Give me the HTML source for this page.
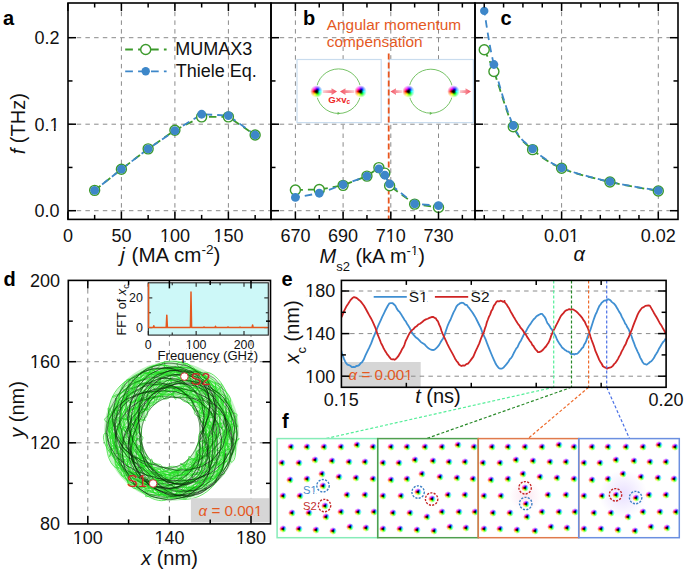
<!DOCTYPE html><html><head><meta charset="utf-8"><style>
html,body{margin:0;padding:0;background:#fff;}
#root{position:relative;width:685px;height:572px;overflow:hidden;background:#fff;font-family:"Liberation Sans", sans-serif;}
svg{position:absolute;left:0;top:0;}
svg text{font-family:"Liberation Sans", sans-serif;}
.sk{position:absolute;display:block;border-radius:50%;
background:radial-gradient(circle closest-side, #000 0%, rgba(0,0,0,0.88) 16%, rgba(0,0,0,0) 44%, rgba(255,255,255,0.2) 50%, rgba(255,255,255,1) 96%),
conic-gradient(#7a00ff 0deg, #0000ff 30deg, #00ffff 90deg, #00ff00 150deg, #ffff00 210deg, #ff0000 270deg, #ff00ff 330deg, #7a00ff 360deg);}
</style></head><body><div id="root"><svg width="685" height="572" viewBox="0 0 685 572"><line x1="68" y1="210.7" x2="271" y2="210.7" stroke="#8a8a8a" stroke-width="1" stroke-dasharray="4.5 4.2"/><line x1="68" y1="124.2" x2="271" y2="124.2" stroke="#8a8a8a" stroke-width="1" stroke-dasharray="4.5 4.2"/><line x1="68" y1="37.7" x2="271" y2="37.7" stroke="#8a8a8a" stroke-width="1" stroke-dasharray="4.5 4.2"/><line x1="121.4" y1="3" x2="121.4" y2="219.4" stroke="#8a8a8a" stroke-width="1" stroke-dasharray="4.5 4.2"/><line x1="174.9" y1="3" x2="174.9" y2="219.4" stroke="#8a8a8a" stroke-width="1" stroke-dasharray="4.5 4.2"/><line x1="228.4" y1="3" x2="228.4" y2="219.4" stroke="#8a8a8a" stroke-width="1" stroke-dasharray="4.5 4.2"/><polyline points="94.65,190.37 121.4,169.18 148.15,148.85 174.9,130.25 201.65,116.85 228.4,116.85 255.15,135.01" fill="none" stroke="#3c9a2c" stroke-width="1.8" stroke-dasharray="7.5 5" stroke-linejoin="round"/><polyline points="94.65,190.37 121.4,169.18 148.15,148.85 174.9,130.69 201.65,114.25 228.4,115.55 255.15,135.01" fill="none" stroke="#3d87c9" stroke-width="1.8" stroke-dasharray="7.5 5" stroke-linejoin="round" stroke-dashoffset="3"/><circle cx="94.65" cy="190.37" r="5" fill="#fff" stroke="#3c9a2c" stroke-width="1.4"/><circle cx="121.4" cy="169.18" r="5" fill="#fff" stroke="#3c9a2c" stroke-width="1.4"/><circle cx="148.15" cy="148.85" r="5" fill="#fff" stroke="#3c9a2c" stroke-width="1.4"/><circle cx="174.9" cy="130.25" r="5" fill="#fff" stroke="#3c9a2c" stroke-width="1.4"/><circle cx="201.65" cy="116.85" r="5" fill="#fff" stroke="#3c9a2c" stroke-width="1.4"/><circle cx="228.4" cy="116.85" r="5" fill="#fff" stroke="#3c9a2c" stroke-width="1.4"/><circle cx="255.15" cy="135.01" r="5" fill="#fff" stroke="#3c9a2c" stroke-width="1.4"/><circle cx="94.65" cy="190.37" r="4.4" fill="#3d87c9" stroke="none" stroke-width="1.3"/><circle cx="121.4" cy="169.18" r="4.4" fill="#3d87c9" stroke="none" stroke-width="1.3"/><circle cx="148.15" cy="148.85" r="4.4" fill="#3d87c9" stroke="none" stroke-width="1.3"/><circle cx="174.9" cy="130.69" r="4.4" fill="#3d87c9" stroke="none" stroke-width="1.3"/><circle cx="201.65" cy="114.25" r="4.4" fill="#3d87c9" stroke="none" stroke-width="1.3"/><circle cx="228.4" cy="115.55" r="4.4" fill="#3d87c9" stroke="none" stroke-width="1.3"/><circle cx="255.15" cy="135.01" r="4.4" fill="#3d87c9" stroke="none" stroke-width="1.3"/><line x1="125.2" y1="49.5" x2="166.6" y2="49.5" stroke="#3c9a2c" stroke-width="1.8" stroke-dasharray="7.7 5.2"/><circle cx="145.7" cy="49.5" r="5" fill="#fff" stroke="#3c9a2c" stroke-width="1.4"/><line x1="125.2" y1="71.3" x2="166.6" y2="71.3" stroke="#3d87c9" stroke-width="1.8" stroke-dasharray="7.7 5.2"/><circle cx="145.7" cy="71.3" r="4.2" fill="#3d87c9" stroke="none" stroke-width="1.3"/><text x="175.3" y="55.3" font-size="18" fill="#111">MUMAX3</text><text x="175.8" y="77.2" font-size="18" fill="#111">Thiele Eq.</text><line x1="67.9" y1="219.4" x2="67.9" y2="211.4" stroke="#000" stroke-width="1.5"/><line x1="67.9" y1="3" x2="67.9" y2="11" stroke="#000" stroke-width="1.5"/><line x1="121.4" y1="219.4" x2="121.4" y2="211.4" stroke="#000" stroke-width="1.5"/><line x1="121.4" y1="3" x2="121.4" y2="11" stroke="#000" stroke-width="1.5"/><line x1="174.9" y1="219.4" x2="174.9" y2="211.4" stroke="#000" stroke-width="1.5"/><line x1="174.9" y1="3" x2="174.9" y2="11" stroke="#000" stroke-width="1.5"/><line x1="228.4" y1="219.4" x2="228.4" y2="211.4" stroke="#000" stroke-width="1.5"/><line x1="228.4" y1="3" x2="228.4" y2="11" stroke="#000" stroke-width="1.5"/><line x1="94.65" y1="219.4" x2="94.65" y2="214.9" stroke="#000" stroke-width="1.5"/><line x1="94.65" y1="3" x2="94.65" y2="7.5" stroke="#000" stroke-width="1.5"/><line x1="148.15" y1="219.4" x2="148.15" y2="214.9" stroke="#000" stroke-width="1.5"/><line x1="148.15" y1="3" x2="148.15" y2="7.5" stroke="#000" stroke-width="1.5"/><line x1="201.65" y1="219.4" x2="201.65" y2="214.9" stroke="#000" stroke-width="1.5"/><line x1="201.65" y1="3" x2="201.65" y2="7.5" stroke="#000" stroke-width="1.5"/><line x1="255.15" y1="219.4" x2="255.15" y2="214.9" stroke="#000" stroke-width="1.5"/><line x1="255.15" y1="3" x2="255.15" y2="7.5" stroke="#000" stroke-width="1.5"/><line x1="68" y1="210.7" x2="76" y2="210.7" stroke="#000" stroke-width="1.5"/><line x1="68" y1="124.2" x2="76" y2="124.2" stroke="#000" stroke-width="1.5"/><line x1="68" y1="37.7" x2="76" y2="37.7" stroke="#000" stroke-width="1.5"/><line x1="68" y1="167.45" x2="72.5" y2="167.45" stroke="#000" stroke-width="1.5"/><line x1="68" y1="80.95" x2="72.5" y2="80.95" stroke="#000" stroke-width="1.5"/><text x="59.5" y="217.1" font-size="18" fill="#111" text-anchor="end">0.0</text><text x="59.5" y="130.6" font-size="18" fill="#111" text-anchor="end">0.1</text><text x="59.5" y="44.1" font-size="18" fill="#111" text-anchor="end">0.2</text><text x="67.9" y="241.8" font-size="18" fill="#111" text-anchor="middle">0</text><text x="121.4" y="241.8" font-size="18" fill="#111" text-anchor="middle">50</text><text x="174.9" y="241.8" font-size="18" fill="#111" text-anchor="middle">100</text><text x="228.4" y="241.8" font-size="18" fill="#111" text-anchor="middle">150</text><text x="3" y="25" font-size="20" fill="#000" font-weight="bold">a</text><text x="0" y="0" font-size="20" fill="#111" text-anchor="middle" transform="translate(25.3 123.7) rotate(-90)"><tspan font-style="italic">f</tspan> (THz)</text><text x="120.3" y="262.2" font-size="20.6" fill="#111"><tspan font-style="italic">j</tspan><tspan dx="1"> (MA cm</tspan><tspan dy="-8.5" font-size="13.5">-2</tspan><tspan dy="8.5">)</tspan></text><line x1="271" y1="210.7" x2="475" y2="210.7" stroke="#8a8a8a" stroke-width="1" stroke-dasharray="4.5 4.2"/><line x1="271" y1="124.2" x2="475" y2="124.2" stroke="#8a8a8a" stroke-width="1" stroke-dasharray="4.5 4.2"/><line x1="271" y1="37.7" x2="475" y2="37.7" stroke="#8a8a8a" stroke-width="1" stroke-dasharray="4.5 4.2"/><line x1="295.4" y1="3" x2="295.4" y2="219.4" stroke="#8a8a8a" stroke-width="1" stroke-dasharray="4.5 4.2"/><line x1="343.1" y1="3" x2="343.1" y2="219.4" stroke="#8a8a8a" stroke-width="1" stroke-dasharray="4.5 4.2"/><line x1="390.8" y1="3" x2="390.8" y2="219.4" stroke="#8a8a8a" stroke-width="1" stroke-dasharray="4.5 4.2"/><line x1="438.5" y1="3" x2="438.5" y2="219.4" stroke="#8a8a8a" stroke-width="1" stroke-dasharray="4.5 4.2"/><rect x="297" y="59.5" width="84.2" height="63.1" fill="#fff" stroke="#c9dcee" stroke-width="1.2"/><rect x="389.1" y="59.5" width="84.3" height="63.1" fill="#fff" stroke="#c9dcee" stroke-width="1.2"/><circle cx="338.6" cy="91.2" r="22.3" fill="none" stroke="#66bb55" stroke-width="0.9"/><circle cx="430.8" cy="91.2" r="22" fill="none" stroke="#66bb55" stroke-width="0.9"/><path d="M340.1,113.3 l-2.5,-1.6 l0,3.2z" fill="#66bb55"/><path d="M432.3,113.3 l-2.5,-1.6 l0,3.2z" fill="#66bb55"/><defs><linearGradient id="gR" x1="0" x2="1" y1="0" y2="0"><stop offset="0" stop-color="#f24a5a" stop-opacity="0.15"/><stop offset="1" stop-color="#f24a5a" stop-opacity="1"/></linearGradient><linearGradient id="gL" x1="1" x2="0" y1="0" y2="0"><stop offset="0" stop-color="#f24a5a" stop-opacity="0.15"/><stop offset="1" stop-color="#f24a5a" stop-opacity="1"/></linearGradient></defs><path d="M321,90.3 L331.5,90.3 L331.5,88.2 L337,91.6 L331.5,95 L331.5,92.9 L321,92.9 Z" fill="url(#gR)"/><path d="M356,90.3 L345.5,90.3 L345.5,88.2 L340,91.6 L345.5,95 L345.5,92.9 L356,92.9 Z" fill="url(#gL)"/><path d="M403,90.3 L396,90.3 L396,88.2 L390.5,91.6 L396,95 L396,92.9 L403,92.9 Z" fill="url(#gL)"/><path d="M458,90.3 L465.5,90.3 L465.5,88.2 L471,91.6 L465.5,95 L465.5,92.9 L458,92.9 Z" fill="url(#gR)"/><text x="328.2" y="102.6" font-size="9.6" fill="#ee2626" font-weight="bold">G×v<tspan font-size="6.5" dy="1.6">c</tspan></text><line x1="388.7" y1="53.5" x2="388.7" y2="219.4" stroke="#e8561e" stroke-width="1.8" stroke-dasharray="6 3"/><polyline points="295.4,189.94 319.25,189.51 343.1,185.36 366.95,176.1 378.88,167.62 384.84,173.16 389.61,185.7 414.65,204.13 438.5,207.41" fill="none" stroke="#3c9a2c" stroke-width="1.8" stroke-dasharray="7.5 5" stroke-linejoin="round"/><polyline points="295.4,197.47 319.25,193.23 343.1,184.75 366.95,176.1 378.88,168.83 384.84,175.23 389.61,183.88 414.65,203.87 438.5,205.68" fill="none" stroke="#3d87c9" stroke-width="1.8" stroke-dasharray="7.5 5" stroke-linejoin="round" stroke-dashoffset="3"/><circle cx="295.4" cy="189.94" r="5" fill="#fff" stroke="#3c9a2c" stroke-width="1.4"/><circle cx="319.25" cy="189.51" r="5" fill="#fff" stroke="#3c9a2c" stroke-width="1.4"/><circle cx="343.1" cy="185.36" r="5" fill="#fff" stroke="#3c9a2c" stroke-width="1.4"/><circle cx="366.95" cy="176.1" r="5" fill="#fff" stroke="#3c9a2c" stroke-width="1.4"/><circle cx="378.88" cy="167.62" r="5" fill="#fff" stroke="#3c9a2c" stroke-width="1.4"/><circle cx="384.84" cy="173.16" r="5" fill="#fff" stroke="#3c9a2c" stroke-width="1.4"/><circle cx="389.61" cy="185.7" r="5" fill="#fff" stroke="#3c9a2c" stroke-width="1.4"/><circle cx="414.65" cy="204.13" r="5" fill="#fff" stroke="#3c9a2c" stroke-width="1.4"/><circle cx="438.5" cy="207.41" r="5" fill="#fff" stroke="#3c9a2c" stroke-width="1.4"/><circle cx="295.4" cy="197.47" r="4.4" fill="#3d87c9" stroke="none" stroke-width="1.3"/><circle cx="319.25" cy="193.23" r="4.4" fill="#3d87c9" stroke="none" stroke-width="1.3"/><circle cx="343.1" cy="184.75" r="4.4" fill="#3d87c9" stroke="none" stroke-width="1.3"/><circle cx="366.95" cy="176.1" r="4.4" fill="#3d87c9" stroke="none" stroke-width="1.3"/><circle cx="378.88" cy="168.83" r="4.4" fill="#3d87c9" stroke="none" stroke-width="1.3"/><circle cx="384.84" cy="175.23" r="4.4" fill="#3d87c9" stroke="none" stroke-width="1.3"/><circle cx="389.61" cy="183.88" r="4.4" fill="#3d87c9" stroke="none" stroke-width="1.3"/><circle cx="414.65" cy="203.87" r="4.4" fill="#3d87c9" stroke="none" stroke-width="1.3"/><circle cx="438.5" cy="205.68" r="4.4" fill="#3d87c9" stroke="none" stroke-width="1.3"/><line x1="295.4" y1="219.4" x2="295.4" y2="211.4" stroke="#000" stroke-width="1.5"/><line x1="295.4" y1="3" x2="295.4" y2="11" stroke="#000" stroke-width="1.5"/><line x1="343.1" y1="219.4" x2="343.1" y2="211.4" stroke="#000" stroke-width="1.5"/><line x1="343.1" y1="3" x2="343.1" y2="11" stroke="#000" stroke-width="1.5"/><line x1="390.8" y1="219.4" x2="390.8" y2="211.4" stroke="#000" stroke-width="1.5"/><line x1="390.8" y1="3" x2="390.8" y2="11" stroke="#000" stroke-width="1.5"/><line x1="438.5" y1="219.4" x2="438.5" y2="211.4" stroke="#000" stroke-width="1.5"/><line x1="438.5" y1="3" x2="438.5" y2="11" stroke="#000" stroke-width="1.5"/><line x1="319.25" y1="219.4" x2="319.25" y2="214.9" stroke="#000" stroke-width="1.5"/><line x1="319.25" y1="3" x2="319.25" y2="7.5" stroke="#000" stroke-width="1.5"/><line x1="366.95" y1="219.4" x2="366.95" y2="214.9" stroke="#000" stroke-width="1.5"/><line x1="366.95" y1="3" x2="366.95" y2="7.5" stroke="#000" stroke-width="1.5"/><line x1="414.65" y1="219.4" x2="414.65" y2="214.9" stroke="#000" stroke-width="1.5"/><line x1="414.65" y1="3" x2="414.65" y2="7.5" stroke="#000" stroke-width="1.5"/><line x1="462.35" y1="219.4" x2="462.35" y2="214.9" stroke="#000" stroke-width="1.5"/><line x1="462.35" y1="3" x2="462.35" y2="7.5" stroke="#000" stroke-width="1.5"/><line x1="271" y1="210.7" x2="279" y2="210.7" stroke="#000" stroke-width="1.5"/><line x1="271" y1="124.2" x2="279" y2="124.2" stroke="#000" stroke-width="1.5"/><line x1="271" y1="37.7" x2="279" y2="37.7" stroke="#000" stroke-width="1.5"/><line x1="271" y1="167.45" x2="275.5" y2="167.45" stroke="#000" stroke-width="1.5"/><line x1="271" y1="80.95" x2="275.5" y2="80.95" stroke="#000" stroke-width="1.5"/><text x="295.4" y="241.8" font-size="18" fill="#111" text-anchor="middle">670</text><text x="343.1" y="241.8" font-size="18" fill="#111" text-anchor="middle">690</text><text x="390.8" y="241.8" font-size="18" fill="#111" text-anchor="middle">710</text><text x="438.5" y="241.8" font-size="18" fill="#111" text-anchor="middle">730</text><text x="303" y="24.9" font-size="20" fill="#000" font-weight="bold">b</text><text x="326.8" y="29.8" font-size="15.4" fill="#e4591f">Angular momentum</text><text x="326.8" y="47.2" font-size="15.4" fill="#e4591f">compensation</text><text x="319.5" y="263.2" font-size="20" fill="#111"><tspan font-style="italic">M</tspan><tspan font-size="13" dy="7.7">s2</tspan><tspan dy="-7.7"> (kA m</tspan><tspan dy="-8" font-size="13">-1</tspan><tspan dy="8">)</tspan></text><line x1="475" y1="210.7" x2="678" y2="210.7" stroke="#8a8a8a" stroke-width="1" stroke-dasharray="4.5 4.2"/><line x1="475" y1="124.2" x2="678" y2="124.2" stroke="#8a8a8a" stroke-width="1" stroke-dasharray="4.5 4.2"/><line x1="475" y1="37.7" x2="678" y2="37.7" stroke="#8a8a8a" stroke-width="1" stroke-dasharray="4.5 4.2"/><line x1="561.6" y1="3" x2="561.6" y2="219.4" stroke="#8a8a8a" stroke-width="1" stroke-dasharray="4.5 4.2"/><line x1="658.3" y1="3" x2="658.3" y2="219.4" stroke="#8a8a8a" stroke-width="1" stroke-dasharray="4.5 4.2"/><polyline points="484.24,49.81 484.68,50.75 485.18,51.77 485.75,52.91 486.39,54.17 487.09,55.58 487.87,57.16 488.71,58.94 489.61,60.93 490.59,63.15 491.63,65.63 492.73,68.38 493.91,71.43 495.18,74.97 496.57,79.09 498.07,83.67 499.64,88.59 501.28,93.76 502.98,99.04 504.7,104.33 506.45,109.5 508.19,114.45 509.91,119.06 511.61,123.21 513.25,126.79 514.83,129.85 516.36,132.53 517.86,134.89 519.34,136.97 520.82,138.83 522.32,140.51 523.85,142.06 525.43,143.53 527.08,144.98 528.81,146.44 530.64,147.98 532.59,149.63 534.61,151.35 536.64,153.04 538.71,154.71 540.83,156.35 543.01,157.96 545.28,159.55 547.65,161.1 550.14,162.61 552.76,164.09 555.53,165.54 558.47,166.95 561.6,168.31 564.95,169.64 568.54,170.94 572.33,172.19 576.28,173.42 580.37,174.6 584.57,175.75 588.82,176.87 593.12,177.96 597.41,179.01 601.67,180.03 605.86,181.02 609.95,181.98 614.13,182.92 618.57,183.86 623.17,184.77 627.86,185.66 632.54,186.52 637.15,187.33 641.58,188.1 645.76,188.82 649.61,189.47 653.04,190.05 655.96,190.56 658.3,190.98" fill="none" stroke="#3c9a2c" stroke-width="1.8" stroke-dasharray="7.5 5" stroke-linejoin="round"/><polyline points="484.24,10.88 484.68,13.45 485.18,16.63 485.75,20.35 486.39,24.52 487.09,29.06 487.87,33.89 488.71,38.93 489.61,44.11 490.59,49.33 491.63,54.53 492.73,59.62 493.91,64.51 495.18,69.46 496.57,74.69 498.07,80.13 499.64,85.69 501.28,91.31 502.98,96.9 504.7,102.38 506.45,107.68 508.19,112.73 509.91,117.43 511.61,121.71 513.25,125.5 514.83,128.77 516.36,131.62 517.86,134.08 519.34,136.23 520.82,138.12 522.32,139.8 523.85,141.33 525.43,142.78 527.08,144.2 528.81,145.65 530.64,147.18 532.59,148.85 534.61,150.61 536.64,152.33 538.71,154.04 540.83,155.71 543.01,157.35 545.28,158.96 547.65,160.54 550.14,162.08 552.76,163.59 555.53,165.06 558.47,166.49 561.6,167.88 564.95,169.23 568.54,170.55 572.33,171.82 576.28,173.06 580.37,174.27 584.57,175.44 588.82,176.57 593.12,177.67 597.41,178.73 601.67,179.76 605.86,180.76 609.95,181.72 614.13,182.67 618.57,183.6 623.17,184.51 627.86,185.39 632.54,186.24 637.15,187.04 641.58,187.8 645.76,188.5 649.61,189.15 653.04,189.72 655.96,190.22 658.3,190.63" fill="none" stroke="#3d87c9" stroke-width="1.8" stroke-dasharray="7.5 5" stroke-linejoin="round" stroke-dashoffset="3"/><circle cx="484.24" cy="49.81" r="5" fill="#fff" stroke="#3c9a2c" stroke-width="1.4"/><circle cx="493.91" cy="71.43" r="5" fill="#fff" stroke="#3c9a2c" stroke-width="1.4"/><circle cx="513.25" cy="126.79" r="5" fill="#fff" stroke="#3c9a2c" stroke-width="1.4"/><circle cx="532.59" cy="149.63" r="5" fill="#fff" stroke="#3c9a2c" stroke-width="1.4"/><circle cx="561.6" cy="168.31" r="5" fill="#fff" stroke="#3c9a2c" stroke-width="1.4"/><circle cx="609.95" cy="181.98" r="5" fill="#fff" stroke="#3c9a2c" stroke-width="1.4"/><circle cx="658.3" cy="190.98" r="5" fill="#fff" stroke="#3c9a2c" stroke-width="1.4"/><circle cx="484.24" cy="10.88" r="4.2" fill="#3d87c9" stroke="none" stroke-width="1.3"/><circle cx="493.91" cy="64.51" r="4.4" fill="#3d87c9" stroke="none" stroke-width="1.3"/><circle cx="513.25" cy="125.5" r="4.4" fill="#3d87c9" stroke="none" stroke-width="1.3"/><circle cx="532.59" cy="148.85" r="4.4" fill="#3d87c9" stroke="none" stroke-width="1.3"/><circle cx="561.6" cy="167.88" r="4.4" fill="#3d87c9" stroke="none" stroke-width="1.3"/><circle cx="609.95" cy="181.72" r="4.4" fill="#3d87c9" stroke="none" stroke-width="1.3"/><circle cx="658.3" cy="190.63" r="4.4" fill="#3d87c9" stroke="none" stroke-width="1.3"/><line x1="561.6" y1="219.4" x2="561.6" y2="211.4" stroke="#000" stroke-width="1.5"/><line x1="561.6" y1="3" x2="561.6" y2="11" stroke="#000" stroke-width="1.5"/><line x1="658.3" y1="219.4" x2="658.3" y2="211.4" stroke="#000" stroke-width="1.5"/><line x1="658.3" y1="3" x2="658.3" y2="11" stroke="#000" stroke-width="1.5"/><line x1="484.24" y1="219.4" x2="484.24" y2="214.9" stroke="#000" stroke-width="1.5"/><line x1="484.24" y1="3" x2="484.24" y2="7.5" stroke="#000" stroke-width="1.5"/><line x1="503.58" y1="219.4" x2="503.58" y2="214.9" stroke="#000" stroke-width="1.5"/><line x1="503.58" y1="3" x2="503.58" y2="7.5" stroke="#000" stroke-width="1.5"/><line x1="522.92" y1="219.4" x2="522.92" y2="214.9" stroke="#000" stroke-width="1.5"/><line x1="522.92" y1="3" x2="522.92" y2="7.5" stroke="#000" stroke-width="1.5"/><line x1="542.26" y1="219.4" x2="542.26" y2="214.9" stroke="#000" stroke-width="1.5"/><line x1="542.26" y1="3" x2="542.26" y2="7.5" stroke="#000" stroke-width="1.5"/><line x1="580.94" y1="219.4" x2="580.94" y2="214.9" stroke="#000" stroke-width="1.5"/><line x1="580.94" y1="3" x2="580.94" y2="7.5" stroke="#000" stroke-width="1.5"/><line x1="600.28" y1="219.4" x2="600.28" y2="214.9" stroke="#000" stroke-width="1.5"/><line x1="600.28" y1="3" x2="600.28" y2="7.5" stroke="#000" stroke-width="1.5"/><line x1="619.62" y1="219.4" x2="619.62" y2="214.9" stroke="#000" stroke-width="1.5"/><line x1="619.62" y1="3" x2="619.62" y2="7.5" stroke="#000" stroke-width="1.5"/><line x1="638.96" y1="219.4" x2="638.96" y2="214.9" stroke="#000" stroke-width="1.5"/><line x1="638.96" y1="3" x2="638.96" y2="7.5" stroke="#000" stroke-width="1.5"/><line x1="475" y1="210.7" x2="483" y2="210.7" stroke="#000" stroke-width="1.5"/><line x1="678" y1="210.7" x2="670" y2="210.7" stroke="#000" stroke-width="1.5"/><line x1="475" y1="124.2" x2="483" y2="124.2" stroke="#000" stroke-width="1.5"/><line x1="678" y1="124.2" x2="670" y2="124.2" stroke="#000" stroke-width="1.5"/><line x1="475" y1="37.7" x2="483" y2="37.7" stroke="#000" stroke-width="1.5"/><line x1="678" y1="37.7" x2="670" y2="37.7" stroke="#000" stroke-width="1.5"/><line x1="475" y1="167.45" x2="479.5" y2="167.45" stroke="#000" stroke-width="1.5"/><line x1="678" y1="167.45" x2="673.5" y2="167.45" stroke="#000" stroke-width="1.5"/><line x1="475" y1="80.95" x2="479.5" y2="80.95" stroke="#000" stroke-width="1.5"/><line x1="678" y1="80.95" x2="673.5" y2="80.95" stroke="#000" stroke-width="1.5"/><text x="561.6" y="241.8" font-size="18" fill="#111" text-anchor="middle">0.01</text><text x="658.3" y="241.8" font-size="18" fill="#111" text-anchor="middle">0.02</text><text x="500.5" y="24.6" font-size="20" fill="#000" font-weight="bold">c</text><text x="579.2" y="260.5" font-size="20" fill="#111" text-anchor="middle" font-style="italic">α</text><rect x="68" y="3" width="203" height="216.4" fill="none" stroke="#000" stroke-width="1.6"/><rect x="271" y="3" width="204" height="216.4" fill="none" stroke="#000" stroke-width="1.6"/><rect x="475" y="3" width="203" height="216.4" fill="none" stroke="#000" stroke-width="1.6"/><line x1="87.8" y1="280.4" x2="87.8" y2="523.9" stroke="#8a8a8a" stroke-width="1" stroke-dasharray="4.5 4.2"/><line x1="169.4" y1="280.4" x2="169.4" y2="523.9" stroke="#8a8a8a" stroke-width="1" stroke-dasharray="4.5 4.2"/><line x1="251" y1="280.4" x2="251" y2="523.9" stroke="#8a8a8a" stroke-width="1" stroke-dasharray="4.5 4.2"/><line x1="68.3" y1="442.8" x2="270.5" y2="442.8" stroke="#8a8a8a" stroke-width="1" stroke-dasharray="4.5 4.2"/><line x1="68.3" y1="361.7" x2="270.5" y2="361.7" stroke="#8a8a8a" stroke-width="1" stroke-dasharray="4.5 4.2"/><path fill-rule="evenodd" fill="#c6f3c6" d="M239,432.6 L238.8,436.2 L238.5,439.7 L238,443.3 L237.3,446.8 L236.4,450.2 L235.4,453.7 L234.2,457 L232.8,460.3 L231.3,463.5 L229.6,466.6 L227.7,469.7 L225.7,472.6 L223.6,475.5 L221.3,478.2 L218.8,480.8 L216.2,483.3 L213.5,485.6 L210.7,487.8 L207.8,489.9 L204.8,491.8 L201.6,493.5 L198.4,495 L195.1,496.4 L191.7,497.6 L188.3,498.6 L184.8,499.4 L181.3,500.1 L177.7,500.5 L174.2,500.8 L170.6,500.8 L167,500.6 L163.5,500.3 L160,499.8 L156.5,499 L153,498.1 L149.7,497 L146.4,495.7 L143.1,494.3 L140,492.7 L136.9,490.9 L134,489 L131.2,486.9 L128.4,484.7 L125.8,482.3 L123.4,479.8 L121,477.2 L118.9,474.5 L116.8,471.7 L114.9,468.8 L113.1,465.8 L111.5,462.7 L110.1,459.6 L108.8,456.3 L107.6,453.1 L106.6,449.7 L105.8,446.4 L105.2,443 L104.7,439.5 L104.4,436.1 L104.2,432.6 L104.2,429.1 L104.4,425.6 L104.7,422.2 L105.3,418.7 L105.9,415.3 L106.8,411.9 L107.8,408.5 L109,405.2 L110.4,401.9 L111.9,398.7 L113.6,395.6 L115.5,392.5 L117.5,389.6 L119.7,386.7 L122,384 L124.5,381.4 L127.1,378.9 L129.8,376.5 L132.7,374.3 L135.7,372.2 L138.9,370.3 L142.1,368.6 L145.4,367 L148.8,365.6 L152.3,364.5 L155.9,363.5 L159.5,362.7 L163.2,362.1 L166.9,361.8 L170.6,361.6 L174.3,361.7 L178,361.9 L181.7,362.4 L185.4,363.1 L189,364 L192.5,365.1 L196,366.3 L199.4,367.8 L202.8,369.5 L206,371.3 L209.1,373.4 L212.1,375.5 L214.9,377.9 L217.6,380.4 L220.2,383 L222.6,385.7 L224.9,388.6 L227,391.6 L229,394.7 L230.8,397.9 L232.4,401.1 L233.8,404.4 L235.1,407.8 L236.2,411.3 L237.1,414.8 L237.9,418.3 L238.4,421.9 L238.8,425.4 L239,429 Z M199.4,432.6 L199.2,434.1 L199.1,435.6 L198.9,437.1 L198.6,438.5 L198.3,440 L197.9,441.5 L197.4,442.9 L197,444.3 L196.4,445.8 L195.8,447.2 L195.2,448.6 L194.5,449.9 L193.7,451.3 L192.9,452.7 L192,454 L191,455.3 L190,456.6 L188.9,457.8 L187.7,459 L186.5,460.1 L185.2,461.2 L183.8,462.3 L182.4,463.2 L180.8,464.1 L179.3,464.9 L177.6,465.6 L175.9,466.2 L174.2,466.7 L172.4,467.1 L170.6,467.3 L168.8,467.4 L166.9,467.4 L165.1,467.2 L163.3,466.8 L161.6,466.4 L159.8,465.8 L158.2,465 L156.6,464.2 L155,463.2 L153.6,462.1 L152.2,460.9 L150.9,459.7 L149.7,458.4 L148.6,457 L147.6,455.6 L146.7,454.1 L145.9,452.6 L145.1,451.1 L144.5,449.6 L143.9,448 L143.4,446.5 L142.9,444.9 L142.6,443.4 L142.3,441.8 L142.1,440.2 L141.9,438.7 L141.8,437.2 L141.8,435.6 L141.8,434.1 L141.8,432.6 L142,431.1 L142.1,429.6 L142.3,428.1 L142.6,426.7 L142.9,425.2 L143.3,423.7 L143.8,422.3 L144.2,420.9 L144.8,419.4 L145.4,418 L146,416.6 L146.7,415.3 L147.5,413.9 L148.3,412.5 L149.2,411.2 L150.2,409.9 L151.2,408.6 L152.3,407.4 L153.5,406.2 L154.7,405.1 L156,404 L157.4,402.9 L158.8,402 L160.4,401.1 L161.9,400.3 L163.6,399.6 L165.3,399 L167,398.5 L168.8,398.1 L170.6,397.9 L172.4,397.8 L174.3,397.8 L176.1,398 L177.9,398.4 L179.6,398.8 L181.4,399.4 L183,400.2 L184.6,401 L186.2,402 L187.6,403.1 L189,404.3 L190.3,405.5 L191.5,406.8 L192.6,408.2 L193.6,409.6 L194.5,411.1 L195.3,412.6 L196.1,414.1 L196.7,415.6 L197.3,417.2 L197.8,418.7 L198.3,420.3 L198.6,421.8 L198.9,423.4 L199.1,425 L199.3,426.5 L199.4,428 L199.4,429.6 L199.4,431.1 Z"/><polyline points="227.9,432.6 227.9,436.4 227.5,440 226.8,443.4 225.7,446.5 224.5,449.3 223.2,451.5 221.9,453.3 220.8,454.6 219.8,455.5 219.2,456 219,456.2 219.1,456.2 219.6,456 220.4,455.7 221.5,455.4 222.8,455.2 224.1,454.9 225.5,454.8 226.8,454.6 227.9,454.4 228.8,454.2 229.4,453.8 229.7,453.3 229.8,452.5 229.6,451.6 229.3,450.4 228.9,449 228.5,447.4 228.1,445.7 227.8,444 227.8,442.3 228,440.9 228.4,439.7 229,438.9 229.8,438.7 230.6,438.9 231.5,439.8 232.3,441.2 233,443.2 233.3,445.7 233.3,448.6 232.9,451.9 232,455.4 230.7,459 229,462.5 226.8,465.9 224.4,469 221.7,471.8 218.9,474.2 216.2,476.2 213.5,477.9 211.1,479.2 208.9,480.2 207.1,481 205.7,481.7 204.7,482.3 204,482.9 203.6,483.5 203.5,484.3 203.6,485.1 203.9,485.9 204.2,486.8 204.5,487.7 204.8,488.4 205,488.9 205.2,489.2 205.4,489.1 205.6,488.6 205.8,487.8 206.1,486.6 206.6,485.1 207.2,483.2 207.9,481.2 208.9,479.1 210.1,477.1 211.3,475.1 212.7,473.5 214.1,472.2 215.4,471.3 216.6,470.9 217.5,471 218.1,471.5 218.3,472.4 218,473.8 217.2,475.3 215.9,477.1 214.2,478.9 212,480.7 209.4,482.4 206.5,483.9 203.3,485.1 200.1,486.1 196.9,486.8 193.7,487.2 190.7,487.5 187.9,487.6 185.3,487.5 182.9,487.5 180.9,487.5 179,487.5 177.4,487.7 175.9,488 174.5,488.4 173.2,489 171.9,489.6 170.6,490.3 169.4,490.9 168.2,491.4 167.1,491.8 166.1,492 165.3,491.9 164.8,491.5 164.6,491 164.7,490.1 165.2,489.1 166.2,488 167.5,486.8 169.3,485.6 171.2,484.5 173.4,483.5 175.7,482.8 178,482.3 180.1,482 182,482 183.5,482.3 184.6,482.7 185.3,483.2 185.4,483.7 185,484.3 184.2,484.7 183,485 181.4,485.1 179.5,485 177.5,484.6 175.3,484 173.2,483.2 171.1,482.3 169.1,481.3 167.2,480.2 165.5,479.1 163.9,478.1 162.4,477.2 160.9,476.3 159.5,475.7 158.1,475.1 156.6,474.7 155,474.3 153.4,473.9 151.7,473.6 149.9,473.2 148.1,472.7 146.4,472.1 144.7,471.3 143.1,470.4 141.9,469.3 140.9,468.2 140.3,467 140,465.9 140.2,464.9 140.8,464 141.8,463.4 143.1,463.1 144.7,463.1 146.4,463.4 148.3,464.1 150,465 151.7,466.2 153.2,467.5 154.3,468.9 155.2,470.2 155.8,471.5 156,472.5 156,473.2 155.7,473.6 155.2,473.6 154.6,473.3 153.9,472.7 153.2,471.8 152.6,470.6 152.1,469.3 151.7,467.9 151.4,466.5 151.2,465.1 151,463.9 150.8,462.8 150.6,461.8 150.2,460.9 149.7,460.2 149,459.5 148.1,458.9 147,458.2 145.8,457.4 144.3,456.5 142.8,455.4 141.3,454.1 139.8,452.6 138.4,450.9 137.2,449.1 136.3,447.2 135.7,445.3 135.4,443.5 135.4,441.8 135.8,440.4 136.4,439.3 137.2,438.7 138.1,438.4 139,438.6 139.9,439.3 140.7,440.3 141.3,441.6 141.7,443.2 141.9,444.9 141.7,446.6 141.4,448.3 140.9,449.8 140.2,451.1 139.5,452.1 138.8,452.8 138.2,453.1 137.8,453.2 137.5,453 137.5,452.5 137.6,452 138,451.4 138.5,450.8 139.2,450.2 139.8,449.7 140.5,449.3 140.9,449.1 141.2,448.9 141.3,448.7 141,448.5 140.5,448.2 139.6,447.7 138.6,446.9 137.3,445.9 135.9,444.6 134.5,442.9 133.2,440.9 132,438.6 131.1,436 130.4,433.4 130.1,430.6 130.1,428 130.4,425.5 131,423.2 131.8,421.3 132.7,419.8 133.6,418.8 134.4,418.2 135.1,418.1 135.6,418.3 135.8,418.9 135.6,419.7 135.1,420.8 134.3,421.9 133.2,423 131.9,424 130.5,424.9 129,425.6 127.7,426.2 126.4,426.6 125.5,426.9 124.8,427.1 124.3,427.2 124.2,427.3 124.4,427.5 124.8,427.8 125.4,428.3 126,428.8 126.6,429.5 127.1,430.2 127.4,430.9 127.5,431.5 127.3,432 126.8,432.2 126.1,432 125.3,431.5 124.2,430.5 123.2,429.1 122.2,427.1 121.3,424.6 120.7,421.8 120.4,418.6 120.6,415.2 121.1,411.7 122.1,408.2 123.4,404.8 125.1,401.7 127,398.9 129.1,396.5 131.1,394.5 133.1,392.9 134.9,391.8 136.4,391 137.5,390.5 138.1,390.3 138.4,390.1 138.2,390 137.6,390 136.7,389.8 135.5,389.6 134.2,389.3 132.9,388.9 131.5,388.4 130.3,388 129.2,387.7 128.2,387.6 127.5,387.6 127,388 126.7,388.6 126.4,389.5 126.2,390.7 126,392.2 125.8,393.8 125.4,395.4 124.9,397 124.2,398.5 123.4,399.7 122.6,400.5 121.6,400.9 120.7,400.8 120,400.1 119.5,398.9 119.2,397.1 119.4,395 120.1,392.4 121.2,389.6 122.9,386.7 125.1,383.7 127.7,380.8 130.8,378.2 134.1,375.8 137.7,373.9 141.4,372.3 145,371.1 148.4,370.2 151.6,369.7 154.5,369.5 157,369.4 159.1,369.3 160.8,369.3 162.1,369.1 163.1,368.8 163.7,368.3 164.2,367.7 164.5,366.9 164.6,365.9 164.7,364.9 164.7,364 164.7,363.1 164.6,362.5 164.5,362.1 164.2,362 163.7,362.2 163,362.8 162.1,363.7 160.9,364.9 159.5,366.3 157.8,367.7 155.9,369.2 153.8,370.5 151.8,371.7 149.7,372.6 147.8,373.2 146.2,373.4 144.9,373.3 144.1,372.8 143.8,372 144,371 144.9,369.8 146.4,368.6 148.4,367.5 150.9,366.5 153.8,365.7 157.1,365.3 160.6,365.1 164.2,365.2 167.8,365.7 171.4,366.5 174.7,367.5 177.9,368.7 180.7,370 183.4,371.3 185.7,372.5 187.8,373.7 189.6,374.6 191.4,375.4 193,376 194.5,376.4 196,376.6 197.4,376.8 198.9,376.8 200.3,376.9 201.6,377 202.7,377.2 203.7,377.5 204.3,377.8 204.6,378.3 204.5,378.9 204,379.5 203,380.1 201.6,380.6 199.8,381 197.6,381.2 195.3,381.2 192.8,381 190.3,380.6 187.9,380 185.8,379.2 184,378.3 182.6,377.4 181.7,376.5 181.3,375.7 181.4,375.1 181.9,374.8 182.9,374.8 184.2,375.1 185.7,375.8 187.4,376.9 189.2,378.3 191,379.9 192.7,381.8 194.2,383.8 195.7,386 196.9,388.1 198.1,390.2 199.1,392.2 200,394.1 200.9,395.8 201.8,397.3 202.7,398.7 203.7,400 204.8,401.3 206,402.4 207.3,403.6 208.6,404.9 209.9,406.2 211.1,407.6 212.2,409.1 213.1,410.6 213.7,412.1 214.1,413.6 214.1,414.9 213.7,416.1 213,416.9 212,417.5 210.7,417.6 209.3,417.4 207.8,416.7 206.3,415.7 204.9,414.4 203.6,412.8 202.5,411.1 201.7,409.3 201.2,407.6 200.9,406 200.9,404.7 201.1,403.7 201.4,403.1 201.9,402.9 202.3,403.1 202.7,403.7 203,404.6 203.1,405.8 203.1,407.2 202.9,408.7 202.5,410.2 202,411.7 201.5,413.1 201,414.4 200.5,415.6 200.1,416.6 199.9,417.5 199.9,418.4 200.1,419.2 200.5,420.1 201.1,421.1 201.8,422.2 202.7,423.5 203.6,425 204.4,426.8 205.1,428.6 205.7,430.6 206,432.7 206,434.7 205.8,436.7 205.3,438.4 204.6,439.8 203.6,440.9 202.6,441.6 201.6,441.8 200.6,441.6 199.7,441 199,440.1 198.6,438.8 198.5,437.4 198.7,435.8 199.2,434.2 199.9,432.8 200.8,431.5 201.7,430.4 202.7,429.6 203.7,429.1 204.5,428.8 205.1,428.9 205.4,429.1 205.5,429.5 205.3,430 204.9,430.4 204.2,430.9 203.4,431.3 202.6,431.5 201.7,431.7 201,431.7 200.4,431.7 200.1,431.7 200,431.7 200.1,431.9 200.5,432.2 201.1,432.9 201.9,433.8 202.7,435.1 203.5,436.8 204.1,438.7 204.6,441 204.9,443.5 204.8,446.1 204.4,448.7 203.7,451.2 202.7,453.6 201.4,455.6 200.1,457.4 198.6,458.7 197.2,459.7 196,460.2 195,460.3 194.3,460.2 194,459.7 194.1,459.1 194.6,458.4 195.5,457.6 196.7,457 198.1,456.4 199.6,456 201.2,455.8 202.8,455.8 204.2,455.8 205.4,456 206.3,456.2 207,456.4 207.3,456.5 207.4,456.5 207.3,456.3 207,455.9 206.7,455.4 206.3,454.7 206,453.9 205.9,453.1 205.9,452.3 206.1,451.8 206.5,451.4 207,451.4 207.6,451.8 208.3,452.6 208.8,453.9 209.2,455.7 209.4,457.9 209.2,460.4 208.6,463.1 207.5,466.1 206.1,469 204.1,471.9 201.8,474.6 199.2,477 196.4,479 193.5,480.6 190.7,481.8 188,482.6 185.6,483.1 183.5,483.2 181.9,483.2 180.7,483.1 180,482.9 179.8,482.9 179.9,482.9 180.5,483.2 181.2,483.7 182.2,484.4 183.3,485.3 184.3,486.3 185.4,487.4 186.3,488.3 187.2,489.2 188,489.9 188.6,490.2 189.2,490.3 189.8,490 190.4,489.5 191.1,488.6 191.9,487.5 192.8,486.3 193.9,485.1 195,484 196.3,483 197.5,482.3 198.6,482 199.6,482.1 200.4,482.6 200.8,483.6 200.7,484.9 200.2,486.5 199.1,488.4 197.4,490.4 195.1,492.3 192.3,494.2 189,495.8 185.4,497 181.5,497.9 177.5,498.4 173.4,498.4 169.5,498.1 165.8,497.4 162.4,496.4 159.4,495.2 156.8,494 154.6,492.9 152.9,491.8 151.5,491 150.4,490.5 149.5,490.3 148.8,490.4 148.3,490.8 147.7,491.4 147.2,492.2 146.7,493.1 146.3,494 145.9,494.9 145.7,495.7 145.6,496.2 145.7,496.6 146.2,496.7 146.9,496.7 148,496.4 149.5,496.1 151.3,495.7 153.4,495.3 155.6,494.9 157.9,494.8 160.3,494.8 162.5,495 164.4,495.4 165.9,496.1 167,496.9 167.5,497.7 167.4,498.6 166.7,499.5 165.5,500.1 163.6,500.5 161.3,500.7 158.6,500.4 155.6,499.7 152.5,498.6 149.3,497.1 146.2,495.2 143.2,493.1 140.4,490.7 137.9,488.2 135.7,485.6 133.8,483.1 132.1,480.7 130.7,478.4 129.4,476.5 128.3,474.8 127.2,473.3 126.1,472.1 125,471.2 123.8,470.4 122.5,469.7 121.3,469.1 120.1,468.5 118.9,467.9 117.9,467.3 117.2,466.7 116.7,466.1 116.6,465.6 116.9,465.2 117.6,464.9 118.7,464.8 120.1,465 121.9,465.4 123.8,466.2 125.9,467.2 128,468.5 130,470 131.8,471.6 133.3,473.3 134.5,474.9 135.3,476.4 135.7,477.7 135.7,478.6 135.3,479.1 134.6,479.2 133.8,478.8 132.7,478 131.6,476.6 130.6,474.9 129.6,472.9 128.7,470.6 128.1,468.1 127.6,465.5 127.3,462.9 127.1,460.4 127,457.9 127,455.7 127,453.6 127,451.7 126.8,449.9 126.6,448.3 126.2,446.7 125.6,445.1 125,443.6 124.3,442 123.5,440.3 122.8,438.6 122.2,436.8 121.8,435 121.6,433.3 121.6,431.6 121.9,430.2 122.5,429 123.3,428.1 124.4,427.6 125.6,427.6 126.8,428 128.1,428.9 129.3,430.1 130.3,431.7 131.2,433.5 131.8,435.5 132.1,437.5 132.2,439.5 132,441.3 131.7,442.8 131.3,444 130.8,444.8 130.3,445.2 129.9,445.2 129.6,444.8 129.6,444.1 129.7,443.1 130.2,441.9 130.8,440.7 131.7,439.4 132.6,438.1 133.7,437 134.8,435.9 135.8,435 136.7,434.2 137.5,433.5 138,432.7 138.3,432 138.4,431.2 138.3,430.2 138.1,429 137.8,427.7 137.4,426.1 137.2,424.3 137.1,422.3 137.1,420.3 137.4,418.1 138,416.1 138.8,414.2 139.8,412.5 141,411.1 142.2,410.1 143.6,409.5 144.8,409.3 145.9,409.6 146.8,410.2 147.4,411.2 147.6,412.5 147.6,413.8 147.2,415.3 146.4,416.7 145.5,418.1 144.4,419.2 143.1,420.1 141.9,420.8 140.8,421.2 139.9,421.3 139.2,421.2 138.9,421 138.8,420.6 139,420.3 139.5,419.9 140.2,419.7 141.1,419.6 142.1,419.6 143,419.7 143.8,420 144.6,420.2 145.1,420.5 145.4,420.7 145.4,420.7 145.3,420.5 145,420.1 144.7,419.2 144.3,418.1 144,416.5 143.9,414.7 144.1,412.6 144.5,410.3 145.2,407.9 146.3,405.5 147.8,403.3 149.4,401.3 151.3,399.5 153.3,398.1 155.3,397.1 157.2,396.5 158.8,396.2 160.2,396.3 161.2,396.7 161.7,397.2 161.8,397.7 161.5,398.3 160.8,398.8 159.7,399.2 158.4,399.3 156.9,399.3 155.3,399.1 153.8,398.6 152.4,398.1 151.2,397.5 150.2,396.9 149.5,396.4 149.1,396 148.9,395.8 148.8,395.9 149,396.1 149.1,396.6 149.3,397.3 149.4,398.1 149.4,399 149.3,399.8 149,400.4 148.6,400.9 148.1,401 147.6,400.8 147.2,400.2 146.9,399.1 146.9,397.7 147.2,395.9 148,393.9 149.2,391.7 150.9,389.4 153,387.2 155.6,385.1 158.5,383.3 161.7,381.9 165.1,380.9 168.4,380.4 171.7,380.2 174.8,380.4 177.5,381 179.8,381.7 181.7,382.6 183.1,383.4 184.1,384.1 184.6,384.6 184.7,384.9 184.6,384.7 184.2,384.3 183.7,383.5 183.1,382.4 182.5,381.1 182,379.7 181.5,378.2 181.1,376.8 180.7,375.5 180.4,374.5 180,373.7 179.5,373.3 178.9,373.1 178.1,373.3 177.1,373.7 176,374.2 174.7,374.9 173.3,375.5 171.8,375.9 170.3,376.2 168.9,376.3 167.8,376 166.9,375.5 166.5,374.6 166.6,373.6 167.2,372.4 168.4,371.1 170.2,369.9 172.6,368.9 175.5,368.1 178.9,367.6 182.5,367.6 186.4,368.1 190.3,369 194.2,370.4 197.8,372.2 201.2,374.3 204.2,376.6 206.9,379 209.1,381.4 210.9,383.7 212.3,385.7 213.4,387.5 214.3,388.8 215.1,389.8 215.8,390.3 216.4,390.5 217.1,390.4 217.9,390 218.7,389.4 219.6,388.7 220.5,388 221.2,387.3 221.8,386.6 222.2,386 222.3,385.5 222.1,385.1 221.4,384.7 220.4,384.3 219,383.9 217.3,383.3 215.3,382.7 213.2,381.9 211,380.9 209,379.8 207.1,378.6 205.6,377.3 204.6,375.9 204,374.7 203.9,373.6 204.4,372.8 205.4,372.3 206.9,372.3 208.8,372.7 211.1,373.6 213.5,375.1 215.9,377 218.4,379.5 220.7,382.3 222.8,385.5 224.7,388.9 226.2,392.4 227.5,395.9 228.4,399.3 229.1,402.6 229.6,405.7 230,408.4 230.3,410.9 230.6,413.1 231,415 231.5,416.7 232.1,418.1 232.8,419.4 233.6,420.6 234.5,421.8 235.4,422.8 236.2,423.9 236.9,424.8 237.4,425.6 237.6,426.3 237.5,426.8 237.1,427 236.4,426.8 235.4,426.4 234.2,425.5 232.9,424.2 231.4,422.6 230,420.7 228.7,418.5 227.5,416.2 226.6,413.9 225.9,411.6 225.5,409.5 225.4,407.8 225.6,406.4 226,405.5 226.5,405.2 227.2,405.4 227.8,406.2 228.4,407.4 228.8,409.1 229,411.2 229.1,413.6 228.9,416.2 228.4,418.9 227.8,421.6 227,424.3 226,426.8 225.1,429.2 224.1,431.5 223.2,433.6 222.4,435.5 221.7,437.4 221.2,439.2 220.8,441 220.6,442.8 220.5,444.7 220.4,446.6 220.3,448.5 220.1,450.5 219.8,452.5 219.4,454.4 218.9,456.1 218.1,457.6 217.2,458.8 216.2,459.7 215,460.1 213.9,460 212.8,459.5 211.9,458.5 211.1,457.1 210.6,455.4 210.3,453.4 210.3,451.2 210.6,449 211.1,446.9 211.8,444.9 212.7,443.2 213.6,441.9 214.4,440.9 215.2,440.3 215.7,440 216,440.2 216,440.6 215.7,441.2 215.1,442 214.1,442.9 213,443.8 211.6,444.7 210.2,445.5 208.7,446.1 207.2,446.7 205.9,447.2 204.7,447.7 203.7,448.2 202.8,448.8 202.2,449.5 201.7,450.4 201.3,451.5 201,452.8 200.6,454.3 200.1,456.1 199.5,458 198.6,459.9 197.6,461.9 196.3,463.8 194.8,465.5 193.1,467 191.4,468.2 189.6,468.9 188,469.3 186.5,469.3 185.2,468.9 184.3,468.1 183.8,467.1 183.6,465.9 183.9,464.6 184.6,463.3 185.6,462 186.9,460.9 188.4,460 189.9,459.3 191.4,458.8 192.8,458.6 194,458.6 194.9,458.7 195.4,458.9 195.6,459.2 195.5,459.4 195.1,459.5 194.5,459.5 193.7,459.3 192.8,459 191.8,458.6 191,458 190.3,457.4 189.7,456.9 189.3,456.4 189,456.2 188.9,456.2 188.9,456.4 188.8,457.1 188.7,458 188.5,459.3 188,460.8 187.1,462.6 186,464.4 184.5,466.3 182.7,468 180.5,469.6 178.2,470.9 175.7,471.8 173.1,472.4 170.6,472.6 168.4,472.4 166.4,471.9 164.7,471.2 163.5,470.3 162.8,469.4 162.5,468.6 162.7,467.8 163.3,467.3 164.2,467.1 165.3,467.2 166.6,467.6 167.9,468.2 169.3,469.1 170.5,470.2 171.5,471.3 172.3,472.4 173,473.4 173.4,474.2 173.6,474.8 173.7,475 173.7,475 173.7,474.7 173.8,474.2 173.9,473.5 174.1,472.6 174.4,471.8 174.8,471.1 175.3,470.5 175.9,470.2 176.3,470.2 176.6,470.5 176.7,471.1 176.5,472 175.9,473.1 174.9,474.3 173.4,475.6 171.4,476.8 169,477.8 166.3,478.6 163.2,479 160.1,479 156.8,478.5 153.7,477.7 150.7,476.4 148,474.8 145.7,473.1 143.9,471.2 142.4,469.4 141.4,467.7 140.8,466.3 140.5,465.2 140.5,464.5 140.6,464.2 140.9,464.3 141.1,464.9 141.3,465.8 141.4,467 141.3,468.4 141.1,469.9 140.8,471.4 140.5,472.9 140.2,474.2 139.9,475.3 139.7,476.1 139.8,476.7 140,477.1 140.6,477.3 141.4,477.4 142.4,477.4 143.7,477.5 145.1,477.6 146.5,477.8 147.9,478.1 149.1,478.7 150,479.4 150.5,480.2 150.6,481.1 150.1,481.9 149.2,482.7 147.7,483.2 145.7,483.5 143.3,483.3 140.7,482.7 137.8,481.7 134.8,480.1 131.8,478.1 129,475.6 126.5,472.9 124.3,469.8 122.4,466.7 121,463.5 119.9,460.4 119.1,457.6 118.6,455.1 118.4,452.9 118.2,451.1 118,449.7 117.8,448.8 117.4,448.2 116.9,447.9 116.1,447.9 115.3,448 114.2,448.3 113.1,448.6 112,448.9 111,449.2 110.1,449.5 109.4,449.8 109,450.1 109,450.5 109.3,451 110,451.7 110.9,452.6 112.2,453.6 113.6,454.9 115,456.4 116.4,458.1 117.7,459.9 118.7,461.7 119.4,463.5 119.7,465.1 119.6,466.5 119.2,467.5 118.3,468 117.1,468.1 115.7,467.6 114.2,466.5 112.6,464.8 111,462.6 109.6,459.9 108.4,456.8 107.5,453.5 106.9,449.9 106.7,446.3 106.7,442.7 107,439.2 107.5,435.8 108.1,432.8 108.8,430 109.4,427.5 110,425.2 110.5,423.2 110.7,421.4 110.8,419.7 110.7,418.2 110.4,416.7 110,415.3 109.5,413.9 109,412.5 108.6,411.3 108.3,410.1 108.1,409.2 108.1,408.5 108.3,408.1 108.7,408.1 109.3,408.5 109.9,409.3 110.6,410.6 111.3,412.3 111.9,414.4 112.4,416.7 112.7,419.3 112.8,421.8 112.7,424.4 112.3,426.7 111.8,428.7 111.1,430.3 110.4,431.5 109.6,432.1 108.9,432.1 108.3,431.7 108,430.7 107.9,429.3 108.1,427.6 108.7,425.5 109.5,423.3 110.7,421 112,418.7 113.6,416.4 115.3,414.3 117.1,412.3 118.8,410.3 120.5,408.6 122,406.9 123.5,405.2 124.7,403.6 125.9,401.9 126.9,400.2 127.8,398.5 128.7,396.6 129.6,394.7 130.6,392.8 131.6,390.9 132.6,389.1 133.8,387.4 135.1,386 136.4,384.8 137.7,384 139,383.7 140.1,383.8 141.1,384.3 141.8,385.2 142.2,386.6 142.2,388.2 141.9,390.1 141.2,392.1 140.2,394.2 138.9,396.2 137.5,398 135.9,399.7 134.4,401 132.9,402 131.7,402.6 130.7,403 130.1,403 129.9,402.9 130,402.5 130.6,402.1 131.5,401.6 132.7,401.2 134.1,400.8 135.7,400.5 137.4,400.3 139,400.1 140.6,400 142.1,400 143.5,399.8 144.8,399.6 145.9,399.2 146.9,398.6 147.9,397.8 149,396.8 150.1,395.5 151.4,394.2 152.9,392.7 154.5,391.2 156.4,389.7 158.5,388.4 160.7,387.3 163,386.4 165.3,385.9 167.6,385.7 169.6,385.8 171.4,386.3 172.8,387.1 173.8,388 174.3,389.1 174.4,390.3 174,391.5 173.1,392.6 171.8,393.5 170.2,394.2 168.5,394.6 166.6,394.8 164.8,394.8 163.1,394.6 161.6,394.2 160.3,393.8 159.4,393.3 158.9,393 158.7,392.7 158.8,392.6 159.1,392.7 159.7,393.1 160.3,393.6 161,394.3 161.7,395.2 162.3,396.1 162.8,397 163.2,397.7 163.5,398.4 163.8,398.8 164,398.9 164.4,398.7 164.9,398.3 165.6,397.7 166.6,396.8 167.9,395.9 169.6,395 171.5,394.2 173.8,393.5 176.2,393.2 178.9,393.1 181.5,393.4 184.1,394 186.6,395 188.7,396.3 190.6,397.7 192,399.3 193,400.9 193.6,402.4 193.8,403.7 193.6,404.7 193,405.4 192.2,405.6 191.3,405.5 190.3,405 189.3,404.1 188.4,402.9 187.6,401.5 187,399.9 186.6,398.4 186.4,396.9 186.3,395.7 186.4,394.6 186.5,393.9 186.5,393.4 186.6,393.3 186.5,393.5 186.3,393.9 185.9,394.5 185.4,395.1 184.8,395.7 184.1,396.2 183.4,396.6 182.8,396.8 182.4,396.7 182.2,396.5 182.3,396.1 182.8,395.6 183.7,395.1 185,394.7 186.8,394.5 188.8,394.5 191.2,394.8 193.7,395.5 196.3,396.6 198.9,398.1 201.3,400 203.5,402.2 205.4,404.6 206.9,407.1 208,409.6 208.8,412 209.1,414.2 209.2,416.1 209,417.6 208.8,418.6 208.4,419.2 208.1,419.3 207.9,419 207.9,418.4 208.1,417.5 208.6,416.3 209.2,415.1 210.1,413.8 211,412.6 212,411.5 212.9,410.5 213.7,409.7 214.3,409.1 214.6,408.6 214.7,408.1 214.4,407.8 213.8,407.4 213,407 212,406.5 210.9,405.8 209.8,405 208.8,404.1 208,403.2 207.6,402.2 207.5,401.2 207.8,400.4 208.5,399.8 209.6,399.5 211.2,399.6 213,400.2 215,401.3 217.1,402.9 219.1,405 221.1,407.6 222.8,410.6 224.2,413.8 225.3,417.3 225.9,420.9 226.2,424.4 226.1,427.7 225.8,430.8 225.3,433.6 224.6,436 223.9,438 223.3,439.6 222.9,440.8 222.7,441.7 222.8,442.3 223.2,442.7 223.9,443 224.8,443.2 225.8,443.4 227,443.5 228.2,443.7 229.4,443.9 230.4,444 231.2,444.1 231.7,444 232,443.7 232,443.1 231.8,442.3 231.4,441.2 230.8,439.7 230.2,438 229.7,436.1 229.2,434.1 228.9,432 228.8,429.9 229,428 229.5,426.5 230.2,425.3 231.1,424.6 232.2,424.5 233.3,424.9 234.4,426 235.4,427.6 236.2,429.8 236.7,432.5 236.8,435.5 236.6,438.8 236,442.2 235,445.7 233.7,449.1 232.1,452.4 230.3,455.4 228.4,458.2 226.4,460.7 224.5,462.9 222.8,464.8 221.3,466.6 219.9,468.2 218.9,469.6 218.1,471.1 217.5,472.5 217.1,473.9 216.9,475.3 216.7,476.7 216.6,478.2 216.5,479.5 216.4,480.7 216.2,481.6 216,482.3 215.7,482.6 215.5,482.6 215.3,482 215.1,481.1 215.2,479.7 215.4,477.9 215.9,475.9 216.6,473.6 217.5,471.3 218.6,469 219.9,466.8 221.4,464.9 222.8,463.3 224.2,462.2 225.5,461.5 226.6,461.3 227.3,461.6 227.7,462.3 227.6,463.3 227.1,464.7 226.2,466.3 224.8,467.9 223.1,469.7 221.1,471.3 218.8,472.9 216.3,474.4 213.7,475.7 211.2,476.8 208.6,477.9 206.2,478.8 203.9,479.7 201.7,480.6 199.7,481.5 197.8,482.5 196,483.5 194.2,484.7 192.5,485.9 190.8,487.2 189,488.4 187.2,489.7 185.4,490.8 183.6,491.8 181.8,492.6 180.1,493 178.6,493.2 177.3,493.1 176.4,492.6 175.8,491.8 175.6,490.8 175.9,489.5 176.7,488.2 177.9,486.8 179.5,485.4 181.4,484.1 183.6,482.9 185.8,482 188.1,481.3 190.2,480.9 192.1,480.7 193.6,480.7 194.8,480.8 195.5,481.1 195.7,481.4 195.5,481.7 194.8,481.9 193.9,482 192.6,482 191.1,481.8 189.4,481.5 187.7,481 186,480.4 184.4,479.9 182.8,479.3 181.3,478.8 179.8,478.5 178.4,478.3 176.9,478.3 175.4,478.4 173.8,478.7 172,479.1 170.1,479.5 168,479.9 165.7,480.3 163.3,480.5 160.8,480.5 158.3,480.3 155.8,479.8 153.5,479 151.4,478.1 149.6,476.9 148.3,475.6 147.3,474.2 146.9,472.9 146.9,471.6 147.3,470.5 148.2,469.7 149.5,469.2 151,469 152.7,469.2 154.5,469.7 156.3,470.5 157.9,471.5 159.4,472.6 160.6,473.8 161.6,474.9 162.3,475.9 162.6,476.7 162.8,477.2 162.7,477.4 162.5,477.2 162.2,476.8 161.8,476 161.5,475.1 161.2,474 161,472.9 160.9,471.8 160.8,470.8 160.7,469.9 160.6,469.2 160.4,468.6 160,468.3 159.3,468.1 158.4,468 157.3,467.9 155.8,467.7 154.1,467.4 152.2,466.9 150.1,466.2 147.9,465.2 145.7,463.9 143.7,462.3 141.8,460.5 140.2,458.4 139,456.3 138.1,454.1 137.6,452.1 137.4,450.2 137.7,448.6 138.2,447.3 138.9,446.5 139.7,446.1 140.6,446.2 141.5,446.6 142.2,447.5 142.8,448.7 143.2,450.1 143.3,451.7 143.2,453.3 142.9,454.8 142.5,456.1 142,457.3 141.5,458.2 141,458.8 140.7,459.1 140.5,459.1 140.6,459 140.9,458.7 141.4,458.3 142.1,457.9 142.9,457.5 143.8,457.3 144.6,457.2 145.3,457.2 145.8,457.3 146.1,457.5 146,457.7 145.5,457.8 144.7,457.8 143.5,457.6 142.1,457.1 140.5,456.3 138.7,455 136.9,453.4 135.2,451.4 133.7,449.1 132.4,446.6 131.5,443.9 130.9,441.1 130.6,438.4 130.7,435.8 131,433.5 131.6,431.5 132.3,429.9 133.1,428.8 133.8,428.1 134.3,427.8 134.7,427.8 134.8,428.2 134.5,428.9 134,429.6 133.2,430.5 132.2,431.3 131,432.1 129.8,432.8 128.5,433.3 127.4,433.7 126.5,434 125.8,434.2 125.4,434.4 125.3,434.6 125.5,434.9 125.9,435.3 126.5,435.9 127.3,436.6 128.1,437.5 128.8,438.5 129.4,439.7 129.7,440.8 129.8,441.8 129.5,442.7 128.9,443.4 128,443.6 126.9,443.5 125.6,442.9 124.3,441.7 122.9,440.1 121.7,437.9 120.7,435.4 119.9,432.4 119.6,429.3 119.6,425.9 120,422.6 120.7,419.3 121.8,416.2 123.1,413.4 124.5,410.9 126,408.7 127.4,407 128.7,405.6 129.7,404.5 130.5,403.6 130.9,402.9 130.9,402.4 130.7,401.9 130.2,401.4 129.4,400.8 128.5,400.2 127.4,399.6 126.4,398.9 125.5,398.3 124.7,397.8 124,397.4 123.5,397.2 123.2,397.3 123.1,397.8 123.1,398.6 123.1,399.7 123.1,401.2 123,402.9 122.9,404.8 122.5,406.8 122,408.8 121.3,410.6 120.3,412.1 119.3,413.3 118.1,414 117,414.2 116,413.9 115.1,413 114.4,411.6 114.2,409.7 114.2,407.4 114.8,404.8 115.8,402 117.2,399.1 119,396.3 121.2,393.6 123.6,391 126.2,388.7 129,386.7 131.7,384.9 134.3,383.4 136.8,382.1 139.1,381 141.2,380 142.9,379 144.4,378.1 145.7,377.1 146.8,376 147.7,374.8 148.5,373.5 149.2,372.2 149.8,371 150.4,369.7 151,368.7 151.6,367.8 152,367.2 152.3,367 152.5,367.1 152.4,367.6 152.1,368.5 151.4,369.7 150.4,371.1 149.1,372.8 147.5,374.5 145.6,376.2 143.6,377.8 141.4,379.2 139.3,380.3 137.3,381.1 135.5,381.5 134,381.5 133,381.2 132.4,380.6 132.3,379.8 132.8,378.7 133.7,377.6 135.2,376.5 137.1,375.4 139.4,374.5 142,373.7 144.8,373.1 147.7,372.6 150.6,372.4 153.5,372.3 156.4,372.3 159.1,372.4 161.7,372.5 164.2,372.6 166.6,372.6 168.9,372.6 171.1,372.4 173.3,372.2 175.5,371.9 177.7,371.6 179.9,371.3 182.2,371 184.4,370.8 186.5,370.7 188.4,370.8 190.2,371.1 191.6,371.6 192.7,372.2 193.4,373 193.6,373.9 193.3,374.8 192.4,375.7 191.1,376.4 189.4,377.1 187.3,377.5 184.9,377.7 182.4,377.7 179.9,377.4 177.4,376.9 175.2,376.3 173.3,375.5 171.8,374.7 170.8,374 170.2,373.3 170,372.9 170.3,372.6 171,372.6 171.9,372.9 173.1,373.5 174.5,374.3 175.9,375.3 177.4,376.5 178.8,377.7 180.2,379.1 181.6,380.4 183,381.6 184.3,382.8 185.7,383.9 187.1,384.8 188.7,385.7 190.3,386.4 192.1,387.2 194.1,388 196.2,388.8 198.3,389.8 200.6,390.9 202.8,392.2 204.9,393.7 206.8,395.3 208.6,397.1 210,399 211,400.8 211.7,402.7 211.9,404.4 211.7,405.8 211.2,407 210.3,407.7 209.1,408.1 207.7,408 206.2,407.5 204.7,406.6 203.3,405.3 202,403.8 200.9,402.1 200,400.3 199.4,398.7 199,397.1 198.9,395.8 198.8,394.9 199,394.3 199.1,394 199.3,394.2 199.4,394.7 199.4,395.5 199.3,396.5 199.1,397.6 198.7,398.8 198.3,400 197.9,401.1 197.6,402.1 197.3,403 197.2,403.8 197.3,404.5 197.7,405.1 198.3,405.8 199.2,406.6 200.3,407.5 201.6,408.6 203.1,410 204.6,411.6 206.1,413.5 207.4,415.6 208.6,417.9 209.5,420.4 210.1,422.9 210.3,425.4 210.2,427.7 209.8,429.8 209.2,431.6 208.3,433 207.3,433.9 206.3,434.4 205.3,434.4 204.4,434 203.8,433.1 203.4,432 203.3,430.7 203.5,429.2 203.9,427.8 204.6,426.4 205.4,425.1 206.2,424.1 207.1,423.3 207.8,422.7 208.4,422.4 208.7,422.3 208.8,422.3 208.6,422.5 208.1,422.7 207.5,422.9 206.6,423 205.7,423 204.8,422.9 203.9,422.7 203.2,422.4 202.8,422.1 202.6,421.9 202.7,421.7 203.1,421.8 203.8,422.1 204.8,422.8 205.8,423.8 207,425.2 208,427 209,429.2 209.7,431.6 210.2,434.3 210.3,437.1 210.1,440 209.5,442.7 208.7,445.3 207.6,447.6 206.3,449.6 205,451.1 203.7,452.2 202.5,453 201.5,453.3 200.9,453.3 200.6,453.1 200.6,452.7 201,452.2 201.8,451.6 202.8,451.1 204,450.8 205.4,450.5 206.7,450.4 208,450.4 209.1,450.5 210,450.6 210.6,450.7 211,450.7 211.1,450.5 210.9,450.2 210.6,449.7 210.2,448.9 209.7,447.9 209.3,446.8 209.1,445.6 209,444.4 209.1,443.2 209.4,442.3 210,441.6 210.8,441.3 211.7,441.4 212.6,442 213.5,443 214.2,444.6 214.8,446.6 215,449 214.8,451.8 214.3,454.7 213.3,457.6 211.9,460.6 210.1,463.4 208.1,466 205.8,468.2 203.4,470.2 201.1,471.7 198.8,472.9 196.8,473.8 195,474.4 193.6,474.9 192.5,475.2 191.9,475.5 191.6,475.9 191.6,476.3 191.9,476.9 192.3,477.6 192.9,478.5 193.6,479.5 194.2,480.5 194.8,481.4 195.3,482.3 195.7,482.9 196.1,483.3 196.4,483.4 196.7,483.1 197,482.5 197.5,481.5 198,480.2 198.8,478.8 199.7,477.2 200.9,475.6 202.1,474.1 203.6,472.9 205,471.9 206.4,471.3 207.8,471.2 208.9,471.5 209.7,472.3 210.1,473.5 210,475 209.5,476.8 208.4,478.8 206.8,480.8 204.8,482.9 202.3,484.7 199.4,486.4 196.3,487.8 193,488.9 189.6,489.7 186.3,490.2 183.1,490.4 180.2,490.4 177.4,490.2 175,490 172.8,489.8 171,489.7 169.3,489.6 167.9,489.8 166.7,490.2 165.5,490.7 164.4,491.4 163.3,492.2 162.3,493 161.3,493.8 160.3,494.6 159.5,495.2 158.9,495.6 158.4,495.7 158.3,495.7 158.5,495.4 159.1,494.9 160.1,494.3 161.5,493.6 163.3,492.8 165.4,492.1 167.8,491.6 170.2,491.2 172.7,491 175,491.1 177.2,491.4 178.9,492 180.3,492.7 181.1,493.5 181.3,494.4 181,495.3 180.2,496.1 178.8,496.7 177,497.1 174.8,497.2 172.3,497 169.7,496.6 166.9,495.8 164.2,494.8 161.5,493.6 158.9,492.2 156.5,490.8 154.2,489.3 152,487.9 150,486.6 148.1,485.3 146.2,484.3 144.4,483.3 142.5,482.5 140.7,481.7 138.7,481.1 136.8,480.4 134.8,479.8 132.9,479.1 131.1,478.3 129.4,477.4 128,476.5 126.9,475.5 126.1,474.6 125.8,473.6 126,472.8 126.6,472.2 127.6,471.8 129,471.8 130.7,472 132.7,472.6 134.7,473.5 136.8,474.7 138.9,476.1 140.7,477.7 142.3,479.4 143.5,481 144.4,482.5 145,483.8 145.1,484.7 145,485.3 144.5,485.6 143.9,485.4 143.1,484.8 142.2,483.8 141.3,482.5 140.5,480.9 139.7,479.2 139,477.3 138.3,475.4 137.7,473.5 137.1,471.7 136.5,470 135.9,468.4 135.1,466.8 134.2,465.4 133.2,463.9 132,462.5 130.7,461 129.2,459.4 127.7,457.7 126.1,455.8 124.7,453.8 123.3,451.7 122.2,449.5 121.3,447.2 120.8,445 120.5,442.9 120.7,441 121.1,439.4 121.8,438.2 122.8,437.4 123.9,437.1 125.1,437.3 126.3,438 127.5,439.1 128.5,440.5 129.2,442.3 129.8,444.2 130.1,446.2 130.2,448.2 130.1,449.9 129.8,451.5 129.4,452.7 129,453.6 128.6,454.1 128.4,454.2 128.3,454 128.4,453.5 128.7,452.8 129.2,451.9 129.9,451 130.7,450 131.5,449.1 132.4,448.3 133.1,447.5 133.7,446.8 134.2,446.1 134.4,445.5 134.3,444.7 134,443.9 133.4,442.8 132.7,441.5 131.9,440 131.1,438.2 130.3,436.1 129.6,433.7 129.2,431.2 129,428.5 129.1,425.8 129.5,423.2 130.2,420.8 131.2,418.6 132.4,416.8 133.7,415.4 135,414.5 136.3,414 137.4,414 138.3,414.4 139,415.2 139.2,416.3 139.2,417.5 138.8,418.8 138.1,420.1 137.1,421.4 136.1,422.4 134.9,423.3 133.8,424 132.8,424.4 132.1,424.7 131.5,424.8 131.3,424.8 131.4,424.7 131.7,424.7 132.3,424.7 133.1,424.8 134.1,425.1 135,425.5 135.9,425.9 136.6,426.5 137.2,427 137.5,427.4 137.5,427.7 137.3,427.8 137,427.6 136.4,427 135.8,426 135.2,424.6 134.7,422.8 134.4,420.7 134.4,418.2 134.7,415.6 135.3,412.9 136.3,410.2 137.7,407.6 139.3,405.2 141.2,403.1 143.1,401.4 145.1,400.1 147,399.2 148.7,398.6 150.1,398.4 151.2,398.5 151.8,398.8 152.1,399.1 151.9,399.5 151.3,399.8 150.4,400.1 149.3,400.1 148.1,400 146.8,399.8 145.6,399.4 144.4,399 143.5,398.6 142.8,398.2 142.3,398 142,397.9 142,398.1 142,398.6 142.2,399.3 142.3,400.3 142.4,401.4 142.4,402.6 142.3,403.9 141.9,405.1 141.4,406.1 140.8,406.9 140,407.3 139.2,407.3 138.5,406.8 137.9,405.9 137.5,404.5 137.5,402.7 137.8,400.6 138.6,398.3 139.9,395.9 141.6,393.4 143.7,391.1 146.2,389 149,387.1 152,385.6 155,384.5 158,383.8 160.9,383.4 163.5,383.3 165.8,383.4 167.7,383.7 169.2,384 170.3,384.2 171,384.4 171.4,384.3 171.6,383.9 171.6,383.4 171.5,382.6 171.3,381.6 171.1,380.4 170.9,379.3 170.8,378.1 170.6,377.1 170.5,376.3 170.4,375.8 170.1,375.6 169.7,375.7 169.1,376 168.3,376.7 167.3,377.6 166,378.6 164.5,379.6 162.8,380.5 161,381.3 159.2,381.9 157.5,382.1 156,382.1 154.8,381.6 153.9,380.9 153.5,379.8 153.7,378.6 154.4,377.2 155.7,375.8 157.5,374.4 159.8,373.2 162.6,372.3 165.7,371.7 169,371.4 172.5,371.5 176,372 179.3,372.8 182.6,373.9 185.5,375.2 188.2,376.7 190.5,378.1 192.6,379.5 194.4,380.8 195.9,381.8 197.3,382.7 198.6,383.2 199.8,383.5 201,383.6 202.2,383.4 203.5,383.2 204.7,382.9 206,382.5 207.1,382.2 208.1,382 208.9,381.8 209.4,381.8 209.6,381.8 209.3,381.9 208.7,381.9 207.5,382 206,381.9 204.2,381.7 202,381.3 199.7,380.7 197.4,379.9 195.2,378.9 193.1,377.7 191.4,376.4 190,375.1 189.2,373.8 188.8,372.6 189,371.6 189.7,370.9 190.8,370.5 192.3,370.5 194.2,371 196.3,371.8 198.4,373.1 200.7,374.7 202.9,376.6 204.9,378.8 206.9,381.2 208.6,383.7 210.2,386.2 211.6,388.6 212.9,390.9 214.1,393.1 215.3,395.2 216.4,397 217.6,398.8 218.9,400.4 220.2,401.9 221.7,403.3 223.1,404.8 224.6,406.2 226.1,407.7 227.4,409.1 228.5,410.6 229.5,412 230.1,413.4 230.4,414.5 230.3,415.5 229.9,416.1 229.1,416.3 228.1,416.2 226.8,415.6 225.4,414.6 223.9,413.2 222.4,411.5 221.1,409.4 219.9,407.2 218.9,404.9 218.2,402.7 217.8,400.6 217.7,398.8 217.8,397.3 218.1,396.3 218.5,395.8 219,395.7 219.6,396.2 220,397.1 220.4,398.3 220.7,399.9 220.9,401.8 220.8,403.7 220.7,405.8 220.5,407.9 220.2,410 220,411.9 219.8,413.9 219.7,415.7 219.7,417.5 219.9,419.4 220.2,421.2 220.7,423.1 221.3,425.1 221.9,427.3 222.6,429.6 223.2,432 223.7,434.5 224,437.1 224.1,439.7 223.9,442.2 223.5,444.5 222.8,446.6 221.9,448.3 220.9,449.5 219.7,450.3 218.5,450.6 217.4,450.4 216.4,449.7 215.6,448.5 215,447 214.7,445.2 214.8,443.2 215.1,441.1 215.6,439.1 216.3,437.2 217.2,435.5 218.1,434.2 218.9,433.1 219.6,432.5 220.1,432.1 220.4,432 220.3,432.2 220,432.6 219.4,433.2 218.5,433.7 217.5,434.3 216.4,434.9 215.2,435.4 214.1,435.9 213,436.3 212.2,436.7 211.5,437.2 211,437.9 210.8,438.6 210.7,439.7 210.8,441 210.9,442.5 210.9,444.4 210.9,446.6 210.7,449 210.3,451.5 209.6,454.2 208.6,456.8 207.3,459.3 205.8,461.6 204,463.6 202.1,465.3 200.2,466.5 198.4,467.3 196.7,467.6 195.3,467.5 194.2,467 193.6,466.2 193.3,465.3 193.5,464.1 194.1,463 195,461.9 196.2,460.9 197.6,460.1 199.1,459.5 200.5,459 201.8,458.8 202.9,458.7 203.7,458.6 204.2,458.7 204.4,458.7 204.3,458.6 203.9,458.4 203.3,458 202.6,457.5 201.8,456.9 201.1,456.1 200.4,455.3 199.9,454.5 199.6,453.8 199.5,453.3 199.5,453 199.6,453 199.8,453.5 200,454.3 200.1,455.5 200,457.1 199.6,459 198.9,461.2 197.8,463.5 196.4,465.8 194.5,468 192.3,470.1 189.8,471.9 187.2,473.3 184.5,474.4 181.8,475.1 179.3,475.3 177.1,475.2 175.2,474.9 173.8,474.3 172.8,473.7 172.3,473 172.2,472.5 172.5,472.1 173.1,471.9 174,472 175.1,472.4 176.2,472.9 177.3,473.7 178.3,474.5 179.2,475.4 179.9,476.2 180.4,476.8 180.8,477.3 181,477.4 181.2,477.3 181.4,476.8 181.5,476.1 181.8,475.1 182.2,474 182.7,472.9 183.4,471.7 184.1,470.8 185,470 185.9,469.6 186.7,469.5 187.4,469.8 187.8,470.5 187.9,471.5 187.6,472.8 186.8,474.3 185.5,476 183.8,477.6 181.6,479.1 178.9,480.4 176,481.4 172.8,482 169.5,482.2 166.2,482 163,481.3 160.1,480.4 157.5,479.2 155.3,477.8 153.5,476.4 152.1,475 151.1,473.8 150.4,472.9 150,472.3 149.8,472 149.6,472.1 149.5,472.6 149.4,473.3 149.3,474.2 149,475.3 148.7,476.4 148.3,477.5 147.9,478.5 147.6,479.3 147.4,480 147.4,480.4 147.6,480.5 148.2,480.5 149,480.4 150.2,480.1 151.6,479.9 153.3,479.7 155.1,479.6 156.9,479.8 158.7,480.1 160.3,480.6 161.6,481.4 162.5,482.3 162.9,483.3 162.8,484.4 162.2,485.4 161,486.2 159.3,486.8 157.2,487.1 154.7,487.1 152,486.5 149.1,485.6 146.2,484.2 143.4,482.5 140.8,480.4 138.4,478.1 136.3,475.6 134.6,473.1 133.1,470.6 131.9,468.3 131,466.3 130.2,464.5 129.5,463 128.8,461.8 128.1,460.9 127.3,460.3 126.3,459.8 125.3,459.6 124.1,459.4 122.9,459.3 121.6,459.1 120.4,459 119.4,458.8 118.6,458.6 118,458.4 117.8,458.3 118,458.3 118.6,458.5 119.5,458.8 120.7,459.5 122.1,460.4 123.8,461.5 125.4,463 127,464.7 128.5,466.5 129.7,468.4 130.6,470.3 131.1,472 131.2,473.6 131,474.8 130.3,475.6 129.4,476 128.2,475.9 126.8,475.2 125.3,474.1 123.9,472.5 122.5,470.5 121.3,468.1 120.2,465.5 119.4,462.8 118.8,459.9 118.3,457.1 118,454.4 117.9,451.8 117.7,449.3 117.6,447 117.4,444.9 117.1,442.9 116.6,441 116,439.2 115.3,437.4 114.5,435.7 113.7,433.8 112.8,432 112,430.2 111.3,428.3 110.8,426.6 110.4,424.9 110.3,423.5 110.5,422.3 110.9,421.5 111.5,421.1 112.3,421.2 113.1,421.8 114.1,422.8 114.9,424.3 115.7,426.2 116.3,428.4 116.7,430.7 116.8,433.2 116.8,435.7 116.5,437.9 116,440 115.3,441.6 114.6,442.8 113.9,443.6 113.2,443.9 112.7,443.7 112.4,443 112.2,442 112.4,440.7 112.7,439.2 113.3,437.5 114.1,435.7 115,433.9 115.9,432.1 116.9,430.4 117.9,428.7 118.7,427.1 119.5,425.5 120,423.8 120.5,422 120.8,420.2 121,418.2 121.1,416 121.3,413.7 121.5,411.2 121.9,408.6 122.4,406 123.2,403.3 124.1,400.8 125.2,398.5 126.5,396.5 128,394.8 129.5,393.6 130.9,392.8 132.3,392.5 133.5,392.8 134.4,393.5 134.9,394.6 135.2,396 135,397.7 134.5,399.6 133.6,401.5 132.4,403.3 131.1,405 129.6,406.5 128.2,407.8 126.8,408.8 125.7,409.4 124.8,409.9 124.2,410 124,410 124.2,409.9 124.6,409.7 125.4,409.5 126.4,409.4 127.6,409.2 128.9,409.2 130.1,409.1 131.4,409.1 132.4,409.1 133.4,409 134.2,408.7 134.8,408.2 135.4,407.4 135.8,406.4 136.3,405 136.9,403.3 137.7,401.4 138.7,399.2 140,397 141.5,394.6 143.4,392.4 145.6,390.3 148,388.4 150.5,386.9 153.1,385.8 155.6,385 158,384.7 160.1,384.8 161.8,385.3 163.2,386 164,386.9 164.3,387.9 164.1,388.9 163.4,389.9 162.4,390.7 161,391.4 159.4,391.8 157.8,392 156.1,392.1 154.5,391.9 153.1,391.7 152,391.4 151.2,391.2 150.7,391 150.4,391.1 150.5,391.3 150.7,391.7 151.1,392.4 151.5,393.2 151.9,394.2 152.3,395.2 152.6,396.3 152.7,397.2 152.8,398 152.7,398.6 152.7,398.8 152.7,398.6 152.7,398.1 153,397.3 153.6,396.1 154.5,394.7 155.8,393.1 157.5,391.5 159.6,390 162.1,388.6 164.9,387.5 167.9,386.7 171.1,386.4 174.2,386.5 177.2,386.9 179.9,387.8 182.3,388.9 184.3,390.2 185.8,391.6 186.8,393 187.4,394.2 187.5,395.2 187.3,395.9 186.8,396.2 186.1,396.2 185.3,395.8 184.5,395 183.7,394 183,392.9 182.5,391.6 182.1,390.4 181.8,389.2 181.6,388.3 181.4,387.6 181.3,387.2 181.1,387.2 180.8,387.4 180.3,387.9 179.7,388.6 178.9,389.3 177.9,390.1 176.8,390.8 175.7,391.4 174.6,391.7 173.7,391.8 172.9,391.6 172.5,391.1 172.4,390.4 172.7,389.6 173.6,388.6 174.9,387.8 176.8,387 179,386.5 181.6,386.4 184.5,386.6 187.4,387.2 190.4,388.3 193.3,389.9 196,391.7 198.3,393.9 200.3,396.2 201.9,398.6 203.1,400.9 203.9,403 204.4,404.9 204.6,406.4 204.7,407.5 204.7,408.2 204.7,408.5 204.7,408.5 204.9,408.1 205.3,407.4 205.8,406.6 206.5,405.7 207.3,404.8 208.2,404 209,403.2 209.7,402.6 210.3,402.1 210.6,401.8 210.5,401.5 210.2,401.2 209.5,401 208.4,400.7 207.2,400.2 205.7,399.7 204.2,398.9 202.7,398 201.4,396.9 200.3,395.7 199.5,394.5 199.1,393.2 199.2,392.1 199.7,391.2 200.7,390.6 202.1,390.3 203.9,390.5 205.9,391.1 208,392.3 210.2,393.9 212.3,396 214.2,398.5 215.9,401.3 217.3,404.3 218.4,407.4 219.1,410.4 219.6,413.4 219.8,416.2 219.8,418.7 219.8,420.9 219.7,422.8 219.7,424.4 219.8,425.7 220.1,426.7 220.6,427.6 221.3,428.3 222.2,428.9 223.2,429.6 224.3,430.2 225.5,430.8 226.5,431.4 227.5,432 228.2,432.5 228.7,432.9 228.9,433.1 228.8,433 228.4,432.6 227.8,431.9 227.1,430.8 226.2,429.4 225.3,427.7 224.5,425.7 223.8,423.5 223.4,421.2 223.2,419 223.2,416.9 223.6,415 224.2,413.6 225,412.6 226,412.1 227.1,412.2 228.2,412.8 229.3,413.9 230.2,415.6 230.8,417.7 231.3,420.1 231.4,422.8 231.3,425.7 230.9,428.6 230.3,431.5 229.5,434.3 228.6,436.9 227.7,439.5 226.7,441.8 225.9,444 225.1,446.1 224.5,448.1 224.1,450.1 223.8,452 223.6,453.9 223.5,455.9 223.5,458 223.5,460 223.4,462.1 223.3,464.1 223,465.9 222.6,467.5 222.1,468.9 221.6,469.9 220.9,470.5 220.3,470.6 219.7,470.2 219.2,469.3 218.9,468 218.9,466.3 219.1,464.3 219.6,462 220.3,459.6 221.3,457.3 222.6,455.1 223.9,453.1 225.3,451.5 226.6,450.2 227.9,449.4 228.9,449 229.7,449 230.1,449.4 230.2,450.1 229.9,451.1 229.3,452.3 228.3,453.6 227,455 225.6,456.4 224,457.7 222.3,459 220.6,460.2 218.9,461.5 217.3,462.7 215.8,464 214.4,465.4 213.1,466.9 211.9,468.5 210.7,470.3 209.4,472.3 208.1,474.3 206.6,476.5 205.1,478.7 203.3,480.8 201.4,482.9 199.3,484.7 197.2,486.3 195.1,487.6 193,488.4 191.1,488.9 189.4,489 188.1,488.6 187.1,488 186.6,487 186.6,485.8 187.1,484.4 188.1,483 189.4,481.5 191.1,480.2 193.1,479.1 195.2,478.1 197.2,477.4 199.2,476.9 201,476.5 202.4,476.4 203.5,476.4 204.2,476.5 204.5,476.5 204.4,476.6 203.9,476.5 203.1,476.4 202.1,476.1 201,475.7 199.8,475.3 198.5,474.8 197.4,474.3 196.2,473.9 195.2,473.7 194.2,473.6 193.3,473.8 192.3,474.3 191.2,475 189.9,476 188.5,477.2 186.7,478.5 184.7,479.9 182.4,481.3 179.8,482.5 177,483.5 174,484.3 171,484.7 167.9,484.7 165,484.4 162.4,483.8 160.1,482.8 158.3,481.6 156.9,480.3 156,479 155.7,477.7 155.8,476.6 156.5,475.7 157.5,475.1 158.8,474.8 160.4,474.9 162,475.3 163.6,475.9 165.2,476.7 166.6,477.6 167.8,478.6 168.7,479.4 169.4,480.1 169.9,480.6 170.2,480.8 170.3,480.7 170.3,480.3 170.3,479.6 170.2,478.7 170.3,477.6 170.4,476.5 170.6,475.4 170.8,474.4 171,473.6 171.3,473.1 171.3,472.8 171.3,472.7 170.9,473 170.2,473.4 169.2,474 167.8,474.5 165.9,475.1 163.7,475.4 161.2,475.5 158.5,475.3 155.7,474.7 152.9,473.7 150.1,472.4 147.6,470.7 145.4,468.7 143.6,466.5 142.2,464.3 141.2,462.1 140.7,460.1 140.6,458.4 140.8,457 141.2,456 141.9,455.4 142.6,455.3 143.3,455.6 143.9,456.3 144.3,457.3 144.6,458.5 144.7,459.8 144.6,461.2 144.4,462.5 144.1,463.6 143.7,464.5 143.5,465.2 143.3,465.6 143.3,465.8 143.5,465.8 144,465.6 144.7,465.3 145.7,464.9 146.7,464.7 147.9,464.5 149.1,464.4 150.2,464.6 151.1,464.9 151.8,465.3 152,465.8 151.9,466.4 151.4,466.9 150.4,467.2 149,467.3 147.3,467.1 145.4,466.4 143.3,465.4 141.1,464 139.1,462.1 137.2,459.9 135.5,457.4 134.2,454.7 133.2,452 132.6,449.2 132.3,446.6 132.4,444.3 132.7,442.2 133.1,440.6 133.6,439.3 134,438.4 134.4,438 134.5,437.9 134.5,438 134.1,438.4 133.5,438.9 132.7,439.4 131.7,439.9 130.6,440.4 129.5,440.7 128.5,441 127.6,441.2 126.9,441.3 126.5,441.4 126.4,441.5 126.7,441.7 127.2,442.1 127.9,442.6 128.9,443.4 129.9,444.3 130.9,445.5 131.8,446.9 132.5,448.3 133,449.8 133.1,451.2 132.9,452.4 132.4,453.4 131.5,454 130.3,454.2 129,453.9 127.5,453.1 126,451.8 124.6,450 123.4,447.8 122.4,445.2 121.7,442.3 121.3,439.3 121.2,436.3 121.5,433.3 122,430.4 122.7,427.8 123.5,425.4 124.4,423.3 125.2,421.5 125.9,420 126.4,418.7 126.6,417.5 126.6,416.5 126.4,415.6 125.9,414.7 125.2,413.7 124.4,412.8 123.6,411.7 122.8,410.7 122,409.7 121.3,408.8 120.9,408 120.6,407.4 120.5,407.2 120.6,407.2 120.8,407.7 121,408.5 121.3,409.8 121.5,411.4 121.7,413.3 121.6,415.4 121.3,417.6 120.9,419.8 120.1,421.8 119.2,423.6 118.1,425.1 117,426.1 115.8,426.6 114.6,426.6 113.6,426 112.8,425 112.2,423.5 112,421.6 112.2,419.4 112.7,417 113.5,414.5 114.7,412 116.1,409.5 117.7,407.1 119.4,404.8 121.1,402.7 122.9,400.7 124.6,398.9 126.1,397.1 127.6,395.4 128.8,393.7 130,392 131,390.2 131.9,388.3 132.8,386.4 133.7,384.4 134.5,382.5 135.4,380.5 136.4,378.7 137.4,377.1 138.4,375.7 139.4,374.6 140.3,373.9 141.1,373.6 141.6,373.7 141.9,374.3 141.9,375.3 141.6,376.6 140.8,378.2 139.7,380 138.2,381.8 136.5,383.7 134.5,385.5 132.4,387 130.3,388.3 128.3,389.2 126.5,389.8 125,390.1 123.9,390.1 123.1,389.7 122.9,389.1 123.1,388.4 123.7,387.6 124.8,386.7 126.2,385.8 127.9,385 129.8,384.2 131.9,383.5 134,382.9 136.1,382.3 138.2,381.7 140.3,381.1 142.3,380.3 144.3,379.5 146.3,378.5 148.3,377.4 150.4,376.2 152.6,374.9 154.9,373.5 157.4,372.2 160,370.9 162.7,369.7 165.5,368.7 168.3,367.9 171.1,367.5 173.6,367.3 176,367.4 178,367.9 179.6,368.5 180.7,369.4 181.2,370.4 181.2,371.5 180.7,372.6 179.6,373.6 178,374.4 176.1,375 173.8,375.4 171.4,375.6 169,375.5 166.6,375.3 164.5,374.9 162.6,374.4 161.1,373.8 159.9,373.4 159.2,373 158.9,372.8 158.9,372.8 159.3,373 159.9,373.5 160.7,374.2 161.6,375 162.6,375.9 163.6,376.9 164.6,377.9 165.6,378.7 166.6,379.4 167.6,380 168.8,380.3 170.1,380.5 171.7,380.4 173.4,380.3 175.5,380.1 177.8,379.9 180.4,379.8 183.2,380 186.1,380.3 189.2,380.9 192.2,381.9 195.1,383.1 197.8,384.7 200.3,386.5 202.3,388.5 203.9,390.5 205,392.5 205.6,394.5 205.7,396.1 205.4,397.5 204.7,398.6 203.7,399.1 202.5,399.3 201.1,399 199.7,398.3 198.4,397.2 197.1,395.9 196,394.5 195.1,393 194.5,391.5 194,390.2 193.6,389.2 193.4,388.5 193.2,388.1 193.1,388 192.9,388.3 192.6,388.9 192.3,389.7 191.8,390.6 191.2,391.6 190.6,392.6 189.9,393.5 189.3,394.3 188.9,394.9 188.6,395.3 188.6,395.6 188.9,395.8 189.6,396 190.6,396.2 192,396.6 193.7,397.2 195.6,398 197.6,399.2 199.7,400.7 201.7,402.6 203.6,404.8 205.3,407.3 206.6,409.9 207.6,412.6 208.2,415.3 208.3,417.9 208.2,420.2 207.7,422.2 207,423.8 206.1,424.9 205.2,425.6 204.3,425.8 203.5,425.6 203,425 202.6,424.1 202.6,423 202.7,421.8 203.2,420.6 203.7,419.5 204.4,418.5 205.1,417.7 205.8,417.1 206.3,416.7 206.6,416.5 206.7,416.4 206.5,416.5 206,416.5 205.2,416.6 204.3,416.6 203.2,416.5 202.1,416.2 201,415.8 200,415.3 199.3,414.7 198.9,414 198.8,413.4 199,413 199.6,412.8 200.5,412.8 201.6,413.3 203,414.1 204.4,415.3 205.7,417 207,419.1 208,421.4 208.8,424.1 209.2,426.8 209.3,429.6 209,432.3 208.4,434.8 207.6,437.1 206.7,439.1 205.6,440.7 204.6,441.9 203.7,442.7 203,443.2 202.5,443.4 202.4,443.3 202.6,443.2 203.1,443 203.8,442.7 204.8,442.6 205.9,442.5 207.1,442.5 208.2,442.7 209.2,442.9 210.1,443.1 210.7,443.4 211,443.5 211.1,443.5 210.9,443.3 210.6,442.8 210.1,442.1 209.5,441.2 209,439.9 208.6,438.5 208.3,437 208.2,435.5 208.4,434 208.9,432.7 209.6,431.8 210.6,431.1 211.7,430.9 212.8,431.2 214,432 215,433.3 215.9,435.1 216.5,437.3 216.8,439.7 216.7,442.4 216.2,445.2 215.4,448 214.2,450.7 212.8,453.2 211.2,455.6 209.6,457.6 207.9,459.4 206.3,460.8 204.9,462.1 203.6,463.2 202.7,464.1 202,465 201.6,465.8 201.5,466.8 201.6,467.8 201.8,468.9 202.1,470.1 202.5,471.3 202.9,472.6 203.2,473.9 203.4,475 203.5,475.9 203.6,476.6 203.6,477 203.6,476.9 203.7,476.5 203.8,475.7 204.1,474.5 204.6,473.1 205.4,471.4 206.3,469.6 207.6,467.8 209,466.1 210.5,464.6 212.2,463.4 213.8,462.6 215.4,462.3 216.7,462.4 217.8,462.9 218.6,463.9 218.9,465.2 218.8,466.9 218.2,468.7 217.1,470.7 215.7,472.7 213.8,474.6 211.7,476.4 209.3,478.1 206.8,479.6 204.2,480.9 201.6,482.1 199,483 196.6,483.9 194.4,484.7 192.3,485.6 190.3,486.4 188.5,487.3 186.7,488.3 185.1,489.4 183.4,490.6 181.8,491.9 180.2,493.2 178.6,494.4 177,495.6 175.4,496.6 173.9,497.5 172.6,498 171.5,498.3 170.7,498.3 170.2,498.1 170.2,497.5 170.7,496.8 171.6,495.9 173,495 174.8,494 176.9,493.1 179.4,492.4 181.9,491.8 184.5,491.5 187,491.4 189.3,491.5 191.3,491.9 192.9,492.4 193.9,493.1 194.5,493.8 194.5,494.5 194,495.2 193.1,495.7 191.7,496.1 190,496.3 188.1,496.3 185.9,496.2 183.7,495.9 181.4,495.5 179.1,495 176.8,494.5 174.5,494 172.2,493.6 170,493.2 167.7,493 165.4,492.8 162.9,492.7 160.4,492.7 157.8,492.7 155,492.6 152.2,492.4 149.4,492.2 146.5,491.7 143.8,491.1 141.2,490.2 138.9,489.2 136.9,488.1 135.3,486.8 134.2,485.5 133.6,484.3 133.5,483.2 133.9,482.2 134.9,481.6 136.2,481.2 137.9,481.2 139.9,481.6 142.1,482.3 144.2,483.3 146.4,484.6 148.3,486 150.1,487.5 151.5,488.9 152.6,490.2 153.4,491.3 153.9,492.1 154.1,492.6 154,492.7 153.8,492.4 153.4,491.8 152.9,490.9 152.4,489.8 151.9,488.5 151.4,487.1 150.9,485.7 150.3,484.3 149.7,483.1 149,481.9 148.2,480.9 147.1,479.9 145.8,479.1 144.3,478.2 142.5,477.2 140.5,476.2 138.3,475 136,473.5 133.6,471.9 131.3,469.9 129.1,467.7 127.1,465.3 125.4,462.8 124,460.1 123.1,457.5 122.6,455 122.5,452.8 122.7,450.8 123.4,449.2 124.3,448.1 125.4,447.5 126.6,447.4 127.8,447.8 128.9,448.6 130,449.9 130.8,451.4 131.4,453 131.8,454.8 132,456.5 132,458.1 131.9,459.4 131.8,460.5 131.7,461.2 131.6,461.6 131.7,461.7 132,461.5 132.4,461.1 133.1,460.5 133.9,459.8 134.8,459.1 135.9,458.5 136.9,457.9 137.8,457.4 138.5,457 139.1,456.7 139.3,456.3 139.2,456 138.9,455.5 138.2,454.9 137.2,454 136.1,452.8 134.8,451.3 133.6,449.5 132.4,447.3 131.4,444.9 130.6,442.2 130.1,439.4 130,436.6 130.2,433.8 130.8,431.2 131.6,428.9 132.7,426.9 133.9,425.4 135.2,424.3 136.5,423.7 137.6,423.5 138.5,423.7 139.1,424.3 139.4,425.1 139.4,426 139.1,427.1 138.6,428.1 137.8,429 136.9,429.8 136,430.4 135.2,430.8 134.5,431.1 134,431.2 133.7,431.2 133.8,431.2 134.2,431.1 134.8,431.2 135.6,431.3 136.6,431.7 137.6,432.2 138.6,432.8 139.5,433.6 140.2,434.4 140.7,435.3 140.9,436 140.8,436.6 140.4,437 139.8,437 139,436.6 138.2,435.9 137.3,434.7 136.5,433.1 135.9,431.2 135.5,428.9 135.5,426.5 135.8,423.9 136.4,421.4 137.4,418.9 138.6,416.7 140,414.7 141.5,413 143.1,411.7 144.6,410.7 145.9,410.1 147,409.7 147.7,409.6 148.2,409.6 148.2,409.7 148,409.8 147.4,409.9 146.6,409.8 145.7,409.6 144.7,409.2 143.7,408.7 142.8,408.2 142,407.6 141.4,407 141,406.6 140.9,406.4 140.9,406.4 141.1,406.6 141.4,407.2 141.7,408.1 141.9,409.2 142,410.5 142,411.9 141.7,413.4 141.2,414.8 140.5,416 139.6,416.9 138.6,417.5 137.5,417.7 136.4,417.4 135.4,416.6 134.7,415.4 134.2,413.8 134.1,411.9 134.3,409.7 135,407.4 136,405 137.5,402.6 139.2,400.4 141.3,398.4 143.4,396.7 145.7,395.2 148,394 150.1,393 152.1,392.3 153.8,391.7 155.3,391.2 156.5,390.7 157.4,390.2 158.1,389.6 158.6,388.8 159,387.9 159.2,386.8 159.4,385.5 159.6,384.2 159.8,382.9 160,381.6 160.3,380.4 160.5,379.5 160.7,378.8 160.9,378.5 160.8,378.4 160.6,378.7 160.1,379.4 159.3,380.3 158.3,381.4 156.9,382.5 155.2,383.7 153.4,384.8 151.4,385.8 149.4,386.4 147.4,386.8 145.6,386.8 144.1,386.4 142.9,385.7 142.1,384.7 141.8,383.4 142.1,382 142.9,380.5 144.2,379 146,377.6 148.1,376.3 150.6,375.2 153.4,374.4 156.3,373.8 159.3,373.4 162.2,373.3 165.1,373.3 167.9,373.5 170.5,373.7 173,373.9 175.4,374.2 177.6,374.3 179.7,374.3 181.7,374.2 183.7,374 185.7,373.7 187.8,373.3 189.8,372.9 191.8,372.5 193.8,372.1 195.6,371.8 197.3,371.7 198.8,371.7 199.9,371.8 200.7,372 201,372.3 200.8,372.7 200.1,373 198.9,373.3 197.3,373.4 195.2,373.4 192.9,373.1 190.3,372.6 187.7,371.9 185.2,370.9 182.9,369.8 180.8,368.5 179.1,367.2 177.9,366 177.2,364.8 177,363.8 177.3,363.1 178,362.6 179.1,362.4 180.6,362.6 182.3,363.1 184.2,363.9 186.2,365 188.2,366.2 190.3,367.6 192.3,369.2 194.3,370.7 196.4,372.2 198.4,373.8 200.4,375.2 202.5,376.6 204.7,377.9 206.9,379.2 209.3,380.6 211.7,381.9 214.3,383.3 216.8,384.8 219.3,386.5 221.7,388.2 224,390.1 226,392 227.7,394 229.1,395.9 230,397.8 230.5,399.4 230.5,400.8 230.2,401.8 229.4,402.4 228.3,402.6 226.9,402.2 225.3,401.4 223.7,400.1 222,398.5 220.5,396.5 219,394.3 217.8,392.1 216.8,389.9 216.1,387.8 215.6,386 215.3,384.6 215.2,383.5 215.2,383 215.3,382.8 215.4,383.1 215.5,383.8 215.6,384.8 215.6,386.1 215.5,387.6 215.4,389.1 215.3,390.7 215.2,392.3 215.3,393.9 215.4,395.5 215.8,397 216.4,398.5 217.2,400.1 218.2,401.8 219.4,403.6 220.7,405.6 222.2,407.9 223.6,410.4 225.1,413.1 226.3,416 227.4,419.1 228.1,422.3 228.5,425.5 228.6,428.6 228.3,431.5 227.7,434.1 226.8,436.3 225.7,438 224.4,439.2 223.1,439.8 221.8,439.9 220.6,439.5 219.6,438.6 218.8,437.3 218.4,435.6 218.2,433.8 218.3,432 218.6,430.1 219,428.4 219.6,426.8 220.1,425.6 220.6,424.6 221,423.9 221.1,423.5 220.9,423.4 220.5,423.4 219.8,423.6 218.9,423.8 217.8,424.1 216.6,424.3 215.3,424.6 214,424.7 212.9,424.8 212,424.9 211.3,425 210.9,425.3 210.7,425.7 210.8,426.3 211.1,427.3 211.6,428.5 212.1,430.1 212.5,432.1 212.9,434.4 213.1,436.9 212.9,439.7 212.5,442.5 211.8,445.3 210.7,448 209.3,450.5 207.6,452.7 205.9,454.5 204,455.9 202.2,456.9 200.5,457.3 199.1,457.4 197.9,457.1 197.1,456.5 196.8,455.7 196.8,454.8 197.1,453.9 197.8,453 198.7,452.2 199.7,451.6 200.8,451.1 201.8,450.8 202.6,450.7 203.3,450.6 203.7,450.7 203.8,450.7 203.6,450.6 203.1,450.4 202.5,450 201.7,449.4 200.8,448.7 199.9,447.8 199.2,446.7 198.6,445.6 198.2,444.5 198,443.6 198.1,442.8 198.4,442.2 198.8,442.1 199.4,442.3 199.9,442.9 200.4,444 200.8,445.4 200.8,447.2 200.6,449.2 200,451.4 199.1,453.7 197.8,455.9 196.2,458 194.4,459.9 192.3,461.5 190.2,462.7 188.1,463.6 186.1,464.2 184.3,464.4 182.8,464.5 181.6,464.3 180.9,464 180.4,463.8 180.4,463.6 180.6,463.6 181.1,463.7 181.8,464 182.5,464.5 183.3,465.2 184,466 184.6,466.8 185,467.6 185.3,468.3 185.4,468.8 185.5,469 185.4,469 185.3,468.6 185.2,467.9 185.3,466.9 185.5,465.8 185.9,464.5 186.5,463.2 187.3,461.9 188.2,460.8 189.3,460 190.5,459.5 191.6,459.3 192.6,459.6 193.5,460.3 194,461.4 194.2,462.8 193.9,464.4 193.2,466.2 192.1,468 190.5,469.8 188.5,471.5 186.3,473 183.7,474.1 181.1,475 178.4,475.5 175.7,475.7 173.2,475.7 170.9,475.4 168.8,475 167.1,474.5 165.7,474 164.5,473.6 163.6,473.4 162.8,473.5 162.2,473.7 161.7,474.2 161.2,475 160.6,475.9 160,476.9 159.3,477.9 158.6,478.9 157.9,479.9 157.2,480.6 156.7,481.2 156.3,481.6 156.3,481.7 156.5,481.6 157.1,481.3 158,481 159.3,480.6 161,480.2 162.8,479.9 164.9,479.8 167,480 169,480.3 170.8,480.9 172.4,481.8 173.6,482.8 174.3,484 174.6,485.2 174.3,486.5 173.4,487.6 172.1,488.6 170.3,489.3 168.1,489.7 165.7,489.8 163,489.6 160.3,489 157.6,488.1 154.9,486.9 152.4,485.5 150.1,484 147.9,482.5 145.9,480.9 144.1,479.5 142.5,478.1 140.9,477 139.3,476 137.8,475.2 136.2,474.6 134.5,474.1 132.8,473.7 130.9,473.3 129.1,472.9 127.3,472.5 125.5,472.1 124,471.6 122.6,471.1 121.6,470.5 121,470 120.8,469.6 121,469.4 121.6,469.4 122.7,469.7 124.1,470.2 125.7,471.2 127.5,472.4 129.4,473.9 131.3,475.7 133,477.7 134.4,479.7 135.6,481.8 136.4,483.7 136.8,485.4 136.8,486.8 136.5,487.9 135.8,488.5 134.9,488.6 133.7,488.3 132.5,487.6 131.2,486.4 129.8,484.9 128.5,483.1 127.3,481.1 126.2,479 125.1,476.8 124.1,474.6 123.1,472.4 122,470.2 121,468.1 119.8,466.1 118.5,464.1 117.1,462.1 115.6,460.1 113.9,458.1 112.2,455.9 110.5,453.6 108.9,451.2 107.4,448.8 106,446.2 104.9,443.7 104.1,441.3 103.6,439.1 103.4,437.1 103.6,435.4 104,434.2 104.7,433.4 105.6,433.2 106.7,433.6 107.7,434.5 108.8,435.9 109.7,437.7 110.5,439.9 111,442.4 111.4,444.9 111.5,447.4 111.4,449.8 111.2,452 110.8,453.8 110.4,455.2 110,456.2 109.7,456.7 109.5,456.8 109.5,456.5 109.6,455.8 110,454.9 110.5,453.7 111.1,452.4 111.8,451.1 112.5,449.7 113.2,448.3 113.7,446.8 114.2,445.4 114.4,443.9 114.5,442.3 114.3,440.5 114,438.6 113.5,436.4 113,434 112.5,431.3 112,428.3 111.7,425.2 111.7,421.9 111.9,418.6 112.4,415.2 113.2,412 114.3,409.1 115.7,406.4 117.3,404.2 119,402.5 120.7,401.4 122.3,400.7 123.7,400.7 124.9,401.1 125.8,402 126.3,403.3 126.4,404.9 126.1,406.6 125.5,408.4 124.7,410.2 123.6,411.9 122.5,413.4 121.4,414.7 120.4,415.7 119.6,416.5 119.1,417.1 118.8,417.5 119,417.8 119.4,418 120.2,418.2 121.1,418.4 122.3,418.6 123.6,418.9 124.8,419.3 126,419.6 127.1,420 127.9,420.2 128.6,420.3 129,420.2 129.3,419.8 129.4,419.1 129.5,418 129.6,416.5 129.7,414.6 130.1,412.5 130.7,410 131.7,407.5 132.9,404.8 134.6,402.2 136.5,399.7 138.7,397.5 141.1,395.6 143.7,394.2 146.2,393.1 148.6,392.5 150.7,392.4 152.6,392.6 154,393.1 155,393.8 155.5,394.7 155.6,395.6 155.3,396.5 154.5,397.3 153.5,397.9 152.4,398.3 151.1,398.5 149.9,398.6 148.8,398.6 147.9,398.5 147.3,398.4 146.9,398.4 146.7,398.5 146.9,398.8 147.2,399.3 147.6,400.1 148.1,401.1 148.6,402.3 149.1,403.6 149.4,404.9 149.5,406.3 149.4,407.5 149.2,408.5 148.9,409.2 148.5,409.5 148,409.5 147.7,409.1 147.5,408.2 147.6,407 148,405.5 148.7,403.8 149.9,401.9 151.4,400.1 153.4,398.4 155.6,396.9 158.2,395.6 160.8,394.8 163.5,394.3 166.1,394.1 168.6,394.3 170.8,394.9 172.6,395.6 174.1,396.5 175.2,397.3 175.8,398.2 176.1,398.8 176.1,399.2 175.8,399.4 175.4,399.2 174.9,398.7 174.4,398 174,397.2 173.7,396.2 173.5,395.2 173.4,394.2 173.4,393.4 173.5,392.9 173.5,392.6 173.5,392.6 173.4,392.9 173.2,393.5 172.7,394.3 172,395.3 171.1,396.3 170,397.2 168.8,398.1 167.4,398.7 166.1,399 164.9,399 163.8,398.7 163,398.1 162.6,397.2 162.6,396.1 163.1,394.8 164,393.5 165.4,392.3 167.3,391.3 169.5,390.5 172,390 174.7,389.9 177.4,390.2 180.1,390.8 182.7,391.8 185.1,393.1 187.2,394.5 188.9,396.1 190.3,397.7 191.4,399.1 192.3,400.4 192.9,401.4 193.4,402.2 193.8,402.6 194.2,402.7 194.7,402.5 195.4,402.1 196.1,401.5 197,400.8 198.1,400.1 199.1,399.5 200.2,398.9 201.2,398.5 202,398.2 202.5,398 202.8,397.8 202.7,397.8 202.2,397.7 201.4,397.5 200.2,397.3 198.8,396.8 197.1,396.2 195.4,395.3 193.7,394.3 192.2,393 190.9,391.6 189.9,390.1 189.3,388.6 189.2,387.1 189.6,385.9 190.4,384.9 191.7,384.2 193.3,383.9 195.2,384 197.3,384.6 199.4,385.6 201.6,387.1 203.7,388.8 205.7,390.9 207.4,393.1 208.9,395.5 210.3,397.8 211.4,400.2 212.3,402.4 213.2,404.4 214,406.2 214.8,407.9 215.7,409.3 216.7,410.6 217.8,411.7 219.1,412.8 220.5,413.8 222,414.8 223.5,415.8 225,416.9 226.4,417.9 227.7,419 228.8,420 229.5,420.9 230,421.6 230.1,422 229.9,422.1 229.4,421.8 228.7,421.2 227.8,420 226.9,418.5 225.9,416.6 224.9,414.4 224.2,412 223.6,409.5 223.2,407 223.2,404.6 223.4,402.5 223.9,400.8 224.6,399.4 225.5,398.6 226.4,398.3 227.4,398.5 228.4,399.2 229.3,400.4 230.1,402 230.7,404 231.2,406.1 231.5,408.5 231.7,411 231.7,413.5 231.7,416 231.7,418.4 231.7,420.8 231.8,423.2 232,425.6 232.3,428 232.7,430.5 233.2,433 233.7,435.6 234.3,438.3 234.8,441.1 235.3,444 235.6,446.9 235.8,449.8 235.7,452.6 235.4,455.1 234.9,457.4 234.3,459.3 233.5,460.8 232.6,461.7 231.7,462.1 230.9,461.9 230.3,461.2 229.8,459.9 229.6,458.2 229.6,456.1 230,453.8 230.6,451.3 231.5,448.8 232.6,446.4 233.9,444.2 235.1,442.3 236.3,440.8 237.4,439.6 238.3,438.9 238.9,438.5 239.2,438.5 239.2,438.8 238.8,439.3 238.2,440.1 237.3,440.9 236.2,441.9 235,442.9 233.8,443.9 232.6,445.1 231.4,446.2 230.4,447.5 229.5,448.9 228.7,450.5 228,452.3 227.3,454.3 226.7,456.7 226,459.2 225.1,462 224.1,465 222.9,468 221.4,471.1 219.6,474.2 217.5,477 215.3,479.6 212.9,481.9 210.4,483.7 207.9,485.1 205.6,485.9 203.5,486.3 201.7,486.2 200.4,485.6 199.5,484.8 199.2,483.6 199.4,482.3 200,480.8 201.1,479.4 202.5,478 204.2,476.8 206,475.7 207.8,474.8 209.5,474.1 211,473.5 212.3,473.1 213.2,472.8 213.7,472.5 213.8,472.1 213.6,471.7 213.1,471.2 212.3,470.6 211.4,469.9 210.4,469.1 209.4,468.2 208.5,467.4 207.6,466.7 206.9,466.2 206.3,465.9 205.7,465.9 205.2,466.2 204.6,466.9 203.9,468 203,469.4 201.9,471.1 200.4,473 198.5,475.1 196.3,477.1 193.8,479 190.9,480.7 187.9,482 184.6,483 181.4,483.6 178.3,483.8 175.4,483.6 172.8,483 170.6,482.1 168.9,481 167.7,479.8 167,478.6 166.9,477.5 167.2,476.6 167.9,475.9 168.9,475.6 170.1,475.5 171.4,475.6 172.7,476 173.9,476.5 175,477.1 175.9,477.7 176.6,478.1 177.1,478.4 177.4,478.4 177.6,478.2 177.7,477.6 177.7,476.7 177.8,475.6 177.9,474.3 178.2,473 178.5,471.6 179,470.3 179.6,469.2 180.1,468.3 180.7,467.8 181.2,467.6 181.4,467.8 181.4,468.3 181.1,469.1 180.4,470.1 179.2,471.2 177.6,472.3 175.6,473.2 173.2,474 170.5,474.5 167.7,474.6 164.7,474.2 161.9,473.5 159.2,472.4 156.7,470.9 154.6,469.2 153,467.4 151.7,465.5 150.9,463.7 150.5,462.2 150.4,460.9 150.6,459.9 151,459.4 151.4,459.2 151.8,459.4 152.2,460 152.4,460.7 152.5,461.7 152.3,462.7 152.1,463.7 151.8,464.6 151.4,465.4 151,465.9 150.8,466.2 150.7,466.3 150.8,466.2 151.2,465.9 151.9,465.5 152.8,465 154,464.6 155.3,464.3 156.8,464.1 158.2,464.2 159.5,464.4 160.7,464.9 161.5,465.6 162,466.4 162,467.3 161.6,468.1 160.7,468.9 159.4,469.4 157.7,469.6 155.8,469.5 153.6,469 151.4,468 149.2,466.7 147.2,465 145.4,463 143.8,460.8 142.6,458.5 141.7,456.2 141.2,453.9 140.9,451.9 140.9,450.2 140.9,448.8 141.1,447.7 141.2,447 141.1,446.6 140.9,446.4 140.5,446.5 139.9,446.7 139,447 138,447.3 136.9,447.5 135.7,447.6 134.5,447.7 133.5,447.6 132.7,447.5 132.1,447.3 131.8,447.2 131.9,447.2 132.2,447.3 132.9,447.6 133.8,448.2 134.8,449 136,450.1 137.1,451.4 138.1,453 138.8,454.7 139.4,456.4 139.5,458.1 139.4,459.6 138.8,460.9 138,461.8 136.8,462.3 135.5,462.4 134,462 132.5,461.1 131,459.7 129.6,458 128.4,455.9 127.4,453.6 126.7,451.1 126.3,448.6 126,446.1 126,443.6 126,441.4 126.2,439.3 126.3,437.4 126.3,435.8 126.3,434.3 126,432.9 125.6,431.6 124.9,430.4 124.1,429.1 123.2,427.8 122.1,426.4 121.1,425 120.1,423.5 119.2,422 118.4,420.6 117.8,419.3 117.5,418.2 117.4,417.3 117.5,416.9 117.7,416.8 118.1,417.2 118.5,418 118.9,419.3 119.2,420.9 119.4,422.9 119.4,425.2 119.1,427.5 118.7,429.9 117.9,432.1 117,434.2 115.9,435.8 114.8,437.1 113.6,437.9 112.4,438.2 111.4,438.1 110.5,437.4 109.9,436.3 109.5,434.9 109.4,433.1 109.6,431.2 110,429.1 110.6,427 111.4,424.8 112.3,422.7 113.2,420.6 114,418.5 114.9,416.5 115.6,414.4 116.2,412.3 116.7,410.1 117.1,407.8 117.5,405.3 117.9,402.8 118.3,400 118.8,397.3 119.4,394.4 120.2,391.6 121.1,388.9 122.2,386.3 123.4,384.1 124.7,382.2 126,380.6 127.2,379.6 128.3,379.1 129.2,379.1 129.8,379.5 130.1,380.5 130,381.8 129.4,383.4 128.4,385.3 127.1,387.2 125.5,389.2 123.6,391.1 121.6,392.8 119.6,394.2 117.7,395.4 115.9,396.3 114.4,396.9 113.3,397.2 112.6,397.2 112.3,397 112.4,396.7 112.9,396.3 113.7,395.9 114.8,395.4 116.1,394.9 117.5,394.4 119,393.9 120.5,393.3 121.9,392.6 123.3,391.7 124.6,390.7 125.9,389.4 127.3,387.9 128.7,386.1 130.2,384.1 131.9,381.9 133.9,379.5 136.1,377.1 138.6,374.7 141.3,372.3 144.3,370.2 147.5,368.4 150.8,366.9 154,365.7 157.1,365.1 160,364.8 162.6,365 164.7,365.5 166.3,366.3 167.3,367.2 167.7,368.4 167.5,369.5 166.7,370.6 165.4,371.6 163.7,372.3 161.8,372.9 159.6,373.3 157.3,373.4 155.2,373.4 153.1,373.3 151.4,373.2 149.9,373 148.8,372.9 148.1,373 147.7,373.2 147.6,373.7 147.8,374.3 148.1,375.2 148.6,376.2 149.1,377.3 149.6,378.4 150.2,379.5 150.7,380.4 151.2,381.1 151.8,381.6 152.4,381.7 153.2,381.5 154.2,381.1 155.5,380.3 157.2,379.3 159.2,378.3 161.7,377.2 164.5,376.2 167.6,375.5 171,375 174.6,374.9 178.2,375.2 181.8,375.9 185.2,377 188.2,378.4 190.9,380.2 193.1,382.1 194.7,384.1 195.8,386 196.4,387.8 196.5,389.3 196.2,390.4 195.5,391.2 194.5,391.6 193.4,391.5 192.2,391.1 191.1,390.3 190,389.3 189.1,388.2 188.3,387.1 187.6,386 187.1,385.2 186.7,384.5 186.3,384.2 186,384.2 185.6,384.5 185.1,385.1 184.5,385.9 183.8,386.9 182.9,388 182,389 181,390 180,390.8 179.1,391.3 178.4,391.7 177.9,391.8 177.8,391.6 178.1,391.4 178.8,391.1 180,390.8 181.5,390.6 183.5,390.7 185.7,391.1 188.2,391.8 190.7,393 193.2,394.5 195.6,396.5 197.7,398.7 199.5,401.2 200.9,403.8 201.9,406.5 202.5,409.1 202.6,411.4 202.5,413.5 202,415.1 201.4,416.4 200.8,417.2 200.1,417.6 199.6,417.6 199.2,417.3 199,416.7 199.1,415.9 199.3,415 199.8,414.2 200.4,413.4 201,412.7 201.6,412.2 202.2,411.9 202.5,411.8 202.6,411.8 202.5,411.9 202,412 201.2,412.1 200.2,412.1 199,412 197.7,411.8 196.4,411.3 195.1,410.7 194,409.9 193.2,409 192.7,408.1 192.6,407.3 192.8,406.5 193.5,406 194.5,405.8 195.7,406 197.2,406.6 198.7,407.6 200.3,409 201.7,410.8 202.9,412.9 203.9,415.3 204.6,417.9 204.9,420.4 204.9,422.9 204.7,425.3 204.2,427.4 203.6,429.2 202.9,430.7 202.2,431.8 201.7,432.6 201.3,433.2 201.2,433.5 201.3,433.6 201.7,433.7 202.4,433.7 203.3,433.7 204.3,433.9 205.4,434.1 206.5,434.5 207.5,434.9 208.3,435.4 209,435.9 209.3,436.3 209.5,436.6 209.3,436.6 208.9,436.4 208.4,436 207.8,435.2 207.1,434 206.5,432.7 206,431.1 205.7,429.4 205.6,427.6 205.9,425.9 206.4,424.4 207.1,423.1 208.1,422.3 209.3,421.8 210.5,421.8 211.8,422.3 213,423.3 214,424.7 214.7,426.5 215.2,428.6 215.5,430.9 215.4,433.3 215,435.7 214.3,438.1 213.5,440.3 212.6,442.4 211.6,444.3 210.7,446 209.8,447.5 209.1,448.9 208.6,450.2 208.3,451.4 208.2,452.7 208.2,454 208.5,455.4 208.8,456.9 209.2,458.5 209.5,460.1 209.9,461.8 210.1,463.5 210.2,465.1 210.1,466.5 210,467.6 209.7,468.4 209.4,468.8 209.1,468.8 208.9,468.3 208.9,467.5 209,466.2 209.4,464.6 210.1,462.8 211,460.8 212.2,458.9 213.6,457 215.2,455.4 216.9,454 218.6,453 220.2,452.4 221.7,452.3 222.9,452.5 223.8,453.2 224.3,454.2 224.4,455.5 224.1,456.9 223.5,458.5 222.5,460.2 221.3,461.9 219.8,463.5 218.2,465.1 216.5,466.6 214.8,468 213.1,469.4 211.5,470.8 209.9,472.3 208.4,473.8 207,475.4 205.7,477.1 204.3,479 202.9,481 201.4,483.1 199.8,485.2 198,487.3 196.2,489.3 194.3,491.3 192.3,493 190.3,494.4 188.3,495.5 186.6,496.3 185,496.6 183.8,496.7 183,496.3 182.7,495.7 182.9,494.8 183.6,493.8 184.8,492.7 186.4,491.6 188.5,490.5 190.8,489.6 193.3,488.9 195.8,488.4 198.3,488.1 200.6,488 202.6,488.1 204.2,488.4 205.4,488.7 206.1,489.1 206.4,489.5 206.2,489.9 205.6,490.1 204.7,490.3 203.5,490.3 202.1,490.2 200.6,490.1 199,489.9 197.4,489.8 195.8,489.8 194.1,489.9 192.4,490.1 190.7,490.6 188.8,491.2 186.7,492 184.5,493 182,494.1 179.3,495.2 176.3,496.2 173.1,497.1 169.7,497.8 166.2,498.3 162.6,498.4 159.2,498.2 155.9,497.7 152.9,496.9 150.3,495.9 148.1,494.6 146.5,493.3 145.5,491.9 145,490.6 145.1,489.5 145.8,488.6 146.9,488.1 148.4,487.9 150.2,488 152.2,488.5 154.3,489.3 156.3,490.3 158.2,491.5 159.9,492.7 161.4,493.8 162.6,494.8 163.5,495.6 164.2,496.1 164.7,496.3 164.9,496.1 165,495.7 165.1,494.9 165.1,494 165,492.9 165,491.7 164.9,490.6 164.8,489.5 164.6,488.6 164.3,487.9 163.7,487.5 162.9,487.2 161.7,487 160.2,486.9 158.3,486.9 156,486.7 153.4,486.4 150.6,485.9 147.5,485 144.3,483.8 141.2,482.2 138.2,480.2 135.4,477.9 132.9,475.4 130.9,472.7 129.3,470 128.3,467.3 127.7,464.8 127.5,462.6 127.8,460.8 128.3,459.4 129.1,458.5 130.1,458.2 131.1,458.3 132,458.8 132.9,459.8 133.6,461 134.1,462.4 134.5,463.8 134.7,465.3 134.7,466.6 134.8,467.7 134.8,468.5 134.9,469.1 135.1,469.3 135.5,469.3 136.1,469.1 136.9,468.7 137.9,468.2 139.1,467.7 140.4,467.2 141.6,466.8 142.8,466.6 143.8,466.4 144.6,466.4 145.1,466.4 145.2,466.5 144.9,466.5 144.2,466.4 143.1,466 141.7,465.4 140.1,464.4 138.3,463 136.5,461.2 134.8,459 133.2,456.5 132,453.7 131,450.8 130.5,447.8 130.3,444.8 130.5,442 131,439.4 131.8,437.2 132.7,435.5 133.7,434.1 134.8,433.2 135.7,432.7 136.4,432.7 136.9,432.9 137.1,433.4 137,434 136.7,434.7 136.1,435.4 135.4,436 134.6,436.5 133.8,436.9 133.1,437.1 132.6,437.1 132.4,437.1 132.4,437.1 132.7,437.1 133.3,437.1 134.1,437.3 135.1,437.7 136.3,438.2 137.4,439 138.5,439.9 139.5,441 140.2,442.1 140.6,443.2 140.8,444.2 140.6,445 140.1,445.5 139.3,445.7 138.4,445.5 137.4,444.8 136.3,443.7 135.4,442.1 134.6,440.2 134,438 133.7,435.6 133.8,433.1 134.2,430.5 134.9,428.1 135.8,425.8 137,423.8 138.2,422.1 139.4,420.7 140.6,419.6 141.6,418.8 142.4,418.3 142.9,417.9 143.1,417.6 143.1,417.4 142.7,417.2 142.1,416.9 141.4,416.5 140.6,416 139.7,415.3 138.9,414.6 138.3,413.8 137.8,413.1 137.5,412.5 137.4,412 137.6,411.8 137.9,411.9 138.3,412.3 138.7,413 139.1,414 139.4,415.4 139.6,416.9 139.5,418.6 139.3,420.3 138.7,421.9 137.9,423.3 137,424.5 135.9,425.3 134.7,425.6 133.5,425.6 132.5,425.1 131.6,424.1 131,422.7 130.7,421.1 130.7,419.1 131.1,417.1 131.8,414.9 132.8,412.8 134.1,410.8 135.6,409 137.2,407.3 138.8,405.8 140.4,404.5 141.9,403.3 143.2,402.3 144.3,401.3 145.3,400.4 146,399.4 146.6,398.3 147.1,397 147.4,395.7 147.7,394.2 148,392.6 148.4,391 148.8,389.3 149.3,387.8 149.9,386.3 150.6,385.1 151.2,384.2 151.8,383.6 152.2,383.4 152.5,383.6 152.5,384.2 152.2,385 151.6,386.2 150.6,387.5 149.3,388.9 147.8,390.3 145.9,391.7 144,392.8 141.9,393.7 139.9,394.2 138,394.5 136.4,394.3 135.1,393.9 134.2,393.2 133.7,392.2 133.7,391.1 134.1,389.8 135,388.6 136.2,387.4 137.7,386.3 139.5,385.2 141.5,384.3 143.6,383.6 145.7,382.9 147.8,382.3 149.9,381.7 151.9,381.1 153.9,380.4 155.8,379.7 157.7,378.8 159.7,377.9 161.7,376.8 163.8,375.6 166,374.5 168.3,373.3 170.7,372.2 173.2,371.1 175.7,370.3 178.2,369.6 180.6,369.2 182.7,369 184.6,369.1 186.2,369.4 187.3,369.9 187.8,370.5 187.9,371.1 187.4,371.8 186.3,372.3 184.8,372.8 182.8,373 180.5,373 178.1,372.7 175.5,372.3 173,371.6 170.6,370.7 168.5,369.7 166.7,368.7 165.4,367.7 164.5,366.8 164,366.1 163.9,365.5 164.3,365.3 164.9,365.2 165.8,365.4 166.9,365.8 168.2,366.4 169.5,367.1 170.9,367.9 172.4,368.7 173.9,369.4 175.5,370 177.2,370.5 179,370.9 181.1,371.2 183.3,371.4 185.8,371.6 188.5,371.8 191.4,372.1 194.6,372.5 197.9,373.2 201.2,374.1 204.5,375.3 207.8,376.7 210.8,378.4 213.5,380.3 215.9,382.4 217.8,384.4 219.2,386.5 220.1,388.4 220.4,390.1 220.3,391.4 219.8,392.3 218.8,392.8 217.6,392.7 216.2,392.2 214.7,391.2 213.1,389.8 211.6,388.2 210.3,386.3 209.1,384.3 208,382.3 207.2,380.5 206.6,378.9 206.1,377.7 205.8,376.8 205.5,376.3 205.2,376.2 204.9,376.5 204.6,377.1 204.2,377.9 203.8,378.8 203.4,379.9 203,380.9 202.8,382 202.6,382.9 202.7,383.8 203,384.5 203.7,385.3 204.7,386.1 206,386.9 207.7,388 209.7,389.2 211.9,390.8 214.2,392.6 216.6,394.9 218.9,397.5 221.1,400.4 223,403.6 224.5,406.9 225.7,410.4 226.4,413.7 226.7,417 226.5,419.9 226,422.5 225.2,424.6 224.3,426.2 223.2,427.2 222.1,427.7 221.1,427.6 220.2,427.1 219.6,426.1 219.2,424.9 219.1,423.4 219.2,421.9 219.5,420.3 219.9,418.9 220.4,417.6 220.8,416.5 221.1,415.6 221.2,415 221.1,414.6 220.8,414.4 220.1,414.3 219.2,414.3 218,414.2 216.8,414.2 215.4,414.1 214.1,413.9 212.9,413.7 211.9,413.4 211.1,413.1 210.7,412.9 210.6,412.9 210.9,413.1 211.5,413.6 212.3,414.4 213.3,415.7 214.3,417.4 215.4,419.5 216.3,422 217,424.8 217.3,427.8 217.4,431 217,434.2 216.3,437.3 215.3,440.2 214,442.8 212.4,445.1 210.8,446.9 209.2,448.2 207.7,449.1 206.4,449.6 205.4,449.8 204.7,449.6 204.3,449.2 204.3,448.7 204.6,448.2 205.2,447.7 206,447.3 206.9,446.9 207.8,446.7 208.6,446.7 209.3,446.6 209.7,446.7 209.9,446.7 209.8,446.6 209.5,446.4 208.9,446 208.1,445.4 207.3,444.5 206.4,443.5 205.6,442.2 204.9,440.9 204.4,439.5 204.1,438.1 204.1,436.9 204.3,436 204.8,435.3 205.4,435.1 206.1,435.2 206.9,435.9 207.5,437 208,438.5 208.2,440.4 208.2,442.5 207.8,444.8 207,447.3 205.9,449.7 204.5,451.9 202.8,454 201,455.8 199.1,457.3 197.2,458.5 195.4,459.4 193.8,460 192.4,460.4 191.4,460.7 190.6,460.9 190.2,461.1 190.1,461.3 190.2,461.7 190.5,462.2 191,462.8 191.4,463.6 191.9,464.5 192.3,465.4 192.5,466.3 192.7,467.1 192.7,467.7 192.5,468 192.3,468.1 192.1,467.8 191.9,467.2 191.8,466.2 191.8,465 192.1,463.5 192.5,461.9 193.2,460.3 194.1,458.8 195.3,457.5 196.5,456.4 197.8,455.7 199.1,455.4 200.2,455.5 201.2,456 201.9,456.9 202.2,458.1 202.1,459.6 201.7,461.3 200.8,463 199.5,464.7 197.9,466.3 196,467.8 193.9,469.1 191.7,470.2 189.5,471 187.3,471.6 185.2,472 183.2,472.4 181.5,472.6 180,472.8 178.6,473.1 177.5,473.5 176.4,474 175.5,474.7 174.6,475.5 173.7,476.5 172.7,477.5 171.8,478.6 170.7,479.7 169.6,480.8 168.5,481.7 167.5,482.4 166.6,482.9 165.8,483.1 165.3,483.1 165.1,482.8 165.3,482.4 165.9,481.7 166.9,481 168.3,480.3 170,479.6 172,479 174.2,478.6 176.4,478.5 178.6,478.6 180.6,478.9 182.3,479.5 183.7,480.4 184.7,481.3 185.2,482.4 185.1,483.4 184.7,484.4 183.7,485.3 182.4,486 180.7,486.4 178.8,486.7 176.8,486.7 174.6,486.5 172.4,486.1 170.3,485.6 168.2,485 166.2,484.4 164.2,483.8 162.4,483.2 160.5,482.7 158.7,482.4 156.8,482.1 154.9,481.9 152.8,481.8 150.7,481.7 148.5,481.7 146.2,481.5 143.8,481.3 141.4,480.9 139.2,480.5 137.1,479.8 135.2,479.1 133.6,478.2 132.5,477.3 131.7,476.5 131.5,475.7 131.7,475.1 132.3,474.7 133.4,474.7 134.8,474.9 136.5,475.5 138.4,476.5 140.4,477.8 142.3,479.4 144.1,481.1 145.7,483 147,484.8 147.9,486.6 148.6,488.1 148.9,489.4 148.8,490.3 148.5,490.9 148,491.1 147.4,490.9 146.6,490.3 145.8,489.5 144.9,488.4 144.1,487.1 143.2,485.8 142.3,484.4 141.5,483 140.5,481.7 139.4,480.5 138.2,479.3 136.8,478.2 135.2,477 133.4,475.9 131.3,474.6 129.1,473.2 126.7,471.7 124.3,469.9 121.9,467.8 119.5,465.6 117.4,463.2 115.4,460.6 113.8,457.9 112.6,455.3 111.8,452.8 111.3,450.5 111.3,448.5 111.6,447 112.2,445.9 113.1,445.3 114.1,445.3 115.1,445.9 116.1,447 117,448.5 117.8,450.3 118.3,452.4 118.7,454.7 118.8,456.9 118.8,459 118.7,460.9 118.5,462.5 118.2,463.8 118.1,464.7 118,465.2 118.1,465.4 118.3,465.3 118.7,464.9 119.3,464.3 120,463.6 120.7,462.9 121.5,462.1 122.1,461.4 122.7,460.6 123,459.9 123,459.1 122.8,458.3 122.2,457.3 121.4,456 120.3,454.5 119,452.7 117.6,450.6 116.2,448 114.9,445.1 113.8,441.9 112.9,438.5 112.3,435 112.2,431.4 112.4,427.8 113,424.5 113.9,421.5 115.1,418.9 116.5,416.7 117.9,415.1 119.4,414.1 120.7,413.6 121.7,413.6 122.5,414.1 123,415 123.1,416.1 122.9,417.4 122.4,418.8 121.6,420.2 120.7,421.5 119.7,422.7 118.8,423.7 117.9,424.5 117.3,425.2 117,425.8 116.9,426.2 117.2,426.6 117.8,426.9 118.6,427.4 119.6,427.9 120.8,428.4 121.9,429.1 123.1,429.8 124,430.5 124.8,431.2 125.3,431.7 125.5,432.1 125.5,432.1 125.3,431.8 124.8,431.1 124.3,429.9 123.8,428.3 123.4,426.3 123.2,423.8 123.3,421.1 123.7,418.1 124.5,415 125.7,411.9 127.3,409 129.1,406.2 131.2,403.8 133.5,401.8 135.8,400.1 138,399 140.1,398.2 141.9,397.9 143.3,397.8 144.3,398 144.9,398.4 145.1,398.8 144.9,399.2 144.4,399.6 143.7,399.8 142.7,399.9 141.8,399.8 140.8,399.7 140,399.5 139.3,399.4 138.9,399.3 138.7,399.3 138.7,399.6 138.9,400.1 139.3,400.8 139.7,401.9 140.1,403.1 140.5,404.6 140.8,406.2 140.9,407.8 140.8,409.3 140.5,410.7 140,411.8 139.4,412.6 138.8,413 138.1,413 137.6,412.5 137.2,411.5 137.1,410.1 137.3,408.5 137.9,406.5 138.9,404.4 140.3,402.3 142.1,400.3 144.2,398.4 146.6,396.7 149.1,395.4 151.7,394.4 154.3,393.7 156.7,393.3 158.9,393.2 160.9,393.2 162.5,393.4 163.8,393.7 164.7,393.9 165.3,394 165.7,393.9 165.8,393.7 165.9,393.2 165.8,392.5 165.7,391.7 165.7,390.8 165.7,389.8 165.9,389 166,388.2 166.2,387.7 166.4,387.5 166.5,387.5 166.5,387.9 166.4,388.6 166,389.5 165.3,390.7 164.4,391.9 163.3,393.2 161.9,394.4 160.4,395.5 158.8,396.3 157.2,396.8 155.7,397 154.4,396.8 153.4,396.3 152.8,395.5 152.6,394.4 152.9,393.2 153.6,391.9 154.8,390.7 156.5,389.5 158.5,388.5 160.7,387.8 163.2,387.3 165.8,387.1 168.4,387.2 170.9,387.6 173.3,388.2 175.5,388.9 177.5,389.7 179.2,390.5 180.7,391.3 182,392 183.2,392.5 184.3,392.8 185.3,392.9 186.3,392.8 187.4,392.6 188.6,392.2 189.8,391.7 191.1,391.3 192.5,390.9 193.8,390.6 195,390.4 196,390.4 196.8,390.5 197.3,390.7 197.4,391 197,391.3 196.3,391.5 195.2,391.7 193.7,391.7 191.9,391.4 189.9,391 187.9,390.3 185.8,389.4 184,388.3 182.3,387 181.1,385.7 180.2,384.3 179.7,383 179.8,381.8 180.2,380.9 181.1,380.2 182.3,379.8 183.8,379.8 185.5,380.2 187.3,380.9 189.2,381.9 191,383.1 192.8,384.6 194.4,386.1 196,387.8 197.4,389.4 198.7,391 200,392.5 201.3,393.8 202.6,395.1 203.9,396.2 205.4,397.3 207,398.2 208.7,399.2 210.5,400.2 212.4,401.3 214.4,402.4 216.2,403.7 218,405 219.6,406.4 221,407.9 222,409.2 222.7,410.5 223,411.6 223,412.4 222.6,412.8 221.9,412.8 220.9,412.4 219.8,411.6 218.6,410.3 217.4,408.6 216.3,406.6 215.3,404.4 214.5,402 214,399.7 213.7,397.5 213.7,395.4 213.9,393.7 214.3,392.4 214.8,391.5 215.4,391.1 216,391.1 216.6,391.6 217.1,392.4 217.5,393.5 217.9,394.8 218.1,396.4 218.3,398 218.5,399.6 218.6,401.2 218.9,402.9 219.3,404.5 219.8,406 220.5,407.7 221.5,409.4 222.6,411.2 223.8,413.2 225.2,415.3 226.6,417.7 228,420.3 229.4,423.2 230.5,426.1 231.4,429.2 232.1,432.4 232.4,435.4 232.4,438.3 232.1,440.9 231.6,443.1 230.8,444.9 229.9,446.2 228.9,446.9 228,447 227.2,446.6 226.5,445.7 226.1,444.3 226,442.5 226.2,440.5 226.6,438.4 227.3,436.2 228.2,434.1 229.2,432.1 230.2,430.4 231.2,429 232,428 232.6,427.2 233,426.7 233.1,426.5 232.9,426.5 232.4,426.7 231.7,427 230.9,427.3 229.9,427.7 228.9,428.1 228,428.6 227.3,429 226.7,429.6 226.3,430.3 226.2,431.3 226.3,432.5 226.5,434 226.9,435.9 227.2,438.2 227.6,440.8 227.7,443.8 227.7,447 227.3,450.5 226.6,454 225.5,457.6 224.1,461 222.3,464.1 220.3,466.9 218.1,469.3 215.9,471.3 213.7,472.6 211.7,473.5 209.9,473.9 208.5,473.8 207.6,473.4 207.1,472.6 207,471.7 207.5,470.6 208.3,469.5 209.4,468.5 210.8,467.5 212.3,466.7 213.8,466 215.2,465.5 216.4,465 217.4,464.7 218,464.3 218.3,463.9 218.3,463.4 218.1,462.8 217.6,462 216.9,461.1 216.1,460.1 215.4,459 214.7,457.9 214.2,456.8 213.8,455.9 213.5,455.3 213.4,454.9 213.4,454.9 213.5,455.4 213.5,456.3 213.4,457.7 213.1,459.5 212.5,461.6 211.6,464 210.2,466.6 208.5,469.2 206.3,471.8 203.7,474.2 200.9,476.3 197.9,478.1 194.7,479.5 191.6,480.4 188.7,480.9 186,481 183.6,480.8 181.7,480.3 180.3,479.7 179.3,479 178.9,478.4 178.8,477.9 179.1,477.6 179.7,477.5 180.5,477.6 181.5,477.9 182.4,478.4 183.3,478.9 184,479.5 184.7,480 185.1,480.3 185.5,480.4 185.7,480.2 185.9,479.6 186,478.8 186.2,477.7 186.4,476.4 186.8,474.9 187.3,473.3 187.9,471.8 188.7,470.4 189.6,469.2 190.5,468.4 191.3,467.9 192.1,467.8 192.6,468.1 192.8,468.8 192.7,469.9 192.1,471.2 191,472.6 189.5,474.1 187.6,475.6 185.2,476.8 182.5,477.9 179.6,478.6 176.5,479 173.4,478.9 170.4,478.5 167.6,477.8 165.1,476.8 162.9,475.7 161.1,474.4 159.7,473.2 158.7,472.1 157.9,471.2 157.5,470.5 157.2,470.1 157,470.1 156.9,470.3 156.7,470.8 156.5,471.5 156.2,472.2 155.8,473 155.4,473.8 154.9,474.4 154.5,474.9 154.2,475.1 154.1,475.1 154.2,474.9 154.6,474.5 155.4,473.9 156.4,473.3 157.7,472.7 159.3,472.2 161.1,471.8 162.9,471.5 164.7,471.5 166.4,471.8 167.8,472.3 168.9,473 169.5,473.9 169.8,474.8 169.5,475.8 168.7,476.6 167.5,477.3 165.8,477.8 163.9,477.9 161.7,477.7 159.3,477.2 156.9,476.2 154.6,475 152.5,473.4 150.5,471.6 148.8,469.7 147.4,467.7 146.3,465.8 145.4,464.1 144.7,462.5 144.1,461.1 143.6,460.1 143.1,459.3 142.5,458.7 141.8,458.4 140.9,458.1 139.9,458 138.8,457.9 137.5,457.8 136.3,457.6 135,457.4 133.9,457 133,456.6 132.4,456.2 132,455.8 132,455.4 132.4,455.2 133.1,455.2 134.1,455.5 135.4,456 136.8,456.9 138.3,458 139.7,459.5 141,461.1 142.1,462.8 142.9,464.6 143.4,466.4 143.5,468 143.3,469.3 142.7,470.4 141.9,471 140.8,471.2 139.6,470.9 138.3,470.3 137,469.2 135.8,467.7 134.7,466 133.8,464.1 133.1,462 132.5,460 132,457.9 131.7,455.9 131.4,454.1 131.1,452.4 130.8,450.8 130.3,449.3 129.7,448 128.9,446.7 127.9,445.4 126.8,444.1 125.6,442.6 124.3,441.1 123,439.5 121.8,437.7 120.7,435.9 119.8,434.1 119.1,432.3 118.7,430.7 118.6,429.3 118.8,428.3 119.1,427.6 119.7,427.3 120.4,427.5 121.1,428.2 121.8,429.4 122.4,431 122.8,432.9 123,435 123,437.3 122.7,439.6 122.2,441.9 121.5,443.9 120.7,445.6 119.8,446.9 118.9,447.8 118,448.3 117.3,448.4 116.7,448 116.3,447.4 116.1,446.4 116.2,445.2 116.4,443.9 116.8,442.5 117.3,441 117.8,439.6 118.3,438.2 118.7,436.8 119,435.3 119.1,433.8 119,432.2 118.8,430.5 118.4,428.6 117.9,426.4 117.4,424 116.9,421.4 116.5,418.5 116.3,415.5 116.3,412.3 116.6,409.1 117.1,406.1 117.9,403.1 119,400.5 120.2,398.2 121.5,396.4 122.9,395.1 124.2,394.3 125.3,394 126.1,394.3 126.7,395 126.8,396.1 126.6,397.6 125.9,399.2 125,401 123.6,402.7 122.1,404.4 120.5,406 118.8,407.3 117.2,408.4 115.8,409.3 114.6,409.9 113.7,410.3 113.2,410.5 113.1,410.6 113.3,410.7 113.8,410.7 114.5,410.7 115.4,410.7 116.3,410.7 117.3,410.7 118.2,410.7 119.1,410.5 119.7,410.2 120.2,409.6 120.6,408.7 120.9,407.5 121.2,406 121.6,404 122.1,401.7 122.8,399 123.8,396.1 125.1,393 126.8,389.8 128.9,386.7 131.4,383.8 134.1,381.2 137.1,378.9 140.1,377 143.2,375.6 146.1,374.7 148.7,374.3 150.9,374.3 152.7,374.6 154,375.2 154.7,376 154.8,376.8 154.4,377.7 153.5,378.4 152.3,379 150.7,379.5 149,379.8 147.2,379.9 145.4,379.9 143.8,379.8 142.4,379.7 141.3,379.7 140.4,379.8 139.9,380.1 139.6,380.6 139.5,381.3 139.6,382.3 139.8,383.4 140,384.7 140.2,386 140.3,387.3 140.4,388.4 140.4,389.4 140.3,390 140.3,390.3 140.3,390.2 140.5,389.6 140.9,388.7 141.7,387.4 142.8,385.7 144.4,383.9 146.4,382 149,380.1 151.9,378.4 155.2,376.9 158.8,375.8 162.5,375.1 166.2,374.9 169.9,375.1 173.3,375.7 176.4,376.6 179.1,377.8 181.3,379.2 182.9,380.6 184,382 184.7,383.1 184.9,384.1 184.7,384.6 184.3,384.9 183.7,384.8 183,384.4 182.3,383.7 181.6,382.8 181,381.9 180.4,381 180,380.2 179.6,379.6 179.2,379.2 178.8,379.2 178.4,379.5 177.8,380 177.1,380.9 176.2,381.9 175.1,383 173.9,384.2 172.6,385.3 171.3,386.2 170,386.9 168.8,387.3 167.8,387.4 167.1,387.2 166.8,386.7 167,386.1 167.7,385.3 168.8,384.5 170.5,383.8 172.7,383.3 175.2,383 178,383.1 181,383.6 184,384.6 187,385.9 189.7,387.7 192.3,389.7 194.4,391.9 196.2,394.3 197.5,396.6 198.4,398.8 199,400.8 199.3,402.5 199.4,403.9 199.4,404.8 199.3,405.4 199.3,405.6 199.4,405.5 199.7,405.2 200,404.7 200.6,404.2 201.2,403.6 201.9,403.2 202.6,402.8 203.1,402.6 203.5,402.5 203.6,402.5 203.5,402.6 203,402.8 202.2,402.9 201,403 199.6,402.9 198,402.7 196.3,402.3 194.7,401.7 193.1,400.8 191.7,399.9 190.7,398.8 190,397.7 189.8,396.6 190,395.7 190.6,395.1 191.6,394.7 192.9,394.7 194.5,395.1 196.2,396 198,397.3 199.7,398.9 201.3,400.9 202.6,403.2 203.7,405.7 204.5,408.2 204.9,410.7 205.2,413 205.2,415.2 205.1,417.2 204.9,418.8 204.7,420.2 204.6,421.2 204.7,422.1 204.9,422.7 205.4,423.2 206,423.7 206.9,424.1 207.9,424.6 208.9,425.2 210,425.8 211,426.5 211.8,427.3 212.5,428 212.8,428.7 212.9,429.3 212.8,429.6 212.3,429.7 211.6,429.4 210.8,428.9 209.9,427.9 209,426.6 208.1,425 207.4,423.2 206.9,421.3 206.7,419.3 206.8,417.4 207.1,415.7 207.7,414.3 208.5,413.2 209.5,412.5 210.5,412.3 211.6,412.6 212.6,413.4 213.5,414.5 214.2,416 214.6,417.8 214.9,419.7 214.9,421.8 214.6,423.9 214.3,425.9 213.8,427.9 213.3,429.7 212.7,431.4 212.3,433 212,434.4 211.9,435.8 211.9,437.2 212.1,438.6 212.5,440.1 213,441.7 213.5,443.4 214.1,445.3 214.6,447.2 215,449.3 215.3,451.3 215.4,453.3 215.3,455.2 215,456.8 214.6,458.1 214,459 213.4,459.5 212.8,459.5 212.3,459 212,458.1 211.9,456.8 212,455.2 212.4,453.3 213.2,451.3 214.2,449.3 215.4,447.3 216.8,445.6 218.3,444.1 219.8,442.9 221.3,442.2 222.5,441.8 223.6,441.7 224.3,442 224.7,442.6 224.8,443.4 224.6,444.4 224.1,445.5 223.4,446.6 222.5,447.8 221.4,448.9 220.4,450 219.4,451.1 218.4,452.2 217.6,453.4 216.9,454.7 216.2,456.2 215.7,457.9 215.2,459.8 214.7,461.9 214.1,464.3 213.4,466.8 212.5,469.6 211.3,472.4 210,475.1 208.3,477.8 206.5,480.4 204.5,482.6 202.4,484.5 200.3,486 198.3,487 196.5,487.7 195.1,487.8 194,487.6 193.3,487 193.2,486.2 193.5,485.2 194.4,484 195.7,482.9 197.5,481.8 199.5,480.8 201.7,480 203.9,479.4 206.1,479 208.1,478.8 209.9,478.7 211.3,478.7 212.3,478.8 213,478.9 213.3,478.9 213.2,478.8 212.8,478.7 212.2,478.5 211.4,478.1 210.5,477.8 209.6,477.4 208.8,477.1 207.9,476.9 207.1,477 206.3,477.3 205.5,477.9 204.6,478.9 203.6,480.1 202.3,481.7 200.7,483.6 198.8,485.6 196.5,487.7 193.8,489.8 190.8,491.7 187.4,493.5 183.9,494.9 180.2,495.9 176.5,496.5 172.9,496.7 169.5,496.5 166.5,496 164,495.1 161.9,494 160.5,492.9 159.6,491.8 159.3,490.7 159.6,489.9 160.3,489.3 161.4,489.1 162.9,489.1 164.5,489.5 166.2,490.1 167.9,490.9 169.5,491.9 171,492.8 172.2,493.7 173.3,494.4 174.2,494.8 174.9,495 175.4,494.8 175.8,494.4 176.2,493.7 176.6,492.7 177,491.6 177.4,490.4 177.8,489.2 178.2,488.2 178.6,487.4 178.9,486.8 179,486.5 178.8,486.6 178.4,486.9 177.5,487.5 176.1,488.2 174.3,489 172,489.8 169.3,490.4 166.1,490.7 162.7,490.8 159.1,490.4 155.4,489.5 151.8,488.3 148.4,486.6 145.3,484.6 142.5,482.3 140.3,479.9 138.5,477.5 137.3,475.1 136.5,473 136.2,471.2 136.2,469.8 136.5,468.9 137,468.4 137.5,468.3 138.1,468.7 138.6,469.3 139,470.3 139.2,471.4 139.4,472.5 139.4,473.6 139.4,474.6 139.5,475.4 139.6,476 139.8,476.3 140.3,476.4 140.9,476.2 141.8,475.9 143,475.5 144.4,475 145.9,474.6 147.5,474.3 149,474.1 150.5,474 151.7,474.2 152.6,474.5 153.2,474.9 153.3,475.4 152.9,475.8 152,476 150.7,476.1 149,475.8 147,475.2 144.8,474.2 142.4,472.7 140.2,470.7 138.1,468.4 136.2,465.8 134.6,462.9 133.4,460 132.7,457 132.3,454.1 132.2,451.5 132.4,449.2 132.8,447.2 133.4,445.6 133.9,444.4 134.4,443.7 134.7,443.3 134.9,443.1 134.8,443.2 134.5,443.5 134,443.8 133.3,444.1 132.6,444.3 131.8,444.4 131.1,444.5 130.6,444.4 130.3,444.3 130.2,444.1 130.5,444 131,444 131.9,444.1 132.9,444.4 134.2,445 135.6,445.7 136.9,446.7 138.2,447.9 139.2,449.2 140.1,450.6 140.6,451.9 140.7,453.2 140.5,454.2 140,454.9 139.2,455.2 138.2,455.1 137.1,454.5 136,453.5 134.9,452.1 133.9,450.2 133.2,448.1 132.7,445.7 132.5,443.2 132.7,440.7 133.1,438.3 133.7,436 134.5,434 135.4,432.2 136.2,430.7 137,429.5 137.7,428.5 138.1,427.7 138.3,427 138.3,426.4 138,425.9 137.5,425.3 136.9,424.6 136.1,423.8 135.4,422.9 134.6,421.9 134.1,420.9 133.6,419.9 133.4,419 133.4,418.2 133.6,417.7 134,417.4 134.5,417.5 135.2,418 135.8,418.9 136.4,420.1 136.8,421.6 137.1,423.3 137.1,425.1 136.8,427 136.3,428.8 135.6,430.4 134.7,431.8 133.6,432.7 132.5,433.3 131.4,433.4 130.4,433.1 129.6,432.4 129,431.3 128.6,430 128.6,428.4 128.9,426.6 129.4,424.8 130.2,423.1 131.2,421.4 132.3,419.8 133.4,418.3 134.5,417 135.5,415.8 136.3,414.6 137,413.5 137.6,412.4 137.9,411.2 138.1,409.8 138.3,408.3 138.3,406.6 138.4,404.8 138.6,402.8 138.8,400.8 139.2,398.7 139.7,396.7 140.4,394.8 141.2,393.2 142.1,391.8 143.1,390.8 143.9,390.2 144.7,390 145.2,390.3 145.5,390.9 145.4,391.9 145,393.1 144.2,394.6 143.1,396.1 141.6,397.6 139.9,399.1 138.1,400.3 136.1,401.3 134.2,402 132.4,402.5 130.8,402.6 129.6,402.4 128.7,401.9 128.1,401.3 128,400.6 128.2,399.7 128.8,398.9 129.7,398.1 130.8,397.3 132,396.6 133.4,396 134.7,395.3 136,394.7 137.2,394 138.4,393.2 139.5,392.2 140.6,391 141.8,389.6 143,387.9 144.3,386.1 145.8,384.1 147.6,382 149.6,379.8 151.9,377.7 154.3,375.7 157,373.9 159.8,372.4 162.6,371.2 165.3,370.3 167.9,369.8 170.1,369.7 172,369.9 173.5,370.3 174.4,370.9 174.7,371.7 174.5,372.4 173.7,373.1 172.4,373.7 170.6,374.1 168.5,374.3 166.3,374.3 163.9,374 161.5,373.5 159.3,372.9 157.3,372.2 155.5,371.4 154.2,370.8 153.2,370.2 152.6,369.8 152.3,369.6 152.3,369.6 152.6,369.9 153,370.3 153.6,370.9 154.2,371.5 154.9,372.1 155.6,372.7 156.4,373.1 157.2,373.3 158.2,373.3 159.3,373 160.7,372.5 162.3,371.8 164.3,370.9 166.7,369.9 169.5,369 172.7,368.1 176.1,367.5 179.9,367.1 183.8,367.1 187.8,367.5 191.7,368.3 195.4,369.4 198.8,370.9 201.9,372.7 204.4,374.6 206.4,376.6 207.9,378.5 208.7,380.2 209.1,381.6 208.9,382.7 208.3,383.3 207.4,383.5 206.3,383.2 205,382.5 203.7,381.4 202.4,380 201.2,378.4 200.1,376.7 199.1,375.1 198.2,373.6 197.5,372.4 196.9,371.4 196.3,370.8 195.7,370.5 195,370.6 194.3,371 193.5,371.6 192.7,372.4 191.8,373.2 190.9,374.1 190.1,374.8 189.5,375.4 189,375.8 188.9,376.1 189.1,376.2 189.8,376.3 190.9,376.3 192.6,376.4 194.6,376.7 197.1,377.2 199.9,378.1 203,379.4 206.1,381.1 209.3,383.3 212.3,385.8 215,388.8 217.4,392 219.3,395.4 220.8,398.8 221.8,402.1 222.3,405.2 222.4,408 222.2,410.4 221.7,412.2 221,413.6 220.3,414.4 219.6,414.7 219.1,414.5 218.7,414 218.5,413.2 218.4,412.1 218.6,411 218.9,409.8 219.3,408.8 219.6,407.8 219.9,407 219.9,406.4 219.8,406 219.4,405.7 218.7,405.5 217.7,405.3 216.4,405.2 214.9,405 213.3,404.7 211.7,404.4 210.2,403.9 208.8,403.3 207.7,402.7 207,402.1 206.6,401.5 206.6,401.2 207.1,401.1 207.9,401.3 209,401.9 210.4,403 211.8,404.5 213.3,406.5 214.7,409 215.8,411.8 216.7,414.8 217.2,418.1 217.3,421.4 217.1,424.6 216.5,427.7 215.6,430.5 214.6,433 213.3,435 212.1,436.7 210.9,437.9 209.9,438.8 209.1,439.3 208.6,439.5 208.3,439.6 208.4,439.5 208.7,439.4 209.3,439.3 209.9,439.3 210.6,439.4 211.3,439.5 211.9,439.7 212.2,440 212.4,440.2 212.3,440.3 211.9,440.2 211.2,440 210.4,439.5 209.4,438.8 208.4,437.8 207.3,436.5 206.4,435.1 205.6,433.5 205.1,431.9 204.8,430.3 204.8,428.9 205.1,427.8 205.6,427 206.3,426.6 207.1,426.6 207.9,427.1 208.6,428.1 209.2,429.4 209.5,431.2 209.6,433.2 209.4,435.4 208.8,437.7 208,439.9 206.8,442.1 205.5,444.1 204,445.8 202.5,447.3 201,448.5 199.7,449.5 198.5,450.3 197.5,450.9 196.8,451.4 196.4,451.9 196.3,452.4 196.3,453.1 196.5,453.8 196.8,454.7 197.1,455.7 197.5,456.8 197.7,457.9 197.8,459.1 197.7,460.1 197.5,461 197.2,461.7 196.7,462 196.2,462 195.7,461.6 195.2,460.9 195,459.8 194.9,458.4 195,456.9 195.4,455.2 196,453.4 196.9,451.8 198.1,450.4 199.3,449.2 200.6,448.4 201.9,448 203.1,447.9 204.1,448.3 204.9,448.9 205.3,449.9 205.4,451.2 205.1,452.5 204.4,454 203.5,455.4 202.3,456.8 200.9,458.1 199.3,459.2 197.8,460.2 196.2,461 194.7,461.7 193.3,462.4 192.1,463 191.1,463.7 190.2,464.5 189.3,465.4 188.6,466.5 187.9,467.7 187.1,469.1 186.3,470.7 185.4,472.3 184.3,473.9 183.1,475.5 181.8,477 180.4,478.3 179,479.4 177.6,480.2 176.4,480.6 175.3,480.8 174.6,480.6 174.2,480.2 174.2,479.5 174.7,478.7 175.5,477.8 176.8,476.9 178.5,476 180.4,475.3 182.6,474.8 184.8,474.5 186.9,474.5 188.9,474.7 190.7,475.2 192.2,475.8 193.2,476.6 193.9,477.4 194.1,478.2 193.8,479 193.3,479.7 192.4,480.2 191.2,480.6 189.9,480.8 188.4,480.9 187,480.9 185.5,480.9 184,480.9 182.6,480.9 181.1,481 179.7,481.3 178.2,481.7 176.6,482.3 174.9,483 173,483.9 170.8,484.8 168.5,485.7 165.9,486.5 163.2,487.2 160.3,487.7 157.3,488 154.3,488 151.5,487.7 148.8,487.2 146.5,486.5 144.5,485.6 142.9,484.6 141.9,483.6 141.4,482.7 141.4,481.9 141.9,481.4 142.9,481.1 144.2,481.2 145.9,481.7 147.7,482.5 149.6,483.7 151.5,485.1 153.3,486.7 155,488.3 156.4,490 157.5,491.6 158.3,492.9 158.9,494 159.2,494.8 159.3,495.3 159.2,495.4 159,495.2 158.7,494.7 158.4,494 158.1,493.2 157.7,492.3 157.3,491.5 156.8,490.7 156.2,490 155.3,489.5 154.3,489.1 152.9,488.9 151.2,488.7 149.2,488.4 146.8,488.1 144.1,487.7 141.1,487 137.8,486 134.5,484.6 131.2,483 128,480.9 124.9,478.6 122.2,476 119.9,473.3 118,470.5 116.5,467.8 115.6,465.2 115.1,463 115.1,461.1 115.4,459.8 115.9,458.9 116.7,458.6 117.5,458.9 118.4,459.7 119.2,460.9 119.9,462.5 120.4,464.4 120.8,466.3 121,468.3 121.1,470.2 121.1,471.9 121.2,473.4 121.3,474.6 121.4,475.4 121.8,475.9 122.3,476.2 122.9,476.2 123.8,476 124.8,475.7 125.9,475.3 126.9,475 127.9,474.7 128.8,474.4 129.4,474.2 129.6,474 129.5,473.8 128.9,473.4 127.9,472.9 126.6,472.1 124.9,471 122.9,469.5 120.8,467.5 118.6,465.1 116.5,462.2 114.6,459 112.9,455.4 111.7,451.7 110.8,447.8 110.4,444 110.4,440.3 110.8,436.9 111.5,433.8 112.5,431.3 113.6,429.2 114.8,427.7 115.9,426.8 116.8,426.4 117.5,426.4 117.9,426.8 118,427.4 117.8,428.3 117.4,429.3 116.8,430.3 116.1,431.3 115.3,432.1 114.7,432.9 114.2,433.6 113.9,434.1 113.9,434.6 114.2,435.1 114.9,435.6 115.8,436.1 117,436.8 118.3,437.6 119.6,438.5 121,439.5 122.2,440.5 123.3,441.6 124,442.6 124.5,443.5 124.6,444.1 124.4,444.4 124,444.3 123.3,443.8 122.5,442.7 121.7,441.2 121,439.2 120.4,436.7 120.2,433.9 120.2,430.9 120.6,427.7 121.4,424.5 122.5,421.4 124,418.5 125.7,415.8 127.6,413.5 129.6,411.6 131.5,410.1 133.3,409.1 134.8,408.3 136.1,407.9 137,407.7 137.6,407.6 137.9,407.6 137.8,407.6 137.5,407.6 137,407.4 136.4,407.2 135.8,406.9 135.3,406.6 134.9,406.2 134.7,406 134.7,405.8 134.9,405.9 135.3,406.2 135.9,406.8 136.6,407.7 137.2,409 137.9,410.4 138.4,412.1 138.8,413.9 138.9,415.7 138.9,417.5 138.6,419 138.1,420.4 137.4,421.3 136.7,421.9 136,422 135.4,421.6 134.9,420.8 134.6,419.7 134.7,418.2 135.1,416.4 135.8,414.5 136.9,412.6 138.4,410.7 140.1,409 141.9,407.4 144,406.1 146,405 148,404.2 149.8,403.7 151.5,403.3 152.9,403 154.1,402.8 155,402.5 155.6,402.2 156.1,401.8 156.4,401.3 156.5,400.5 156.7,399.7 156.9,398.7 157.1,397.6 157.4,396.5 157.8,395.5 158.3,394.6 158.9,394 159.4,393.6 160,393.6 160.4,393.8 160.7,394.5 160.8,395.4 160.6,396.6 160.2,397.9 159.4,399.4 158.3,400.9 157.1,402.2 155.6,403.4 154.1,404.4 152.5,405 151,405.2 149.7,405.2 148.7,404.8 147.9,404.1 147.6,403.2 147.7,402.1 148.1,401 149,399.9 150.2,398.8 151.7,397.9 153.3,397.2 155.2,396.6 157,396.2 158.9,396 160.6,395.9 162.3,395.9 163.8,395.9 165.2,395.9 166.5,395.8 167.7,395.6 168.8,395.3 169.9,394.8 171.1,394.2 172.3,393.5 173.6,392.7 175,391.9 176.6,391.1 178.3,390.3 180,389.7 181.7,389.2 183.4,389 184.9,388.9 186.2,389 187.2,389.3 187.8,389.7 188,390.2 187.7,390.8 187,391.2 185.9,391.6 184.4,391.8 182.6,391.7 180.7,391.4 178.6,390.8 176.5,390 174.6,389 172.9,387.8 171.5,386.6 170.5,385.3 169.9,384.1 169.7,383 169.9,382.1 170.5,381.5 171.3,381.1 172.4,380.9 173.6,381.1 174.9,381.4 176.3,382 177.7,382.6 179,383.4 180.3,384.1 181.6,384.8 182.9,385.5 184.3,386 185.7,386.4 187.3,386.8 189.1,387 191,387.3 193.1,387.5 195.5,387.8 198,388.3 200.6,388.9 203.3,389.7 205.9,390.7 208.5,391.9 210.9,393.3 213,394.8 214.8,396.4 216.2,398 217.2,399.5 217.7,400.8 217.8,401.8 217.6,402.5 217,402.7 216.1,402.4 215,401.7 213.8,400.5 212.7,398.9 211.5,397 210.5,394.8 209.7,392.5 209,390.2 208.6,387.9 208.4,385.9 208.3,384.2 208.4,382.8 208.6,381.9 208.8,381.3 209,381.1 209.2,381.3 209.3,381.8 209.4,382.5 209.4,383.3 209.5,384.2 209.6,385.2 209.7,386.1 210.1,387 210.6,387.9 211.5,388.7 212.6,389.6 214.1,390.6 215.8,391.7 217.9,393.1 220.2,394.8 222.6,396.8 225.1,399.1 227.5,401.8 229.8,404.8 231.9,408.1 233.7,411.5 235.1,415.1 236.1,418.6 236.7,422 236.9,425.1 236.7,427.9 236.2,430.2 235.5,431.9 234.7,433 233.9,433.5 233.2,433.5 232.6,432.8 232.2,431.7 232.1,430.2 232.3,428.5 232.6,426.5 233.2,424.5 234,422.5 234.8,420.6 235.6,418.9 236.2,417.5 236.7,416.3 237,415.3 237,414.6 236.8,414.1 236.2,413.7 235.4,413.4 234.4,413.2 233.4,413.1 232.3,412.9 231.3,412.8 230.5,412.7 229.9,412.7 229.7,412.8 229.7,413.2 230.1,413.9 230.8,414.9 231.7,416.3 232.8,418.2 233.9,420.6 235,423.5 235.9,426.8 236.6,430.5 236.9,434.5 236.8,438.6 236.3,442.8 235.3,446.9 234,450.7 232.3,454.2 230.4,457.3 228.3,459.9 226.3,462 224.3,463.4 222.5,464.4 221.1,464.9 220,464.9 219.3,464.7 219.1,464.2 219.3,463.5 219.8,462.8 220.7,462 221.7,461.3 222.9,460.7 224,460.1 225,459.6 225.8,459.1 226.4,458.6 226.7,458.1 226.7,457.4 226.4,456.6 225.8,455.5 225.1,454.4 224.3,453 223.4,451.5 222.6,450 222,448.4 221.5,447 221.2,445.7 221.1,444.7 221.2,444.2 221.4,444 221.7,444.3 222,445.2 222.2,446.6 222.2,448.4 222,450.7 221.3,453.3 220.3,456.1 218.8,459 217,461.9 214.7,464.6 212.2,467.1 209.4,469.3 206.5,471.1 203.6,472.5 200.8,473.5 198.3,474.1 196,474.4 194.1,474.4 192.6,474.3 191.5,474.1 190.8,473.9 190.4,473.8 190.4,473.8 190.6,473.9 191,474.2 191.4,474.6 191.8,475.1 192.2,475.6 192.5,476 192.6,476.3 192.7,476.4 192.6,476.2 192.4,475.6 192.3,474.8 192.2,473.6 192.1,472.1 192.2,470.4 192.5,468.6 193,466.7 193.6,464.9 194.5,463.2 195.4,461.8 196.4,460.7 197.3,460.1 198.2,459.8 198.8,460 199.2,460.5 199.3,461.5 198.9,462.6 198.2,464 197,465.4 195.4,466.9 193.5,468.2 191.2,469.3 188.8,470.2 186.3,470.9 183.7,471.2 181.3,471.3 178.9,471.2 176.8,470.8 174.9,470.4 173.3,469.9 172,469.4 171,469 170.2,468.7 169.5,468.6 169,468.7 168.5,469.1 168,469.5 167.4,470.2 166.8,470.9 166.1,471.6 165.3,472.2 164.6,472.7 163.8,473 163.1,473.1 162.6,472.9 162.3,472.5 162.3,471.9 162.7,471.1 163.4,470.2 164.4,469.2 165.7,468.3 167.3,467.5 169.1,466.8 170.9,466.4 172.7,466.3 174.4,466.4 175.9,466.7 177.1,467.3 177.9,468.1 178.2,469 178.1,469.9 177.6,470.7 176.7,471.5 175.4,472.1 173.8,472.4 172.1,472.5 170.2,472.3 168.3,471.8 166.4,471.2 164.6,470.3 163,469.3 161.6,468.3 160.3,467.2 159.2,466.2 158.2,465.3 157.3,464.6 156.5,464 155.6,463.6 154.7,463.3 153.6,463.2 152.5,463.1 151.2,463.1 149.8,463.1 148.2,463 146.7,462.8 145.1,462.4 143.7,462 142.4,461.4 141.4,460.7 140.6,460 140.3,459.3 140.3,458.7 140.7,458.3 141.4,458.2 142.4,458.3 143.7,458.7 145.1,459.5 146.6,460.6 148.1,462 149.4,463.6 150.5,465.4 151.3,467.2 151.9,468.9 152.1,470.6 152,472 151.6,473 151,473.8 150.1,474.1 149.2,474.1 148.2,473.7 147.2,473 146.2,472.1 145.3,470.9 144.6,469.6 143.9,468.2 143.3,466.9 142.7,465.6 142.1,464.4 141.5,463.3 140.7,462.3 139.8,461.4 138.7,460.5 137.4,459.6 135.9,458.7 134.2,457.7 132.4,456.5 130.5,455.1 128.6,453.5 126.7,451.8 125,449.9 123.4,447.8 122.2,445.8 121.2,443.7 120.6,441.9 120.3,440.2 120.3,438.9 120.6,438 121.1,437.5 121.7,437.6 122.4,438.2 123,439.2 123.6,440.7 123.9,442.5 124.1,444.6 124,446.9 123.8,449.1 123.3,451.4 122.7,453.4 121.9,455.2 121.1,456.6 120.4,457.7 119.7,458.4 119.1,458.7 118.8,458.7 118.6,458.4 118.6,457.9 118.7,457.2 119,456.5 119.4,455.7 119.7,454.8 119.9,454 120,453.2 119.9,452.3 119.5,451.3 118.9,450.2 118,448.9 116.9,447.4 115.6,445.5 114.1,443.3 112.7,440.7 111.3,437.8 110,434.5 109,431 108.3,427.4 108,423.6 108,419.9 108.4,416.4 109.1,413.1 110,410.2 111.2,407.8 112.4,406 113.6,404.7 114.7,404 115.6,403.9 116.1,404.2 116.3,405 116.1,406.2 115.6,407.5 114.6,409.1 113.5,410.7 112.1,412.3 110.5,413.8 109,415.1 107.6,416.3 106.4,417.3 105.4,418.1 104.8,418.8 104.5,419.4 104.5,420 104.8,420.5 105.4,421 106.2,421.6 107,422.1 107.9,422.7 108.6,423.2 109.3,423.6 109.7,423.8 109.9,423.8 109.9,423.4 109.7,422.6 109.4,421.4 109,419.6 108.6,417.4 108.5,414.7 108.5,411.5 108.9,408 109.7,404.2 110.9,400.3 112.6,396.5 114.7,392.7 117.2,389.2 120,386 123,383.3 126,381.1 128.9,379.5 131.7,378.3 134.1,377.6 136.2,377.4 137.7,377.4 138.7,377.7 139.2,378.2 139.2,378.7 138.7,379.2 137.8,379.6 136.7,379.9 135.4,380.1 134,380.2 132.6,380.3 131.4,380.4 130.3,380.5 129.5,380.8 128.9,381.3 128.5,382 128.3,383 128.3,384.2 128.4,385.7 128.5,387.3 128.6,389.1 128.7,390.9 128.6,392.6 128.4,394.1 128.1,395.4 127.8,396.3 127.4,396.7 127.2,396.7 127,396.2 127.1,395.1 127.6,393.7 128.4,391.8 129.7,389.7 131.4,387.4 133.7,385.1 136.3,382.8 139.4,380.8 142.8,379.1 146.4,377.7 150.1,376.7 153.8,376.2 157.3,376.1 160.6,376.3 163.4,376.9 165.9,377.6 167.9,378.4 169.5,379.3 170.6,380 171.3,380.6 171.6,380.9 171.7,381 171.7,380.9 171.5,380.6 171.2,380 171,379.4 170.8,378.8 170.7,378.3 170.5,378 170.4,377.8 170.3,378 170,378.5 169.6,379.3 169.1,380.4 168.3,381.7 167.3,383.2 166.1,384.8 164.8,386.3 163.3,387.7 161.8,388.9 160.2,389.8 158.8,390.4 157.7,390.7 156.8,390.6 156.3,390.2 156.2,389.6 156.6,388.8 157.6,387.9 159,387 160.8,386.3 163,385.7 165.5,385.4 168.3,385.5 171.1,385.9 173.9,386.6 176.6,387.6 179,388.9 181.3,390.5 183.2,392.1 184.7,393.8 186,395.4 186.9,396.8 187.6,398.1 188.1,399.1 188.6,399.8 188.9,400.3 189.4,400.5 189.9,400.5 190.5,400.3 191.2,400.1 192,399.9 192.9,399.7 193.7,399.7 194.5,399.8 195.1,400 195.5,400.3 195.5,400.8 195.3,401.3 194.7,401.8 193.8,402.3 192.5,402.6 191,402.8 189.2,402.8 187.4,402.5 185.6,402 183.9,401.3 182.5,400.4 181.3,399.3 180.5,398.3 180.1,397.2 180.2,396.3 180.6,395.6 181.5,395.1 182.6,394.9 183.9,395.1 185.4,395.7 187,396.6 188.5,397.8 189.9,399.3 191.1,401 192.1,402.9 192.9,404.8 193.5,406.6 193.9,408.4 194.1,409.9 194.3,411.3 194.4,412.5 194.6,413.4 194.9,414.1 195.4,414.7 196,415.2 196.8,415.6 197.8,416 199,416.5 200.2,417.2 201.5,417.9 202.7,418.8 203.7,419.7 204.6,420.7 205.2,421.7 205.5,422.7 205.5,423.5 205.3,424 204.8,424.3 204,424.2 203.1,423.8 202.2,422.9 201.3,421.7 200.4,420.2 199.7,418.5 199.3,416.6 199.1,414.6 199.2,412.7 199.5,411 200.1,409.5 200.9,408.3 201.8,407.6 202.7,407.2 203.7,407.2 204.6,407.7 205.3,408.5 205.9,409.5 206.3,410.8 206.6,412.2 206.6,413.7 206.6,415.1 206.5,416.5 206.3,417.8 206.2,419 206.3,420.1 206.4,421.1 206.8,422.2 207.4,423.2 208.1,424.3 209.1,425.6 210.2,427 211.4,428.6 212.6,430.5 213.7,432.6 214.7,434.8 215.6,437.1 216.2,439.5 216.5,441.8 216.6,443.9 216.4,445.8 216,447.4 215.5,448.5 214.9,449.2 214.3,449.4 213.8,449.2 213.4,448.4 213.3,447.2 213.4,445.7 213.9,444 214.7,442.1 215.7,440.1 216.9,438.3 218.3,436.5 219.8,435.1 221.3,433.9 222.7,433 223.9,432.4 224.9,432.1 225.6,432.1 226,432.4 226.1,432.7 226,433.2 225.6,433.8 225.1,434.4 224.5,435 223.9,435.6 223.4,436.3 223,437 222.8,437.8 222.7,438.8 222.8,440 223.1,441.5 223.5,443.3 223.9,445.5 224.3,448 224.5,450.9 224.5,454.1 224.3,457.5 223.7,461 222.8,464.6 221.5,468 219.9,471.3 218.1,474.3 216,476.9 214,479 211.9,480.6 210,481.7 208.4,482.4 207.1,482.5 206.3,482.3 206,481.8 206.2,481 206.9,480.1 208.1,479.1 209.6,478.2 211.5,477.3 213.5,476.6 215.6,476 217.6,475.5 219.5,475.1 221.2,474.8 222.5,474.6 223.6,474.3 224.2,474 224.5,473.6 224.6,473.1 224.4,472.4 224,471.7 223.6,470.9 223.1,470.1 222.6,469.4 222.3,468.8 222,468.5 221.8,468.5 221.6,468.9 221.4,469.7 221.1,471 220.6,472.8 219.9,474.9 218.8,477.4 217.3,480.2 215.3,483.2 212.9,486.2 210,489.1 206.6,491.8 203,494.2 199.1,496.2 195.2,497.7 191.3,498.7 187.5,499.3 184.1,499.4 181,499.1 178.5,498.6 176.6,497.8 175.2,497.1 174.4,496.3 174.2,495.7 174.5,495.3 175.1,495.1 176.1,495.1 177.3,495.4 178.7,495.9 180,496.6 181.3,497.3 182.6,497.9 183.7,498.4 184.7,498.7 185.5,498.8 186.3,498.5 186.9,497.9 187.6,497 188.2,495.8 188.9,494.4 189.7,492.9 190.5,491.4 191.3,489.9 192.2,488.7 193,487.8 193.7,487.2 194.2,487 194.4,487.2 194.2,487.7 193.6,488.6 192.5,489.7 190.8,491 188.6,492.3 185.9,493.6 182.7,494.6 179.2,495.3 175.4,495.7 171.4,495.6 167.4,495 163.5,494.1 159.9,492.7 156.6,491.1 153.8,489.2 151.4,487.2 149.5,485.3 148,483.4 147,481.8 146.4,480.5 146.1,479.6 146,479 146,478.8 146,478.9 146.1,479.3 146.1,479.9 146,480.6 146,481.3 145.9,482 145.8,482.5 145.8,482.8 146,482.9 146.4,482.7 147.1,482.4 148,481.8 149.2,481.2 150.7,480.5 152.5,479.8 154.3,479.2 156.3,478.7 158.2,478.4 160,478.4 161.5,478.5 162.7,478.9 163.5,479.4 163.7,480 163.5,480.5 162.7,481 161.5,481.3 159.8,481.3 157.8,481 155.5,480.4 153.1,479.3 150.7,477.8 148.4,475.9 146.2,473.7 144.3,471.3 142.8,468.7 141.6,466.1 140.7,463.5 140.2,461.1 140,458.9 139.9,457.1 140,455.5 140,454.3 140.1,453.5 140,452.9 139.8,452.5 139.4,452.3 138.9,452.2 138.2,452.1 137.4,451.9 136.6,451.7 135.9,451.4 135.3,451 134.9,450.6 134.7,450.1 134.9,449.6 135.3,449.2 136.1,449 137.2,448.9 138.5,449.1 139.9,449.6 141.5,450.3 143,451.3 144.3,452.5 145.5,453.8 146.5,455.3 147,456.7 147.3,458 147.2,459 146.8,459.8 146.1,460.3 145.2,460.3 144.2,459.9 143.1,459.1 142.1,457.9 141.2,456.3 140.5,454.5 140.1,452.5 139.8,450.4 139.9,448.3 140.1,446.2 140.5,444.4 141.1,442.7 141.6,441.3 142.1,440.1 142.6,439.1 142.8,438.3 142.9,437.6 142.7,437 142.3,436.5 141.7,435.8 140.9,435.1 140.1,434.3 139.2,433.3 138.4,432.1 137.6,430.9 137.1,429.6 136.8,428.4 136.7,427.2 136.9,426.2 137.3,425.5 137.8,425.1 138.5,425.1 139.3,425.5 140.1,426.2 140.7,427.3 141.2,428.7 141.5,430.4 141.5,432.1 141.3,434 140.8,435.7 140,437.3 139.1,438.6 138.1,439.6 137,440.2 135.9,440.5 135,440.3 134.2,439.8 133.6,439 133.3,438 133.3,436.8 133.5,435.5 133.9,434.2 134.5,432.9 135.2,431.7 135.9,430.6 136.5,429.7 137.1,428.8 137.5,428 137.7,427.1 137.6,426.2 137.4,425.2 137.1,424.1 136.6,422.7 136,421 135.5,419.2 135,417.1 134.7,414.8 134.6,412.4 134.7,410 135,407.7 135.6,405.5 136.4,403.5 137.3,401.9 138.3,400.7 139.2,399.8 140.1,399.5 140.7,399.6 141.1,400.1 141.2,401 140.9,402.1 140.2,403.4 139.1,404.8 137.8,406.2 136.2,407.6 134.4,408.7 132.5,409.7 130.7,410.4 129,410.8 127.5,411 126.3,411 125.4,410.8 124.9,410.4 124.7,410 124.8,409.5 125.2,409.1 125.8,408.7 126.5,408.4 127.3,408.1 128,407.8 128.7,407.4 129.2,407 129.7,406.4 130,405.5 130.2,404.4 130.4,403 130.7,401.2 131.1,399 131.6,396.5 132.4,393.8 133.6,390.9 135.1,387.9 137,384.9 139.2,382 141.7,379.4 144.4,377 147.3,375.1 150.2,373.6 152.9,372.5 155.4,371.8 157.6,371.6 159.3,371.7 160.4,372 161.1,372.6 161.1,373.2 160.6,373.7 159.5,374.2 158.1,374.6 156.2,374.7 154.2,374.7 152,374.5 149.9,374.1 147.8,373.7 145.9,373.2 144.3,372.7 143,372.3 142,372.1 141.2,372.1 140.8,372.3 140.5,372.7 140.5,373.3 140.5,374.1 140.6,374.9 140.7,375.8 140.8,376.6 140.8,377.2 140.9,377.5 141.1,377.5 141.4,377.1 141.9,376.4 142.7,375.3 143.9,373.8 145.5,372 147.6,370.1 150.2,368.1 153.3,366.2 156.8,364.5 160.7,363 165,362 169.3,361.3 173.8,361.2 178.1,361.5 182.1,362.3 185.8,363.4 189.1,364.8 191.8,366.4 193.9,368 195.4,369.5 196.3,370.8 196.7,371.8 196.7,372.4 196.3,372.7 195.6,372.5 194.7,372 193.7,371.1 192.7,370 191.7,368.7 190.8,367.4 189.9,366.1 189.1,365.1 188.3,364.2 187.5,363.7 186.6,363.5 185.7,363.6 184.7,364 183.5,364.7 182.2,365.5 180.9,366.4 179.5,367.4 178.1,368.2 176.8,368.9 175.6,369.3 174.8,369.5 174.3,369.4 174.2,369.2 174.7,368.7 175.8,368.2 177.4,367.7 179.5,367.3 182.2,367.1 185.4,367.3 188.8,367.8 192.5,368.8 196.3,370.3 199.9,372.3 203.4,374.7 206.6,377.5 209.4,380.5 211.7,383.6 213.6,386.8 214.9,389.8 215.8,392.6 216.3,395 216.6,397 216.6,398.6 216.4,399.7 216.3,400.3 216.2,400.6 216.2,400.5 216.3,400.1 216.5,399.5 216.8,398.9 217.2,398.2 217.5,397.6 217.7,397.1 217.8,396.7 217.7,396.5 217.2,396.3 216.5,396.3 215.4,396.2 214,396.2 212.3,396.1 210.4,395.9 208.5,395.5 206.5,395 204.6,394.4 203,393.6 201.6,392.8 200.7,392 200.2,391.2 200.2,390.6 200.6,390.3 201.5,390.3 202.7,390.6 204.2,391.5 205.9,392.8 207.6,394.5 209.3,396.7 210.8,399.3 212.1,402.2 213,405.3 213.7,408.5 213.9,411.6 213.9,414.7 213.5,417.5 213,420 212.3,422.2 211.5,424 210.8,425.5 210.3,426.6 209.8,427.5 209.7,428.1 209.7,428.6 209.9,429 210.4,429.4 210.9,429.8 211.5,430.2 212.1,430.7 212.6,431.3 213,431.9 213.1,432.4 212.9,432.9 212.5,433.2 211.8,433.3 210.9,433.2 209.8,432.7 208.6,432 207.4,430.9 206.2,429.6 205.1,428.1 204.2,426.4 203.6,424.6 203.3,423 203.2,421.5 203.5,420.2 203.9,419.3 204.6,418.8 205.3,418.7 206.1,419 206.8,419.9 207.3,421.1 207.7,422.6 207.8,424.4 207.6,426.4 207.2,428.4 206.5,430.4 205.6,432.4 204.6,434.1 203.4,435.7 202.3,437 201.2,438.1 200.3,439 199.6,439.8 199.1,440.5 198.8,441.1 198.8,441.8 199,442.6 199.3,443.5 199.7,444.5 200.1,445.7 200.4,447 200.7,448.4 200.8,449.9 200.7,451.3 200.5,452.5 200,453.6 199.4,454.3 198.7,454.8 197.9,454.8 197.2,454.5 196.6,453.7 196.1,452.6 195.9,451.3 195.9,449.7 196.2,448 196.8,446.3 197.7,444.7 198.7,443.2 199.9,442.1 201.2,441.2 202.4,440.7 203.6,440.6 204.5,440.8 205.2,441.3 205.6,442.1 205.7,443.1 205.5,444.1 205,445.2 204.2,446.3 203.3,447.3 202.2,448.2 201.1,449 200.1,449.7 199.1,450.3 198.3,450.9 197.6,451.5 197.1,452.1 196.7,453 196.5,454 196.4,455.2 196.2,456.7 196,458.4 195.7,460.3 195.2,462.4 194.5,464.5 193.6,466.7 192.5,468.7 191.1,470.6 189.6,472.3 188.1,473.7 186.6,474.7 185.1,475.3 183.9,475.5 182.9,475.4 182.4,475 182.2,474.3 182.5,473.4 183.2,472.5 184.4,471.5 185.9,470.6 187.6,469.9 189.6,469.3 191.7,469 193.7,468.9 195.6,469 197.3,469.3 198.6,469.7 199.7,470.3 200.3,470.9 200.6,471.4 200.5,471.9 200.2,472.2 199.6,472.5 198.9,472.6 198,472.5 197.2,472.5 196.3,472.4 195.5,472.4 194.8,472.5 194.1,472.7 193.5,473.3 192.8,474 192,475.1 191,476.5 189.8,478.1 188.3,479.8 186.4,481.7 184.2,483.6 181.7,485.4 178.8,487.1 175.7,488.4 172.5,489.5 169.2,490.2 166,490.5 162.9,490.4 160.1,490 157.8,489.3 155.9,488.5 154.5,487.5 153.7,486.6 153.4,485.8 153.7,485.2 154.4,484.9 155.5,484.9 157,485.3 158.6,485.9 160.4,486.9 162.1,488.1 163.8,489.4 165.4,490.9 166.7,492.2 167.9,493.5 168.8,494.5 169.5,495.3 170,495.8 170.4,495.9 170.7,495.8 171,495.4 171.2,494.7 171.4,494 171.7,493.2 171.9,492.5 172,491.9 172.1,491.5 172,491.4 171.6,491.5 170.9,491.8 169.8,492.3 168.2,493 166.2,493.7 163.7,494.3 160.7,494.8 157.4,495.1 153.7,494.9 149.9,494.4 145.9,493.4 142.1,492 138.3,490.2 134.9,488.1 131.9,485.6 129.3,483.1 127.3,480.5 125.7,478 124.7,475.8 124.1,473.9 123.9,472.4 124.1,471.4 124.4,470.9 124.9,470.9 125.5,471.5 126,472.4 126.4,473.6 126.8,475.1 127,476.7 127.2,478.3 127.3,479.8 127.4,481.2 127.6,482.4 127.9,483.3 128.4,483.9 129.1,484.2 130,484.4 131.1,484.3 132.4,484.2 133.9,484 135.4,483.8 136.9,483.8 138.3,483.8 139.4,483.9 140.2,484.1 140.6,484.4 140.6,484.7 140,485 138.9,485 137.3,484.8 135.3,484.2 132.9,483.3 130.3,481.8 127.5,479.9 124.8,477.4 122.2,474.6 119.8,471.3 117.8,467.8 116.2,464.1 115,460.3 114.3,456.6 114,453.2 114,450 114.3,447.3 114.8,445 115.4,443.2 115.9,441.9 116.4,441 116.7,440.6 116.8,440.5 116.7,440.6 116.4,441 115.9,441.4 115.3,441.9 114.6,442.4 114,442.8 113.5,443.2 113.3,443.5 113.3,443.8 113.6,444.2 114.2,444.5 115.1,445 116.4,445.6 117.8,446.4 119.3,447.4 120.9,448.5 122.5,449.8 123.8,451.1 125,452.5 125.8,453.8 126.2,455 126.3,455.9 126.1,456.5 125.5,456.6 124.6,456.3 123.6,455.5 122.6,454.1 121.5,452.3 120.7,450 120,447.3 119.6,444.4 119.6,441.2 119.9,438 120.5,434.9 121.4,431.9 122.6,429.1 123.9,426.6 125.3,424.5 126.7,422.7 128,421.2 129.1,420.1 130,419.1 130.6,418.4 130.9,417.8 131,417.2 130.9,416.7 130.6,416.1 130.2,415.4 129.8,414.7 129.5,414 129.2,413.3 129.1,412.6 129.3,412.1 129.6,411.9 130.1,411.8 130.8,412.1 131.6,412.7 132.5,413.7 133.3,415 134,416.6 134.6,418.5 135,420.4 135.2,422.4 135.1,424.3 134.8,426 134.3,427.5 133.6,428.6 132.8,429.2 132.1,429.5 131.4,429.2 130.9,428.6 130.6,427.5 130.6,426.1 130.9,424.5 131.5,422.8 132.4,421 133.6,419.2 135,417.5 136.6,416 138.2,414.7 139.8,413.6 141.4,412.7 142.8,411.9 144,411.2 145,410.6 145.8,410 146.4,409.3 146.8,408.5 147.1,407.6 147.3,406.5 147.5,405.2 147.7,403.9 148,402.4 148.5,401 149.1,399.6 149.8,398.4 150.6,397.4 151.5,396.7 152.4,396.3 153.2,396.3 153.9,396.7 154.4,397.4 154.7,398.4 154.6,399.8 154.3,401.2 153.5,402.8 152.5,404.4 151.3,405.8 149.9,407.1 148.3,408.1 146.8,408.8 145.3,409.2 144,409.3 143,409.1 142.3,408.6 142,407.9 142,407.1 142.3,406.2 143.1,405.3 144,404.5 145.2,403.9 146.6,403.3 148,402.9 149.4,402.6 150.7,402.4 151.9,402.1 153,401.9 153.9,401.6 154.8,401.1 155.6,400.5 156.3,399.6 157.1,398.6 158,397.3 159.1,395.9 160.3,394.4 161.8,392.9 163.4,391.4 165.3,390 167.2,388.8 169.3,387.8 171.4,387.1 173.4,386.7 175.2,386.6 176.8,386.8 178,387.2 178.8,387.8 179.1,388.5 179,389.2 178.4,389.9 177.3,390.5 175.8,390.9 174.1,391 172.1,390.9 170.1,390.6 168,390 166.1,389.2 164.4,388.3 163,387.3 162,386.3 161.3,385.4 160.9,384.7 160.9,384.1 161.2,383.7 161.7,383.6 162.4,383.7 163.1,383.9 163.9,384.3 164.7,384.8 165.5,385.3 166.2,385.7 167,386 167.7,386.1 168.6,386.1 169.6,385.8 170.8,385.3 172.2,384.7 174,383.9 176.1,383.2 178.5,382.5 181.2,382 184.1,381.7 187.2,381.7 190.4,381.9 193.6,382.6 196.7,383.5 199.6,384.7 202.2,386.2 204.4,387.8 206.1,389.5 207.3,391.1 208.1,392.5 208.4,393.7 208.3,394.5 207.8,394.9 207,394.9 206,394.4 204.9,393.4 203.8,392.1 202.7,390.4 201.7,388.5 200.8,386.5 200.1,384.5 199.6,382.6 199.2,380.9 198.9,379.4 198.7,378.3 198.5,377.6 198.4,377.2 198.1,377.1 197.8,377.3 197.4,377.8 196.9,378.3 196.4,378.9 196,379.4 195.6,379.9 195.4,380.2 195.4,380.5 195.8,380.6 196.6,380.6 197.7,380.7 199.3,380.8 201.4,381.1 203.8,381.7 206.6,382.6 209.6,383.8 212.7,385.6 215.9,387.7 218.9,390.3 221.7,393.2 224.2,396.4 226.3,399.8 227.9,403.2 229.1,406.6 229.8,409.7 230.1,412.6 230.1,415 229.8,416.9 229.3,418.3 228.8,419.1 228.3,419.4 227.8,419.1 227.6,418.4 227.6,417.3 227.8,415.9 228.1,414.4 228.7,412.8 229.3,411.3 229.9,409.8 230.5,408.4 230.9,407.3 231.1,406.3 231.1,405.5 230.7,404.9 230.1,404.3 229.1,403.8 228,403.4 226.7,402.9 225.3,402.3 224,401.8 222.9,401.1 221.9,400.5 221.4,399.9 221.2,399.5 221.4,399.3 222,399.3 223,399.8 224.4,400.7 226,402.1 227.7,404 229.5,406.5 231.1,409.5 232.5,412.9 233.7,416.6 234.4,420.6 234.7,424.8 234.6,428.9 234.1,432.8 233.2,436.5 232,439.9 230.6,442.8 229.2,445.2 227.7,447.1 226.4,448.5 225.4,449.5 224.6,450.1 224.1,450.4 224,450.5 224.2,450.4 224.7,450.2 225.4,450 226.2,449.8 227.1,449.6 227.9,449.4 228.6,449.3 229.1,449 229.3,448.7 229.3,448.3 229,447.6 228.4,446.7 227.6,445.6 226.7,444.2 225.8,442.6 224.9,440.9 224.1,439 223.4,437.2 223,435.4 222.9,433.8 223,432.6 223.3,431.7 223.8,431.3 224.5,431.5 225.1,432.2 225.7,433.4 226.1,435.2 226.2,437.4 226.1,439.9 225.6,442.8 224.7,445.7 223.4,448.7 221.7,451.7 219.8,454.5 217.6,457 215.4,459.2 213,461 210.8,462.6 208.6,463.8 206.8,464.7 205.2,465.4 203.9,466 202.9,466.5 202.2,467 201.8,467.6 201.6,468.2 201.6,468.9 201.6,469.7 201.7,470.6 201.7,471.4 201.7,472.2 201.5,472.8 201.3,473.2 201,473.3 200.6,473.1 200.2,472.5 199.8,471.5 199.6,470.2 199.5,468.5 199.6,466.7 199.9,464.7 200.4,462.7 201.2,460.7 202.1,458.9 203.2,457.4 204.3,456.2 205.4,455.4 206.4,455.1 207.1,455.2 207.7,455.7 207.8,456.5 207.6,457.6 207,459 206,460.4 204.7,461.8 203,463.2 201.1,464.4 199,465.5 196.8,466.4 194.6,467 192.5,467.5 190.5,467.8 188.7,468.1 187,468.3 185.6,468.5 184.4,468.8 183.3,469.2 182.3,469.7 181.4,470.4 180.5,471.2 179.6,472.1 178.7,473.1 177.6,474.2 176.5,475.2 175.3,476.1 174.1,476.8 172.9,477.2 171.7,477.5 170.8,477.4 170,477.1 169.6,476.4 169.5,475.6 169.8,474.6 170.5,473.4 171.6,472.3 173,471.2 174.7,470.2 176.6,469.4 178.5,468.8 180.5,468.5 182.3,468.5 183.8,468.7 185.1,469.1 186,469.7 186.5,470.4 186.5,471.1 186.1,471.8 185.4,472.4 184.3,472.8 183,473.1 181.6,473.2 180,473 178.4,472.8 176.9,472.4 175.4,471.9 174.1,471.5 172.8,471 171.6,470.7 170.5,470.5 169.4,470.4 168.2,470.5 166.9,470.7 165.6,471 164.1,471.4 162.4,471.8 160.5,472.1 158.6,472.4 156.5,472.5 154.3,472.4 152.2,472.1 150.2,471.6 148.4,470.9 146.9,470.1 145.7,469.2 144.8,468.2 144.4,467.2 144.5,466.4 144.9,465.8 145.8,465.4 146.9,465.4 148.4,465.6 149.9,466.3 151.6,467.3 153.2,468.5 154.7,470 156,471.6 157.1,473.2 157.8,474.7 158.3,476.2 158.5,477.3 158.4,478.2 158.1,478.8 157.7,479 157.1,478.9 156.6,478.5 156,477.9 155.4,477.1 155,476.1 154.5,475.2 154.1,474.3 153.7,473.5 153.2,472.8 152.6,472.2 151.8,471.7 150.8,471.4 149.5,471.1 148,470.7 146.2,470.3 144.2,469.8 141.9,469 139.5,468 137.1,466.8 134.6,465.2 132.3,463.4 130.2,461.4 128.4,459.2 126.9,456.9 125.8,454.7 125,452.6 124.7,450.8 124.7,449.2 125,448.1 125.5,447.4 126.2,447.3 126.9,447.6 127.6,448.5 128.2,449.7 128.7,451.3 129,453.2 129,455.2 128.9,457.2 128.6,459.2 128.2,461 127.7,462.6 127.2,463.9 126.8,464.8 126.5,465.5 126.4,465.8 126.4,465.9 126.7,465.8 127.2,465.5 127.7,465.2 128.4,464.8 129,464.5 129.6,464.2 130,464 130.2,463.7 130,463.5 129.5,463.2 128.7,462.8 127.5,462.2 125.9,461.2 124.1,459.9 122.2,458.2 120.2,456 118.2,453.5 116.3,450.5 114.7,447.3 113.4,443.8 112.5,440.1 112,436.5 111.8,433 112.1,429.7 112.7,426.7 113.5,424.2 114.4,422.2 115.4,420.7 116.3,419.8 117,419.4 117.5,419.4 117.7,419.9 117.6,420.6 117.1,421.6 116.4,422.8 115.4,424 114.3,425.1 113.1,426.2 111.9,427.2 110.8,428.1 110,428.9 109.4,429.5 109.1,430.2 109.2,430.8 109.5,431.4 110.2,432.1 111,432.9 111.9,433.8 112.9,434.7 113.8,435.7 114.6,436.7 115.1,437.7 115.3,438.4 115.2,438.9 114.9,439.1 114.3,438.8 113.4,438.1 112.5,436.8 111.5,435 110.6,432.6 109.9,429.8 109.5,426.5 109.4,422.9 109.8,419.2 110.6,415.3 111.8,411.5 113.4,407.8 115.3,404.5 117.5,401.5 119.7,398.9 122,396.8 124.2,395.1 126.1,393.9 127.8,393.1 129.1,392.5 129.9,392.2 130.4,392.1 130.4,392 130.1,392 129.5,391.9 128.7,391.7 127.8,391.6 126.9,391.3 126,391.1 125.3,391 124.7,391 124.3,391.2 124.1,391.7 124.1,392.5 124.2,393.6 124.5,394.9 124.7,396.6 124.9,398.4 124.9,400.4 124.9,402.4 124.7,404.4 124.3,406.1 123.7,407.6 123.1,408.7 122.4,409.3 121.7,409.4 121.1,408.9 120.7,408 120.6,406.5 120.9,404.7 121.6,402.5 122.7,400.1 124.3,397.5 126.3,395 128.7,392.6 131.4,390.4 134.3,388.5 137.3,386.9 140.4,385.7 143.4,384.7 146.2,384.1 148.7,383.7 151,383.5 152.9,383.4 154.5,383.3 155.7,383.1 156.7,382.9 157.4,382.5 158,382 158.4,381.3 158.7,380.6 159.1,379.8 159.4,379 159.7,378.3 160,377.8 160.4,377.5 160.6,377.5 160.8,377.8 160.7,378.5 160.5,379.5 160,380.8 159.3,382.3 158.3,384 157,385.7 155.5,387.3 153.9,388.9 152.1,390.1 150.4,391.1 148.9,391.7 147.5,392 146.4,391.9 145.7,391.5 145.4,390.9 145.7,390 146.3,389 147.5,388 149.1,387.1 151,386.3 153.3,385.7 155.7,385.3 158.3,385.1 160.9,385.2 163.4,385.5 165.9,386 168.1,386.6 170.2,387.3 172,387.9 173.7,388.6 175.2,389.1 176.6,389.5 177.8,389.8 179,389.9 180.3,389.9 181.5,389.7 182.9,389.5 184.2,389.3 185.7,389.1 187.1,389 188.5,389 189.7,389.1 190.8,389.5 191.6,390 192.1,390.6 192.2,391.3 191.9,392 191.2,392.7 190,393.3 188.5,393.8 186.8,394 184.8,394.1 182.7,393.8 180.6,393.4 178.7,392.7 177,391.8 175.6,390.9 174.6,389.9 174,388.9 173.8,388 174,387.3 174.6,386.9 175.6,386.7 176.7,386.8 178,387.3 179.4,388 180.9,388.9 182.3,390 183.5,391.3 184.7,392.6 185.8,394 186.8,395.3 187.7,396.5 188.5,397.6 189.4,398.5 190.3,399.3 191.3,400 192.5,400.6 193.8,401.2 195.2,401.8 196.8,402.5 198.5,403.2 200.2,404.1 202,405.1 203.6,406.3 205.1,407.6 206.3,409 207.3,410.4 207.9,411.8 208.2,413 208.1,414.1 207.7,414.8 207,415.2 206.1,415.2 205,414.8 203.8,414 202.7,412.7 201.6,411.2 200.8,409.4 200.1,407.5 199.6,405.5 199.4,403.6 199.5,401.8 199.7,400.3 200.1,399.2 200.7,398.4 201.2,398 201.8,398 202.3,398.3 202.6,398.9 202.9,399.8 203,400.8 203,401.9 202.9,403 202.8,404.1 202.7,405.1 202.7,406 202.9,406.9 203.2,407.7 203.8,408.4 204.6,409.2 205.7,410.1 207,411.2 208.5,412.5 210.1,414 211.8,415.8 213.4,417.9 214.9,420.2 216.2,422.7 217.2,425.3 217.9,427.9 218.3,430.5 218.4,432.9 218.2,435.1 217.7,436.8 217.1,438.2 216.3,439 215.6,439.4 214.9,439.2 214.4,438.6 214.1,437.6 214,436.2 214.3,434.6 214.8,432.8 215.6,431 216.6,429.3 217.7,427.6 218.9,426.2 220,425.1 221,424.2 221.8,423.6 222.4,423.2 222.6,423 222.7,422.9 222.4,423 221.9,423.1 221.3,423.2 220.6,423.3 219.9,423.3 219.3,423.3 218.8,423.4 218.6,423.5 218.6,423.7 218.9,424.2 219.5,424.9 220.3,425.9 221.3,427.4 222.3,429.2 223.4,431.5 224.3,434.2 225,437.3 225.5,440.7 225.5,444.2 225.2,447.9 224.5,451.5 223.5,454.9 222.1,458.1 220.5,460.9 218.7,463.3 216.9,465.2 215.2,466.5 213.7,467.4 212.5,467.9 211.7,467.9 211.3,467.6 211.3,467.1 211.8,466.5 212.6,465.8 213.8,465.1 215.2,464.4 216.8,463.9 218.4,463.4 220,463.1 221.4,462.8 222.5,462.5 223.4,462.2 224,461.8 224.3,461.3 224.3,460.6 224.1,459.8 223.7,458.8 223.3,457.6 222.9,456.4 222.5,455.2 222.3,454 222.3,453 222.4,452.2 222.7,451.8 223.1,451.8 223.6,452.4 224,453.4 224.3,455 224.4,457 224.2,459.6 223.6,462.4 222.6,465.6 221,468.8 219.1,472.1 216.6,475.2 213.9,478.1 210.8,480.7 207.5,482.9 204.2,484.6 201,485.9 198,486.7 195.3,487.2 192.9,487.4 191,487.4 189.6,487.2 188.7,487 188.3,486.9 188.2,487 188.5,487.1 189,487.5 189.7,488 190.5,488.6 191.3,489.3 192.1,489.9 192.8,490.5 193.4,490.8 193.9,490.9 194.4,490.7 194.8,490.2 195.2,489.3 195.7,488.1 196.3,486.6 197,485 197.9,483.2 198.9,481.5 200,479.9 201.2,478.6 202.3,477.5 203.4,476.9 204.4,476.7 205,477 205.3,477.6 205.3,478.7 204.7,480.1 203.6,481.7 202,483.4 199.8,485.1 197.2,486.7 194.2,488.1 190.9,489.2 187.4,490 183.8,490.4 180.2,490.4 176.7,490.1 173.5,489.5 170.6,488.7 168,487.7 165.8,486.7 164,485.8 162.5,485 161.3,484.4 160.4,484 159.6,483.8 158.9,484 158.3,484.3 157.7,484.8 157.1,485.4 156.5,486 155.9,486.5 155.4,486.9 155,487.2 154.8,487.2 154.8,487 155.1,486.6 155.7,485.9 156.7,485.2 158,484.3 159.6,483.5 161.5,482.7 163.6,482 165.8,481.5 167.9,481.3 169.9,481.3 171.7,481.5 173.1,481.9 174,482.5 174.5,483.3 174.5,484 173.9,484.7 172.8,485.3 171.3,485.7 169.4,485.8 167.2,485.5 164.8,485 162.3,484.1 159.9,482.9 157.5,481.5 155.3,479.8 153.3,478 151.5,476.1 150,474.3 148.7,472.5 147.7,470.9 146.7,469.4 145.8,468.2 145,467.2 144.1,466.4 143.2,465.8 142.1,465.2 141,464.8 139.8,464.4 138.5,464 137.3,463.4 136.1,462.9 135.1,462.2 134.3,461.4 133.8,460.7 133.6,459.9 133.8,459.2 134.4,458.7 135.3,458.4 136.5,458.3 138,458.5 139.7,459.1 141.4,459.9 143.1,461.1 144.7,462.4 146.1,463.9 147.2,465.5 148,467 148.4,468.4 148.5,469.6 148.2,470.5 147.7,471.1 146.9,471.2 146,470.9 145.1,470.3 144.1,469.3 143.2,467.9 142.4,466.3 141.8,464.5 141.3,462.7 141,460.8 140.8,459 140.7,457.3 140.6,455.8 140.5,454.3 140.3,453.1 140,452 139.6,451 139,450 138.1,449 137.2,448 136.1,446.9 134.9,445.6 133.7,444.2 132.6,442.6 131.6,441 130.8,439.2 130.3,437.5 130,435.9 130,434.4 130.3,433.2 130.9,432.3 131.6,431.8 132.5,431.7 133.4,432.1 134.3,432.9 135.1,434.1 135.7,435.6 136.1,437.4 136.3,439.3 136.1,441.2 135.8,443.1 135.2,444.8 134.5,446.2 133.7,447.4 132.9,448.1 132.1,448.5 131.4,448.6 131,448.3 130.7,447.7 130.7,446.9 130.8,446 131.2,445 131.7,444 132.3,443.1 132.9,442.2 133.5,441.4 133.9,440.7 134.2,440 134.2,439.3 134.1,438.5 133.6,437.6 133,436.5 132.2,435.2 131.3,433.6 130.4,431.7 129.6,429.5 128.8,427.1 128.3,424.5 128.1,421.8 128.1,419.1 128.4,416.5 129,414 129.9,411.8 130.9,410 132,408.6 133.1,407.7 134.1,407.3 135,407.3 135.5,407.7 135.8,408.5 135.7,409.6 135.2,410.9 134.3,412.3 133.2,413.7 131.9,415 130.3,416.2 128.8,417.1 127.3,417.9 125.9,418.4 124.7,418.8 123.9,419 123.3,419 123,419 123.1,419 123.4,419 124,419 124.6,419.1 125.3,419.3 126,419.6 126.6,419.8 127,420 127.2,420 127.2,419.8 127,419.3 126.6,418.5 126.2,417.3 125.8,415.6 125.5,413.5 125.3,411 125.4,408.2 125.9,405.1 126.7,401.9 128,398.6 129.7,395.4 131.7,392.3 134,389.6 136.4,387.2 139,385.3 141.5,383.8 143.9,382.8 146,382.2 147.7,382 148.9,382.1 149.7,382.4 149.9,382.8 149.7,383.2 148.9,383.6 147.8,383.8 146.4,384 144.9,383.9 143.2,383.8 141.5,383.5 139.9,383.2 138.6,382.9 137.4,382.7 136.5,382.6 135.8,382.7 135.3,383.1 135.1,383.7 134.9,384.5 134.8,385.6 134.7,386.8 134.6,388.1 134.4,389.3 134.1,390.4 133.7,391.3 133.3,391.9 132.8,392.1 132.4,391.8 132.2,391.1 132.2,389.9 132.5,388.2 133.3,386.2 134.5,383.9 136.2,381.4 138.5,378.9 141.3,376.4 144.5,374.2 148,372.3 151.9,370.7 155.8,369.6 159.8,369 163.6,368.8 167.2,369 170.4,369.5 173.2,370.3 175.4,371.1 177.2,372 178.5,372.7 179.3,373.3 179.7,373.6 179.8,373.7 179.6,373.4 179.3,372.8 178.8,372 178.3,371.1 177.9,370 177.4,369 176.9,368.1 176.5,367.5 176,367 175.4,366.9 174.7,367.1 173.8,367.6 172.8,368.4 171.5,369.4 170.1,370.5 168.5,371.6 166.8,372.7 165.1,373.6 163.4,374.3 161.9,374.7 160.6,374.8 159.7,374.5 159.2,373.9 159.3,373.2 159.9,372.2 161.1,371.2 162.8,370.2 165.2,369.3 168,368.7 171.2,368.4 174.7,368.5 178.3,369 182,369.9 185.6,371.3 189,373 192.2,375 194.9,377.1 197.3,379.4 199.3,381.6 200.9,383.7 202.2,385.5 203.2,387.1 204,388.3 204.6,389.3 205.3,389.8 205.9,390.1 206.5,390.1 207.3,390 208,389.8 208.8,389.5 209.5,389.2 210.2,389 210.6,388.9 210.8,388.9 210.7,389 210.3,389.2 209.5,389.4 208.2,389.5 206.7,389.6 204.8,389.6 202.8,389.3 200.6,388.9 198.4,388.3 196.4,387.6 194.5,386.6 193,385.6 191.9,384.5 191.3,383.5 191.2,382.7 191.6,382 192.4,381.7 193.6,381.7 195.1,382.1 196.9,383 198.8,384.3 200.7,386 202.6,388.1 204.3,390.4 205.7,393 206.9,395.7 207.9,398.5 208.6,401.1 209.1,403.7 209.4,406 209.5,408.1 209.7,409.9 209.9,411.5 210.1,412.9 210.5,414 211,415.1 211.7,416 212.5,416.9 213.4,417.8 214.3,418.7 215.2,419.7 215.9,420.8 216.5,421.8 216.9,422.8 217,423.7 216.8,424.5 216.3,425 215.5,425.2 214.4,425.1 213.2,424.6 211.9,423.8 210.6,422.6 209.3,421.1 208.2,419.4 207.2,417.5 206.6,415.6 206.2,413.7 206.1,412 206.2,410.6 206.6,409.5 207.2,408.8 207.9,408.6 208.6,408.8 209.2,409.5 209.8,410.5 210.2,411.9 210.4,413.6 210.3,415.4 210.1,417.3 209.7,419.2 209.1,421 208.4,422.7 207.8,424.3 207.1,425.7 206.6,427 206.2,428.2 206,429.3 206,430.3 206.1,431.4 206.5,432.6 207,433.9 207.5,435.4 208.1,437 208.6,438.8 209,440.7 209.2,442.6 209.2,444.5 209,446.2 208.5,447.8 207.8,449.1 207,450.1 206.1,450.6 205.2,450.7 204.3,450.4 203.6,449.7 203,448.5 202.7,447.1 202.7,445.4 203,443.7 203.6,441.8 204.4,440.1 205.4,438.6 206.5,437.3 207.7,436.3 208.8,435.6 209.8,435.3 210.6,435.3 211.1,435.5 211.4,436 211.3,436.7 211,437.4 210.4,438.2 209.6,439 208.7,439.6 207.8,440.2 206.9,440.8 206,441.2 205.4,441.7 204.8,442.1 204.5,442.7 204.4,443.5 204.5,444.4 204.7,445.6 204.9,447.1 205.1,448.9 205.2,451 205.1,453.3 204.8,455.8 204.2,458.3 203.3,460.9 202.1,463.3 200.7,465.6 199.2,467.5 197.5,469.1 195.8,470.3 194.2,471 192.8,471.4 191.7,471.3 190.9,470.9 190.6,470.2 190.7,469.4 191.2,468.4 192.2,467.4 193.5,466.5 195.1,465.7 196.9,465.1 198.7,464.7 200.5,464.4 202.2,464.4 203.6,464.5 204.8,464.7 205.7,464.9 206.2,465.1 206.4,465.2 206.3,465.3 205.9,465.2 205.5,464.9 204.9,464.6 204.3,464.1 203.8,463.6 203.4,463.2 203.1,462.9 202.9,462.8 202.8,462.9 202.8,463.4 202.8,464.3 202.6,465.6 202.3,467.2 201.7,469.2 200.8,471.5 199.4,473.9 197.7,476.4 195.5,478.9 193,481.2 190.1,483.3 187,485 183.8,486.4 180.5,487.3 177.4,487.8 174.5,487.9 172,487.6 169.9,487.1 168.3,486.4 167.2,485.7 166.7,485 166.7,484.5 167.2,484.2 168,484.2 169.1,484.4 170.4,484.9 171.8,485.7 173.3,486.7 174.7,487.7 175.9,488.8 177,489.8 178,490.7 178.8,491.3 179.4,491.6 180,491.6 180.5,491.3 181,490.8 181.5,490 182.1,489 182.7,488 183.4,487.1 184.1,486.2 184.9,485.6 185.5,485.3 186,485.3 186.2,485.7 186,486.4 185.5,487.5 184.5,488.7 182.9,490.1 180.8,491.5 178.2,492.8 175.1,494 171.6,494.8 167.8,495.2 163.8,495.1 159.8,494.6 155.9,493.7 152.2,492.3 148.8,490.7 145.9,488.7 143.4,486.7 141.4,484.7 139.9,482.9 138.8,481.3 138.1,480 137.8,479.1 137.7,478.6 137.7,478.6 137.8,478.9 137.9,479.6 137.9,480.6 137.9,481.7 137.9,482.9 137.8,484.1 137.8,485.2 137.8,486.1 137.9,486.8 138.3,487.3 138.8,487.6 139.7,487.6 140.8,487.5 142.2,487.3 143.9,487.1 145.7,486.8 147.6,486.7 149.4,486.8 151.2,487 152.7,487.3 153.8,487.9 154.5,488.5 154.7,489.3 154.3,489.9 153.4,490.5 151.9,490.9 149.9,490.9 147.5,490.6 144.8,489.9 141.8,488.6 138.9,486.9 135.9,484.8 133.1,482.2 130.6,479.4 128.4,476.3 126.6,473.1 125.2,469.9 124.1,466.9 123.4,464.1 122.9,461.6 122.7,459.4 122.5,457.6 122.3,456.2 122.1,455.2 121.8,454.5 121.4,454.1 120.8,453.8 120.1,453.7 119.3,453.7 118.4,453.6 117.6,453.6 117,453.5 116.5,453.4 116.3,453.4 116.4,453.3 116.9,453.4 117.7,453.5 118.8,453.9 120.2,454.4 121.8,455.2 123.6,456.3 125.3,457.5 127,459 128.5,460.6 129.7,462.2 130.6,463.7 131.1,465.2 131.2,466.3 130.9,467.2 130.3,467.6 129.4,467.6 128.4,467 127.2,466 126,464.4 124.8,462.4 123.9,460.1 123.1,457.5 122.7,454.6 122.5,451.7 122.5,448.8 122.8,445.9 123.3,443.3 123.9,440.8 124.6,438.7 125.2,436.7 125.8,435.1 126.2,433.6 126.5,432.3 126.5,431.1 126.4,429.9 126.1,428.8 125.6,427.6 125.2,426.5 124.7,425.2 124.3,423.9 124,422.7 123.9,421.5 124,420.5 124.3,419.7 124.9,419.1 125.6,418.9 126.5,419.1 127.5,419.6 128.5,420.6 129.4,421.9 130.2,423.6 130.9,425.5 131.3,427.6 131.5,429.7 131.4,431.7 131.1,433.5 130.6,435.1 129.9,436.3 129.2,437.1 128.5,437.5 127.8,437.4 127.3,436.9 127,436 127,434.8 127.3,433.4 127.8,431.8 128.6,430.2 129.6,428.6 130.7,427.1 132,425.7 133.2,424.4 134.4,423.3 135.5,422.3 136.4,421.4 137.2,420.5 137.7,419.6 138.1,418.6 138.3,417.4 138.4,416.2 138.4,414.7 138.5,413.1 138.6,411.3 138.8,409.4 139.3,407.5 139.9,405.7 140.6,403.9 141.6,402.4 142.7,401.1 143.8,400.3 145,399.8 146.1,399.7 147,400 147.7,400.8 148.1,401.8 148.2,403.2 147.9,404.7 147.3,406.3 146.3,407.9 145.2,409.4 143.8,410.7 142.3,411.8 140.9,412.6 139.5,413.1 138.3,413.3 137.4,413.2 136.8,413 136.5,412.5 136.6,412 137,411.4 137.7,410.9 138.6,410.5 139.6,410.1 140.7,409.9 141.8,409.7 142.8,409.6 143.7,409.6 144.5,409.4 145.1,409.2 145.5,408.7 145.9,408.1 146.2,407.1 146.5,405.9 146.8,404.4 147.4,402.6 148.1,400.7 149.2,398.6 150.5,396.4 152.1,394.3 154,392.4 156.1,390.7 158.3,389.3 160.6,388.2 162.8,387.5 164.9,387.2 166.7,387.3 168.1,387.6 169.1,388.2 169.6,388.9 169.6,389.7 169.1,390.4 168.2,391.1 166.9,391.6 165.3,391.9 163.5,391.9 161.7,391.7 159.8,391.3 158.1,390.8 156.5,390.1 155.2,389.5 154.3,388.8 153.6,388.2 153.3,387.9 153.2,387.7 153.3,387.7 153.6,387.9 153.9,388.3 154.3,388.9 154.6,389.5 154.9,390.2 155.2,390.7 155.3,391.1 155.4,391.3 155.6,391.1 155.9,390.6 156.3,389.8 157,388.7 158,387.4 159.4,385.9 161.2,384.3 163.5,382.7 166.2,381.2 169.2,380 172.5,379.1 176,378.6 179.5,378.5 182.9,378.9 186.2,379.6 189.2,380.6 191.7,381.9 193.8,383.4 195.5,384.8 196.6,386.2 197.2,387.3 197.3,388.1 197.1,388.6 196.5,388.7 195.8,388.3 194.9,387.6 194,386.5 193,385.1 192.2,383.5 191.4,381.8 190.8,380.1 190.3,378.6 189.9,377.2 189.5,376.2 189.1,375.4 188.6,375 188.1,374.9 187.4,375.1 186.7,375.4 185.8,375.9 184.8,376.5 183.8,377 182.8,377.3 181.9,377.5 181.3,377.5 180.9,377.3 180.9,376.8 181.4,376.3 182.4,375.6 183.9,375 185.9,374.5 188.4,374.2 191.4,374.2 194.7,374.7 198.2,375.6 201.8,376.9 205.4,378.8 208.8,381.1 211.9,383.8 214.7,386.7 217,389.7 218.9,392.8 220.2,395.7 221.2,398.4 221.8,400.8 222.1,402.8 222.1,404.2 222.1,405.2 222,405.7 222,405.7 222.1,405.3 222.4,404.6 222.8,403.7 223.3,402.6 223.9,401.4 224.6,400.3 225.1,399.2 225.6,398.3 225.8,397.5 225.8,396.8 225.4,396.2 224.7,395.6 223.7,395.1 222.4,394.6 220.9,394 219.2,393.4 217.5,392.6 215.9,391.7 214.5,390.7 213.3,389.6 212.6,388.6 212.2,387.7 212.4,387 213.1,386.6 214.2,386.5 215.8,386.8 217.6,387.7 219.7,389.1 221.9,391.1 224.1,393.6 226.1,396.6 227.9,399.9 229.4,403.6 230.4,407.4 231.2,411.3 231.5,415.1 231.4,418.8 231.1,422.2 230.6,425.2 229.9,427.8 229.2,430.1 228.6,431.9 228.1,433.3 227.9,434.5 227.8,435.3 228,436 228.4,436.5 229,436.9 229.7,437.3 230.5,437.7 231.2,438 231.8,438.3 232.2,438.5 232.4,438.6 232.3,438.5 232,438.2 231.3,437.6 230.5,436.7 229.4,435.5 228.3,434 227.2,432.2 226.1,430.2 225.2,428.1 224.5,426 224,424 223.9,422.1 224,420.6 224.3,419.5 224.9,418.8 225.6,418.7 226.4,419.1 227.1,420.1 227.7,421.7 228.1,423.6 228.3,426 228.1,428.7 227.7,431.5 226.9,434.4 225.8,437.3 224.4,440.1 222.9,442.7 221.3,445.1 219.6,447.2 218,449.1 216.5,450.7 215.2,452.2 214,453.5 213.2,454.7 212.5,455.8 212,457 211.7,458.2 211.5,459.5 211.3,460.9 211.2,462.2 211,463.5 210.7,464.8 210.2,465.9 209.7,466.7 209,467.3 208.3,467.5 207.5,467.3 206.8,466.7 206.2,465.7 205.7,464.3 205.4,462.6 205.4,460.6 205.6,458.5 206,456.3 206.7,454.3 207.6,452.3 208.7,450.7 209.7,449.4 210.8,448.5 211.7,448 212.5,448 212.9,448.3 213.1,448.9 212.9,449.8 212.4,450.9 211.5,452.1 210.3,453.3 208.9,454.5 207.3,455.5 205.5,456.5 203.8,457.3 202,458 200.4,458.5 198.9,459.1 197.6,459.6 196.4,460.1 195.5,460.8 194.6,461.6 193.8,462.6 193.1,463.8 192.3,465.1 191.5,466.5 190.5,468.1 189.4,469.6 188.1,471.1 186.7,472.5 185.2,473.7 183.6,474.6 182,475.2 180.6,475.4 179.3,475.3 178.3,474.9 177.6,474.1 177.3,473.1 177.4,471.9 177.9,470.6 178.9,469.3 180.1,468.1 181.7,467 183.4,466.1 185.2,465.4 187,464.9 188.7,464.8 190.1,464.8 191.3,465.1 192.1,465.4 192.5,465.9 192.5,466.3 192.2,466.7 191.6,467 190.7,467.2 189.7,467.2 188.5,467 187.4,466.7 186.3,466.4 185.3,466 184.4,465.7 183.6,465.5 182.9,465.4 182.2,465.5 181.6,465.9 180.9,466.6 180,467.4 179,468.5 177.7,469.7 176.2,470.9 174.4,472.1 172.3,473.2 170,474.1 167.5,474.7 165,475.1 162.5,475.1 160.2,474.8 158,474.2 156.2,473.4 154.7,472.5 153.7,471.4 153.1,470.3 153,469.4 153.3,468.6 154.1,468.1 155.2,467.9 156.5,468.1 158,468.5 159.6,469.3 161.1,470.4 162.5,471.6 163.8,473 164.8,474.3 165.6,475.6 166.1,476.8 166.4,477.6 166.5,478.3 166.4,478.6 166.3,478.6 166.1,478.3 165.9,477.8 165.7,477.1 165.7,476.4 165.6,475.6 165.7,475 165.7,474.4 165.7,474.1 165.5,474 165.1,474.1 164.5,474.5 163.5,474.9 162.2,475.4 160.5,475.9 158.4,476.3 156,476.5 153.3,476.4 150.5,476 147.5,475.2 144.5,474 141.7,472.5 139.1,470.7 136.8,468.7 134.9,466.5 133.4,464.3 132.3,462.2 131.7,460.3 131.4,458.7 131.5,457.5 131.8,456.7 132.2,456.4 132.8,456.6 133.3,457.3 133.8,458.4 134.1,459.8 134.2,461.4 134.2,463.2 134.1,465 133.8,466.7 133.4,468.3 133.1,469.7 132.8,470.8 132.6,471.6 132.6,472.2 132.9,472.5 133.3,472.6 134,472.6 134.8,472.6 135.8,472.5 136.8,472.5 137.8,472.6 138.6,472.8 139.2,473.1 139.4,473.5 139.3,473.9 138.7,474.2 137.7,474.4 136.2,474.4 134.3,474 132.1,473.2 129.6,472 127,470.3 124.4,468.2 121.9,465.5 119.6,462.5 117.6,459.2 116,455.8 114.8,452.2 114,448.7 113.6,445.3 113.6,442.3 113.8,439.6 114.2,437.4 114.6,435.7 115.1,434.4 115.4,433.7 115.6,433.4 115.5,433.4 115.2,433.8 114.6,434.3 113.8,435 112.8,435.8 111.7,436.6 110.6,437.3 109.6,438 108.8,438.7 108.2,439.3 107.9,439.8 107.9,440.5 108.3,441.2 108.9,442 109.8,442.9 110.9,444 112.1,445.3 113.2,446.7 114.3,448.1 115.1,449.6 115.6,451 115.8,452.2 115.6,453.2 115.1,453.7 114.3,453.9 113.1,453.5 111.8,452.6 110.4,451.1 109.1,449 107.8,446.3 106.8,443.2 106.1,439.8 105.8,436 105.8,432.1 106.3,428.2 107.1,424.4 108.3,420.8 109.6,417.4 111.2,414.4 112.8,411.8 114.3,409.6 115.7,407.8 116.9,406.3 117.8,405 118.5,404 118.8,403.2 118.8,402.4 118.6,401.7 118.1,401 117.6,400.3 117,399.6 116.4,399 116,398.5 115.6,398.2 115.5,398.1 115.5,398.3 115.7,398.8 116,399.7 116.4,400.9 116.8,402.6 117.2,404.5 117.5,406.7 117.7,409 117.7,411.3 117.4,413.6 117,415.7 116.4,417.5 115.7,418.8 114.9,419.7 114.1,420.1 113.4,419.9 112.8,419.1 112.5,417.9 112.6,416.2 113,414.1 113.8,411.8 114.9,409.3 116.5,406.8 118.4,404.3 120.5,402 122.9,399.8 125.3,397.9 127.8,396.2 130.3,394.7 132.6,393.4 134.7,392.3 136.6,391.4 138.3,390.4 139.7,389.5 141,388.6 142,387.6 143,386.5 143.8,385.3 144.6,384.1 145.5,382.9 146.3,381.8 147.1,380.8 148,380 148.9,379.5 149.7,379.3 150.4,379.4 150.9,380 151.3,380.9 151.3,382.2 151.1,383.7 150.5,385.5 149.6,387.4 148.5,389.4 147,391.3 145.5,393.1 143.8,394.5 142.1,395.7 140.6,396.6 139.2,397.1 138.2,397.2 137.5,397.1 137.2,396.7 137.3,396.1 137.9,395.3 138.9,394.6 140.2,393.8 141.9,393.2 143.8,392.7 145.8,392.3 147.9,392.1 149.9,392 152,392.1 153.9,392.1 155.6,392.2 157.2,392.3 158.7,392.2 160.2,392 161.5,391.7 162.9,391.3 164.2,390.7 165.7,390 167.3,389.3 168.9,388.5 170.7,387.9 172.6,387.3 174.5,386.9 176.4,386.7 178.2,386.8 179.9,387.1 181.3,387.6 182.4,388.3 183.1,389.2 183.3,390.3 183.2,391.3 182.5,392.3 181.5,393.3 180,394 178.3,394.6 176.4,394.9 174.4,394.9 172.4,394.7 170.5,394.3 168.9,393.7 167.5,393 166.5,392.3 165.9,391.6 165.7,391 165.8,390.6 166.3,390.4 166.9,390.5 167.8,390.8 168.8,391.3 169.8,392 170.8,392.8 171.7,393.7 172.5,394.6 173.2,395.4 173.9,396.2 174.6,396.8 175.3,397.2 176,397.4 176.9,397.5 177.9,397.5 179.2,397.4 180.7,397.3 182.4,397.2 184.3,397.3 186.3,397.5 188.5,398 190.6,398.7 192.7,399.7 194.7,400.8 196.5,402.2 197.9,403.7 199.1,405.3 199.8,406.8 200.2,408.3 200.2,409.5 199.8,410.4 199.1,411 198.2,411.1 197.2,410.9 196.1,410.2 195,409.1 194,407.8 193.2,406.2 192.5,404.4 192.1,402.6 191.9,400.9 192,399.4 192.1,398.1 192.4,397.1 192.7,396.4 193.1,396.1 193.3,396.1 193.5,396.4 193.5,396.9 193.4,397.5 193.2,398.2 192.9,399 192.6,399.6 192.3,400.1 192.1,400.5 192,400.8 192.2,400.9 192.7,401 193.6,401.1 194.7,401.3 196.2,401.6 198,402.2 200,403 202.1,404.1 204.3,405.6 206.4,407.4 208.4,409.6 210.2,411.9 211.7,414.5 212.8,417.1 213.6,419.7 214,422.1 214,424.3 213.8,426.2 213.4,427.6 212.9,428.6 212.3,429.1 211.8,429.1 211.5,428.7 211.3,427.8 211.4,426.7 211.8,425.3 212.4,423.8 213.2,422.2 214.2,420.7 215.3,419.3 216.4,418.1 217.4,417 218.2,416.2 218.8,415.6 219.2,415.1 219.3,414.8 219.1,414.5 218.6,414.3 217.9,414 217.1,413.6 216.3,413.2 215.6,412.7 215,412.2 214.7,411.6 214.7,411.2 215,410.8 215.7,410.7 216.7,411 218.1,411.6 219.7,412.7 221.4,414.2 223.1,416.3 224.8,418.8 226.3,421.8 227.5,425.2 228.3,428.8 228.8,432.6" fill="none" stroke="#22dd22" stroke-width="0.7" stroke-linejoin="round"/><polyline points="231.2,455.6 231.8,454.6 232.3,453.6 232.7,452.5 233.1,451.4 233.5,450.3 233.8,449.1 234.2,447.8 234.5,446.6 234.8,445.3 235.2,444 235.5,442.7 235.8,441.4 236.1,440.1 236.4,438.9 236.7,437.7 236.8,436.5 237,435.3 237,434.1 237,432.9 237,431.7 236.9,430.4 236.7,429.1 236.5,427.8 236.3,426.5 236.1,425.1 235.8,423.8 235.6,422.4 235.3,421.1 235.1,419.7 234.8,418.4 234.5,417.2 234.2,415.9 233.9,414.7 233.5,413.6 233,412.5 232.4,411.3 231.8,410.2 231.2,409.1 230.5,408 229.7,406.9 229,405.7 228.2,404.6 227.4,403.4 226.6,402.3 225.9,401.1 225.1,400 224.3,399 223.6,397.9 222.8,397 221.9,396.1 221.1,395.2 220.2,394.4 219.2,393.6 218.2,392.9 217.2,392.1 216.1,391.4 215,390.7 213.8,389.9 212.7,389.2 211.5,388.4 210.4,387.7 209.3,387 208.2,386.3 207.1,385.7 206,385.1 205,384.6 203.9,384.1 202.8,383.7 201.7,383.3 200.5,383 199.4,382.7 198.1,382.5 196.9,382.3 195.6,382 194.3,381.8 193,381.6 191.8,381.4 190.5,381.1 189.3,380.9 188.1,380.8 186.9,380.6 185.8,380.5 184.7,380.5 183.6,380.5 182.5,380.6 181.4,380.7 180.3,380.9 179.2,381.2 178.1,381.4 176.9,381.7 175.7,382 174.5,382.3 173.4,382.6 172.2,382.8 171.1,383.1 170,383.4 168.9,383.7 167.9,384 167,384.4 166,384.8 165.2,385.2 164.3,385.7 163.5,386.2 162.6,386.8 161.8,387.4 160.9,388.1 160,388.7 159.1,389.4 158.2,390.1 157.4,390.7 156.5,391.3 155.7,391.9 154.9,392.5 154.1,393 153.4,393.6 152.7,394.2 152.1,394.8 151.5,395.4 151,396.1 150.5,396.8 149.9,397.5 149.4,398.2 148.9,399 148.3,399.8 147.8,400.6 147.2,401.3 146.6,402 146,402.7 145.4,403.4 144.9,404 144.3,404.7 143.9,405.3 143.4,405.8 143,406.4 142.6,407.1 142.3,407.7 142,408.4 141.7,409.1 141.3,409.8 141,410.5 140.6,411.3 140.2,412 139.8,412.8 139.4,413.5 138.9,414.2 138.5,414.9 138,415.5 137.6,416.1 137.2,416.7 136.8,417.3 136.5,417.9 136.2,418.5 135.9,419.1 135.7,419.8 135.4,420.5 135.2,421.2 134.9,422 134.6,422.8 134.3,423.6 134,424.4 133.6,425.2 133.3,425.9 132.9,426.7 132.5,427.4 132.1,428.1 131.8,428.8 131.5,429.5 131.2,430.2 131,430.9 130.8,431.6 130.6,432.3 130.5,433.1 130.4,433.9 130.2,434.8 130.1,435.7 129.9,436.6 129.7,437.5 129.5,438.5 129.3,439.4 129.1,440.3 128.9,441.2 128.7,442 128.5,442.9 128.4,443.7 128.3,444.5 128.2,445.3 128.2,446.2 128.3,447 128.4,447.9 128.5,448.8 128.6,449.8 128.7,450.8 128.8,451.8 128.9,452.8 129,453.8 129.1,454.8 129.2,455.8 129.3,456.8 129.4,457.8 129.5,458.7 129.7,459.5 129.9,460.4 130.2,461.2 130.5,462.1 130.9,462.9 131.3,463.8 131.8,464.7 132.2,465.6 132.7,466.5 133.2,467.4 133.7,468.4 134.2,469.3 134.7,470.3 135.1,471.2 135.6,472.1 136.1,472.9 136.6,473.7 137.1,474.4 137.6,475.2 138.2,475.8 138.9,476.5 139.6,477.1 140.4,477.8 141.1,478.4 142,479.1 142.8,479.7 143.6,480.4 144.4,481.1 145.3,481.7 146,482.4 146.8,483 147.6,483.6 148.4,484.1 149.1,484.6 149.9,485.1 150.7,485.4 151.5,485.8 152.4,486.1 153.3,486.3 154.2,486.6 155.2,486.8 156.2,487.1 157.2,487.3 158.2,487.6 159.2,487.8 160.2,488.1 161.1,488.3 162,488.6 162.9,488.7 163.8,488.9 164.6,489 165.5,489 166.3,488.9 167.2,488.9 168,488.7 168.9,488.6 169.9,488.4 170.8,488.2 171.8,488 172.8,487.8 173.7,487.6 174.7,487.5 175.6,487.3 176.5,487.1 177.3,486.9 178.1,486.7 178.9,486.5 179.6,486.2 180.3,485.8 181,485.4 181.7,485 182.4,484.5 183.1,484 183.8,483.4 184.5,482.9 185.3,482.3 186,481.8 186.8,481.3 187.5,480.8 188.2,480.3 188.9,479.8 189.5,479.3 190.1,478.8 190.6,478.3 191,477.8 191.5,477.2 191.9,476.6 192.3,475.9 192.7,475.3 193.1,474.5 193.5,473.8 194,473.1 194.4,472.3 194.8,471.6 195.3,470.9 195.7,470.2 196.1,469.6 196.5,469 196.9,468.4 197.2,467.8 197.4,467.2 197.6,466.6 197.8,466 197.9,465.4 198,464.7 198.1,464 198.2,463.2 198.4,462.5 198.5,461.8 198.7,461 198.9,460.3 199.1,459.6 199.3,458.9 199.4,458.3 199.6,457.7 199.7,457.2 199.8,456.6 199.9,456.1 199.9,455.6 199.9,455.1 199.9,454.5 199.8,454 199.7,453.4 199.7,452.8 199.6,452.1 199.6,451.5 199.6,450.9 199.6,450.3 199.7,449.7 199.8,449.1 199.9,448.6 199.9,448.1 200,447.7 200,447.2 200,446.9 200,446.5 200,446.1 199.9,445.7 199.8,445.3 199.7,444.8 199.6,444.4 199.5,443.9 199.5,443.4 199.5,442.9 199.5,442.4 199.6,441.9 199.6,441.4 199.7,441 199.8,440.6 200,440.2 200.1,439.9 200.1,439.6 200.2,439.3 200.2,439 200.2,438.7 200.2,438.4 200.2,438.1 200.2,437.7 200.2,437.3 200.2,436.8 200.3,436.4 200.4,435.9 200.5,435.5 200.7,435 200.9,434.6 201.1,434.2 201.3,433.9 201.5,433.5 201.7,433.2 201.9,432.9 202.1,432.6 202.2,432.3 202.3,432 202.4,431.7 202.5,431.3 202.6,430.8 202.7,430.4 202.8,429.9 203,429.4 203.2,428.9 203.5,428.3 203.7,427.8 204,427.4 204.3,426.9 204.6,426.5 204.9,426 205.2,425.6 205.4,425.2 205.6,424.8 205.8,424.4 205.9,423.9 206.1,423.5 206.2,422.9 206.3,422.4 206.5,421.7 206.6,421.1 206.8,420.5 207.1,419.8 207.3,419.1 207.6,418.5 207.9,417.9 208.1,417.3 208.4,416.7 208.6,416.1 208.8,415.6 209,415 209.1,414.5 209.2,413.9 209.3,413.2 209.3,412.6 209.3,411.9 209.4,411.2 209.4,410.4 209.4,409.6 209.5,408.8 209.6,408 209.7,407.2 209.8,406.5 209.9,405.7 210,405 210.1,404.3 210.1,403.6 210.1,403 210.1,402.3 210,401.6 209.8,400.9 209.6,400.2 209.4,399.5 209.2,398.7 209,397.9 208.8,397.1 208.6,396.2 208.4,395.4 208.2,394.5 208,393.7 207.9,392.9 207.7,392.2 207.5,391.5 207.3,390.8 207,390.1 206.6,389.5 206.3,388.8 205.8,388.2 205.4,387.5 204.9,386.9 204.4,386.2 203.8,385.5 203.3,384.7 202.7,384 202.2,383.2 201.7,382.5 201.2,381.8 200.7,381.1 200.2,380.5 199.7,379.9 199.2,379.4 198.6,378.9 198,378.4 197.4,377.9 196.7,377.5 195.9,377.1 195.1,376.6 194.3,376.2 193.5,375.7 192.7,375.2 191.9,374.7 191.1,374.2 190.3,373.8 189.5,373.3 188.7,372.9 188,372.5 187.3,372.2 186.5,372 185.7,371.7 184.9,371.6 184.1,371.4 183.2,371.3 182.3,371.2 181.3,371.1 180.3,371 179.3,370.9 178.3,370.8 177.4,370.7 176.4,370.6 175.4,370.5 174.5,370.4 173.7,370.4 172.8,370.4 171.9,370.4 171.1,370.5 170.3,370.6 169.4,370.8 168.5,371.1 167.6,371.4 166.7,371.7 165.7,372 164.7,372.3 163.8,372.6 162.8,372.9 161.8,373.2 160.8,373.5 159.9,373.8 159,374.1 158.2,374.4 157.4,374.8 156.6,375.2 155.9,375.6 155.1,376.1 154.4,376.7 153.7,377.3 152.9,377.9 152.1,378.6 151.3,379.2 150.5,379.9 149.7,380.6 148.9,381.2 148.1,381.8 147.3,382.5 146.6,383.1 145.9,383.7 145.3,384.3 144.7,384.9 144.1,385.6 143.6,386.3 143.1,387 142.6,387.8 142.1,388.6 141.6,389.4 141.1,390.3 140.6,391.2 140.1,392 139.6,392.9 139,393.7 138.5,394.6 138,395.3 137.5,396.1 137.1,396.9 136.7,397.6 136.3,398.3 136,399.1 135.7,399.8 135.5,400.6 135.3,401.5 135,402.3 134.8,403.2 134.6,404.1 134.4,405 134.1,406 133.8,406.8 133.5,407.7 133.2,408.6 132.9,409.4 132.6,410.2 132.4,410.9 132.2,411.6 132,412.3 131.9,413.1 131.8,413.8 131.7,414.5 131.7,415.3 131.6,416.1 131.6,417 131.5,417.8 131.5,418.7 131.4,419.5 131.2,420.4 131.1,421.3 130.9,422.1 130.7,422.9 130.6,423.6 130.4,424.3 130.3,425 130.2,425.7 130.1,426.4 130.1,427.1 130.1,427.8 130.1,428.5 130.2,429.3 130.2,430.1 130.2,430.9 130.2,431.8 130.2,432.7 130.2,433.5 130.1,434.4 130,435.3 129.9,436.1 129.8,436.9 129.7,437.7 129.6,438.4 129.6,439.2 129.6,439.9 129.6,440.6 129.7,441.4 129.7,442.2 129.9,443 130,443.9 130.1,444.8 130.2,445.7 130.4,446.6 130.4,447.6 130.5,448.6 130.6,449.6 130.6,450.5 130.7,451.4 130.7,452.4 130.8,453.2 130.9,454.1 131,455 131.2,455.8 131.5,456.7 131.8,457.6 132.1,458.5 132.5,459.4 132.9,460.4 133.3,461.4 133.7,462.5 134,463.5 134.4,464.6 134.8,465.7 135.2,466.7 135.5,467.7 135.9,468.7 136.3,469.6 136.8,470.6 137.3,471.5 137.9,472.3 138.5,473.2 139.1,474.1 139.9,474.9 140.6,475.8 141.4,476.7 142.2,477.7 143.1,478.6 143.9,479.6 144.7,480.5 145.6,481.5 146.4,482.4 147.2,483.3 148.1,484.1 148.9,484.9 149.8,485.6 150.7,486.3 151.7,486.9 152.8,487.5 153.8,488.1 155,488.7 156.2,489.3 157.4,489.8 158.6,490.4 159.9,491 161.1,491.6 162.4,492.1 163.6,492.7 164.8,493.2 166,493.7 167.2,494.1 168.4,494.4 169.6,494.7 170.9,494.9 172.1,495.1 173.4,495.2 174.8,495.3 176.2,495.3 177.6,495.4 179,495.4 180.5,495.4 181.9,495.4 183.4,495.4 184.8,495.4 186.2,495.4 187.6,495.3 188.9,495.2 190.2,495 191.5,494.8 192.8,494.5 194.1,494.1 195.4,493.7 196.7,493.2 198,492.7 199.3,492.1 200.6,491.5 202,490.9 203.4,490.3 204.7,489.7 206.1,489 207.4,488.4 208.6,487.8 209.8,487.1 211,486.4 212.1,485.6 213.2,484.8 214.2,484 215.2,483.1 216.1,482.1 217.1,481.1 218.1,480 219,478.9 220,477.7 220.9,476.6 221.9,475.4 222.8,474.3 223.7,473.2 224.6,472.1 225.4,470.9 226.2,469.8 226.9,468.7 227.5,467.6 228,466.4 228.5,465.2 229,463.9 229.4,462.6 229.8,461.3 230.2,459.9 230.6,458.5 230.9,457.1 231.3,455.7 231.6,454.4 232,453 232.3,451.6 232.6,450.3 232.8,449.1 232.9,447.8 233,446.6 233.1,445.3 233.1,444.1 233,442.9 232.8,441.6 232.7,440.3 232.5,439 232.2,437.7 232,436.3 231.8,435 231.6,433.7 231.3,432.4 231.1,431.1 230.9,429.8 230.6,428.7 230.3,427.5 230,426.4 229.6,425.4 229.2,424.3 228.7,423.3 228.1,422.3 227.5,421.3 226.9,420.2 226.3,419.2 225.6,418.2 225,417.1 224.3,416 223.7,415 223.1,414 222.5,413 221.9,412 221.3,411.1 220.7,410.3 220.1,409.5 219.4,408.7 218.8,408 218,407.3 217.3,406.7 216.5,406 215.6,405.3 214.8,404.6 213.9,403.9 213.1,403.2 212.3,402.5 211.5,401.8 210.7,401.1 209.9,400.4 209.2,399.7 208.5,399.1 207.8,398.6 207.1,398.1 206.3,397.6 205.6,397.2 204.8,396.8 204,396.4 203.2,396 202.3,395.7 201.4,395.3 200.5,394.9 199.6,394.5 198.7,394 197.9,393.6 197.1,393.1 196.3,392.7 195.5,392.3 194.8,391.9 194.1,391.6 193.4,391.3 192.7,391.1 192,390.9 191.2,390.7 190.4,390.5 189.6,390.4 188.8,390.2 187.9,390.1 187.1,389.9 186.2,389.7 185.3,389.5 184.5,389.3 183.7,389.1 182.9,388.8 182.2,388.6 181.5,388.4 180.8,388.3 180.1,388.1 179.4,388 178.7,388 178,388 177.3,388 176.6,388 175.8,388.1 175,388.1 174.2,388.1 173.3,388.1 172.5,388.1 171.7,388 170.9,387.9 170.2,387.9 169.4,387.8 168.8,387.7 168.1,387.7 167.5,387.7 166.8,387.7 166.2,387.8 165.5,387.9 164.9,388 164.2,388.2 163.5,388.3 162.7,388.5 162,388.6 161.2,388.7 160.4,388.8 159.6,388.9 158.8,388.9 158.1,389 157.4,389 156.7,389 156,389.1 155.4,389.1 154.8,389.2 154.2,389.4 153.6,389.6 153,389.8 152.3,390 151.6,390.3 150.9,390.5 150.2,390.8 149.4,391 148.6,391.2 147.9,391.4 147.1,391.5 146.3,391.7 145.6,391.8 144.9,391.9 144.3,392.1 143.6,392.3 143,392.5 142.5,392.7 141.9,393 141.3,393.3 140.6,393.6 140,394 139.3,394.4 138.6,394.8 137.9,395.1 137.2,395.5 136.4,395.8 135.7,396.2 135,396.5 134.3,396.8 133.6,397 133,397.3 132.4,397.6 131.8,398 131.3,398.3 130.8,398.8 130.3,399.2 129.7,399.7 129.2,400.2 128.6,400.8 128,401.3 127.4,401.9 126.8,402.4 126.2,403 125.6,403.5 125,404 124.4,404.4 123.8,404.9 123.3,405.4 122.9,405.8 122.4,406.3 122.1,406.8 121.7,407.4 121.3,408 121,408.6 120.7,409.3 120.3,410 119.9,410.7 119.5,411.4 119.1,412.1 118.7,412.8 118.3,413.5 117.9,414.1 117.5,414.7 117.2,415.3 116.9,415.9 116.7,416.5 116.5,417.1 116.3,417.7 116.2,418.4 116.1,419.1 116,419.8 115.9,420.5 115.9,421.3 115.8,422.1 115.7,422.9 115.5,423.6 115.4,424.4 115.3,425.1 115.2,425.9 115.1,426.5 115,427.2 115,427.8 115,428.4 115,429 115.1,429.7 115.3,430.3 115.5,430.9 115.7,431.6 115.9,432.3 116.1,433.1 116.3,433.8 116.5,434.6 116.6,435.3 116.8,436.1 116.9,436.8 117.1,437.5 117.2,438.1 117.4,438.7 117.6,439.3 117.9,439.8 118.2,440.4 118.5,440.9 118.9,441.4 119.3,441.9 119.7,442.5 120.1,443.1 120.6,443.7 121,444.3 121.4,445 121.8,445.6 122.2,446.2 122.6,446.8 122.9,447.4 123.3,447.9 123.6,448.4 124,448.8 124.4,449.2 124.8,449.6 125.3,450 125.8,450.4 126.3,450.8 126.9,451.2 127.5,451.6 128.1,452 128.6,452.5 129.2,452.9 129.7,453.4 130.2,453.9 130.7,454.3 131.1,454.7 131.6,455.1 132,455.5 132.4,455.8 132.9,456.1 133.4,456.3 133.9,456.5 134.4,456.8 135,457 135.6,457.2 136.2,457.5 136.8,457.8 137.4,458.1 138,458.4 138.6,458.7 139.1,459.1 139.6,459.4 140.1,459.7 140.5,460 140.9,460.2 141.4,460.5 141.8,460.6 142.2,460.8 142.7,460.9 143.2,461 143.7,461.2 144.3,461.3 144.9,461.4 145.4,461.6 146,461.8 146.6,462 147.1,462.3 147.7,462.6 148.1,462.8 148.6,463.1 149,463.3 149.4,463.5 149.8,463.7 150.2,463.9 150.6,464 151,464.1 151.5,464.2 152,464.3 152.5,464.3 153,464.4 153.6,464.5 154.1,464.7 154.7,464.9 155.2,465.1 155.7,465.3 156.2,465.5 156.7,465.8 157.1,466 157.5,466.2 157.9,466.4 158.3,466.6 158.7,466.7 159.1,466.8 159.5,466.8 160,466.9 160.5,466.9 161,467 161.6,467.1 162.1,467.2 162.7,467.3 163.3,467.5 163.9,467.7 164.4,467.9 164.9,468.1 165.4,468.3 165.9,468.5 166.3,468.6 166.7,468.8 167.1,468.9 167.6,469 168.1,469 168.5,469 169.1,469 169.6,469 170.2,469.1 170.8,469.1 171.5,469.2 172.1,469.3 172.8,469.4 173.4,469.5 174,469.7 174.5,469.8 175.1,470 175.6,470.1 176.1,470.2 176.6,470.3 177.1,470.3 177.7,470.3 178.2,470.2 178.8,470.2 179.4,470.1 180.1,470 180.8,470 181.5,469.9 182.2,469.9 183,470 183.7,470 184.4,470 185.1,470.1 185.7,470.1 186.4,470.2 187,470.2 187.6,470.1 188.2,470 188.8,469.9 189.5,469.8 190.1,469.6 190.8,469.4 191.6,469.1 192.3,468.9 193.1,468.7 194,468.5 194.8,468.3 195.6,468.2 196.4,468 197.2,467.9 198,467.7 198.7,467.6 199.4,467.4 200.1,467.1 200.8,466.9 201.4,466.5 202.1,466.2 202.8,465.7 203.5,465.3 204.3,464.8 205.1,464.3 205.9,463.8 206.7,463.4 207.5,462.9 208.4,462.4 209.2,462 210,461.5 210.7,461.1 211.4,460.6 212.1,460.1 212.8,459.6 213.4,459 214,458.4 214.6,457.7 215.1,457 215.7,456.2 216.4,455.4 217,454.6 217.6,453.7 218.3,452.9 219,452.1 219.6,451.3 220.2,450.5 220.8,449.7 221.4,448.9 221.9,448.1 222.4,447.3 222.8,446.5 223.1,445.6 223.4,444.7 223.7,443.7 224,442.7 224.3,441.7 224.6,440.6 224.8,439.5 225.1,438.4 225.4,437.3 225.7,436.3 226,435.2 226.2,434.1 226.4,433.1 226.6,432.1 226.7,431.1 226.8,430.1 226.8,429.1 226.7,428.1 226.6,427.1 226.5,426 226.3,424.9 226.1,423.8 225.9,422.6 225.7,421.4 225.5,420.2 225.3,419.1 225.1,417.9 224.9,416.8 224.7,415.7 224.4,414.7 224.1,413.7 223.8,412.7 223.3,411.7 222.9,410.8 222.4,409.9 221.8,408.9 221.2,408 220.5,407 219.9,406 219.2,405 218.5,404 217.8,402.9 217.2,401.9 216.5,401 215.9,400 215.2,399.2 214.5,398.3 213.8,397.5 213.1,396.8 212.3,396.1 211.5,395.4 210.6,394.7 209.7,394.1 208.7,393.5 207.7,392.8 206.7,392.2 205.7,391.5 204.7,390.8 203.7,390.2 202.7,389.5 201.7,388.9 200.8,388.3 199.8,387.8 198.9,387.3 197.9,386.9 197,386.5 196,386.2 195,385.9 193.9,385.7 192.8,385.5 191.7,385.3 190.6,385.1 189.4,384.9 188.2,384.7 187.1,384.5 185.9,384.3 184.8,384.1 183.7,383.9 182.7,383.8 181.7,383.7 180.7,383.6 179.7,383.7 178.7,383.7 177.7,383.9 176.7,384.1 175.7,384.3 174.6,384.5 173.6,384.8 172.5,385.1 171.4,385.3 170.3,385.6 169.2,385.9 168.2,386.1 167.1,386.4 166.2,386.6 165.2,386.9 164.4,387.2 163.5,387.6 162.7,387.9 161.9,388.4 161.1,388.9 160.3,389.4 159.5,390 158.7,390.5 157.9,391.1 157,391.7 156.2,392.3 155.3,392.9 154.5,393.4 153.6,394 152.8,394.5 152.1,395 151.4,395.4 150.7,395.9 150.1,396.5 149.5,397 149,397.6 148.4,398.2 147.9,398.9 147.3,399.6 146.7,400.3 146.1,401 145.5,401.7 144.9,402.4 144.2,403 143.6,403.7 143,404.3 142.3,404.9 141.7,405.4 141.2,406 140.7,406.6 140.2,407.1 139.7,407.7 139.3,408.3 138.9,409 138.4,409.6 138,410.3 137.6,411.1 137.1,411.8 136.6,412.6 136.1,413.3 135.5,414.1 135,414.8 134.4,415.5 133.9,416.2 133.3,416.8 132.8,417.5 132.4,418.1 131.9,418.7 131.5,419.4 131.1,420.1 130.8,420.8 130.4,421.6 130.1,422.4 129.7,423.3 129.4,424.1 129,425 128.5,425.9 128.1,426.8 127.6,427.7 127.2,428.6 126.7,429.4 126.3,430.3 125.9,431.1 125.5,431.9 125.2,432.7 124.9,433.6 124.6,434.4 124.4,435.3 124.2,436.2 124.1,437.2 123.9,438.2 123.7,439.3 123.6,440.4 123.4,441.5 123.1,442.6 122.9,443.7 122.7,444.7 122.5,445.8 122.3,446.8 122.2,447.8 122,448.8 122,449.8 122,450.8 122,451.8 122.1,452.8 122.3,453.9 122.4,455 122.6,456.1 122.8,457.3 123,458.4 123.2,459.6 123.4,460.8 123.6,462 123.7,463.2 123.9,464.3 124.2,465.4 124.4,466.5 124.7,467.5 125,468.5 125.4,469.5 125.9,470.5 126.4,471.4 127,472.4 127.6,473.4 128.2,474.5 128.8,475.5 129.5,476.6 130.1,477.7 130.8,478.7 131.4,479.8 132,480.8 132.7,481.8 133.3,482.7 134,483.6 134.7,484.4 135.4,485.2 136.2,486 137.1,486.7 138,487.4 138.9,488.1 139.9,488.8 140.9,489.5 141.9,490.2 142.9,491 143.9,491.7 144.9,492.4 145.9,493.1 146.9,493.8 147.8,494.4 148.8,494.9 149.8,495.4 150.7,495.9 151.7,496.3 152.7,496.6 153.8,496.9 154.9,497.2 156,497.5 157.2,497.7 158.4,498 159.6,498.2 160.8,498.5 161.9,498.7 163.1,499 164.2,499.2 165.3,499.4 166.4,499.6 167.4,499.7 168.5,499.7 169.5,499.7 170.5,499.7 171.5,499.6 172.6,499.4 173.7,499.2 174.8,499 175.9,498.8 177,498.5 178.2,498.3 179.3,498.1 180.4,497.8 181.5,497.6 182.6,497.4 183.6,497.1 184.5,496.9 185.4,496.5 186.3,496.2 187.2,495.8 188,495.3 188.9,494.8 189.7,494.2 190.6,493.6 191.4,493 192.3,492.4 193.2,491.8 194.1,491.1 195,490.5 195.9,489.9 196.7,489.4 197.5,488.8 198.2,488.2 198.9,487.6 199.6,487 200.2,486.4 200.8,485.7 201.3,485 201.8,484.3 202.3,483.5 202.9,482.6 203.4,481.8 203.9,481 204.5,480.1 205,479.3 205.6,478.5 206.1,477.7 206.7,476.9 207.1,476.2 207.6,475.5 208,474.8 208.3,474.1 208.6,473.3 208.9,472.6 209.1,471.8 209.3,471 209.5,470.2 209.7,469.3 209.9,468.5 210.1,467.6 210.4,466.7 210.6,465.9 210.9,465 211.1,464.2 211.4,463.5 211.6,462.8 211.8,462.1 212,461.4 212.1,460.7 212.1,460.1 212.2,459.4 212.2,458.7 212.2,458 212.2,457.3 212.1,456.5 212.1,455.7 212.2,454.9 212.2,454.2 212.3,453.4 212.4,452.7 212.5,452 212.6,451.3 212.7,450.6 212.7,450 212.8,449.5 212.8,448.9 212.8,448.4 212.8,447.8 212.7,447.3 212.6,446.7 212.5,446.1 212.4,445.5 212.4,444.8 212.3,444.2 212.3,443.5 212.3,442.9 212.3,442.2 212.4,441.6 212.5,441 212.6,440.5 212.7,439.9 212.7,439.4 212.8,439 212.8,438.5 212.8,438.1 212.8,437.6 212.7,437.1 212.6,436.6 212.6,436.1 212.5,435.5 212.5,434.9 212.5,434.3 212.5,433.7 212.6,433.1 212.7,432.5 212.8,431.9 213,431.4 213.1,430.9 213.2,430.4 213.3,429.9 213.4,429.4 213.5,429 213.5,428.5 213.6,428.1 213.5,427.6 213.5,427 213.5,426.5 213.5,425.8 213.5,425.2 213.6,424.6 213.7,423.9 213.8,423.3 213.9,422.6 214.1,422 214.3,421.4 214.4,420.8 214.6,420.3 214.7,419.8 214.8,419.2 214.8,418.7 214.9,418.2 214.9,417.6 214.8,417 214.8,416.4 214.8,415.7 214.8,415 214.7,414.2 214.8,413.5 214.8,412.7 214.9,412 215,411.3 215.1,410.6 215.2,409.9 215.2,409.2 215.3,408.6 215.3,408 215.3,407.3 215.2,406.7 215.1,406.1 215,405.4 214.8,404.7 214.6,404 214.5,403.2 214.3,402.4 214.1,401.6 214,400.8 213.9,400 213.8,399.2 213.7,398.4 213.6,397.6 213.5,396.9 213.3,396.2 213.2,395.5 212.9,394.9 212.7,394.2 212.4,393.6 212,392.9 211.6,392.2 211.2,391.5 210.8,390.8 210.4,390 210,389.2 209.6,388.5 209.2,387.7 208.8,386.9 208.4,386.2 208.1,385.4 207.7,384.8 207.3,384.1 206.9,383.5 206.4,383 205.9,382.4 205.3,381.9 204.7,381.3 204.1,380.8 203.4,380.2 202.7,379.7 202,379.1 201.3,378.5 200.6,377.9 199.9,377.2 199.3,376.6 198.6,376.1 198,375.5 197.4,375.1 196.7,374.6 196.1,374.2 195.4,373.9 194.6,373.6 193.9,373.3 193,373 192.2,372.7 191.3,372.5 190.4,372.2 189.5,371.9 188.5,371.6 187.6,371.3 186.7,371 185.9,370.7 185,370.4 184.2,370.2 183.4,370 182.6,369.9 181.8,369.9 181,369.8 180.1,369.9 179.2,369.9 178.3,370 177.4,370.1 176.4,370.2 175.4,370.3 174.4,370.4 173.4,370.5 172.4,370.6 171.5,370.7 170.5,370.8 169.6,370.9 168.8,371.1 168,371.3 167.1,371.5 166.3,371.8 165.6,372.2 164.8,372.6 163.9,373 163.1,373.5 162.2,374 161.3,374.5 160.4,375 159.5,375.5 158.6,376 157.8,376.5 156.9,376.9 156.1,377.4 155.3,377.9 154.6,378.4 153.9,378.9 153.3,379.5 152.7,380.1 152.1,380.8 151.5,381.5 150.9,382.2 150.3,383 149.7,383.8 149.1,384.6 148.4,385.4 147.8,386.2 147.1,387 146.5,387.7 145.9,388.5 145.4,389.2 144.9,389.9 144.4,390.6 144,391.3 143.7,392.1 143.3,392.9 143,393.7 142.8,394.5 142.5,395.4 142.2,396.3 141.9,397.2 141.6,398.1 141.3,399.1 141,400 140.7,400.8 140.3,401.7 140,402.5 139.8,403.2 139.5,404 139.4,404.7 139.2,405.5 139.1,406.2 139.1,407 139,407.7 139,408.5 139,409.3 139,410.2 139,411 139,411.9 138.9,412.8 138.8,413.6 138.7,414.4 138.6,415.2 138.5,415.9 138.5,416.6 138.4,417.2 138.4,417.9 138.4,418.5 138.4,419.1 138.5,419.7 138.6,420.3 138.8,421 138.9,421.6 139,422.3 139.1,423.1 139.2,423.8 139.2,424.5 139.3,425.2 139.3,425.9 139.2,426.6 139.2,427.2 139.2,427.8 139.1,428.4 139.1,428.9 139.1,429.4 139.2,429.9 139.3,430.4 139.4,431 139.5,431.5 139.6,432.1 139.8,432.7 139.9,433.4 139.9,434 140,434.7 140,435.4 140,436.1 140,436.7 139.9,437.3 139.9,438 139.8,438.5 139.8,439.1 139.8,439.6 139.8,440.2 139.9,440.7 139.9,441.3 140,441.8 140.2,442.5 140.3,443.1 140.4,443.8 140.6,444.5 140.7,445.3 140.7,446.1 140.8,446.8 140.8,447.6 140.8,448.4 140.9,449.1 140.9,449.8 140.9,450.5 141,451.2 141.1,451.8 141.2,452.5 141.4,453.2 141.7,453.9 141.9,454.6 142.2,455.4 142.5,456.1 142.9,457 143.2,457.8 143.5,458.7 143.8,459.6 144.1,460.5 144.4,461.3 144.6,462.2 144.9,463 145.2,463.7 145.6,464.5 146,465.2 146.4,465.9 146.9,466.6 147.5,467.3 148.1,468 148.7,468.7 149.4,469.5 150.1,470.2 150.8,471 151.5,471.8 152.2,472.6 152.9,473.4 153.6,474.1 154.2,474.8 154.9,475.5 155.6,476.1 156.4,476.7 157.1,477.2 157.9,477.7 158.8,478.2 159.7,478.6 160.7,479 161.7,479.5 162.7,479.9 163.8,480.3 164.8,480.7 165.9,481.2 166.9,481.6 168,482 169,482.4 170,482.7 170.9,483 171.9,483.2 172.9,483.4 173.9,483.5 175,483.6 176,483.6 177.1,483.5 178.3,483.5 179.4,483.4 180.6,483.3 181.8,483.3 183,483.2 184.2,483.1 185.4,483 186.5,482.9 187.6,482.8 188.7,482.7 189.7,482.5 190.7,482.2 191.7,481.9 192.7,481.5 193.7,481 194.7,480.6 195.8,480 196.8,479.5 197.9,478.9 199,478.3 200,477.7 201.1,477.1 202.2,476.5 203.2,475.9 204.2,475.3 205.1,474.7 206,474.1 206.8,473.5 207.6,472.8 208.4,472 209.1,471.2 209.8,470.3 210.5,469.4 211.2,468.5 211.9,467.5 212.7,466.5 213.4,465.5 214.1,464.5 214.8,463.6 215.5,462.6 216.1,461.6 216.7,460.7 217.3,459.8 217.8,458.9 218.2,457.9 218.6,456.9 218.9,455.9 219.2,454.9 219.4,453.8 219.6,452.7 219.9,451.6 220.1,450.4 220.3,449.3 220.5,448.1 220.7,446.9 221,445.8 221.2,444.7 221.3,443.7 221.5,442.6 221.5,441.6 221.6,440.7 221.5,439.7 221.4,438.7 221.3,437.7 221.1,436.7 220.9,435.7 220.6,434.6 220.4,433.5 220.1,432.4 219.9,431.4 219.7,430.3 219.4,429.2 219.2,428.2 219,427.2 218.8,426.3 218.5,425.4 218.2,424.5 217.9,423.7 217.5,422.9 217.1,422.1 216.6,421.3 216.1,420.5 215.5,419.7 215,418.8 214.4,418 213.8,417.1 213.3,416.3 212.8,415.4 212.3,414.6 211.8,413.8 211.3,413 210.8,412.3 210.3,411.6 209.8,411 209.3,410.4 208.8,409.8 208.2,409.3 207.5,408.7 206.9,408.2 206.2,407.7 205.5,407.1 204.8,406.5 204.1,405.9 203.4,405.3 202.7,404.7 202.1,404.1 201.5,403.5 200.9,402.9 200.4,402.4 199.8,401.9 199.2,401.5 198.7,401.1 198.1,400.8 197.4,400.4 196.8,400.1 196.1,399.8 195.3,399.4 194.6,399.1 193.8,398.7 193.1,398.3 192.4,397.9 191.6,397.5 191,397.1 190.3,396.7 189.7,396.3 189.1,395.9 188.5,395.6 187.9,395.3 187.3,395.1 186.7,394.9 186,394.7 185.4,394.5 184.7,394.4 183.9,394.2 183.2,394.1 182.4,393.9 181.7,393.7 180.9,393.5 180.1,393.2 179.4,393 178.7,392.7 178.1,392.5 177.4,392.3 176.8,392.1 176.2,391.9 175.6,391.8 175,391.7 174.4,391.7 173.8,391.7 173.1,391.7 172.4,391.7 171.6,391.6 170.8,391.6 170.1,391.6 169.3,391.5 168.5,391.4 167.8,391.3 167.1,391.1 166.4,391 165.7,390.9 165.1,390.8 164.5,390.7 163.9,390.7 163.3,390.7 162.7,390.8 162,390.9 161.3,390.9 160.6,391 159.9,391.1 159.1,391.2 158.3,391.3 157.6,391.3 156.8,391.3 156,391.3 155.2,391.3 154.5,391.2 153.8,391.2 153.1,391.2 152.5,391.2 151.8,391.3 151.2,391.4 150.5,391.5 149.9,391.6 149.2,391.8 148.5,392 147.7,392.2 146.9,392.4 146.1,392.6 145.3,392.8 144.4,392.9 143.6,393 142.8,393.1 142,393.2 141.2,393.3 140.5,393.4 139.8,393.6 139.1,393.8 138.5,394 137.8,394.2 137.1,394.5 136.4,394.8 135.7,395.2 135,395.6 134.2,396 133.4,396.3 132.6,396.7 131.7,397 130.9,397.4 130.1,397.7 129.3,398 128.6,398.3 127.9,398.6 127.2,398.9 126.6,399.2 125.9,399.6 125.3,400.1 124.7,400.6 124.1,401.1 123.5,401.6 122.8,402.2 122.2,402.8 121.5,403.4 120.8,404 120.1,404.6 119.4,405.1 118.7,405.7 118,406.2 117.4,406.7 116.8,407.2 116.3,407.8 115.8,408.3 115.3,408.9 114.9,409.5 114.5,410.2 114.1,410.9 113.7,411.6 113.2,412.4 112.8,413.2 112.4,414 111.9,414.8 111.4,415.5 111,416.3 110.5,417 110.1,417.7 109.7,418.4 109.4,419.1 109.1,419.7 108.8,420.4 108.6,421.1 108.5,421.8 108.3,422.6 108.2,423.4 108.1,424.2 108,425.1 107.9,426 107.7,426.9 107.6,427.7 107.4,428.6 107.3,429.4 107.1,430.3 107,431 106.9,431.8 106.9,432.5 106.9,433.2 106.9,433.9 107,434.6 107.1,435.4 107.3,436.1 107.5,436.9 107.7,437.7 107.9,438.5 108.1,439.4 108.3,440.2 108.5,441.1 108.7,441.9 108.8,442.7 109,443.5 109.1,444.2 109.3,445 109.6,445.6 109.8,446.3 110.1,446.9 110.5,447.5 110.9,448.1 111.3,448.8 111.7,449.4 112.2,450.1 112.7,450.8 113.2,451.5 113.6,452.3 114,453 114.5,453.7 114.9,454.4 115.2,455 115.6,455.7 116,456.2 116.4,456.8 116.9,457.3 117.3,457.8 117.9,458.2 118.4,458.7 119,459.2 119.6,459.6 120.3,460.1 120.9,460.7 121.5,461.2 122.1,461.8 122.7,462.3 123.3,462.9 123.8,463.4 124.4,463.9 124.9,464.4 125.4,464.8 125.9,465.2 126.4,465.6 127,465.9 127.5,466.2 128.2,466.5 128.8,466.8 129.5,467.1 130.2,467.5 130.9,467.8 131.6,468.2 132.2,468.6 132.9,469 133.5,469.4 134.1,469.8 134.7,470.2 135.3,470.6 135.8,470.9 136.3,471.2 136.9,471.4 137.4,471.7 138,471.8 138.6,472 139.2,472.2 139.9,472.4 140.6,472.6 141.3,472.8 142,473.1 142.7,473.4 143.4,473.7 144,474 144.7,474.3 145.2,474.6 145.8,474.9 146.3,475.1 146.9,475.4 147.4,475.5 147.9,475.7 148.5,475.8 149.1,475.9 149.7,476 150.4,476.1 151.1,476.3 151.8,476.4 152.5,476.6 153.2,476.8 153.9,477 154.5,477.2 155.2,477.5 155.8,477.7 156.4,478 157,478.2 157.5,478.4 158.1,478.5 158.6,478.6 159.2,478.7 159.8,478.8 160.4,478.8 161,478.9 161.7,478.9 162.5,479 163.2,479.1 163.9,479.2 164.7,479.3 165.4,479.5 166.1,479.7 166.8,479.9 167.4,480 168.1,480.2 168.7,480.3 169.3,480.4 169.9,480.5 170.5,480.5 171.1,480.5 171.8,480.5 172.5,480.5 173.2,480.5 173.9,480.4 174.7,480.4 175.5,480.4 176.4,480.5 177.2,480.5 177.9,480.6 178.7,480.7 179.5,480.8 180.2,480.9 180.9,480.9 181.5,480.9 182.2,480.9 182.9,480.8 183.6,480.8 184.3,480.6 185.1,480.5 185.9,480.3 186.7,480.1 187.5,480 188.4,479.9 189.3,479.7 190.2,479.6 191.1,479.5 192,479.5 192.8,479.4 193.6,479.3 194.4,479.2 195.2,479.1 195.9,478.9 196.7,478.7 197.5,478.4 198.2,478.1 199,477.8 199.9,477.4 200.8,477 201.7,476.6 202.6,476.2 203.5,475.9 204.5,475.5 205.4,475.2 206.3,474.8 207.2,474.5 208.1,474.2 208.9,473.8 209.7,473.4 210.5,473 211.2,472.5 212,471.9 212.8,471.3 213.5,470.7 214.3,470 215.1,469.3 216,468.6 216.8,467.9 217.7,467.2 218.5,466.5 219.4,465.8 220.2,465.1 221,464.4 221.8,463.8 222.5,463 223.2,462.3 223.8,461.6 224.4,460.7 225,459.9 225.5,459 226.1,458 226.7,457 227.2,456 227.8,454.9 228.4,453.9 229,452.8 229.6,451.8 230.1,450.7 230.7,449.7 231.2,448.7 231.6,447.7 232,446.7 232.4,445.7 232.7,444.6 232.9,443.6 233.1,442.4 233.2,441.3 233.4,440.1 233.5,438.9 233.6,437.6 233.7,436.4 233.9,435.1 234,433.8 234.1,432.6 234.2,431.3 234.3,430.1 234.3,429 234.3,427.8 234.2,426.7 234.1,425.6 233.9,424.4 233.6,423.3 233.3,422.1 232.9,421 232.6,419.8 232.1,418.5 231.7,417.3 231.3,416 230.9,414.8 230.5,413.6 230,412.4 229.6,411.2 229.2,410.1 228.7,409 228.2,407.9 227.6,406.9 227,406 226.3,405 225.6,404.1 224.8,403.1 223.9,402.2 223.1,401.2 222.2,400.3 221.3,399.3 220.4,398.3 219.5,397.3 218.6,396.4 217.8,395.5 216.9,394.6 216.1,393.8 215.2,393 214.3,392.3 213.4,391.6 212.4,391 211.4,390.4 210.4,389.9 209.3,389.3 208.1,388.8 207,388.3 205.8,387.8 204.6,387.2 203.5,386.7 202.3,386.2 201.2,385.6 200.1,385.2 199,384.7 197.9,384.4 196.9,384 195.8,383.8 194.8,383.6 193.7,383.4 192.6,383.3 191.4,383.2 190.3,383.2 189.1,383.2 187.8,383.1 186.6,383.1 185.4,383.1 184.2,383.1 183,383 181.8,383 180.7,383 179.7,383.1 178.6,383.2 177.6,383.3 176.6,383.5 175.6,383.8 174.7,384.1 173.7,384.5 172.7,384.9 171.7,385.3 170.6,385.8 169.6,386.2 168.5,386.7 167.5,387.1 166.5,387.6 165.5,388 164.5,388.4 163.6,388.8 162.8,389.3 162,389.8 161.3,390.3 160.5,390.8 159.8,391.4 159.2,392 158.5,392.7 157.8,393.4 157.1,394.1 156.4,394.9 155.7,395.6 155,396.3 154.3,397 153.6,397.6 152.9,398.3 152.3,398.9 151.7,399.5 151.1,400 150.6,400.6 150.2,401.2 149.8,401.9 149.4,402.5 149,403.2 148.6,403.9 148.2,404.6 147.8,405.4 147.4,406.1 147,406.9 146.5,407.6 146,408.3 145.6,409 145.1,409.6 144.7,410.2 144.3,410.8 143.9,411.3 143.5,411.9 143.2,412.4 142.9,413 142.7,413.6 142.4,414.2 142.2,414.8 142,415.5 141.7,416.2 141.4,416.9 141.1,417.6 140.7,418.3 140.3,419 139.9,419.6 139.5,420.3 139.1,420.9 138.8,421.5 138.4,422 138.1,422.6 137.8,423.1 137.6,423.7 137.3,424.3 137.1,424.9 136.9,425.6 136.7,426.3 136.5,427 136.3,427.8 136,428.5 135.7,429.3 135.4,430.1 135.1,430.9 134.7,431.6 134.4,432.3 134.1,433 133.8,433.7 133.5,434.4 133.3,435.1 133.1,435.8 132.9,436.5 132.8,437.2 132.7,438 132.6,438.8 132.6,439.7 132.5,440.6 132.4,441.5 132.2,442.4 132.1,443.4 131.9,444.3 131.8,445.2 131.6,446.1 131.5,447 131.4,447.8 131.3,448.6 131.3,449.5 131.4,450.3 131.4,451.1 131.6,452 131.7,452.8 131.9,453.7 132.1,454.7 132.3,455.7 132.6,456.7 132.8,457.7 133,458.7 133.2,459.7 133.3,460.7 133.5,461.6 133.7,462.5 134,463.4 134.3,464.3 134.6,465.1 134.9,465.9 135.4,466.7 135.9,467.5 136.4,468.3 136.9,469.1 137.5,470 138.1,470.9 138.7,471.8 139.4,472.6 139.9,473.5 140.5,474.4 141.1,475.2 141.7,476 142.3,476.8 142.9,477.5 143.5,478.1 144.2,478.8 144.9,479.3 145.6,479.9 146.4,480.4 147.3,481 148.1,481.5 149,482 150,482.6 150.9,483.1 151.8,483.7 152.7,484.2 153.6,484.7 154.4,485.2 155.3,485.7 156.1,486.1 156.9,486.4 157.8,486.7 158.6,486.9 159.5,487.1 160.4,487.3 161.4,487.4 162.3,487.5 163.3,487.6 164.4,487.7 165.4,487.8 166.4,487.9 167.5,488 168.4,488.1 169.4,488.2 170.3,488.2 171.2,488.3 172.1,488.2 172.9,488.2 173.7,488 174.6,487.8 175.4,487.6 176.3,487.3 177.1,487 178,486.7 178.9,486.3 179.9,486 180.8,485.7 181.7,485.3 182.6,485 183.5,484.7 184.3,484.4 185.1,484.1 185.8,483.7 186.5,483.3 187.2,482.9 187.8,482.4 188.4,481.9 189,481.4 189.6,480.8 190.2,480.1 190.9,479.5 191.5,478.8 192.2,478.2 192.8,477.6 193.5,476.9 194.1,476.3 194.7,475.8 195.3,475.2 195.8,474.6 196.3,474.1 196.7,473.5 197,472.9 197.4,472.3 197.7,471.6 198,470.9 198.3,470.2 198.6,469.4 198.9,468.6 199.2,467.8 199.5,467.1 199.9,466.3 200.2,465.6 200.6,464.9 200.9,464.2 201.2,463.6 201.4,463 201.6,462.4 201.8,461.8 201.9,461.2 202,460.6 202,459.9 202.1,459.3 202.1,458.6 202.1,457.8 202.2,457.1 202.2,456.4 202.3,455.6 202.4,454.9 202.5,454.3 202.7,453.6 202.8,453 202.9,452.4 203,451.9 203,451.4 203,450.9 203,450.4 202.9,449.9 202.9,449.4 202.8,448.9 202.7,448.3 202.6,447.7 202.5,447.1 202.4,446.5 202.4,445.9 202.4,445.3 202.4,444.7 202.5,444.2 202.6,443.7 202.6,443.2 202.7,442.8 202.7,442.4 202.7,442 202.7,441.6 202.6,441.3 202.5,440.9 202.4,440.5 202.3,440 202.3,439.6 202.2,439.1 202.1,438.6 202.1,438.1 202.2,437.6 202.2,437.1 202.3,436.6 202.4,436.2 202.5,435.8 202.7,435.4 202.8,435 202.9,434.7 202.9,434.4 203,434.1 203,433.7 203,433.4 203,433 203,432.6 203,432.1 203.1,431.7 203.1,431.2 203.2,430.7 203.4,430.2 203.5,429.7 203.7,429.2 203.9,428.7 204.2,428.3 204.4,427.9 204.6,427.5 204.7,427.2 204.9,426.8 205,426.4 205.1,426 205.2,425.6 205.3,425.1 205.3,424.6 205.4,424 205.5,423.5 205.7,422.9 205.9,422.3 206.1,421.7 206.3,421.1 206.5,420.5 206.8,419.9 207,419.4 207.3,418.9 207.5,418.4 207.7,417.9 207.8,417.3 207.9,416.8 208,416.3 208.1,415.7 208.1,415.1 208.2,414.4 208.2,413.7 208.3,413 208.4,412.2 208.5,411.5 208.7,410.7 208.8,410 209,409.3 209.1,408.6 209.3,407.9 209.4,407.3 209.5,406.6 209.5,406 209.5,405.4 209.5,404.7 209.4,404 209.3,403.3 209.2,402.5 209.1,401.8 209,400.9 208.9,400.1 208.8,399.3 208.7,398.4 208.6,397.6 208.6,396.8 208.5,396 208.4,395.2 208.3,394.5 208.2,393.8 208,393.1 207.8,392.5 207.5,391.8 207.2,391.1 206.9,390.4 206.5,389.6 206.1,388.9 205.7,388.1 205.3,387.2 204.9,386.4 204.5,385.6 204.2,384.8 203.8,384 203.5,383.3 203.1,382.6 202.7,381.9 202.3,381.3 201.8,380.7 201.3,380.1 200.8,379.5 200.2,379 199.5,378.4 198.9,377.8 198.2,377.2 197.5,376.6 196.8,376 196.1,375.3 195.4,374.7 194.7,374.1 194.1,373.5 193.4,372.9 192.8,372.4 192.1,372 191.5,371.6 190.8,371.2 190,370.9 189.2,370.5 188.4,370.3 187.5,370 186.6,369.7 185.7,369.4 184.8,369.1 183.8,368.8 182.9,368.4 182,368.1 181.1,367.8 180.3,367.5 179.4,367.3 178.6,367.1 177.8,367 176.9,366.9 176.1,366.9 175.2,366.9 174.3,366.9 173.4,367 172.4,367.1 171.4,367.2 170.4,367.3 169.4,367.4 168.3,367.5 167.3,367.5 166.4,367.6 165.4,367.7 164.5,367.8 163.6,367.9 162.7,368.1 161.9,368.4 161,368.6 160.2,369 159.4,369.4 158.5,369.8 157.7,370.3 156.8,370.8 155.8,371.3 154.9,371.7 154,372.2 153,372.7 152.1,373.2 151.2,373.7 150.3,374.1 149.5,374.6 148.8,375.1 148,375.6 147.3,376.2 146.7,376.8 146,377.4 145.4,378.1 144.7,378.9 144.1,379.7 143.4,380.4 142.7,381.3 142,382.1 141.3,382.9 140.6,383.6 139.9,384.4 139.2,385.1 138.6,385.9 138,386.6 137.5,387.3 137,388 136.5,388.8 136.1,389.6 135.8,390.4 135.4,391.3 135,392.2 134.7,393.1 134.3,394.1 133.9,395 133.5,396 133.1,396.9 132.6,397.8 132.2,398.7 131.8,399.5 131.5,400.4 131.1,401.2 130.9,402 130.6,402.7 130.4,403.5 130.3,404.4 130.1,405.2 130,406.1 129.9,407 129.8,407.9 129.7,408.8 129.5,409.8 129.4,410.7 129.2,411.7 129,412.6 128.8,413.4 128.6,414.3 128.4,415.1 128.3,415.9 128.2,416.6 128.1,417.4 128,418.1 128,418.9 128.1,419.6 128.1,420.4 128.1,421.2 128.2,422.1 128.2,423 128.2,423.9 128.2,424.8 128.2,425.6 128.1,426.5 128,427.4 127.9,428.2 127.8,429 127.8,429.7 127.7,430.4 127.7,431.2 127.7,431.9 127.8,432.6 127.9,433.3 128,434.1 128.1,434.9 128.2,435.7 128.3,436.6 128.4,437.4 128.5,438.3 128.6,439.2 128.6,440.1 128.6,441 128.6,441.9 128.6,442.7 128.6,443.5 128.6,444.3 128.7,445.1 128.8,445.9 128.9,446.6 129.1,447.4 129.3,448.2 129.5,449.1 129.7,450 130,450.9 130.2,451.8 130.5,452.8 130.7,453.8 130.9,454.8 131.1,455.8 131.3,456.7 131.4,457.7 131.6,458.6 131.9,459.5 132.1,460.3 132.4,461.2 132.7,462 133.1,462.9 133.6,463.8 134.1,464.7 134.6,465.6 135.1,466.5 135.7,467.5 136.2,468.5 136.8,469.5 137.3,470.5 137.9,471.6 138.4,472.5 138.9,473.5 139.5,474.4 140.1,475.3 140.7,476.1 141.4,477 142.1,477.7 142.8,478.5 143.7,479.3 144.5,480 145.5,480.8 146.4,481.6 147.4,482.4 148.4,483.2 149.3,484.1 150.3,484.9 151.3,485.7 152.3,486.5 153.2,487.2 154.2,487.9 155.2,488.5 156.2,489.1 157.2,489.6 158.3,490 159.5,490.5 160.6,490.9 161.9,491.3 163.1,491.7 164.5,492 165.8,492.4 167.1,492.8 168.4,493.2 169.7,493.5 171,493.9 172.3,494.2 173.6,494.5 174.8,494.7 176.1,494.8 177.3,494.9 178.6,494.9 179.8,494.9 181.2,494.8 182.5,494.6 183.9,494.5 185.3,494.3 186.7,494.1 188.2,493.9 189.6,493.6 191,493.4 192.4,493.2 193.8,492.9 195.1,492.7 196.4,492.3 197.6,492 198.9,491.5 200.1,491 201.2,490.5 202.4,489.8 203.6,489.2 204.8,488.4 206.1,487.7 207.3,486.9 208.5,486 209.8,485.2 211,484.4 212.2,483.6 213.4,482.8 214.5,482 215.5,481.1 216.5,480.2 217.5,479.3 218.4,478.4 219.2,477.4 220,476.3 220.8,475.2 221.6,474 222.3,472.8 223.1,471.6 223.9,470.3 224.6,469.1 225.4,467.8 226.1,466.6 226.8,465.4 227.4,464.2 228,463 228.6,461.8 229.1,460.6 229.5,459.4 229.8,458.1 230.1,456.9 230.3,455.6 230.5,454.3 230.7,452.9 230.8,451.5 231,450.1 231.1,448.7 231.3,447.3 231.4,446 231.5,444.6 231.6,443.3 231.6,442 231.7,440.7 231.6,439.5 231.5,438.3 231.3,437.2 231.1,436 230.8,434.8 230.5,433.6 230.1,432.4 229.7,431.2 229.3,429.9 228.9,428.7 228.5,427.4 228.1,426.2 227.7,425 227.3,423.8 226.9,422.7 226.5,421.6 226,420.6 225.5,419.6 225,418.6 224.4,417.7" fill="none" stroke="#0a200a" stroke-width="0.8" stroke-linejoin="round" stroke-opacity="0.9"/><polyline points="225.8,453.1 225.7,453.9 225.7,454.7 225.6,455.6 225.4,456.4 225.3,457.1 225.1,457.9 224.9,458.6 224.7,459.3 224.6,460 224.4,460.7 224.2,461.4 224.1,462.1 224,462.8 223.8,463.4 223.7,464.2 223.6,464.9 223.4,465.6 223.3,466.4 223.1,467.1 222.9,467.9 222.6,468.7 222.4,469.4 222.1,470.2 221.7,471 221.4,471.7 221,472.4 220.6,473.1 220.2,473.7 219.8,474.3 219.4,474.9 219,475.5 218.6,476.1 218.3,476.6 217.9,477.2 217.6,477.7 217.2,478.3 216.9,478.8 216.6,479.4 216.2,480 215.8,480.6 215.5,481.2 215,481.8 214.6,482.5 214.1,483 213.6,483.6 213.1,484.2 212.6,484.7 212,485.2 211.4,485.7 210.9,486.1 210.3,486.5 209.8,486.9 209.2,487.3 208.7,487.6 208.2,488 207.7,488.3 207.3,488.7 206.8,489 206.3,489.4 205.9,489.8 205.4,490.2 204.9,490.5 204.4,490.9 203.9,491.3 203.3,491.7 202.7,492.1 202.1,492.4 201.5,492.7 200.9,493 200.2,493.3 199.6,493.5 199,493.7 198.4,493.9 197.8,494 197.2,494.1 196.6,494.3 196.1,494.4 195.6,494.5 195.1,494.6 194.6,494.8 194.1,494.9 193.6,495.1 193.1,495.2 192.6,495.4 192,495.6 191.5,495.7 190.9,495.9 190.3,496 189.7,496.1 189.1,496.2 188.5,496.3 187.8,496.3 187.2,496.3 186.6,496.3 186,496.2 185.5,496.2 185,496.1 184.5,496 184,495.9 183.5,495.8 183,495.8 182.6,495.7 182.2,495.7 181.7,495.7 181.2,495.7 180.8,495.7 180.3,495.7 179.8,495.6 179.3,495.6 178.7,495.6 178.2,495.5 177.6,495.4 177.1,495.3 176.5,495.1 176,495 175.5,494.8 175,494.6 174.5,494.4 174.1,494.1 173.7,493.9 173.3,493.7 172.9,493.5 172.5,493.3 172.2,493.1 171.8,493 171.5,492.8 171.1,492.7 170.7,492.6 170.3,492.5 169.9,492.3 169.4,492.2 169,492 168.5,491.9 168,491.6 167.6,491.4 167.1,491.2 166.7,490.9 166.3,490.6 165.9,490.3 165.6,490 165.2,489.7 164.9,489.4 164.7,489.1 164.4,488.8 164.1,488.6 163.8,488.4 163.6,488.2 163.3,488 163,487.8 162.7,487.6 162.4,487.4 162,487.2 161.6,487 161.3,486.8 160.9,486.6 160.5,486.3 160.2,486 159.8,485.7 159.5,485.4 159.2,485.1 158.9,484.8 158.6,484.4 158.4,484.1 158.2,483.8 158,483.5 157.8,483.2 157.6,483 157.4,482.8 157.2,482.5 157,482.3 156.7,482.2 156.5,482 156.2,481.8 155.9,481.6 155.6,481.4 155.3,481.1 155,480.9 154.7,480.6 154.4,480.3 154.1,480 153.8,479.7 153.6,479.4 153.4,479.1 153.2,478.7 153,478.4 152.8,478.2 152.7,477.9 152.5,477.7 152.4,477.4 152.2,477.2 152.1,477.1 151.9,476.9 151.7,476.7 151.4,476.6 151.2,476.4 150.9,476.2 150.6,476 150.4,475.8 150.1,475.6 149.8,475.3 149.5,475 149.3,474.7 149,474.5 148.8,474.2 148.6,473.9 148.5,473.6 148.3,473.3 148.2,473.1 148,472.9 147.9,472.7 147.8,472.5 147.6,472.3 147.4,472.2 147.2,472 147,471.9 146.8,471.8 146.5,471.6 146.2,471.5 145.9,471.3 145.6,471.1 145.4,470.9 145.1,470.6 144.8,470.4 144.6,470.1 144.3,469.9 144.1,469.6 143.9,469.3 143.7,469.1 143.6,468.9 143.4,468.7 143.3,468.5 143.1,468.3 142.9,468.2 142.7,468 142.5,467.9 142.3,467.8 142,467.7 141.7,467.5 141.4,467.4 141.1,467.2 140.8,467.1 140.5,466.9 140.1,466.6 139.8,466.4 139.5,466.2 139.3,465.9 139,465.6 138.8,465.4 138.6,465.1 138.3,464.9 138.1,464.6 137.9,464.4 137.7,464.3 137.5,464.1 137.3,463.9 137.1,463.8 136.8,463.7 136.5,463.5 136.2,463.4 135.9,463.2 135.5,463.1 135.1,462.9 134.8,462.6 134.4,462.4 134.1,462.1 133.7,461.9 133.4,461.6 133.1,461.2 132.8,460.9 132.5,460.6 132.3,460.3 132.1,460.1 131.8,459.8 131.6,459.6 131.3,459.3 131.1,459.1 130.8,458.9 130.5,458.7 130.2,458.5 129.9,458.3 129.5,458.1 129.2,457.9 128.8,457.6 128.4,457.3 128,457 127.6,456.6 127.3,456.3 126.9,455.9 126.6,455.5 126.3,455.1 126,454.7 125.7,454.3 125.5,453.9 125.2,453.6 125,453.2 124.8,452.9 124.5,452.6 124.2,452.2 124,451.9 123.7,451.6 123.4,451.3 123,451 122.7,450.6 122.3,450.3 122,449.9 121.6,449.4 121.3,449 120.9,448.5 120.6,448 120.3,447.5 120,447 119.8,446.4 119.6,445.9 119.3,445.4 119.2,444.9 119,444.4 118.8,443.9 118.6,443.4 118.5,443 118.3,442.5 118.1,442.1 117.8,441.7 117.6,441.2 117.4,440.7 117.1,440.2 116.8,439.7 116.6,439.1 116.3,438.6 116.1,438 115.9,437.3 115.7,436.7 115.5,436 115.4,435.4 115.3,434.7 115.2,434.1 115.2,433.4 115.2,432.8 115.1,432.2 115.1,431.6 115.1,431 115.1,430.4 115,429.9 115,429.3 115,428.7 114.9,428.2 114.8,427.6 114.7,426.9 114.7,426.3 114.6,425.6 114.6,425 114.6,424.2 114.6,423.5 114.6,422.8 114.7,422 114.8,421.3 114.9,420.6 115.1,419.8 115.3,419.1 115.5,418.5 115.7,417.8 115.9,417.2 116.1,416.5 116.3,415.9 116.5,415.3 116.7,414.7 116.9,414.1 117.1,413.5 117.3,412.9 117.5,412.2 117.6,411.6 117.9,410.9 118.1,410.2 118.3,409.5 118.6,408.7 118.9,408 119.3,407.3 119.7,406.6 120.1,405.9 120.5,405.2 121,404.6 121.5,404 121.9,403.4 122.4,402.8 122.9,402.2 123.4,401.7 123.8,401.2 124.3,400.7 124.7,400.2 125.2,399.6 125.6,399.1 126,398.6 126.5,398 127,397.4 127.5,396.8 128,396.2 128.5,395.7 129.1,395.1 129.7,394.5 130.3,394 131,393.5 131.7,393 132.4,392.5 133.1,392.1 133.8,391.7 134.5,391.3 135.2,391 135.8,390.6 136.5,390.3 137.1,390 137.8,389.7 138.4,389.4 139,389 139.6,388.7 140.3,388.3 140.9,388 141.6,387.6 142.3,387.3 143,386.9 143.7,386.6 144.5,386.3 145.3,386 146.1,385.7 146.9,385.5 147.7,385.3 148.5,385.2 149.3,385 150.1,384.9 150.9,384.9 151.7,384.8 152.4,384.8 153.1,384.7 153.8,384.7 154.5,384.6 155.2,384.5 155.9,384.5 156.6,384.4 157.3,384.3 158,384.2 158.7,384.1 159.5,384.1 160.3,384 161.1,384 161.9,384 162.7,384 163.5,384.1 164.3,384.2 165.1,384.4 165.9,384.5 166.7,384.7 167.4,384.9 168.1,385.1 168.8,385.4 169.4,385.6 170.1,385.8 170.7,386 171.3,386.2 171.9,386.4 172.6,386.6 173.2,386.8 173.8,386.9 174.5,387.1 175.2,387.3 175.9,387.6 176.6,387.8 177.3,388.1 178,388.4 178.6,388.7 179.3,389.1 180,389.5 180.6,389.9 181.2,390.4 181.8,390.8 182.3,391.3 182.8,391.7 183.3,392.2 183.7,392.6 184.2,393 184.6,393.4 185.1,393.8 185.5,394.2 186,394.6 186.4,395 186.9,395.4 187.4,395.8 187.9,396.2 188.4,396.6 188.9,397.1 189.3,397.5 189.8,398.1 190.3,398.6 190.7,399.1 191.1,399.7 191.4,400.3 191.8,400.8 192.1,401.4 192.4,401.9 192.6,402.5 192.8,403 193.1,403.5 193.3,404 193.5,404.4 193.8,404.8 194,405.3 194.3,405.7 194.6,406.1 194.8,406.6 195.1,407 195.4,407.5 195.7,408 196,408.5 196.3,409 196.5,409.6 196.8,410.1 197,410.7 197.2,411.2 197.3,411.7 197.4,412.3 197.5,412.8 197.6,413.3 197.7,413.7 197.8,414.2 197.9,414.6 198,415 198.1,415.4 198.3,415.7 198.4,416.1 198.6,416.5 198.8,416.9 199,417.3 199.2,417.7 199.4,418.1 199.6,418.6 199.8,419.1 200,419.6 200.1,420 200.2,420.5 200.4,421 200.4,421.5 200.5,422 200.6,422.4 200.6,422.8 200.7,423.2 200.7,423.6 200.8,423.9 200.9,424.3 201,424.6 201.1,424.9 201.3,425.3 201.5,425.6 201.6,426 201.8,426.4 202,426.8 202.2,427.2 202.4,427.6 202.6,428.1 202.8,428.5 202.9,429 203,429.5 203.1,430 203.2,430.4 203.3,430.9 203.3,431.3 203.4,431.7 203.4,432.1 203.5,432.5 203.6,432.8 203.7,433.2 203.8,433.5 204,433.8 204.1,434.2 204.3,434.6 204.5,435 204.7,435.4 204.9,435.8 205.1,436.3 205.3,436.8 205.4,437.3 205.6,437.8 205.7,438.3 205.8,438.8 205.9,439.3 205.9,439.8 205.9,440.3 206,440.8 206,441.2 206,441.6 206.1,442 206.2,442.4 206.2,442.8 206.3,443.2 206.5,443.6 206.6,444.1 206.7,444.5 206.9,445 207,445.4 207.2,445.9 207.3,446.5 207.4,447 207.5,447.6 207.5,448.1 207.6,448.7 207.6,449.3 207.5,449.8 207.5,450.3 207.5,450.8 207.4,451.3 207.4,451.8 207.3,452.3 207.3,452.7 207.3,453.1 207.3,453.6 207.3,454 207.3,454.4 207.3,454.9 207.4,455.4 207.4,455.8 207.4,456.4 207.5,456.9 207.5,457.4 207.4,458 207.4,458.6 207.3,459.1 207.2,459.7 207.1,460.3 207,460.8 206.8,461.3 206.6,461.8 206.5,462.3 206.3,462.7 206.1,463.1 206,463.5 205.8,463.9 205.7,464.3 205.6,464.7 205.5,465.1 205.4,465.6 205.3,466 205.2,466.5 205.1,467 205,467.4 204.9,467.9 204.7,468.5 204.5,469 204.3,469.5 204.1,470 203.8,470.4 203.6,470.9 203.3,471.3 203,471.7 202.7,472.1 202.4,472.4 202.1,472.7 201.9,473.1 201.6,473.4 201.4,473.7 201.2,474 201,474.3 200.8,474.6 200.6,475 200.4,475.4 200.2,475.7 199.9,476.1 199.7,476.5 199.4,476.9 199.1,477.3 198.8,477.7 198.4,478 198.1,478.4 197.7,478.7 197.3,478.9 196.9,479.2 196.6,479.4 196.2,479.6 195.8,479.8 195.5,480 195.2,480.2 194.9,480.3 194.6,480.5 194.4,480.7 194.1,480.9 193.9,481.1 193.6,481.4 193.3,481.6 193,481.9 192.7,482.1 192.3,482.4 192,482.6 191.6,482.8 191.2,483 190.8,483.2 190.3,483.3 189.9,483.5 189.5,483.6 189.1,483.6 188.7,483.7 188.3,483.7 188,483.8 187.7,483.8 187.4,483.8 187.1,483.9 186.8,483.9 186.5,484 186.2,484.1 185.9,484.2 185.6,484.3 185.3,484.4 184.9,484.5 184.6,484.6 184.2,484.7 183.8,484.8 183.4,484.8 183,484.9 182.5,484.9 182.1,484.8 181.7,484.8 181.3,484.7 180.9,484.6 180.6,484.5 180.3,484.4 180,484.3 179.7,484.3 179.4,484.2 179.1,484.1 178.9,484.1 178.6,484.1 178.3,484.1 178,484.1 177.7,484.1 177.4,484.1 177,484.1 176.6,484 176.3,484 175.9,483.9 175.5,483.8 175.1,483.7 174.7,483.6 174.3,483.4 174,483.3 173.6,483.1 173.3,482.9 173.1,482.7 172.8,482.5 172.5,482.4 172.3,482.2 172.1,482.1 171.8,482 171.6,481.9 171.3,481.8 171.1,481.7 170.8,481.7 170.5,481.6 170.1,481.5 169.8,481.4 169.4,481.3 169.1,481.2 168.7,481 168.4,480.8 168,480.6 167.7,480.4 167.4,480.1 167.1,479.9 166.9,479.7 166.6,479.4 166.4,479.2 166.2,479 166,478.8 165.8,478.7 165.6,478.5 165.4,478.4 165.2,478.3 164.9,478.2 164.7,478.1 164.4,478 164.1,477.9 163.8,477.7 163.4,477.6 163.1,477.4 162.8,477.2 162.5,477 162.2,476.7 161.9,476.5 161.6,476.2 161.4,476 161.2,475.7 161,475.5 160.8,475.3 160.6,475.1 160.4,474.9 160.3,474.7 160.1,474.6 159.9,474.5 159.7,474.4 159.4,474.2 159.2,474.1 158.9,474 158.6,473.9 158.3,473.7 158,473.6 157.6,473.4 157.3,473.1 157,472.9 156.8,472.7 156.5,472.4 156.3,472.2 156.1,471.9 155.9,471.7 155.7,471.5 155.5,471.3 155.3,471.1 155.2,470.9 155,470.8 154.8,470.7 154.6,470.5 154.3,470.4 154.1,470.3 153.8,470.2 153.5,470.1 153.2,470 152.9,469.8 152.6,469.7 152.3,469.5 151.9,469.2 151.6,469 151.4,468.8 151.1,468.5 150.9,468.3 150.6,468 150.4,467.8 150.2,467.6 150.1,467.4 149.9,467.3 149.7,467.1 149.5,467 149.2,466.9 149,466.8 148.7,466.7 148.4,466.6 148.1,466.5 147.8,466.4 147.4,466.2 147.1,466 146.7,465.9 146.4,465.6 146,465.4 145.7,465.2 145.4,464.9 145.1,464.7 144.8,464.4 144.6,464.2 144.4,464 144.1,463.8 143.9,463.6 143.6,463.4 143.4,463.3 143.1,463.1 142.8,463 142.5,462.9 142.2,462.8 141.8,462.6 141.5,462.5 141.1,462.3 140.7,462.1 140.3,461.9 139.9,461.7 139.5,461.4 139.1,461.1 138.7,460.8 138.4,460.5 138.1,460.3 137.7,460 137.4,459.7 137.2,459.4 136.9,459.2 136.6,458.9 136.3,458.7 136,458.5 135.6,458.3 135.3,458.1 134.9,457.9 134.5,457.7 134.1,457.5 133.7,457.3 133.2,457 132.8,456.7 132.3,456.4 131.9,456.1 131.4,455.7 131,455.3 130.6,454.9 130.3,454.5 129.9,454.1 129.6,453.7 129.2,453.3 128.9,453 128.6,452.6 128.3,452.3 127.9,451.9 127.6,451.6 127.2,451.3 126.8,451 126.4,450.6 126,450.3 125.6,449.9 125.1,449.5 124.7,449.1 124.2,448.6 123.8,448.2 123.3,447.6 122.9,447.1 122.5,446.6 122.1,446 121.8,445.4 121.5,444.9 121.2,444.3 120.9,443.8 120.6,443.2 120.3,442.7 120,442.2 119.7,441.7 119.4,441.2 119.1,440.7 118.8,440.2 118.4,439.6 118.1,439.1 117.7,438.5 117.3,437.9 117,437.3 116.6,436.6 116.3,435.9 115.9,435.2 115.6,434.5 115.4,433.8 115.1,433 114.9,432.2 114.8,431.5 114.6,430.8 114.5,430 114.3,429.3 114.2,428.6 114.1,427.9 114,427.2 113.8,426.5 113.7,425.9 113.5,425.2 113.4,424.4 113.2,423.7 113,423 112.9,422.2 112.7,421.4 112.6,420.5 112.5,419.7 112.4,418.8 112.4,417.9 112.4,417 112.4,416.1 112.5,415.2 112.6,414.3 112.7,413.4 112.9,412.6 113,411.8 113.2,411 113.3,410.2 113.5,409.4 113.7,408.6 113.8,407.8 114,407 114.1,406.2 114.3,405.4 114.4,404.6 114.6,403.7 114.8,402.8 115,401.9 115.3,401 115.6,400.1 115.9,399.2 116.3,398.3 116.7,397.4 117.1,396.5 117.6,395.6 118,394.8 118.6,394 119.1,393.2 119.6,392.4 120.1,391.7 120.6,391 121.2,390.3 121.7,389.6 122.2,388.9 122.7,388.1 123.2,387.4 123.7,386.7 124.3,385.9 124.8,385.2 125.4,384.4 126.1,383.6 126.7,382.9 127.4,382.1 128.1,381.4 128.9,380.7 129.7,380 130.5,379.4 131.4,378.8 132.2,378.2 133,377.6 133.9,377.1 134.7,376.7 135.5,376.2 136.4,375.7 137.2,375.3 138,374.9 138.8,374.4 139.6,374 140.4,373.5 141.2,373.1 142,372.6 142.9,372.2 143.8,371.7 144.7,371.3 145.7,370.9 146.6,370.5 147.6,370.2 148.6,369.8 149.7,369.6 150.7,369.3 151.7,369.1 152.7,369 153.7,368.9 154.7,368.8 155.7,368.7 156.6,368.6 157.6,368.5 158.5,368.5 159.4,368.4 160.3,368.4 161.2,368.3 162.1,368.3 163.1,368.2 164,368.1 165,368.1 165.9,368.1 166.9,368.1 168,368.1 169,368.2 170,368.3 171,368.4 172.1,368.6 173.1,368.8 174,369.1 175,369.4 175.9,369.7 176.8,370 177.7,370.3 178.5,370.6 179.4,371 180.2,371.3 181,371.6 181.8,371.9 182.6,372.2 183.4,372.5 184.2,372.8 185.1,373.2 185.9,373.5 186.8,373.9 187.6,374.3 188.5,374.7 189.3,375.2 190.2,375.7 191,376.2 191.8,376.7 192.5,377.3 193.3,377.9 194,378.5 194.6,379.1 195.2,379.7 195.9,380.3 196.4,380.9 197,381.5 197.6,382.1 198.1,382.6 198.7,383.2 199.2,383.7 199.8,384.3 200.4,384.8 201,385.4 201.5,386 202.1,386.6 202.7,387.2 203.3,387.8 203.8,388.5 204.4,389.2 204.9,389.9 205.3,390.7 205.8,391.4 206.1,392.2 206.5,392.9 206.9,393.6 207.2,394.3 207.5,395 207.8,395.6 208,396.3 208.3,396.9 208.6,397.5 208.9,398.1 209.2,398.7 209.5,399.3 209.9,399.9 210.2,400.5 210.5,401.2 210.9,401.8 211.2,402.5 211.5,403.2 211.7,403.9 212,404.6 212.2,405.4 212.4,406.1 212.6,406.8 212.7,407.5 212.8,408.2 212.9,408.8 213,409.4 213.1,410 213.2,410.6 213.3,411.2 213.4,411.7 213.5,412.3 213.7,412.8 213.9,413.4 214,413.9 214.2,414.5 214.4,415.1 214.6,415.7 214.7,416.3 214.9,416.9 215,417.6 215.1,418.2 215.2,418.9 215.3,419.5 215.3,420.1 215.3,420.7 215.3,421.3 215.3,421.9 215.3,422.4 215.3,422.9 215.4,423.4 215.4,423.9 215.4,424.4 215.5,424.8 215.6,425.3 215.7,425.8 215.8,426.3 215.9,426.8 216.1,427.3 216.2,427.9 216.3,428.4 216.4,429 216.5,429.6 216.5,430.2 216.6,430.8 216.6,431.3 216.6,431.9 216.5,432.4 216.5,433 216.5,433.5 216.5,433.9 216.4,434.4 216.4,434.8 216.5,435.3 216.5,435.7 216.6,436.1 216.6,436.6 216.7,437 216.8,437.5 216.9,438 217.1,438.5 217.2,439 217.2,439.6 217.3,440.2 217.3,440.7 217.4,441.3 217.4,441.9 217.4,442.4 217.3,443 217.3,443.5 217.2,444 217.2,444.5 217.1,444.9 217.1,445.4 217.1,445.8 217.1,446.2 217.1,446.6 217.2,447.1 217.2,447.5 217.3,448 217.4,448.5 217.5,449 217.5,449.5 217.6,450 217.6,450.6 217.6,451.2 217.6,451.7 217.6,452.3 217.6,452.9 217.5,453.4 217.4,453.9 217.3,454.5 217.2,454.9 217.1,455.4 217,455.9 217,456.3 216.9,456.7 216.9,457.1 216.9,457.6 216.9,458 216.9,458.5 216.9,458.9 216.9,459.4 216.9,459.9 216.9,460.5 216.9,461 216.9,461.6 216.8,462.1 216.7,462.7 216.6,463.2 216.5,463.8 216.3,464.3 216.1,464.8 216,465.3 215.8,465.7 215.6,466.2 215.5,466.6 215.3,467 215.2,467.4 215.1,467.8 215,468.2 214.9,468.6 214.9,469 214.8,469.4 214.7,469.9 214.6,470.4 214.6,470.9 214.4,471.4 214.3,471.9 214.1,472.4 213.9,472.9 213.7,473.4 213.5,473.9 213.2,474.3 213,474.8 212.7,475.2 212.5,475.5 212.2,475.9 212,476.2 211.7,476.6 211.5,476.9 211.4,477.2 211.2,477.6 211,477.9 210.9,478.3 210.7,478.6 210.5,479 210.3,479.4 210.1,479.8 209.9,480.3 209.7,480.7 209.4,481.1 209.1,481.5 208.8,481.9 208.5,482.3 208.1,482.6 207.8,482.9 207.4,483.2 207.1,483.5 206.8,483.7 206.5,483.9 206.2,484.1 205.9,484.4 205.6,484.6 205.4,484.8 205.1,485 204.9,485.3 204.7,485.6 204.4,485.9 204.1,486.1 203.9,486.4 203.5,486.7 203.2,487 202.9,487.3 202.5,487.6 202.1,487.9 201.7,488.1 201.3,488.3 200.8,488.5 200.4,488.6 200,488.7 199.7,488.8 199.3,488.9 199,489 198.6,489.1 198.3,489.2 198,489.3 197.7,489.4 197.4,489.5 197.1,489.7 196.8,489.8 196.5,490 196.1,490.2 195.8,490.3 195.4,490.5 195,490.6 194.5,490.8 194.1,490.9 193.6,490.9 193.2,491 192.7,491 192.3,491 191.9,491 191.5,490.9 191.1,490.9 190.7,490.8 190.4,490.8 190,490.8 189.7,490.7 189.4,490.7 189.1,490.7 188.7,490.8 188.4,490.8 188,490.8 187.7,490.9 187.3,490.9 186.8,490.9 186.4,490.9 185.9,490.9 185.5,490.9 185,490.8 184.5,490.7 184.1,490.6 183.7,490.5 183.2,490.3 182.8,490.2 182.5,490 182.1,489.8 181.8,489.7 181.4,489.5 181.1,489.4 180.8,489.3 180.5,489.2 180.1,489.1 179.8,489.1 179.4,489 179,488.9 178.6,488.8 178.2,488.8 177.8,488.6 177.3,488.5 176.9,488.4 176.4,488.2 176,488 175.5,487.8 175.1,487.5 174.7,487.3 174.4,487 174,486.8 173.7,486.5 173.4,486.3 173.1,486.1 172.8,485.8 172.5,485.7 172.2,485.5 171.9,485.3 171.5,485.2 171.2,485 170.8,484.9 170.4,484.7 170,484.6 169.6,484.4 169.2,484.2 168.7,483.9 168.3,483.7 167.9,483.4 167.5,483.1 167.2,482.8 166.8,482.5 166.5,482.1 166.2,481.8 165.9,481.5 165.6,481.2 165.4,481 165.1,480.7 164.8,480.5 164.6,480.3 164.3,480.1 164,479.9 163.6,479.7 163.3,479.5 162.9,479.3 162.5,479.1 162.2,478.8 161.8,478.5 161.4,478.3 161,477.9 160.7,477.6 160.3,477.3 160,476.9 159.7,476.6 159.4,476.2 159.2,475.9 158.9,475.5 158.7,475.2 158.5,474.9 158.2,474.7 158,474.4 157.8,474.2 157.5,474 157.2,473.7 156.9,473.5 156.6,473.3 156.3,473 155.9,472.8 155.6,472.5 155.2,472.2 154.9,471.8 154.6,471.5 154.2,471.1 153.9,470.8 153.7,470.4 153.4,470 153.2,469.6 153,469.3 152.8,469 152.6,468.6 152.4,468.3 152.2,468.1 152,467.8 151.8,467.6 151.6,467.3 151.3,467.1 151,466.8 150.7,466.6 150.4,466.3 150.1,466 149.8,465.7 149.4,465.4 149.1,465 148.8,464.7 148.6,464.3 148.3,463.9 148.1,463.5 147.9,463.1 147.7,462.7 147.5,462.4 147.3,462.1 147.2,461.7 147,461.4 146.8,461.2 146.6,460.9 146.4,460.7 146.2,460.4 145.9,460.2 145.7,459.9 145.4,459.6 145.1,459.3 144.8,459 144.5,458.7 144.2,458.3 143.9,458 143.6,457.6 143.4,457.2 143.1,456.8 142.9,456.4 142.7,456 142.6,455.6 142.4,455.2 142.2,454.9 142.1,454.6 141.9,454.3 141.7,454 141.5,453.7 141.3,453.4 141.1,453.2 140.8,452.9 140.5,452.6 140.2,452.3 139.9,452 139.6,451.6 139.3,451.2 139,450.8 138.7,450.4 138.4,450 138.2,449.5 138,449.1 137.8,448.7 137.6,448.2 137.4,447.8 137.2,447.4 137.1,447 136.9,446.7 136.7,446.3 136.5,446 136.3,445.7 136.1,445.3 135.8,445 135.5,444.6 135.2,444.3 134.9,443.9 134.6,443.5 134.3,443 134,442.5 133.7,442.1 133.5,441.5 133.2,441 133,440.5 132.8,440 132.6,439.4 132.5,438.9 132.3,438.4 132.2,437.9 132.1,437.5 131.9,437 131.7,436.6 131.6,436.1 131.4,435.7 131.2,435.2 131,434.8 130.7,434.3 130.5,433.8 130.2,433.3 130,432.7 129.7,432.1 129.5,431.5 129.3,430.9 129.1,430.3 129,429.6 128.9,429 128.8,428.3 128.7,427.7 128.6,427 128.6,426.4 128.6,425.8 128.5,425.2 128.5,424.6 128.5,424.1 128.4,423.5 128.3,422.9 128.3,422.4 128.2,421.8 128.1,421.2 128,420.5 127.9,419.9 127.8,419.2 127.8,418.5 127.7,417.7 127.7,417 127.7,416.2 127.8,415.5 127.9,414.7 128,414 128.1,413.2 128.3,412.5 128.5,411.8 128.7,411.1 128.9,410.5 129.1,409.8 129.2,409.2 129.4,408.6 129.6,407.9 129.8,407.3 129.9,406.6 130.1,406 130.2,405.3 130.4,404.6 130.6,403.8 130.8,403.1 131.1,402.3 131.4,401.6 131.7,400.8 132.1,400.1 132.4,399.3 132.9,398.6 133.3,397.9 133.8,397.2 134.3,396.6 134.7,396 135.2,395.4 135.7,394.8 136.2,394.2 136.6,393.7 137.1,393.1 137.6,392.6 138,392 138.5,391.4 138.9,390.8 139.4,390.2 139.9,389.6 140.4,389 141,388.4 141.6,387.8 142.2,387.2 142.9,386.7 143.6,386.1 144.3,385.6 145,385.1 145.7,384.6 146.5,384.2 147.2,383.8 147.9,383.5 148.7,383.1 149.4,382.8 150.1,382.5 150.8,382.2 151.5,381.9 152.1,381.6 152.8,381.3 153.5,381 154.2,380.7 154.9,380.4 155.6,380.1 156.4,379.8 157.2,379.5 158,379.2 158.8,379 159.7,378.8 160.5,378.6 161.4,378.4 162.3,378.3 163.1,378.3 164,378.3 164.8,378.3 165.6,378.3 166.4,378.3 167.2,378.4 167.9,378.4 168.7,378.5 169.4,378.6 170.1,378.6 170.8,378.7 171.6,378.7 172.3,378.7 173.1,378.8 173.8,378.9 174.6,378.9 175.4,379.1 176.2,379.2 177,379.4 177.8,379.6 178.7,379.8 179.5,380.1 180.2,380.4 181,380.7 181.7,381.1 182.4,381.5 183.1,381.9 183.7,382.3 184.3,382.6 184.9,383 185.5,383.4 186.1,383.8 186.6,384.1 187.2,384.5 187.8,384.9 188.4,385.2 188.9,385.6 189.5,386 190.2,386.4 190.8,386.8 191.4,387.2 192,387.7 192.5,388.2 193.1,388.8 193.6,389.4 194.1,389.9 194.6,390.5 195,391.1 195.5,391.7 195.8,392.3 196.2,392.9 196.5,393.5 196.8,394 197.1,394.6 197.4,395.1 197.7,395.6 198,396.1 198.3,396.6 198.7,397.1 199,397.6 199.4,398.1 199.7,398.7 200,399.2 200.4,399.8 200.7,400.4 200.9,401 201.2,401.7 201.4,402.3 201.6,403 201.8,403.6 201.9,404.2 202,404.8 202.1,405.4 202.2,406 202.2,406.5 202.3,407 202.4,407.5 202.4,408 202.5,408.5 202.6,409 202.7,409.4 202.9,409.9 203,410.4 203.1,410.9 203.3,411.4 203.4,412 203.5,412.5 203.6,413.1 203.6,413.7 203.7,414.2 203.7,414.8 203.6,415.3 203.6,415.9 203.5,416.4 203.5,416.8 203.4,417.3 203.3,417.7 203.3,418.1 203.2,418.5 203.2,418.9 203.2,419.3 203.2,419.6 203.2,420 203.2,420.4 203.3,420.8 203.3,421.2 203.4,421.6 203.4,422 203.4,422.5 203.4,422.9 203.4,423.4 203.4,423.8 203.3,424.3 203.3,424.7 203.2,425.1 203.1,425.5 203,425.9 202.9,426.2 202.8,426.5 202.7,426.8 202.7,427.1 202.6,427.4 202.6,427.6 202.7,427.9 202.7,428.2 202.7,428.5 202.8,428.8 202.9,429.1 202.9,429.5 203,429.8 203,430.2 203,430.6 203,431 203,431.4 203,431.7 202.9,432.1 202.9,432.4 202.8,432.7 202.8,433 202.7,433.3 202.7,433.5 202.7,433.8 202.7,434 202.7,434.2 202.8,434.5 202.9,434.7 203,434.9 203.1,435.2 203.2,435.5 203.3,435.8 203.4,436.2 203.5,436.5 203.6,436.9 203.7,437.2 203.7,437.6 203.7,438 203.8,438.3 203.8,438.7 203.8,439 203.8,439.3 203.8,439.6 203.8,439.8 203.8,440.1 203.9,440.3 204,440.6 204.1,440.8 204.2,441 204.3,441.3 204.5,441.6 204.7,441.9 204.8,442.2 205,442.6 205.1,443 205.3,443.3 205.4,443.7 205.5,444.1 205.6,444.5 205.6,444.9 205.7,445.3 205.7,445.7 205.7,446 205.8,446.4 205.8,446.7 205.9,447 205.9,447.2 206,447.5 206.1,447.8 206.3,448.1 206.4,448.4 206.6,448.7 206.8,449.1 206.9,449.4 207.1,449.8 207.3,450.2 207.4,450.6 207.5,451.1 207.6,451.5 207.7,452 207.8,452.4 207.8,452.9 207.9,453.3 207.9,453.7 207.9,454.1 207.9,454.4 207.9,454.8 208,455.1 208,455.4 208.1,455.7 208.2,456.1 208.3,456.4 208.5,456.7 208.6,457.1 208.7,457.5 208.9,457.9 209,458.4 209.1,458.8 209.2,459.3 209.3,459.8 209.3,460.2 209.3,460.7 209.3,461.2 209.3,461.6 209.3,462.1 209.2,462.5 209.2,462.9 209.1,463.3 209.1,463.6 209.1,464 209.1,464.3 209.1,464.6 209.2,465 209.2,465.3 209.3,465.7 209.3,466.1 209.4,466.5 209.4,467 209.5,467.4 209.5,467.9 209.5,468.3 209.4,468.8 209.4,469.3 209.3,469.8 209.2,470.2 209.1,470.7 208.9,471.1 208.8,471.5 208.6,471.8 208.5,472.2 208.4,472.5 208.3,472.8 208.2,473.1 208.1,473.5 208.1,473.8 208,474.1 208,474.5 207.9,474.9 207.9,475.3 207.8,475.7 207.7,476.1 207.6,476.5 207.5,477 207.3,477.4 207.1,477.8 206.9,478.2 206.7,478.6 206.4,479 206.2,479.4 205.9,479.7 205.7,480 205.4,480.3 205.2,480.5 205,480.8 204.8,481 204.6,481.3 204.5,481.6 204.3,481.8 204.1,482.1 204,482.4 203.8,482.8 203.6,483.1 203.4,483.5 203.1,483.8 202.9,484.2 202.6,484.5 202.3,484.9 201.9,485.2 201.6,485.5 201.2,485.8 200.8,486 200.5,486.2 200.1,486.4 199.8,486.6 199.4,486.8 199.1,486.9 198.8,487.1 198.5,487.2 198.3,487.4 198,487.6 197.7,487.8 197.4,488 197.1,488.3 196.8,488.5 196.5,488.8 196.1,489 195.8,489.3 195.3,489.5 194.9,489.7 194.5,489.9 194,490.1 193.5,490.2 193.1,490.3 192.6,490.4 192.2,490.5 191.7,490.5 191.3,490.6 190.9,490.6 190.6,490.7 190.2,490.7 189.8,490.8 189.5,490.8 189.1,490.9 188.8,491 188.4,491.2 188,491.3 187.5,491.4 187.1,491.5 186.6,491.6 186.1,491.7 185.6,491.8 185.1,491.9 184.6,491.9 184,491.9 183.5,491.9 183,491.8 182.5,491.8 182,491.7 181.5,491.6 181.1,491.5 180.7,491.4 180.3,491.4 179.9,491.3 179.5,491.3 179,491.2 178.6,491.2 178.2,491.2 177.7,491.2 177.2,491.2 176.7,491.2 176.2,491.2 175.7,491.2 175.1,491.1 174.6,491 174,490.9 173.4,490.8 172.9,490.6 172.4,490.4 171.9,490.2 171.4,490 170.9,489.8 170.4,489.6 170,489.4 169.6,489.2 169.2,489.1 168.7,488.9 168.3,488.8 167.9,488.7 167.4,488.6 166.9,488.4 166.4,488.3 165.9,488.2 165.4,488 164.8,487.9 164.3,487.7 163.7,487.5 163.2,487.2 162.6,487 162.1,486.7 161.6,486.4 161.1,486.1 160.6,485.7 160.2,485.4 159.7,485.1 159.3,484.8 158.9,484.5 158.5,484.3 158.1,484 157.7,483.8 157.3,483.6 156.8,483.3 156.4,483.1 155.9,482.9 155.4,482.6 154.9,482.4 154.4,482.1 153.8,481.8 153.3,481.5 152.8,481.1 152.3,480.7 151.8,480.3 151.4,479.9 150.9,479.5 150.5,479.1 150.1,478.7 149.7,478.3 149.4,477.9 149,477.5 148.7,477.1 148.3,476.8 148,476.5 147.6,476.2 147.2,475.9 146.7,475.5 146.3,475.2 145.9,474.9 145.4,474.5 144.9,474.1 144.5,473.7 144,473.3 143.5,472.8 143.1,472.4 142.7,471.9 142.3,471.4 142,470.9 141.6,470.4 141.3,469.9 141,469.4 140.7,469 140.4,468.6 140.1,468.2 139.8,467.8 139.5,467.4 139.2,467 138.8,466.6 138.5,466.2 138.1,465.8 137.7,465.4 137.3,465 136.9,464.5 136.4,464 136.1,463.5 135.7,463 135.3,462.4 135,461.9 134.7,461.3 134.4,460.8 134.1,460.2 133.8,459.7 133.6,459.2 133.4,458.7 133.1,458.2 132.9,457.8 132.6,457.3 132.3,456.9 132,456.4 131.7,456 131.4,455.5 131.1,455.1 130.7,454.6 130.3,454.1 130,453.5 129.6,453 129.3,452.4 129,451.8 128.7,451.2 128.4,450.6 128.1,449.9 127.9,449.3 127.7,448.7 127.5,448.1 127.3,447.5 127.1,447 126.9,446.4 126.7,445.9 126.4,445.4 126.2,444.9 125.9,444.3 125.7,443.8 125.4,443.3 125.1,442.7 124.8,442.1 124.5,441.5 124.2,440.8 123.9,440.2 123.6,439.5 123.3,438.8 123.1,438.1 122.9,437.3 122.7,436.6 122.6,435.9 122.4,435.2 122.3,434.5 122.2,433.8 122.1,433.1 121.9,432.5 121.8,431.8 121.7,431.2 121.5,430.5 121.4,429.9 121.2,429.2 121,428.5 120.8,427.8 120.6,427.1 120.4,426.3 120.2,425.5 120.1,424.7 119.9,423.9 119.8,423.1 119.7,422.2 119.7,421.3 119.7,420.5 119.7,419.6 119.7,418.8 119.8,418 119.8,417.2 119.9,416.4 120,415.6 120,414.9 120.1,414.1 120.1,413.3 120.1,412.6 120.1,411.8 120.2,411 120.2,410.1 120.2,409.3 120.3,408.4 120.4,407.5 120.5,406.6 120.6,405.6 120.8,404.7 121,403.8 121.2,402.8 121.5,401.9 121.8,401 122.1,400.1 122.4,399.3 122.8,398.4 123.2,397.6 123.5,396.8 123.9,396 124.2,395.2 124.6,394.4 124.9,393.6 125.2,392.8 125.6,392 125.9,391.2 126.3,390.3 126.7,389.5 127.1,388.6 127.6,387.7 128.1,386.8 128.6,385.9 129.2,385.1 129.8,384.2 130.4,383.4 131.1,382.6 131.7,381.9 132.4,381.1 133.1,380.4 133.8,379.7 134.5,379.1 135.2,378.5 135.9,377.8 136.6,377.2 137.3,376.6 137.9,376 138.6,375.4 139.3,374.7 140,374.1 140.7,373.4 141.5,372.8 142.3,372.2 143.1,371.5 143.9,370.9 144.8,370.4 145.7,369.8 146.7,369.3 147.6,368.8 148.6,368.4 149.5,367.9 150.5,367.6 151.4,367.2 152.4,366.9 153.3,366.6 154.2,366.4 155.1,366.1 156,365.8 156.8,365.6 157.7,365.3 158.6,365.1 159.5,364.8 160.4,364.5 161.3,364.3 162.3,364 163.3,363.8 164.3,363.6 165.3,363.4 166.3,363.3 167.3,363.2 168.4,363.1 169.4,363.1 170.5,363.2 171.5,363.2 172.5,363.3 173.4,363.4 174.4,363.6 175.3,363.7 176.2,363.8 177.1,364 177.9,364.1 178.8,364.3 179.6,364.4 180.5,364.6 181.4,364.7 182.3,364.9 183.2,365 184.1,365.2 185,365.4 185.9,365.7 186.9,365.9 187.8,366.2 188.7,366.6 189.6,367 190.5,367.4 191.4,367.8 192.2,368.3 193,368.8 193.7,369.3 194.5,369.8 195.2,370.2 195.8,370.7 196.5,371.2 197.2,371.7 197.8,372.1 198.5,372.6 199.1,373 199.8,373.5 200.5,373.9 201.1,374.4 201.8,374.9 202.5,375.5 203.2,376 203.8,376.6 204.5,377.2 205.1,377.9 205.7,378.5 206.3,379.2 206.8,379.9 207.3,380.6 207.7,381.3 208.2,382 208.6,382.7 208.9,383.3 209.3,384 209.6,384.6 210,385.2 210.3,385.8 210.7,386.4 211.1,387 211.4,387.6 211.8,388.2 212.2,388.8 212.6,389.5 212.9,390.1 213.3,390.8 213.6,391.5 213.9,392.3 214.2,393 214.4,393.8 214.7,394.5 214.8,395.2 215,396 215.1,396.7 215.2,397.4 215.3,398 215.3,398.7 215.4,399.3 215.5,399.9 215.6,400.5 215.7,401.1 215.8,401.6 215.9,402.2 216,402.8 216.1,403.4 216.2,404 216.3,404.7 216.4,405.3 216.5,406 216.6,406.6 216.6,407.3 216.6,408 216.6,408.7 216.5,409.3 216.4,409.9 216.3,410.6 216.2,411.1 216.1,411.7 215.9,412.2 215.8,412.7 215.7,413.2 215.6,413.7 215.6,414.2 215.5,414.6 215.5,415.1 215.4,415.6 215.4,416.1 215.4,416.6 215.3,417.1 215.3,417.6 215.2,418.2 215.1,418.7 215,419.3 214.9,419.8 214.7,420.3 214.6,420.8 214.4,421.3 214.2,421.8 214,422.2 213.8,422.6 213.6,423 213.4,423.4 213.2,423.7 213.1,424.1 213,424.4 212.9,424.7 212.8,425.1 212.7,425.4 212.6,425.8 212.6,426.2 212.5,426.6 212.4,427 212.3,427.4 212.2,427.9 212.1,428.3 211.9,428.7 211.7,429.1 211.5,429.5 211.3,429.9 211.1,430.2 210.9,430.5 210.8,430.8 210.6,431.1 210.4,431.3 210.3,431.6 210.2,431.8 210.1,432 210.1,432.3 210,432.5 210,432.8 209.9,433.1 209.9,433.4 209.9,433.8 209.8,434.1 209.8,434.4 209.7,434.8 209.6,435.1 209.5,435.5 209.3,435.8 209.2,436.1 209,436.4 208.9,436.7 208.8,436.9 208.6,437.1 208.5,437.3 208.5,437.5 208.4,437.7 208.4,437.9 208.4,438.1 208.4,438.3 208.4,438.5 208.4,438.8 208.5,439.1 208.5,439.3 208.5,439.7 208.5,440 208.5,440.3 208.5,440.6 208.4,441 208.4,441.3 208.3,441.6 208.2,441.9 208.2,442.1 208.1,442.3 208,442.6 208,442.8 207.9,443 207.9,443.2 208,443.3 208,443.5 208.1,443.8 208.1,444 208.2,444.2 208.3,444.5 208.4,444.8 208.5,445.1 208.5,445.4 208.6,445.8 208.6,446.1 208.6,446.5 208.6,446.8 208.6,447.1 208.6,447.5 208.5,447.7 208.5,448 208.4,448.3 208.4,448.5 208.4,448.7 208.4,449 208.5,449.2 208.5,449.4 208.6,449.6 208.7,449.9 208.8,450.2 208.9,450.5 209,450.8 209.1,451.1 209.2,451.5 209.3,451.8 209.3,452.2 209.4,452.6 209.4,453 209.3,453.4 209.3,453.7 209.3,454 209.2,454.4 209.2,454.7 209.1,454.9 209.1,455.2 209.1,455.5 209.1,455.7 209.2,456 209.2,456.2 209.3,456.5 209.3,456.8 209.4,457.1 209.5,457.5 209.6,457.9 209.6,458.2 209.7,458.6 209.7,459.1 209.7,459.5 209.6,459.9 209.6,460.3 209.5,460.7 209.4,461 209.3,461.4 209.2,461.7 209.1,462 209,462.3 208.9,462.6 208.9,462.9 208.8,463.2 208.8,463.5 208.8,463.8 208.8,464.1 208.8,464.4 208.8,464.7 208.8,465.1 208.7,465.5 208.7,465.9 208.6,466.3 208.5,466.7 208.4,467.2 208.3,467.6 208.1,468 207.9,468.4 207.7,468.7 207.5,469.1 207.3,469.4 207.1,469.7 206.9,469.9 206.8,470.2 206.6,470.5 206.4,470.7 206.3,471 206.2,471.3 206.1,471.6 206,471.9 205.8,472.3 205.7,472.6 205.5,473 205.4,473.4 205.2,473.8 204.9,474.1 204.7,474.5 204.4,474.9 204.1,475.2 203.8,475.6 203.5,475.9 203.1,476.2 202.8,476.4 202.5,476.6 202.2,476.9 201.9,477.1 201.6,477.3 201.3,477.5 201.1,477.7 200.8,477.9 200.6,478.2 200.3,478.4 200.1,478.7 199.8,479 199.5,479.3 199.2,479.6 198.8,479.9 198.5,480.2 198.1,480.5 197.6,480.8 197.2,481 196.7,481.3 196.3,481.5 195.8,481.6 195.4,481.8 194.9,481.9 194.5,482 194.1,482.1 193.7,482.2 193.3,482.3 193,482.4 192.6,482.6 192.2,482.7 191.9,482.9 191.5,483 191.1,483.2 190.7,483.4 190.2,483.6 189.8,483.8 189.3,483.9 188.8,484.1 188.2,484.2 187.7,484.3 187.1,484.4 186.6,484.4 186,484.5 185.5,484.5 185,484.4 184.5,484.4 184,484.4 183.5,484.3 183.1,484.3 182.6,484.3 182.2,484.3 181.8,484.3 181.3,484.3 180.9,484.3 180.4,484.4 179.9,484.4 179.4,484.4 178.8,484.4 178.3,484.5 177.7,484.4 177.1,484.4 176.5,484.3 175.9,484.2 175.3,484.1 174.8,484 174.2,483.8 173.7,483.6 173.1,483.4 172.6,483.2 172.2,483 171.7,482.8 171.2,482.6 170.8,482.5 170.3,482.3 169.9,482.2 169.4,482.1 168.9,481.9 168.4,481.8 167.9,481.7 167.4,481.5 166.8,481.4 166.2,481.2 165.7,481 165.1,480.7 164.5,480.4 164,480.1 163.4,479.8 162.9,479.5 162.4,479.1 161.9,478.7 161.5,478.4 161.1,478 160.7,477.7 160.3,477.4 159.9,477 159.5,476.7 159.1,476.5 158.7,476.2 158.2,475.9 157.8,475.6 157.3,475.3 156.9,475 156.4,474.7 155.9,474.3 155.4,473.9 154.9,473.5 154.4,473.1 154,472.6 153.6,472.2 153.2,471.7 152.8,471.2 152.5,470.7 152.1,470.2 151.8,469.7 151.6,469.3 151.3,468.8 151,468.4 150.7,468 150.5,467.6 150.2,467.2 149.9,466.8 149.5,466.4 149.2,466 148.9,465.6 148.5,465.1 148.2,464.7 147.8,464.2 147.5,463.7 147.2,463.1 146.9,462.6 146.6,462 146.4,461.5 146.2,460.9 146,460.3 145.8,459.8 145.7,459.3 145.5,458.8 145.4,458.3 145.3,457.8 145.2,457.4 145,457 144.9,456.5 144.7,456.1 144.5,455.7 144.3,455.3 144.1,454.8 143.9,454.4 143.7,453.9 143.5,453.4 143.3,452.9 143.1,452.3 142.9,451.8 142.8,451.2 142.7,450.7 142.6,450.1 142.6,449.6 142.5,449.1 142.5,448.6 142.5,448.1 142.5,447.7 142.4,447.3 142.4,446.9 142.3,446.5 142.2,446.1 142.1,445.7 142,445.3 141.9,444.9 141.7,444.5 141.6,444.1 141.5,443.6 141.3,443.1 141.2,442.6 141.1,442.1 141,441.6 140.9,441.1 140.9,440.6 140.9,440.1 140.9,439.6 140.9,439.1 140.9,438.7 140.9,438.3 140.9,437.9 140.9,437.5 140.8,437.1 140.8,436.7 140.7,436.4 140.6,436 140.5,435.6 140.4,435.2 140.3,434.8 140.1,434.3 140,433.9 139.9,433.4 139.7,432.9 139.7,432.3 139.6,431.8 139.5,431.3 139.5,430.8 139.5,430.2 139.5,429.7 139.5,429.3 139.5,428.8 139.5,428.3 139.5,427.9 139.5,427.5 139.5,427.1 139.4,426.6 139.4,426.2 139.3,425.8 139.2,425.3 139.1,424.8 139,424.3 138.8,423.8 138.7,423.2 138.7,422.7 138.6,422.1 138.6,421.4 138.5,420.8 138.5,420.2 138.6,419.6 138.6,419 138.7,418.4 138.8,417.8 138.9,417.3 138.9,416.8 139,416.2 139.1,415.7 139.1,415.2 139.1,414.7 139.1,414.1 139.1,413.6 139.1,413 139.1,412.4 139.1,411.8 139.2,411.1 139.2,410.5 139.3,409.8 139.4,409.1 139.5,408.4 139.6,407.7 139.8,407 140,406.3 140.2,405.6 140.5,404.9 140.7,404.3 141,403.7 141.3,403.1 141.5,402.5 141.8,401.9 142,401.3 142.2,400.7 142.4,400.1 142.7,399.5 142.9,398.9 143.1,398.3 143.3,397.6 143.6,396.9 143.9,396.2 144.2,395.5 144.5,394.8 144.9,394.1 145.3,393.4 145.8,392.7 146.3,392.1 146.7,391.5 147.3,390.8 147.8,390.3 148.3,389.7 148.8,389.2 149.3,388.7 149.8,388.2 150.3,387.7 150.8,387.2 151.3,386.7 151.7,386.2 152.2,385.7 152.7,385.1 153.2,384.6 153.7,384.1 154.3,383.5 154.8,383 155.5,382.4 156.1,381.9 156.8,381.4 157.5,380.9 158.2,380.5 158.9,380.1 159.6,379.7 160.4,379.3 161.1,379 161.8,378.7 162.5,378.5 163.2,378.2 163.9,378 164.6,377.7 165.2,377.5 165.9,377.2 166.5,377 167.2,376.7 167.8,376.4 168.5,376.2 169.2,375.9 169.9,375.7 170.7,375.4 171.5,375.2 172.3,375 173.1,374.9 173.9,374.7 174.7,374.6 175.5,374.6 176.3,374.6 177.1,374.6 177.9,374.6 178.6,374.7 179.4,374.7 180.1,374.8 180.7,374.9 181.4,374.9 182.1,375 182.7,375.1 183.4,375.1 184,375.1 184.7,375.2 185.4,375.2 186.1,375.3 186.8,375.4 187.6,375.5 188.3,375.6 189.1,375.8 189.8,375.9 190.6,376.2 191.3,376.4 192,376.7 192.7,377 193.4,377.3 194,377.7 194.6,378 195.2,378.4 195.7,378.7 196.2,379 196.8,379.3 197.3,379.6 197.8,379.9 198.3,380.2 198.9,380.5 199.4,380.8 200,381.1 200.5,381.4 201.1,381.7 201.7,382.1 202.3,382.5 202.8,382.9 203.4,383.3 203.9,383.8 204.4,384.3 204.9,384.8 205.4,385.3 205.8,385.8 206.2,386.3 206.5,386.8 206.9,387.3 207.2,387.8 207.5,388.2 207.8,388.7 208.1,389.1 208.4,389.5 208.8,389.9 209.1,390.3 209.5,390.7 209.8,391.2 210.2,391.6 210.5,392.1 210.9,392.6 211.2,393.1 211.6,393.7 211.9,394.2 212.1,394.8 212.4,395.4 212.6,395.9 212.8,396.5 212.9,397.1 213.1,397.6 213.2,398.1 213.3,398.6 213.4,399.1 213.5,399.6 213.6,400 213.7,400.4 213.9,400.9 214,401.3 214.2,401.7 214.3,402.2 214.5,402.7 214.7,403.1 214.8,403.6 215,404.2 215.1,404.7 215.2,405.2 215.3,405.8 215.3,406.4 215.4,406.9 215.3,407.4 215.3,407.9 215.3,408.4 215.2,408.9 215.2,409.4 215.1,409.8 215.1,410.2 215,410.6 215,410.9 215,411.3 215,411.7 215.1,412.1 215.1,412.5 215.2,412.9 215.2,413.3 215.2,413.8 215.3,414.2 215.3,414.7 215.2,415.2 215.2,415.7 215.1,416.1 215,416.6 214.9,417 214.8,417.5 214.7,417.9 214.5,418.2 214.4,418.6 214.3,418.9 214.2,419.2 214.1,419.5 214,419.8 213.9,420.1 213.9,420.4 213.9,420.7 213.9,421 213.9,421.4 213.9,421.7 213.9,422.1 213.8,422.5 213.8,422.9 213.7,423.3 213.6,423.7 213.5,424.1 213.4,424.5 213.3,424.8 213.1,425.1 213,425.5 212.8,425.7 212.7,426 212.6,426.2 212.5,426.5 212.4,426.7 212.4,426.9 212.3,427.1 212.3,427.4 212.3,427.6 212.3,427.9 212.3,428.2 212.4,428.5 212.4,428.8 212.3,429.1 212.3,429.5 212.3,429.8 212.2,430.1 212.1,430.5 212,430.8 211.9,431.1 211.8,431.3 211.7,431.6 211.6,431.8 211.6,432 211.5,432.2 211.5,432.4 211.5,432.6 211.5,432.8 211.5,433 211.6,433.2 211.6,433.4 211.7,433.7 211.8,433.9 211.8,434.2 211.9,434.5 211.9,434.8 212,435.2" fill="none" stroke="#0c280c" stroke-width="0.75" stroke-linejoin="round" stroke-opacity="0.9"/><polyline points="230.8,442 230.8,441.6 230.7,441.1 230.6,440.6 230.5,440.1 230.3,439.6 230.2,439.1 230,438.5 229.8,437.9 229.7,437.4 229.6,436.7 229.5,436.1 229.4,435.6 229.3,435 229.2,434.4 229.1,433.9 229,433.4 228.9,432.9 228.8,432.4 228.6,432 228.5,431.5 228.2,431.1 228,430.7 227.7,430.2 227.4,429.7 227.1,429.3 226.8,428.7 226.5,428.2 226.2,427.7 225.9,427.1 225.6,426.5 225.4,426 225.1,425.4 224.9,424.9 224.7,424.4 224.5,423.9 224.3,423.4 224,423 223.8,422.6 223.5,422.2 223.2,421.8 222.9,421.4 222.5,421 222.2,420.6 221.8,420.2 221.4,419.8 221,419.3 220.6,418.8 220.2,418.3 219.8,417.8 219.4,417.3 219.1,416.8 218.8,416.3 218.5,415.8 218.2,415.4 217.9,414.9 217.7,414.5 217.4,414.2 217.1,413.8 216.7,413.5 216.4,413.1 216,412.8 215.6,412.5 215.2,412.1 214.8,411.8 214.3,411.4 213.9,411 213.4,410.5 213,410.1 212.6,409.6 212.2,409.1 211.9,408.7 211.5,408.2 211.2,407.8 210.9,407.4 210.6,407 210.3,406.6 210,406.2 209.7,405.9 209.4,405.6 209,405.3 208.6,405 208.2,404.7 207.8,404.3 207.3,404 206.9,403.6 206.4,403.2 206,402.8 205.5,402.3 205.1,401.9 204.7,401.4 204.3,400.9 204,400.5 203.6,400 203.3,399.6 203,399.2 202.7,398.8 202.4,398.5 202,398.1 201.6,397.8 201.2,397.5 200.8,397.1 200.4,396.8 199.9,396.5 199.4,396.1 198.9,395.7 198.4,395.3 197.9,394.9 197.4,394.4 196.9,393.9 196.4,393.4 196,393 195.6,392.5 195.1,392 194.7,391.6 194.3,391.2 193.9,390.8 193.5,390.4 193.1,390.1 192.6,389.7 192.1,389.4 191.6,389.1 191,388.8 190.4,388.4 189.8,388.1 189.2,387.7 188.5,387.3 187.9,386.9 187.2,386.5 186.6,386 186,385.6 185.4,385.1 184.9,384.7 184.3,384.3 183.7,383.9 183.2,383.6 182.6,383.2 182,382.9 181.4,382.7 180.8,382.4 180.1,382.2 179.4,382 178.7,381.7 177.9,381.5 177.1,381.3 176.3,381 175.5,380.7 174.7,380.4 173.9,380.1 173.1,379.8 172.3,379.5 171.6,379.2 170.8,379 170.1,378.7 169.4,378.5 168.6,378.3 167.9,378.2 167.1,378 166.4,378 165.5,377.9 164.7,377.9 163.8,377.9 163,377.8 162,377.8 161.1,377.8 160.1,377.8 159.2,377.7 158.2,377.7 157.3,377.6 156.3,377.6 155.4,377.5 154.5,377.5 153.7,377.5 152.8,377.5 152,377.6 151.1,377.7 150.3,377.8 149.4,378 148.5,378.2 147.6,378.5 146.7,378.8 145.8,379.1 144.8,379.4 143.8,379.7 142.8,380 141.8,380.3 140.8,380.6 139.8,380.9 138.8,381.1 137.9,381.4 136.9,381.7 136,382.1 135.2,382.4 134.3,382.8 133.5,383.2 132.7,383.7 131.8,384.2 131,384.8 130.2,385.4 129.4,386 128.5,386.7 127.7,387.3 126.8,388 125.9,388.7 125,389.4 124.1,390.1 123.2,390.7 122.4,391.4 121.6,392.1 120.8,392.8 120,393.4 119.3,394.1 118.6,394.9 118,395.6 117.4,396.4 116.8,397.3 116.2,398.1 115.6,399 115.1,400 114.5,401 113.9,402 113.3,403 112.8,404 112.2,405 111.6,406 111.1,407 110.5,408 110,409 109.5,409.9 109.1,410.9 108.7,411.8 108.4,412.8 108.1,413.8 107.8,414.8 107.6,415.8 107.4,416.9 107.3,418 107.1,419.1 107,420.2 106.8,421.4 106.7,422.6 106.6,423.7 106.4,424.9 106.3,426.1 106.2,427.2 106.1,428.3 106,429.4 106,430.5 105.9,431.5 106,432.5 106.1,433.5 106.2,434.6 106.4,435.6 106.6,436.6 106.8,437.6 107.1,438.7 107.4,439.8 107.7,440.9 108,442 108.4,443.1 108.7,444.2 109,445.3 109.3,446.4 109.6,447.5 110,448.5 110.3,449.5 110.7,450.5 111,451.4 111.4,452.3 111.9,453.2 112.4,454 112.9,454.8 113.5,455.7 114.1,456.5 114.7,457.4 115.4,458.2 116.1,459.1 116.8,459.9 117.4,460.8 118.1,461.7 118.8,462.5 119.4,463.4 120.1,464.2 120.7,465 121.3,465.8 122,466.5 122.6,467.2 123.3,467.8 124,468.4 124.7,469 125.4,469.5 126.2,470 127,470.6 127.9,471.1 128.7,471.6 129.6,472.1 130.5,472.7 131.4,473.2 132.2,473.8 133.1,474.3 133.9,474.8 134.7,475.3 135.5,475.8 136.3,476.3 137,476.7 137.8,477.1 138.6,477.4 139.3,477.7 140.1,478 140.9,478.2 141.8,478.4 142.6,478.6 143.5,478.8 144.4,479 145.3,479.2 146.2,479.4 147.2,479.6 148.1,479.8 149,480 149.8,480.2 150.7,480.4 151.5,480.6 152.3,480.7 153,480.9 153.8,481 154.5,481 155.3,481 156,481 156.7,481 157.5,480.9 158.3,480.8 159.1,480.7 159.9,480.6 160.7,480.4 161.6,480.3 162.4,480.2 163.3,480.1 164.1,480.1 164.9,480 165.6,479.9 166.4,479.8 167.1,479.8 167.7,479.7 168.4,479.5 169,479.4 169.6,479.2 170.2,478.9 170.8,478.7 171.4,478.4 172,478.1 172.7,477.8 173.3,477.4 174,477.1 174.7,476.8 175.4,476.5 176,476.2 176.7,475.9 177.4,475.7 178,475.4 178.6,475.2 179.1,475 179.7,474.8 180.2,474.5 180.7,474.3 181.1,474 181.6,473.7 182,473.3 182.4,473 182.9,472.6 183.3,472.2 183.8,471.8 184.3,471.4 184.8,471 185.3,470.6 185.8,470.2 186.4,469.9 186.9,469.6 187.4,469.3 187.9,469 188.3,468.8 188.8,468.5 189.2,468.3 189.6,468.1 189.9,467.8 190.2,467.5 190.6,467.2 190.9,466.9 191.2,466.5 191.6,466.1 191.9,465.8 192.3,465.4 192.7,465 193.1,464.6 193.6,464.3 194,463.9 194.5,463.6 194.9,463.4 195.4,463.1 195.8,462.9 196.2,462.7 196.6,462.4 197,462.2 197.3,462 197.6,461.8 197.9,461.5 198.2,461.3 198.5,461 198.8,460.6 199.2,460.3 199.5,460 199.9,459.6 200.3,459.2 200.7,458.9 201.1,458.6 201.6,458.2 202,458 202.5,457.7 202.9,457.5 203.4,457.2 203.8,457 204.2,456.8 204.6,456.6 204.9,456.4 205.2,456.2 205.5,455.9 205.9,455.6 206.2,455.3 206.5,455 206.8,454.6 207.2,454.3 207.5,453.9 207.9,453.5 208.4,453.1 208.8,452.8 209.3,452.4 209.7,452.1 210.2,451.8 210.7,451.5 211.1,451.3 211.5,451 211.9,450.7 212.3,450.5 212.6,450.2 212.9,449.9 213.2,449.6 213.5,449.3 213.8,448.9 214.1,448.5 214.4,448.1 214.7,447.7 215.1,447.2 215.5,446.8 215.8,446.4 216.3,445.9 216.7,445.5 217.1,445.1 217.5,444.7 217.9,444.4 218.3,444.1 218.6,443.7 219,443.4 219.3,443.1 219.5,442.7 219.8,442.4 220,442 220.2,441.6 220.4,441.1 220.6,440.7 220.9,440.2 221.1,439.7 221.3,439.2 221.6,438.7 221.9,438.1 222.2,437.7 222.5,437.2 222.8,436.7 223.1,436.3 223.4,435.9 223.6,435.5 223.9,435.1 224,434.7 224.2,434.3 224.3,433.9 224.4,433.5 224.5,433.1 224.6,432.6 224.7,432.1 224.7,431.6 224.8,431.1 224.9,430.5 225,430 225.1,429.4 225.2,428.9 225.3,428.4 225.5,427.9 225.6,427.4 225.7,426.9 225.8,426.5 225.9,426.1 226,425.7 226,425.3 226,424.9 225.9,424.5 225.8,424.1 225.7,423.6 225.6,423.2 225.5,422.7 225.4,422.2 225.2,421.7 225.1,421.2 225,420.6 225,420.1 224.9,419.6 224.8,419.1 224.8,418.6 224.7,418.2 224.7,417.8 224.6,417.4 224.5,417 224.3,416.6 224.2,416.3 224,415.9 223.7,415.6 223.5,415.2 223.2,414.9 222.9,414.5 222.6,414.1 222.3,413.6 222,413.2 221.7,412.7 221.5,412.3 221.2,411.8 221,411.4 220.7,411 220.5,410.6 220.3,410.2 220.1,409.9 219.8,409.6 219.6,409.3 219.3,409 219,408.8 218.6,408.5 218.2,408.3 217.8,408 217.4,407.8 217,407.5 216.5,407.2 216.1,406.8 215.7,406.5 215.3,406.1 214.9,405.8 214.5,405.4 214.2,405.1 213.8,404.8 213.5,404.5 213.2,404.3 212.8,404.1 212.5,403.9 212.1,403.7 211.7,403.6 211.3,403.4 210.9,403.3 210.4,403.2 209.9,403 209.4,402.8 208.9,402.7 208.4,402.5 207.9,402.3 207.4,402 207,401.8 206.5,401.5 206.1,401.3 205.7,401.1 205.3,400.9 204.9,400.7 204.6,400.6 204.2,400.5 203.8,400.4 203.4,400.3 203,400.3 202.6,400.2 202.1,400.2 201.6,400.1 201.1,400.1 200.6,400 200.1,399.9 199.5,399.8 199,399.7 198.5,399.5 198.1,399.4 197.6,399.2 197.2,399.1 196.8,398.9 196.4,398.8 196,398.7 195.7,398.6 195.3,398.6 195,398.6 194.6,398.6 194.2,398.6 193.8,398.6 193.3,398.6 192.9,398.6 192.4,398.6 191.9,398.6 191.4,398.6 190.9,398.5 190.4,398.4 189.9,398.3 189.5,398.2 189.1,398.1 188.7,398 188.3,397.9 187.9,397.8 187.6,397.7 187.3,397.7 186.9,397.6 186.6,397.6 186.2,397.7 185.9,397.7 185.5,397.7 185.1,397.8 184.6,397.8 184.2,397.8 183.7,397.8 183.2,397.8 182.7,397.7 182.3,397.7 181.8,397.6 181.4,397.5 181,397.4 180.6,397.3 180.2,397.2 179.9,397.1 179.6,397 179.3,397 178.9,397 178.6,397 178.3,397 177.9,397 177.5,397.1 177.1,397.1 176.6,397.2 176.2,397.2 175.7,397.2 175.2,397.2 174.7,397.1 174.3,397.1 173.8,397 173.4,396.9 172.9,396.8 172.5,396.7 172.2,396.6 171.8,396.5 171.5,396.5 171.1,396.4 170.8,396.4 170.4,396.4 170,396.5 169.6,396.5 169.2,396.6 168.7,396.7 168.3,396.7 167.8,396.8 167.3,396.8 166.7,396.8 166.2,396.7 165.7,396.7 165.2,396.6 164.7,396.6 164.2,396.5 163.8,396.4 163.3,396.4 162.9,396.3 162.5,396.3 162.1,396.3 161.7,396.3 161.3,396.4 160.9,396.5 160.4,396.6 159.9,396.7 159.4,396.8 158.8,396.9 158.3,397 157.7,397.1 157.1,397.1 156.5,397.2 155.9,397.2 155.3,397.2 154.7,397.2 154.2,397.2 153.7,397.2 153.1,397.2 152.7,397.2 152.2,397.3 151.7,397.4 151.2,397.5 150.7,397.7 150.2,397.9 149.6,398.1 149.1,398.3 148.4,398.5 147.8,398.7 147.2,398.9 146.5,399.1 145.8,399.3 145.2,399.5 144.5,399.7 143.8,399.8 143.2,400 142.6,400.1 142,400.3 141.4,400.5 140.9,400.7 140.3,400.9 139.8,401.2 139.2,401.5 138.7,401.9 138.1,402.2 137.5,402.6 136.9,403.1 136.3,403.5 135.7,403.9 135,404.4 134.3,404.8 133.6,405.2 133,405.6 132.3,406 131.6,406.4 131,406.8 130.4,407.2 129.9,407.6 129.3,408.1 128.8,408.5 128.3,409 127.9,409.6 127.4,410.2 126.9,410.8 126.4,411.4 125.9,412.1 125.4,412.8 124.9,413.5 124.4,414.2 123.8,414.9 123.3,415.6 122.7,416.3 122.2,417 121.7,417.6 121.2,418.3 120.8,419 120.4,419.6 120,420.3 119.7,421 119.4,421.7 119.1,422.5 118.8,423.3 118.6,424.1 118.4,425 118.1,425.9 117.9,426.8 117.7,427.7 117.4,428.6 117.2,429.6 116.9,430.5 116.7,431.4 116.4,432.3 116.2,433.1 116,434 115.9,434.8 115.8,435.7 115.7,436.5 115.7,437.3 115.7,438.2 115.7,439.1 115.8,440 115.9,440.9 116.1,441.8 116.2,442.8 116.3,443.8 116.5,444.8 116.6,445.8 116.8,446.8 116.9,447.8 117,448.7 117.2,449.7 117.3,450.6 117.5,451.5 117.7,452.4 118,453.2 118.3,454 118.6,454.8 119,455.6 119.4,456.4 119.8,457.3 120.3,458.1 120.8,458.9 121.3,459.8 121.9,460.7 122.4,461.6 122.9,462.5 123.5,463.3 124,464.2 124.5,465.1 125,465.9 125.5,466.7 126,467.4 126.6,468.1 127.1,468.8 127.7,469.5 128.4,470.1 129,470.7 129.7,471.3 130.5,471.9 131.2,472.5 132,473.1 132.9,473.7 133.7,474.3 134.5,474.9 135.3,475.5 136.1,476.1 136.9,476.7 137.7,477.3 138.5,477.8 139.3,478.4 140,478.8 140.8,479.3 141.5,479.7 142.3,480 143.1,480.4 144,480.7 144.8,480.9 145.7,481.2 146.6,481.4 147.6,481.6 148.5,481.9 149.5,482.1 150.5,482.4 151.4,482.6 152.4,482.9 153.3,483.1 154.2,483.3 155.1,483.5 155.9,483.7 156.8,483.8 157.6,483.9 158.4,484 159.2,484 160.1,484 160.9,483.9 161.8,483.8 162.6,483.7 163.5,483.6 164.4,483.4 165.4,483.3 166.3,483.1 167.2,483 168.2,482.9 169.1,482.7 169.9,482.6 170.8,482.5 171.6,482.3 172.4,482.2 173.2,482 173.9,481.8 174.6,481.5 175.3,481.3 176,480.9 176.7,480.6 177.4,480.2 178.1,479.8 178.8,479.3 179.5,478.9 180.3,478.5 181,478 181.7,477.6 182.5,477.2 183.2,476.8 183.9,476.4 184.6,476.1 185.3,475.7 185.9,475.4 186.5,475 187,474.6 187.5,474.2 188,473.8 188.5,473.3 189,472.8 189.4,472.3 189.9,471.8 190.4,471.2 190.9,470.7 191.4,470.1 191.9,469.6 192.5,469 193,468.5 193.6,468 194.1,467.5 194.6,467.1 195.1,466.7 195.6,466.3 196,465.9 196.4,465.4 196.8,465 197.1,464.6 197.4,464.1 197.7,463.7 198.1,463.2 198.4,462.6 198.7,462.1 199,461.6 199.4,461 199.8,460.5 200.2,459.9 200.6,459.4 201.1,458.9 201.5,458.4 201.9,458 202.3,457.6 202.7,457.2 203.1,456.8 203.5,456.4 203.8,456 204.1,455.6 204.4,455.2 204.6,454.8 204.9,454.3 205.2,453.9 205.4,453.4 205.7,452.8 206,452.3 206.4,451.8 206.7,451.3 207.1,450.7 207.5,450.2 207.9,449.7 208.3,449.3 208.7,448.8 209.1,448.4 209.5,448 209.9,447.6 210.3,447.2 210.6,446.8 210.9,446.4 211.2,446 211.4,445.6 211.7,445.1 212,444.6 212.2,444.1 212.5,443.5 212.8,442.9 213.2,442.4 213.5,441.8 213.9,441.2 214.3,440.7 214.7,440.1 215.1,439.6 215.6,439.1 216,438.6 216.3,438.2 216.7,437.7 217,437.2 217.3,436.8 217.6,436.3 217.9,435.8 218.1,435.3 218.4,434.7 218.6,434.1 218.9,433.5 219.1,432.9 219.4,432.2 219.7,431.5 220,430.9 220.3,430.2 220.7,429.6 221,428.9 221.4,428.3 221.7,427.7 222.1,427.1 222.4,426.6 222.7,426 222.9,425.5 223.1,424.9 223.3,424.3 223.5,423.7 223.6,423.1 223.8,422.5 223.9,421.8 224.1,421.1 224.2,420.4 224.3,419.6 224.5,418.9 224.7,418.2 224.9,417.4 225.1,416.7 225.3,416 225.5,415.3 225.7,414.6 225.9,414 226.1,413.4 226.2,412.8 226.3,412.2 226.4,411.5 226.4,410.9 226.4,410.3 226.3,409.6 226.3,408.9 226.3,408.2 226.2,407.5 226.2,406.8 226.1,406 226.1,405.3 226.1,404.5 226.1,403.8 226.1,403 226.2,402.3 226.2,401.6 226.2,401 226.1,400.4 226.1,399.8 226,399.2 225.9,398.6 225.7,398 225.6,397.5 225.3,396.9 225.1,396.2 224.9,395.6 224.6,395 224.3,394.3 224.1,393.6 223.8,392.9 223.6,392.3 223.4,391.6 223.2,390.9 223,390.3 222.8,389.7 222.6,389.1 222.4,388.6 222.2,388 221.9,387.6 221.7,387.1 221.3,386.6 221,386.2 220.6,385.7 220.2,385.3 219.8,384.8 219.3,384.3 218.9,383.8 218.5,383.3 218,382.7 217.6,382.2 217.2,381.7 216.8,381.2 216.4,380.7 216.1,380.2 215.7,379.7 215.3,379.3 215,379 214.6,378.6 214.2,378.3 213.7,378 213.3,377.7 212.8,377.5 212.3,377.2 211.7,376.9 211.1,376.6 210.6,376.3 210,376 209.4,375.7 208.9,375.4 208.3,375 207.8,374.7 207.3,374.4 206.8,374.1 206.3,373.8 205.9,373.6 205.4,373.4 204.9,373.2 204.5,373.1 204,372.9 203.4,372.9 202.9,372.8 202.3,372.7 201.7,372.6 201.1,372.6 200.5,372.5 199.8,372.4 199.2,372.3 198.6,372.2 198,372 197.4,371.9 196.8,371.7 196.2,371.6 195.7,371.5 195.2,371.5 194.7,371.4 194.2,371.4 193.7,371.4 193.2,371.5 192.7,371.5 192.2,371.6 191.6,371.8 191,371.9 190.4,372 189.8,372.1 189.2,372.2 188.5,372.3 187.9,372.3 187.3,372.4 186.7,372.4 186.1,372.4 185.5,372.5 185,372.5 184.5,372.6 184,372.7 183.5,372.8 183.1,372.9 182.6,373.1 182.1,373.3 181.6,373.5 181.1,373.8 180.6,374 180,374.3 179.5,374.6 178.9,374.8 178.3,375 177.7,375.2 177.1,375.4 176.5,375.6 176,375.7 175.5,375.9 175,376.1 174.5,376.2 174,376.4 173.6,376.6 173.2,376.8 172.8,377 172.4,377.3 172,377.6 171.5,377.9 171.1,378.3 170.6,378.6 170.1,379 169.6,379.3 169.1,379.6 168.6,379.9 168,380.2 167.5,380.5 167,380.7 166.5,380.9 166.1,381.1 165.6,381.3 165.2,381.6 164.8,381.8 164.5,382 164.1,382.3 163.8,382.6 163.4,382.9 163.1,383.2 162.7,383.6 162.3,384 161.9,384.4 161.5,384.7 161.1,385.1 160.6,385.4 160.1,385.8 159.7,386.1 159.2,386.3 158.7,386.6 158.3,386.8 157.9,387.1 157.5,387.3 157.1,387.5 156.8,387.7 156.5,388 156.2,388.2 155.9,388.5 155.6,388.9 155.3,389.2 154.9,389.5 154.6,389.9 154.2,390.3 153.8,390.6 153.4,391 153,391.3 152.5,391.6 152.1,391.9 151.7,392.2 151.2,392.4 150.8,392.7 150.4,392.9 150,393.1 149.7,393.3 149.3,393.5 149,393.7 148.7,394 148.4,394.3 148.1,394.6 147.8,394.9 147.5,395.2 147.1,395.6 146.8,395.9 146.4,396.3 145.9,396.6 145.5,397 145,397.3 144.5,397.6 144.1,397.8 143.6,398.1 143.2,398.3 142.8,398.5 142.3,398.7 142,398.9 141.6,399.2 141.3,399.4 140.9,399.7 140.6,400 140.3,400.3 139.9,400.7 139.5,401 139.1,401.4 138.7,401.8 138.3,402.2 137.8,402.6 137.3,403 136.8,403.3 136.3,403.7 135.8,404 135.3,404.3 134.8,404.6 134.3,404.9 133.9,405.2 133.5,405.4 133.1,405.8 132.7,406.1 132.3,406.5 132,406.8 131.6,407.3 131.2,407.7 130.8,408.2 130.4,408.7 130,409.2 129.5,409.7 129,410.2 128.5,410.8 128,411.2 127.5,411.7 127,412.2 126.5,412.6 126,413.1 125.6,413.5 125.1,414 124.8,414.4 124.4,414.9 124,415.4 123.7,415.9 123.4,416.5 123.1,417.1 122.7,417.7 122.4,418.4 122,419.1 121.7,419.8 121.3,420.5 120.9,421.2 120.5,421.9 120.1,422.5 119.7,423.2 119.3,423.9 118.9,424.5 118.5,425.1 118.2,425.8 117.9,426.4 117.7,427.1 117.5,427.7 117.3,428.4 117.1,429.1 117,429.9 116.8,430.7 116.7,431.5 116.5,432.4 116.4,433.2 116.2,434.1 116.1,435 115.9,435.9 115.7,436.7 115.5,437.6 115.4,438.4 115.2,439.2 115.1,440 115,440.8 115,441.6 115,442.4 115,443.1 115.1,443.9 115.2,444.8 115.3,445.6 115.5,446.5 115.6,447.4 115.8,448.3 116,449.2 116.2,450.2 116.4,451.1 116.5,452.1 116.7,453 116.9,453.9 117,454.8 117.2,455.7 117.4,456.6 117.7,457.4 117.9,458.2 118.3,459 118.6,459.7 119,460.5 119.5,461.3 119.9,462.1 120.4,462.9 121,463.7 121.5,464.5 122.1,465.4 122.6,466.2 123.2,467.1 123.7,467.9 124.3,468.8 124.8,469.6 125.3,470.4 125.9,471.1 126.4,471.9 127,472.6 127.6,473.2 128.2,473.8 128.9,474.4 129.6,475 130.3,475.6 131.1,476.1 131.9,476.7 132.7,477.3 133.6,477.9 134.5,478.4 135.3,479 136.2,479.6 137,480.2 137.9,480.8 138.7,481.3 139.5,481.9 140.3,482.4 141.1,482.8 141.9,483.2 142.7,483.6 143.6,483.9 144.4,484.2 145.3,484.4 146.3,484.6 147.2,484.8 148.2,485 149.2,485.2 150.2,485.4 151.2,485.6 152.3,485.8 153.3,486 154.3,486.2 155.3,486.4 156.2,486.5 157.2,486.7 158.1,486.8 159,486.8 159.9,486.9 160.7,486.8 161.6,486.8 162.5,486.6 163.4,486.5 164.3,486.3 165.2,486.1 166.2,485.8 167.2,485.6 168.1,485.3 169.1,485.1 170.1,484.8 171.1,484.6 172,484.3 172.9,484.1 173.8,483.8 174.7,483.6 175.5,483.3 176.3,483 177,482.6 177.7,482.2 178.5,481.8 179.2,481.3 179.9,480.8 180.6,480.2 181.3,479.7 182,479.1 182.7,478.5 183.4,477.9 184.2,477.3 184.9,476.7 185.6,476.1 186.3,475.5 187,475 187.6,474.4 188.2,473.9 188.7,473.4 189.3,472.8 189.7,472.2 190.2,471.6 190.6,471 191,470.4 191.4,469.7 191.7,469 192.1,468.2 192.5,467.5 192.9,466.8 193.3,466 193.7,465.3 194.1,464.6 194.5,463.9 194.9,463.2 195.3,462.6 195.6,462 195.9,461.4 196.2,460.8 196.5,460.2 196.7,459.6 196.9,459 197,458.4 197.1,457.8 197.2,457.2 197.4,456.5 197.5,455.9 197.6,455.2 197.7,454.5 197.8,453.8 198,453.1 198.2,452.5 198.4,451.8 198.6,451.2 198.8,450.6 198.9,450.1 199.1,449.6 199.2,449.1 199.3,448.6 199.4,448.1 199.5,447.6 199.5,447.2 199.5,446.7 199.5,446.2 199.5,445.6 199.5,445.1 199.5,444.6 199.5,444 199.6,443.4 199.6,442.8 199.7,442.3 199.8,441.7 200,441.2 200.1,440.7 200.2,440.2 200.4,439.8 200.5,439.3 200.6,438.9 200.7,438.5 200.8,438.2 200.8,437.8 200.9,437.4 200.9,437 200.9,436.5 200.9,436.1 200.9,435.6 200.9,435.1 200.9,434.6 201,434 201.1,433.5 201.2,433 201.3,432.5 201.5,432 201.6,431.5 201.8,431 202,430.6 202.1,430.2 202.3,429.7 202.4,429.3 202.5,429 202.6,428.5 202.6,428.1 202.7,427.7 202.7,427.2 202.7,426.7 202.7,426.2 202.8,425.7 202.8,425.1 202.9,424.5 203,423.9 203.1,423.3 203.2,422.8 203.4,422.2 203.5,421.6 203.7,421.1 203.9,420.6 204,420.1 204.1,419.6 204.2,419.1 204.3,418.6 204.3,418.2 204.3,417.7 204.3,417.1 204.3,416.6 204.3,416 204.2,415.4 204.2,414.8 204.2,414.1 204.2,413.4 204.2,412.8 204.2,412.1 204.3,411.4 204.3,410.8 204.4,410.1 204.4,409.5 204.5,408.9 204.5,408.4 204.5,407.8 204.5,407.3 204.4,406.7 204.3,406.2 204.2,405.6 204,405 203.8,404.4 203.7,403.8 203.5,403.2 203.3,402.5 203.1,401.8 202.9,401.1 202.8,400.4 202.6,399.7 202.5,399 202.4,398.4 202.3,397.8 202.1,397.1 202,396.6 201.9,396 201.7,395.5 201.5,395 201.2,394.4 200.9,393.9 200.6,393.4 200.3,392.9 199.9,392.3 199.5,391.8 199.1,391.2 198.8,390.6 198.4,390 198,389.4 197.7,388.8 197.4,388.2 197.1,387.6 196.7,387 196.4,386.5 196.1,386 195.8,385.5 195.5,385.1 195.1,384.7 194.7,384.3 194.3,383.9 193.9,383.6 193.4,383.2 192.9,382.8 192.4,382.4 191.8,382 191.3,381.6 190.8,381.2 190.2,380.7 189.7,380.3 189.3,379.9 188.8,379.5 188.4,379.1 187.9,378.7 187.5,378.4 187.1,378.1 186.6,377.8 186.2,377.6 185.7,377.4 185.2,377.2 184.7,377 184.2,376.9 183.6,376.7 183,376.6 182.4,376.4 181.8,376.2 181.2,376 180.6,375.8 180,375.6 179.4,375.4 178.9,375.2 178.4,375 177.9,374.9 177.4,374.7 177,374.6 176.5,374.6 176,374.5 175.6,374.5 175.1,374.6 174.6,374.6 174,374.7 173.5,374.8 172.9,374.8 172.3,374.9 171.7,375 171.1,375 170.5,375 169.9,375.1 169.4,375.1 168.9,375.1 168.4,375.1 167.9,375.2 167.4,375.2 167,375.3 166.6,375.4 166.2,375.6 165.8,375.8 165.3,376 164.9,376.2 164.5,376.5 164,376.8 163.5,377 163,377.3 162.5,377.6 162,377.8 161.5,378.1 161,378.3 160.5,378.5 160,378.7 159.6,378.9 159.1,379.1 158.8,379.3 158.4,379.6 158.1,379.8 157.8,380.1 157.5,380.4 157.2,380.8 156.8,381.1 156.5,381.5 156.2,382 155.8,382.4 155.5,382.8 155.1,383.2 154.7,383.6 154.3,384 153.9,384.4 153.5,384.7 153.1,385 152.8,385.4 152.5,385.7 152.2,386 151.9,386.3 151.7,386.6 151.5,387 151.3,387.4 151.1,387.8 150.9,388.2 150.7,388.6 150.5,389.1 150.3,389.6 150.1,390.1 149.9,390.6 149.6,391.1 149.3,391.5 149,392 148.7,392.4 148.5,392.8 148.2,393.1 148,393.5 147.8,393.8 147.6,394.2 147.5,394.5 147.3,394.8 147.2,395.2 147.1,395.6 147.1,396 147,396.5 146.9,396.9 146.8,397.4 146.7,397.9 146.5,398.3 146.4,398.8 146.2,399.3 146,399.7 145.8,400.1 145.6,400.5 145.4,400.9 145.2,401.2 145,401.6 144.9,401.9 144.8,402.2 144.7,402.5 144.6,402.8 144.6,403.1 144.5,403.4 144.5,403.8 144.5,404.2 144.4,404.6 144.4,405 144.3,405.4 144.2,405.9 144,406.3 143.9,406.7 143.7,407.1 143.5,407.4 143.3,407.8 143.1,408.1 142.9,408.3 142.8,408.6 142.6,408.9 142.5,409.1 142.4,409.3 142.4,409.6 142.3,409.8 142.2,410.1 142.2,410.4 142.1,410.8 142.1,411.1 142,411.5 141.8,411.8 141.7,412.2 141.5,412.6 141.3,412.9 141.1,413.2 140.9,413.5 140.6,413.8 140.4,414.1 140.2,414.3 139.9,414.5 139.7,414.7 139.6,414.9 139.4,415.1 139.3,415.4 139.1,415.6 139,415.8 138.9,416.1 138.8,416.4 138.6,416.7 138.4,417.1 138.2,417.4 138,417.8 137.8,418.2 137.5,418.5 137.2,418.8 136.9,419.1 136.5,419.4 136.2,419.7 135.9,420 135.6,420.2 135.3,420.4 135.1,420.6 134.8,420.9 134.6,421.1 134.4,421.4 134.2,421.7 134,422 133.8,422.4 133.5,422.8 133.3,423.2 133,423.6 132.7,424 132.4,424.5 132,424.9 131.7,425.3 131.3,425.7 130.9,426.1 130.5,426.4 130.2,426.8 129.8,427.1 129.5,427.5 129.2,427.8 128.9,428.2 128.6,428.5 128.4,428.9 128.1,429.4 127.9,429.8 127.7,430.3 127.4,430.8 127.2,431.4 126.9,432 126.6,432.5 126.3,433.1 126,433.7 125.6,434.3 125.2,434.8 124.9,435.4 124.5,435.9 124.2,436.4 123.9,436.9 123.6,437.4 123.4,437.9 123.2,438.5 123,439 122.8,439.6 122.7,440.2 122.5,440.8 122.4,441.5 122.3,442.2 122.1,442.9 122,443.7 121.8,444.4 121.6,445.2 121.4,446 121.2,446.7 121,447.4 120.8,448.2 120.7,448.9 120.5,449.5 120.4,450.2 120.3,450.9 120.3,451.6 120.2,452.3 120.3,453 120.3,453.7 120.4,454.4 120.5,455.2 120.6,456 120.7,456.9 120.9,457.7 121,458.6 121.1,459.5 121.2,460.4 121.2,461.2 121.3,462.1 121.4,462.9 121.5,463.7 121.7,464.5 121.8,465.3 122,466 122.3,466.7 122.5,467.5 122.9,468.2 123.2,469 123.6,469.7 124,470.5 124.5,471.3 124.9,472.1 125.4,473 125.9,473.8 126.3,474.7 126.8,475.5 127.3,476.4 127.7,477.2 128.2,478 128.6,478.8 129.1,479.5 129.6,480.2 130.1,480.9 130.7,481.5 131.3,482.1 131.9,482.7 132.6,483.4 133.4,484 134.1,484.6 134.9,485.2 135.7,485.8 136.5,486.5 137.4,487.1 138.2,487.8 139,488.4 139.8,489.1 140.6,489.7 141.4,490.3 142.2,490.8 143,491.3 143.7,491.8 144.6,492.2 145.4,492.6 146.3,493 147.2,493.3 148.1,493.6 149.1,493.9 150.1,494.2 151.1,494.5 152.2,494.7 153.2,495 154.3,495.3 155.4,495.6 156.4,495.9 157.5,496.2 158.5,496.4 159.5,496.6 160.4,496.8 161.4,497 162.4,497.1 163.3,497.2 164.3,497.2 165.3,497.1 166.3,497.1 167.3,497 168.4,496.8 169.4,496.7 170.5,496.5 171.6,496.4 172.8,496.2 173.9,496 175,495.9 176.1,495.7 177.1,495.5 178.2,495.4 179.2,495.2 180.2,494.9 181.1,494.7 182,494.4 182.9,494 183.8,493.6 184.7,493.2 185.6,492.7 186.5,492.2 187.4,491.6 188.4,491 189.3,490.5 190.2,489.9 191.2,489.3 192.1,488.7 193.1,488.1 194,487.5 194.9,487 195.7,486.4 196.5,485.8 197.3,485.2 198,484.6 198.7,484 199.4,483.3 200,482.6 200.7,481.9 201.3,481.1 201.9,480.3 202.5,479.5 203.1,478.6 203.7,477.7 204.3,476.9 204.9,476 205.5,475.2 206.1,474.3 206.7,473.5 207.3,472.7 207.9,471.9 208.4,471.1 208.8,470.4 209.3,469.6 209.7,468.8 210,468 210.3,467.2 210.6,466.4 210.9,465.5 211.1,464.6 211.4,463.7 211.6,462.8 211.9,461.8 212.2,460.9 212.5,460 212.8,459 213,458.1 213.3,457.3 213.6,456.4 213.9,455.6 214.1,454.8 214.3,454 214.5,453.2 214.6,452.5 214.7,451.7 214.8,451 214.8,450.2 214.8,449.4 214.8,448.6 214.8,447.7 214.8,446.9 214.8,446 214.9,445.1 214.9,444.2 214.9,443.4 215,442.5 215.1,441.7 215.2,440.9 215.3,440.1 215.3,439.4 215.4,438.7 215.4,438 215.4,437.3 215.3,436.6 215.3,436 215.2,435.3 215.1,434.6 214.9,433.9 214.8,433.1 214.7,432.4 214.6,431.6 214.4,430.8 214.3,430 214.3,429.2 214.2,428.4 214.2,427.6 214.2,426.9 214.1,426.1 214.1,425.4 214.1,424.7 214,424.1 214,423.4 213.9,422.8 213.8,422.2 213.6,421.5 213.4,420.9 213.2,420.2 213,419.5 212.8,418.8 212.6,418.1 212.4,417.3 212.2,416.6 212,415.8 211.9,415 211.7,414.2 211.6,413.4 211.5,412.7 211.4,412 211.3,411.2 211.2,410.6 211,409.9 210.8,409.3 210.7,408.6 210.4,408 210.2,407.3 209.9,406.7 209.6,406 209.2,405.3 208.9,404.6 208.6,403.9 208.2,403.1 207.9,402.3 207.6,401.5 207.3,400.7 207,400 206.7,399.2 206.5,398.4 206.2,397.7 205.9,397 205.7,396.3 205.4,395.7 205,395.1 204.7,394.4 204.3,393.8 203.8,393.2 203.3,392.6 202.9,391.9 202.3,391.3 201.8,390.6 201.3,389.9 200.7,389.2 200.2,388.5 199.7,387.8 199.2,387 198.7,386.3 198.3,385.6 197.8,385 197.3,384.3 196.9,383.7 196.4,383.2 195.9,382.6 195.3,382.1 194.7,381.6 194.1,381.1 193.5,380.6 192.8,380.2 192.1,379.7 191.4,379.2 190.7,378.6 190,378.1 189.3,377.6 188.6,377 187.9,376.5 187.2,375.9 186.5,375.4 185.9,374.9 185.2,374.4 184.6,374 184,373.6 183.3,373.2 182.6,372.9 181.9,372.6 181.2,372.3 180.5,372.1 179.7,371.8 178.9,371.6 178.1,371.3 177.2,371 176.4,370.8 175.6,370.5 174.7,370.2 173.9,369.9 173.1,369.6 172.3,369.3 171.6,369 170.9,368.8 170.2,368.6 169.5,368.4 168.7,368.3 168,368.2 167.3,368.1 166.6,368.1 165.8,368.1 165,368.1 164.2,368.1 163.4,368.2 162.6,368.2 161.7,368.2 160.9,368.2 160,368.2 159.2,368.2 158.4,368.1 157.6,368.1 156.9,368.1 156.2,368.1 155.5,368.2 154.8,368.2 154.1,368.4 153.5,368.5 152.8,368.7 152.2,368.9 151.5,369.1 150.8,369.4 150.1,369.7 149.4,370 148.7,370.3 147.9,370.6 147.2,370.8 146.5,371.1 145.7,371.4 145,371.6 144.4,371.8 143.7,372.1 143.1,372.3 142.5,372.6 142,372.9 141.5,373.2 141,373.5 140.5,373.9 140,374.3 139.5,374.8 139,375.2 138.5,375.7 138,376.2 137.4,376.7 136.9,377.2 136.3,377.7 135.8,378.2 135.3,378.7 134.7,379.1 134.2,379.5 133.8,380 133.3,380.4 132.9,380.8 132.6,381.2 132.3,381.7 132,382.2 131.7,382.7 131.4,383.2 131.1,383.8 130.9,384.4 130.6,385 130.3,385.6 130.1,386.2 129.7,386.9 129.4,387.5 129.1,388.1 128.8,388.7 128.5,389.2 128.2,389.8 128,390.3 127.7,390.8 127.5,391.3 127.4,391.8 127.2,392.3 127.1,392.8 127.1,393.4 127,394 127,394.5 126.9,395.2 126.9,395.8 126.9,396.4 126.8,397.1 126.8,397.8 126.7,398.4 126.6,399 126.5,399.7 126.4,400.3 126.3,400.8 126.2,401.4 126.2,401.9 126.1,402.4 126.1,402.9 126.2,403.4 126.2,403.9 126.3,404.3 126.4,404.9 126.6,405.4 126.7,405.9 126.9,406.5 127,407.1 127.1,407.7 127.2,408.3 127.3,408.9 127.4,409.5 127.5,410.1 127.5,410.7 127.6,411.2 127.6,411.7 127.7,412.2 127.8,412.6 127.9,413 128,413.5 128.1,413.9 128.3,414.3 128.5,414.7 128.8,415.1 129,415.6 129.2,416 129.5,416.5 129.7,417 129.9,417.5 130.1,418 130.3,418.5 130.4,419 130.6,419.5 130.7,420 130.8,420.4 130.9,420.8 131,421.2 131.1,421.5 131.2,421.9 131.4,422.2 131.6,422.5 131.8,422.8 132,423.1 132.3,423.4 132.5,423.8 132.8,424.2 133,424.5 133.2,425 133.4,425.4 133.6,425.8 133.8,426.2 133.9,426.6 134,427 134.1,427.4 134.2,427.7 134.3,428.1 134.3,428.3 134.4,428.6 134.5,428.9 134.6,429.1 134.8,429.3 134.9,429.6 135.1,429.8 135.3,430.1 135.5,430.4 135.7,430.7 135.8,431 136,431.3 136.1,431.7 136.3,432.1 136.3,432.4 136.4,432.8 136.4,433.1 136.4,433.5 136.4,433.8 136.4,434.1 136.4,434.3 136.4,434.6 136.4,434.8 136.5,435 136.5,435.2 136.6,435.4 136.7,435.7 136.8,435.9 136.9,436.2 137,436.5 137.1,436.8 137.2,437.2 137.2,437.5 137.2,437.9 137.2,438.3 137.2,438.7 137.2,439 137.1,439.4 137,439.7 136.9,440 136.8,440.3 136.8,440.6 136.7,440.9 136.7,441.1 136.6,441.4 136.6,441.6 136.7,441.9 136.7,442.2 136.7,442.6 136.8,442.9 136.8,443.3 136.8,443.7 136.8,444.2 136.8,444.6 136.8,445.1 136.7,445.5 136.6,446 136.5,446.4 136.4,446.8 136.3,447.2 136.2,447.6 136.1,448 136,448.3 136,448.7 135.9,449 135.9,449.4 136,449.7 136,450.1 136.1,450.6 136.1,451 136.2,451.5 136.2,452 136.3,452.6 136.3,453.1 136.3,453.7 136.3,454.3 136.2,454.8 136.2,455.3 136.1,455.9 136.1,456.3 136.1,456.8 136,457.3 136.1,457.7 136.1,458.2 136.2,458.6 136.3,459.1 136.4,459.6 136.6,460 136.7,460.6 136.9,461.1 137.1,461.7 137.3,462.3 137.5,462.9 137.6,463.5 137.8,464.2 137.9,464.8 138,465.4 138.2,466 138.3,466.6 138.4,467.1 138.6,467.6 138.7,468.1 138.9,468.6 139.2,469.1 139.4,469.6 139.7,470.1 140.1,470.6 140.4,471.1 140.8,471.6 141.2,472.2 141.6,472.7 142,473.3 142.5,473.9 142.8,474.5 143.2,475.1 143.6,475.7 143.9,476.3 144.3,476.8 144.7,477.4 145,477.9 145.4,478.3 145.8,478.8 146.3,479.2 146.8,479.6 147.3,479.9 147.8,480.3 148.4,480.7 149,481.1 149.7,481.5 150.3,481.9 151,482.4 151.6,482.8 152.3,483.3 152.9,483.7 153.5,484.2 154.1,484.6 154.7,485 155.3,485.3 155.9,485.7 156.5,486 157.1,486.2 157.8,486.4 158.4,486.6 159.1,486.8 159.9,486.9 160.6,487.1 161.4,487.2 162.2,487.3 163.1,487.5 163.9,487.6 164.7,487.8 165.6,488 166.4,488.1 167.2,488.3 167.9,488.4 168.7,488.5 169.4,488.6 170.2,488.7 170.9,488.7 171.6,488.6 172.3,488.6 173.1,488.5 173.8,488.3 174.6,488.1 175.4,487.9 176.2,487.7 177.1,487.5 178,487.3 178.8,487.1 179.7,486.9 180.6,486.7 181.4,486.5 182.2,486.3 183,486.1 183.8,485.8 184.5,485.6 185.2,485.3 185.9,485 186.6,484.6 187.2,484.2 187.9,483.8 188.5,483.3 189.2,482.8 189.9,482.3 190.6,481.7 191.3,481.2 192,480.6 192.7,480 193.5,479.5 194.2,478.9 194.9,478.4 195.5,477.9 196.2,477.4 196.8,476.8 197.3,476.3 197.9,475.7 198.3,475.2 198.8,474.6 199.2,473.9 199.7,473.2 200.1,472.5 200.5,471.8 200.9,471 201.3,470.2 201.7,469.4 202.2,468.7 202.6,467.9 203.1,467.1 203.5,466.4 203.9,465.6 204.3,464.9 204.7,464.2 205,463.5 205.3,462.8 205.6,462.2 205.8,461.5 205.9,460.8 206.1,460 206.2,459.3 206.3,458.5 206.4,457.7 206.5,456.9 206.6,456.1 206.7,455.2 206.9,454.4 207,453.6 207.1,452.8 207.3,452 207.4,451.2 207.5,450.5 207.6,449.8 207.7,449.1 207.8,448.4 207.8,447.8 207.8,447.1 207.7,446.5 207.6,445.8 207.5,445.1 207.4,444.5 207.2,443.8 207.1,443 207,442.3 206.8,441.6 206.7,440.8 206.6,440.1 206.6,439.3 206.5,438.6 206.4,437.9 206.4,437.3 206.3,436.7 206.3,436.1 206.2,435.5 206.1,435 206,434.4 205.8,433.9 205.6,433.4 205.4,432.8 205.2,432.3 204.9,431.7 204.7,431.1 204.4,430.5 204.2,429.9 204,429.3 203.8,428.7 203.6,428 203.5,427.4 203.3,426.8 203.2,426.2 203.1,425.7 203,425.1 202.9,424.6 202.7,424.2 202.6,423.7 202.4,423.2 202.2,422.8 202,422.3 201.8,421.9 201.5,421.4 201.2,420.9 200.9,420.3 200.7,419.8 200.4,419.2 200.2,418.6 200,418 199.8,417.4 199.6,416.8 199.4,416.2 199.3,415.7 199.2,415.1 199,414.6 198.9,414.1 198.7,413.6 198.5,413.2 198.3,412.7 198.1,412.3 197.8,411.8 197.5,411.3 197.2,410.8 196.9,410.3 196.5,409.7 196.2,409.1 195.9,408.6 195.6,407.9 195.3,407.3 195,406.7 194.7,406.1 194.5,405.5 194.2,404.9 194,404.3 193.7,403.8 193.5,403.2 193.2,402.7 192.9,402.3 192.5,401.8 192.1,401.3 191.7,400.9 191.3,400.4 190.8,399.9 190.3,399.4 189.8,398.8 189.3,398.3 188.8,397.7 188.3,397.1 187.8,396.5 187.3,395.9 186.9,395.3 186.4,394.8 186,394.3 185.6,393.8 185.1,393.3 184.6,392.9 184.2,392.4 183.6,392.1 183.1,391.7 182.5,391.3 181.9,391 181.2,390.6 180.6,390.2 179.9,389.8 179.2,389.4 178.5,389 177.8,388.6 177.1,388.2 176.4,387.7 175.8,387.3 175.1,386.9 174.5,386.5 173.9,386.2 173.3,385.9 172.7,385.6 172,385.4 171.4,385.1 170.7,385 170,384.8 169.3,384.6 168.5,384.5 167.7,384.3 166.9,384.2 166.1,384 165.3,383.8 164.5,383.6 163.6,383.4 162.8,383.2 162.1,383 161.3,382.8 160.6,382.7 159.9,382.5 159.1,382.4 158.5,382.3 157.8,382.3 157,382.3 156.3,382.3 155.6,382.4 154.8,382.4 154,382.5 153.2,382.6 152.4,382.7 151.5,382.8 150.7,382.9 149.8,383 149,383 148.2,383.1 147.3,383.1 146.6,383.2 145.8,383.2 145.1,383.3 144.4,383.4 143.7,383.6 143,383.8 142.3,384 141.7,384.2 141,384.5 140.3,384.8 139.6,385.1 138.8,385.5 138.1,385.8 137.3,386.2 136.5,386.5 135.8,386.9 135,387.2 134.2,387.5 133.5,387.8 132.8,388.1 132.1,388.4 131.5,388.7 130.9,389 130.3,389.4 129.8,389.7 129.2,390.1 128.7,390.6 128.2,391.1 127.6,391.6 127.1,392.1 126.6,392.7 126,393.2 125.4,393.8 124.8,394.3 124.3,394.9 123.7,395.4 123.1,395.9 122.6,396.4 122,396.9 121.5,397.4 121.1,397.9 120.7,398.4 120.3,398.8 119.9,399.4 119.6,399.9 119.3,400.5 119,401.1 118.7,401.7 118.4,402.3 118.1,403 117.8,403.7 117.5,404.4 117.2,405.1 116.9,405.7 116.5,406.4 116.2,407 115.9,407.6 115.6,408.2 115.3,408.8 115.1,409.3 114.9,409.9 114.7,410.4 114.6,411 114.5,411.6 114.5,412.1 114.4,412.8 114.4,413.4 114.4,414 114.3,414.7 114.3,415.4 114.3,416.1 114.2,416.8 114.1,417.5 114,418.2 114,418.8 113.9,419.4 113.8,420 113.8,420.6 113.7,421.2 113.7,421.7 113.8,422.2 113.9,422.7 114,423.2 114.1,423.8 114.3,424.3 114.4,424.8 114.6,425.4 114.8,426 115,426.6 115.2,427.3 115.3,427.9 115.5,428.5 115.6,429.1 115.7,429.7 115.8,430.3 115.9,430.8 116,431.3 116.2,431.8 116.3,432.3 116.5,432.7 116.7,433.1 116.9,433.5 117.1,433.9 117.4,434.3 117.7,434.8 118,435.2 118.4,435.7 118.7,436.2 119,436.7 119.3,437.2 119.6,437.7 119.8,438.2 120,438.7 120.3,439.2 120.5,439.7 120.7,440.1 120.8,440.5 121.1,440.9 121.3,441.2 121.5,441.5 121.8,441.8 122.1,442.1 122.4,442.4 122.7,442.7 123.1,443.1 123.4,443.4 123.8,443.8 124.2,444.2 124.5,444.6 124.8,445 125.1,445.4 125.4,445.8 125.6,446.2 125.9,446.6 126.1,447 126.3,447.3 126.5,447.6 126.7,447.9 126.9,448.1 127.2,448.4 127.4,448.6 127.7,448.8 128,449.1 128.3,449.3 128.6,449.6 129,449.8 129.3,450.1 129.7,450.5 130,450.8 130.3,451.2 130.5,451.5 130.8,451.9 131,452.2 131.2,452.6 131.3,452.9 131.5,453.2 131.6,453.5 131.8,453.7 132,454 132.2,454.2 132.4,454.4 132.6,454.6 132.9,454.8 133.1,455 133.4,455.3 133.7,455.5 134,455.8 134.3,456.2 134.5,456.5 134.8,456.9 135,457.2 135.2,457.6 135.3,458 135.5,458.3 135.6,458.7 135.7,459 135.8,459.3 135.9,459.5 136.1,459.8 136.2,460 136.4,460.3 136.6,460.5 136.8,460.8 137,461 137.3,461.3 137.5,461.6 137.8,462 138,462.3 138.2,462.7 138.5,463.1 138.7,463.6 138.8,464 139,464.4 139.1,464.8 139.2,465.2 139.3,465.6 139.4,465.9 139.5,466.3 139.6,466.6 139.8,466.9 140,467.2 140.2,467.5 140.4,467.8 140.6,468.1 140.9,468.5 141.2,468.9 141.4,469.3 141.7,469.7 142,470.2 142.2,470.6 142.5,471.1 142.7,471.6 142.9,472.1 143,472.6 143.2,473 143.3,473.4 143.5,473.9 143.7,474.2 143.9,474.6 144.1,475 144.3,475.3 144.6,475.7 144.9,476 145.3,476.4 145.6,476.8 146,477.2 146.3,477.7 146.7,478.1 147.1,478.6 147.4,479.1 147.8,479.7 148.1,480.2 148.4,480.7 148.7,481.2 149,481.6 149.2,482.1 149.5,482.5 149.8,482.9 150.2,483.3 150.5,483.6 150.9,484 151.3,484.3 151.8,484.7 152.3,485.1 152.8,485.4 153.3,485.8 153.8,486.3 154.3,486.7 154.9,487.2 155.4,487.6 155.9,488.1 156.4,488.6 156.8,489 157.3,489.4 157.7,489.9 158.2,490.2 158.6,490.6 159.1,490.9 159.6,491.2 160.2,491.5 160.7,491.7 161.3,492 161.9,492.2 162.6,492.5 163.3,492.8 164,493 164.7,493.3 165.4,493.7 166.1,494 166.7,494.3 167.4,494.6 168.1,495 168.7,495.3 169.3,495.5 170,495.8 170.6,496 171.2,496.2 171.8,496.3 172.5,496.4 173.2,496.5 173.9,496.6 174.7,496.6 175.4,496.6 176.2,496.7 177.1,496.7 177.9,496.8 178.7,496.9 179.6,497 180.4,497 181.2,497.1 182,497.2 182.8,497.3 183.6,497.3 184.3,497.3 185,497.3 185.7,497.3 186.5,497.1 187.2,497 187.9,496.8 188.7,496.6 189.5,496.4 190.3,496.1 191.2,495.9 192,495.6 192.9,495.4 193.8,495.1 194.7,494.9 195.5,494.6 196.4,494.4 197.2,494.2 198,493.9 198.8,493.7 199.5,493.4 200.3,493.1 201,492.7 201.7,492.3 202.4,491.9 203,491.4 203.7,490.9 204.4,490.3 205.2,489.7 205.9,489.1 206.7,488.6 207.4,488 208.2,487.4 209,486.8 209.7,486.2 210.5,485.6 211.2,485 211.9,484.5 212.5,483.9 213.2,483.3 213.7,482.7 214.3,482 214.8,481.4 215.3,480.7 215.8,479.9 216.3,479.1 216.7,478.3 217.2,477.4 217.7,476.6 218.2,475.7 218.7,474.8 219.2,474 219.7,473.1 220.2,472.2 220.7,471.4 221.2,470.6 221.6,469.8 222,469 222.4,468.1 222.7,467.3 223,466.5 223.2,465.7 223.4,464.8 223.6,463.9 223.7,463 223.9,462 224,461 224.2,460 224.3,459 224.5,458 224.6,457 224.8,456 225,455 225.1,454.1 225.3,453.2 225.4,452.3 225.5,451.4 225.5,450.5 225.5,449.6" fill="none" stroke="#0a200a" stroke-width="0.6" stroke-linejoin="round" stroke-opacity="0.7"/><polyline points="200,432.6 199.9,433.5 199.8,434.4 199.7,435.4 199.6,436.3 199.4,437.2 199.3,438.1 199.1,439 198.9,439.9 198.7,440.8 198.4,441.7 198.2,442.6 197.9,443.5 197.6,444.3 197.3,445.2 196.9,446.1 196.6,447 196.2,447.8 195.8,448.7 195.3,449.5 194.9,450.4 194.4,451.2 193.9,452 193.4,452.9 192.9,453.7 192.3,454.5 191.7,455.3 191.1,456.1 190.5,456.9 189.8,457.6 189.1,458.4 188.4,459.1 187.7,459.8 186.9,460.5 186.1,461.2 185.3,461.8 184.5,462.5 183.6,463.1 182.7,463.7 181.8,464.2 180.8,464.7 179.9,465.2 178.9,465.7 177.9,466.1 176.8,466.5 175.8,466.8 174.7,467.1 173.6,467.4 172.5,467.6 171.4,467.7 170.3,467.8 169.2,467.9 168.1,467.9 167,467.9 165.9,467.8 164.7,467.6 163.6,467.4 162.5,467.2 161.5,466.8 160.4,466.5 159.4,466.1 158.3,465.6 157.3,465.2 156.4,464.6 155.4,464 154.5,463.4 153.6,462.8 152.7,462.1 151.9,461.4 151.1,460.6 150.3,459.8 149.6,459 148.9,458.2 148.3,457.4 147.6,456.5 147,455.6 146.5,454.7 145.9,453.8 145.4,452.9 145,452 144.5,451 144.1,450.1 143.7,449.2 143.4,448.2 143.1,447.3 142.8,446.3 142.5,445.4 142.3,444.4 142.1,443.4 141.9,442.5 141.7,441.5 141.6,440.6 141.5,439.6 141.4,438.7 141.3,437.7 141.2,436.8 141.2,435.9 141.2,434.9 141.2,434 141.2,433.1 141.3,432.1 141.4,431.2 141.5,430.3 141.6,429.4 141.7,428.5 141.9,427.6 142,426.7 142.2,425.8 142.4,424.9 142.7,424 142.9,423.1 143.2,422.2 143.5,421.3 143.8,420.4 144.1,419.5 144.5,418.7 144.8,417.8 145.2,417 145.6,416.1 146.1,415.2 146.5,414.4 147,413.6 147.5,412.7 148,411.9 148.6,411.1 149.2,410.3 149.8,409.5 150.4,408.7 151,408 151.7,407.2 152.4,406.5 153.1,405.7 153.9,405 154.7,404.3 155.5,403.7 156.3,403 157.2,402.4 158.1,401.8 159,401.2 159.9,400.7 160.9,400.2 161.8,399.7 162.8,399.3 163.9,398.9 164.9,398.5 166,398.2 167,397.9 168.1,397.7 169.2,397.5 170.3,397.4 171.4,397.3 172.6,397.3 173.7,397.3 174.8,397.3 175.9,397.5 177,397.6 178.1,397.9 179.2,398.1 180.3,398.5 181.3,398.9 182.4,399.3 183.4,399.7 184.4,400.3 185.3,400.8 186.3,401.4 187.2,402.1 188.1,402.7 188.9,403.4 189.7,404.2 190.5,404.9 191.3,405.7 192,406.5 192.7,407.4 193.3,408.2 193.9,409.1 194.5,410 195,410.9 195.6,411.8 196,412.7 196.5,413.7 196.9,414.6 197.3,415.5 197.7,416.5 198,417.4 198.3,418.4 198.6,419.3 198.8,420.3 199.1,421.3 199.3,422.2 199.5,423.2 199.6,424.1 199.7,425.1 199.8,426 199.9,427 200,427.9 200,428.9 200,429.8 200,430.7 200,431.7 200,432.6" fill="none" stroke="#0a3a0a" stroke-width="0.8" stroke-linejoin="round" stroke-opacity="0.7"/><circle cx="153.1" cy="483.5" r="3.8" fill="#fff" stroke="#d04040" stroke-width="1"/><circle cx="184.4" cy="376.6" r="3.8" fill="#fff" stroke="#d04040" stroke-width="1"/><text x="126.8" y="487.4" font-size="16.5" fill="#cc2a2a">S1</text><text x="190.2" y="384.6" font-size="16.5" fill="#cc2a2a">S2</text><rect x="190.9" y="498.2" width="78.4" height="24.2" fill="#d6d6d6"/><text x="198.5" y="516.2" font-size="15.2" fill="#e4591f"><tspan font-style="italic">α</tspan> = 0.001</text><rect x="148.3" y="282.8" width="120" height="52.3" fill="#cdf8f8" stroke="#222" stroke-width="1.1"/><line x1="148.3" y1="335.1" x2="148.3" y2="331.1" stroke="#222" stroke-width="1.1"/><line x1="148.3" y1="282.8" x2="148.3" y2="286.8" stroke="#222" stroke-width="1.1"/><line x1="196.15" y1="335.1" x2="196.15" y2="331.1" stroke="#222" stroke-width="1.1"/><line x1="196.15" y1="282.8" x2="196.15" y2="286.8" stroke="#222" stroke-width="1.1"/><line x1="244" y1="335.1" x2="244" y2="331.1" stroke="#222" stroke-width="1.1"/><line x1="244" y1="282.8" x2="244" y2="286.8" stroke="#222" stroke-width="1.1"/><line x1="172.23" y1="335.1" x2="172.23" y2="332.6" stroke="#222" stroke-width="1.1"/><line x1="172.23" y1="282.8" x2="172.23" y2="285.3" stroke="#222" stroke-width="1.1"/><line x1="220.07" y1="335.1" x2="220.07" y2="332.6" stroke="#222" stroke-width="1.1"/><line x1="220.07" y1="282.8" x2="220.07" y2="285.3" stroke="#222" stroke-width="1.1"/><line x1="148.3" y1="327.6" x2="152.3" y2="327.6" stroke="#222" stroke-width="1.1"/><line x1="268.3" y1="327.6" x2="264.3" y2="327.6" stroke="#222" stroke-width="1.1"/><line x1="148.3" y1="297.9" x2="152.3" y2="297.9" stroke="#222" stroke-width="1.1"/><line x1="268.3" y1="297.9" x2="264.3" y2="297.9" stroke="#222" stroke-width="1.1"/><line x1="148.3" y1="312.75" x2="150.8" y2="312.75" stroke="#222" stroke-width="1.1"/><line x1="268.3" y1="312.75" x2="265.8" y2="312.75" stroke="#222" stroke-width="1.1"/><polyline points="148.6,283.6 148.6,327.6 153.2,327.6 153.8,325.82 154.4,327.6 166.2,327.6 166.8,315.13 167.4,327.6 190.4,327.6 191,291.96 191.6,327.6 203.4,327.6 204,326.86 204.6,327.6 214.9,327.6 215.5,326.26 216.1,327.6 227.4,327.6 228,326.86 228.6,327.6 239.4,327.6 240,327.01 240.6,327.6 252,327.6 252.6,324.93 253.2,327.6 267.7,327.6" fill="none" stroke="#e4581f" stroke-width="1.5" stroke-linejoin="round"/><text x="142.8" y="302.3" font-size="12.4" fill="#111" text-anchor="end">20</text><text x="142.8" y="331.9" font-size="12.4" fill="#111" text-anchor="end">0</text><text x="148.3" y="349.1" font-size="12.4" fill="#111" text-anchor="middle">0</text><text x="196.15" y="349.1" font-size="12.4" fill="#111" text-anchor="middle">100</text><text x="244" y="349.1" font-size="12.4" fill="#111" text-anchor="middle">200</text><text x="207.8" y="359.6" font-size="13.1" fill="#111" text-anchor="middle">Frequency (GHz)</text><text x="0" y="0" font-size="12.6" fill="#111" transform="translate(125.6 335.5) rotate(-90)">FFT of <tspan font-style="italic">x</tspan><tspan font-size="9" dy="3">c</tspan></text><rect x="68.3" y="280.4" width="202.2" height="243.5" fill="none" stroke="#000" stroke-width="1.6"/><line x1="87.8" y1="523.9" x2="87.8" y2="515.9" stroke="#000" stroke-width="1.5"/><line x1="87.8" y1="280.4" x2="87.8" y2="288.4" stroke="#000" stroke-width="1.5"/><line x1="169.4" y1="523.9" x2="169.4" y2="515.9" stroke="#000" stroke-width="1.5"/><line x1="169.4" y1="280.4" x2="169.4" y2="288.4" stroke="#000" stroke-width="1.5"/><line x1="251" y1="523.9" x2="251" y2="515.9" stroke="#000" stroke-width="1.5"/><line x1="251" y1="280.4" x2="251" y2="288.4" stroke="#000" stroke-width="1.5"/><line x1="128.6" y1="523.9" x2="128.6" y2="519.4" stroke="#000" stroke-width="1.5"/><line x1="128.6" y1="280.4" x2="128.6" y2="284.9" stroke="#000" stroke-width="1.5"/><line x1="210.2" y1="523.9" x2="210.2" y2="519.4" stroke="#000" stroke-width="1.5"/><line x1="210.2" y1="280.4" x2="210.2" y2="284.9" stroke="#000" stroke-width="1.5"/><line x1="68.3" y1="442.8" x2="76.3" y2="442.8" stroke="#000" stroke-width="1.5"/><line x1="270.5" y1="442.8" x2="262.5" y2="442.8" stroke="#000" stroke-width="1.5"/><line x1="68.3" y1="361.7" x2="76.3" y2="361.7" stroke="#000" stroke-width="1.5"/><line x1="270.5" y1="361.7" x2="262.5" y2="361.7" stroke="#000" stroke-width="1.5"/><line x1="68.3" y1="483.35" x2="72.8" y2="483.35" stroke="#000" stroke-width="1.5"/><line x1="270.5" y1="483.35" x2="266" y2="483.35" stroke="#000" stroke-width="1.5"/><line x1="68.3" y1="402.25" x2="72.8" y2="402.25" stroke="#000" stroke-width="1.5"/><line x1="270.5" y1="402.25" x2="266" y2="402.25" stroke="#000" stroke-width="1.5"/><line x1="68.3" y1="321.15" x2="72.8" y2="321.15" stroke="#000" stroke-width="1.5"/><line x1="270.5" y1="321.15" x2="266" y2="321.15" stroke="#000" stroke-width="1.5"/><text x="60" y="530.3" font-size="18" fill="#111" text-anchor="end">80</text><text x="60" y="449.2" font-size="18" fill="#111" text-anchor="end">120</text><text x="60" y="368.1" font-size="18" fill="#111" text-anchor="end">160</text><text x="60" y="287" font-size="18" fill="#111" text-anchor="end">200</text><text x="87.8" y="544.3" font-size="18" fill="#111" text-anchor="middle">100</text><text x="169.4" y="544.3" font-size="18" fill="#111" text-anchor="middle">140</text><text x="251" y="544.3" font-size="18" fill="#111" text-anchor="middle">180</text><text x="3.5" y="286" font-size="20" fill="#000" font-weight="bold">d</text><text x="0" y="0" font-size="20" fill="#111" text-anchor="middle" transform="translate(23.6 409.4) rotate(-90)"><tspan font-style="italic">y</tspan> (nm)</text><text x="169.5" y="565.1" font-size="20" fill="#111" text-anchor="middle"><tspan font-style="italic">x</tspan> (nm)</text><rect x="342" y="362" width="78.7" height="25.3" fill="#d6d6d6"/><line x1="341.4" y1="376.2" x2="666.1" y2="376.2" stroke="#8a8a8a" stroke-width="1" stroke-dasharray="4.5 4.2"/><line x1="341.4" y1="333.6" x2="666.1" y2="333.6" stroke="#8a8a8a" stroke-width="1" stroke-dasharray="4.5 4.2"/><line x1="341.4" y1="291" x2="666.1" y2="291" stroke="#8a8a8a" stroke-width="1" stroke-dasharray="4.5 4.2"/><text x="348.6" y="379.8" font-size="15.2" fill="#e4591f"><tspan font-style="italic">α</tspan> = 0.001</text><clipPath id="ce"><rect x="341.4" y="280.4" width="324.7" height="106.9"/></clipPath><g clip-path="url(#ce)"><polyline points="341.2,350.33 341.7,352.5 342.36,354.5 343.16,356.42 344.07,359.14 345.09,361.34 346.2,363.25 347.44,364.65 348.83,365.02 350.32,365.77 351.86,367.12 353.41,366.95 354.9,367.16 356.32,366.01 357.71,365.82 359.1,365.16 360.52,363.33 362.01,362.23 363.6,359.8 365.35,355.71 367.26,351.67 369.23,347.66 371.18,343.4 373.03,338.39 374.7,334.32 376.14,331.16 377.42,327.67 378.6,324.97 379.74,322.44 380.92,319.84 382.2,316.93 383.58,314.08 385.01,311.01 386.48,308.28 387.96,305.51 389.44,303.3 390.9,303.14 392.37,303.04 393.85,304.28 395.33,305.64 396.8,308.62 398.23,310.71 399.6,311.92 400.91,313.88 402.16,316.05 403.38,317.88 404.57,319.98 405.78,321.38 407,323.73 408.22,325.6 409.4,327.38 410.59,329.84 411.82,332.28 413.11,334.28 414.5,335.81 416.02,337.59 417.67,338.63 419.38,340.32 421.1,342.27 422.79,343.19 424.4,344.17 425.92,345.82 427.39,347.32 428.82,348.54 430.24,349.25 431.66,349.91 433.1,350.01 434.57,349.7 436.05,348.39 437.53,346.8 439,345.1 440.43,342.58 441.8,340.34 443.09,338.43 444.31,335.74 445.5,332.11 446.69,328.55 447.91,325.01 449.2,322.2 450.59,319.52 452.05,315.96 453.55,312.41 455.05,309.66 456.51,306.44 457.9,304.81 459.19,304.06 460.41,303.06 461.6,302.77 462.79,302.8 464.01,303.6 465.3,304.76 466.66,304.78 468.06,306.85 469.49,308.47 470.96,310.42 472.46,312.46 474,315.01 475.61,317.62 477.29,321 479.01,324.51 480.72,327.93 482.4,332.53 484,335.87 485.53,339.12 487.01,343.18 488.46,346.9 489.87,350.4 491.25,353.76 492.6,356.94 493.89,359.8 495.1,362.48 496.27,364.77 497.47,366.36 498.73,367.98 500.1,368.58 501.63,368.68 503.28,367.79 505,365.97 506.72,363.87 508.37,361.72 509.9,359.16 511.28,357.86 512.57,355.7 513.8,353.04 514.99,350.85 516.18,348.68 517.4,347.26 518.62,344.55 519.83,342.17 521.02,340.41 522.24,337.83 523.49,335.26 524.8,333.06 526.17,331.05 527.6,328.2 529.07,325.81 530.55,323.87 532.03,321.46 533.5,319.52 534.98,318.11 536.49,316.22 538.01,315.38 539.49,314.54 540.89,313.88 542.2,313.91 543.39,315.55 544.5,316.72 545.53,318.41 546.51,320.98 547.47,323.27 548.4,324.22 549.27,325.55 550.07,326.8 550.82,328.41 551.6,328.94 552.44,330.74 553.4,332.28 554.49,334.15 555.69,336.2 556.94,339.5 558.24,341.85 559.53,343.89 560.8,345.52 562.05,347.46 563.3,348.47 564.55,349.71 565.8,350.34 567.05,351.43 568.3,351.56 569.54,352.48 570.77,353.78 572.01,354.2 573.24,353.96 574.47,354.59 575.7,353.81 576.95,353.88 578.21,352.87 579.47,351.47 580.71,350 581.93,348.24 583.1,347.38 584.21,344.54 585.29,343.03 586.32,340.66 587.35,337.61 588.37,334.49 589.4,332.47 590.44,329.75 591.47,326.49 592.51,323.22 593.54,320.06 594.57,317.16 595.6,314.41 596.62,312.47 597.62,309.93 598.62,307.54 599.64,305.5 600.7,304.36 601.8,302.6 602.96,301.68 604.17,300.61 605.42,300.52 606.68,300.17 607.95,299.2 609.2,299.6 610.45,300.29 611.7,301.86 612.95,302.85 614.2,303.82 615.45,305.3 616.7,307.47 617.95,309.57 619.22,311.88 620.48,313.68 621.73,316.68 622.94,318.91 624.1,320.98 625.19,323.56 626.21,324.73 627.2,327.12 628.19,328.44 629.21,330.66 630.3,333.81 631.46,335.93 632.67,339.63 633.92,342.8 635.18,346.37 636.45,349.06 637.7,351.84 638.95,354.42 640.2,357.6 641.45,359.78 642.7,362.24 643.95,363.8 645.2,364.04 646.44,364.71 647.67,363.9 648.9,362.99 650.13,361.83 651.36,361.23 652.6,359.69 653.87,358.05 655.16,355.52 656.46,353.55 657.73,351.42 658.95,348.82 660.1,347.07 661.22,344.96 662.34,343.09 663.42,341.64 664.39,340.81 665.2,339.27 665.8,338.73" fill="none" stroke="#3f8fd2" stroke-width="1.8" stroke-linejoin="round"/><polyline points="341.2,317.66 342.43,315.26 344.15,310.83 346.18,306.78 348.35,303.53 350.48,300.13 352.4,298.07 354.12,297.08 355.79,297.62 357.42,298.56 359.04,299.99 360.66,301.34 362.3,303.53 363.99,305.7 365.72,308.71 367.46,311.99 369.16,315.13 370.78,317.94 372.3,320.94 373.68,323.84 374.96,326.78 376.16,329.98 377.32,333.59 378.49,336.52 379.7,339.48 380.95,342.8 382.2,345.24 383.45,347.97 384.7,350.15 385.95,352.16 387.2,354.33 388.44,355.7 389.67,357.43 390.91,359 392.14,359.41 393.37,359.24 394.6,359.79 395.83,358.98 397.06,357.66 398.29,356.17 399.53,354.07 400.76,351.97 402,349.35 403.23,347.57 404.45,344.78 405.67,341.04 406.91,338.7 408.18,335.94 409.5,333.36 410.85,331.53 412.22,329.88 413.62,328.91 415.07,327.2 416.59,326.3 418.2,324.55 419.97,323.71 421.89,322.31 423.88,320.49 425.86,319.37 427.72,318.75 429.4,317.92 430.85,317.32 432.15,316.85 433.34,317 434.47,317.76 435.61,318.04 436.8,320.11 438,321.45 439.17,324.68 440.34,327.1 441.54,331.01 442.82,334.09 444.2,337.1 445.75,340.41 447.44,344.08 449.2,347.63 450.96,350.85 452.65,353.92 454.2,356.91 455.55,359.6 456.77,361.3 457.91,362.45 459.04,364.54 460.25,365.37 461.6,366.01 463.09,365.34 464.67,365.57 466.31,364.15 468.01,363.55 469.75,361.46 471.5,359.13 473.35,356.63 475.32,351.84 477.33,347.72 479.29,343.36 481.11,338.27 482.7,334.31 484.01,331.62 485.09,328.08 486.03,325.5 486.92,322.07 487.85,319.73 488.9,316.87 490.08,314.58 491.31,311.1 492.57,309.15 493.86,305.63 495.14,304.15 496.4,301.82 497.71,301.13 499.1,301.34 500.49,300.74 501.8,301.04 502.93,301.85 503.8,301.69 504.3,301.26 504.47,302.03 504.48,301.05 504.46,300.93 504.58,301.5 505,302.42 505.73,303.63 506.65,304.45 507.71,306.39 508.86,307.97 510.04,310.33 511.2,312.57 512.38,314.51 513.62,316.79 514.9,318.84 516.18,321.11 517.42,323.03 518.6,324.67 519.69,326.06 520.71,327.95 521.69,328.95 522.68,330.06 523.71,331.8 524.8,333.77 525.98,334.77 527.23,337.12 528.51,338.89 529.8,340.96 531.07,342.45 532.3,344.96 533.47,345.96 534.6,348.09 535.72,349.61 536.84,350.65 537.99,352.19 539.2,352.14 540.49,351.71 541.85,350.76 543.24,349.51 544.63,347.77 545.96,346.48 547.2,344.51 548.31,343.07 549.31,340.91 550.26,338.71 551.22,335.57 552.25,333.33 553.4,330.65 554.69,328.32 556.09,325.42 557.54,322.59 559.04,319.61 560.53,316.56 562,314.62 563.44,313.08 564.89,311.2 566.34,310.19 567.8,309.81 569.25,309.06 570.7,309.52 572.16,309.25 573.64,309.68 575.13,310.64 576.59,311.8 578.02,313.06 579.4,314.72 580.76,316.2 582.13,317.81 583.46,320.08 584.73,321.66 585.88,324.37 586.9,326.36 587.69,327.9 588.28,329.25 588.76,330.97 589.23,332.81 589.81,334.29 590.6,337.02 591.62,340.03 592.79,343.06 594.06,346.59 595.39,350.92 596.72,353.86 598,356.92 599.23,359.86 600.45,361.93 601.67,363.76 602.91,366.27 604.18,367.07 605.5,367.62 606.9,368.63 608.36,367.89 609.86,367.53 611.35,367.17 612.81,365.87 614.2,363.92 615.49,362.86 616.71,361.05 617.9,359.12 619.09,356.62 620.31,354.61 621.6,351.57 622.97,349.07 624.4,346.22 625.87,343.68 627.35,339.59 628.83,336.97 630.3,333.09 631.74,329.94 633.17,325.92 634.61,322.09 636.05,318.64 637.51,314.92 639,311.92 640.54,309.72 642.13,307.8 643.74,307.09 645.34,305.85 646.91,305.67 648.4,305.49 649.8,305.66 651.12,307.87 652.4,310.08 653.68,312.44 655,314.75 656.4,317.06 657.99,319.8 659.78,323.18 661.6,325.81 663.31,329.07 664.76,331.57 665.8,333.85" fill="none" stroke="#cf2424" stroke-width="1.8" stroke-linejoin="round"/></g><line x1="373.7" y1="296.8" x2="406.8" y2="296.8" stroke="#3f8fd2" stroke-width="1.8"/><text x="408.8" y="302.2" font-size="15.5" fill="#111">S1</text><line x1="434.9" y1="296.8" x2="468.2" y2="296.8" stroke="#cf2424" stroke-width="1.8"/><text x="470.6" y="302.2" font-size="15.5" fill="#111">S2</text><line x1="553.7" y1="280.4" x2="553.7" y2="387.3" stroke="#55ee99" stroke-width="1.2" stroke-dasharray="3 2"/><line x1="553.7" y1="387.3" x2="325.7" y2="438.6" stroke="#55ee99" stroke-width="1.2" stroke-dasharray="3 2"/><line x1="571.5" y1="280.4" x2="571.5" y2="387.3" stroke="#2a8a2a" stroke-width="1.2" stroke-dasharray="3 2"/><line x1="571.5" y1="387.3" x2="426.2" y2="438.6" stroke="#2a8a2a" stroke-width="1.2" stroke-dasharray="3 2"/><line x1="588.6" y1="280.4" x2="588.6" y2="387.3" stroke="#ee6a2a" stroke-width="1.2" stroke-dasharray="3 2"/><line x1="588.6" y1="387.3" x2="528" y2="438.6" stroke="#ee6a2a" stroke-width="1.2" stroke-dasharray="3 2"/><line x1="606.7" y1="280.4" x2="606.7" y2="387.3" stroke="#4a70e6" stroke-width="1.2" stroke-dasharray="3 2"/><line x1="606.7" y1="387.3" x2="629.5" y2="438.6" stroke="#4a70e6" stroke-width="1.2" stroke-dasharray="3 2"/><rect x="341.4" y="280.4" width="324.7" height="106.9" fill="none" stroke="#000" stroke-width="1.6"/><line x1="406.34" y1="387.3" x2="406.34" y2="382.8" stroke="#000" stroke-width="1.5"/><line x1="406.34" y1="280.4" x2="406.34" y2="284.9" stroke="#000" stroke-width="1.5"/><line x1="471.28" y1="387.3" x2="471.28" y2="382.8" stroke="#000" stroke-width="1.5"/><line x1="471.28" y1="280.4" x2="471.28" y2="284.9" stroke="#000" stroke-width="1.5"/><line x1="536.22" y1="387.3" x2="536.22" y2="382.8" stroke="#000" stroke-width="1.5"/><line x1="536.22" y1="280.4" x2="536.22" y2="284.9" stroke="#000" stroke-width="1.5"/><line x1="601.16" y1="387.3" x2="601.16" y2="382.8" stroke="#000" stroke-width="1.5"/><line x1="601.16" y1="280.4" x2="601.16" y2="284.9" stroke="#000" stroke-width="1.5"/><line x1="341.4" y1="376.2" x2="349.4" y2="376.2" stroke="#000" stroke-width="1.5"/><line x1="666.1" y1="376.2" x2="658.1" y2="376.2" stroke="#000" stroke-width="1.5"/><line x1="341.4" y1="333.6" x2="349.4" y2="333.6" stroke="#000" stroke-width="1.5"/><line x1="666.1" y1="333.6" x2="658.1" y2="333.6" stroke="#000" stroke-width="1.5"/><line x1="341.4" y1="291" x2="349.4" y2="291" stroke="#000" stroke-width="1.5"/><line x1="666.1" y1="291" x2="658.1" y2="291" stroke="#000" stroke-width="1.5"/><line x1="341.4" y1="354.9" x2="345.9" y2="354.9" stroke="#000" stroke-width="1.5"/><line x1="666.1" y1="354.9" x2="661.6" y2="354.9" stroke="#000" stroke-width="1.5"/><line x1="341.4" y1="312.3" x2="345.9" y2="312.3" stroke="#000" stroke-width="1.5"/><line x1="666.1" y1="312.3" x2="661.6" y2="312.3" stroke="#000" stroke-width="1.5"/><text x="335.2" y="382.6" font-size="18" fill="#111" text-anchor="end">100</text><text x="335.2" y="340" font-size="18" fill="#111" text-anchor="end">140</text><text x="335.2" y="297.4" font-size="18" fill="#111" text-anchor="end">180</text><text x="341.2" y="406.3" font-size="18" fill="#111" text-anchor="middle">0.15</text><text x="666.1" y="406.3" font-size="18" fill="#111" text-anchor="middle">0.20</text><text x="415.2" y="402.8" font-size="20" fill="#111"><tspan font-style="italic">t</tspan> (ns)</text><text x="281.5" y="285.5" font-size="20" fill="#000" font-weight="bold">e</text><text x="0" y="0" font-size="20" fill="#111" text-anchor="middle" transform="translate(299 332) rotate(-90)"><tspan font-style="italic">x</tspan><tspan font-size="13" dy="7">c</tspan><tspan dy="-7"> (nm)</tspan></text><text x="282" y="428.4" font-size="20" fill="#000" font-weight="bold">f</text><defs><radialGradient id="gv"><stop offset="0" stop-color="#e6dcff" stop-opacity="0.9"/><stop offset="1" stop-color="#e6dcff" stop-opacity="0"/></radialGradient><radialGradient id="gp"><stop offset="0" stop-color="#fbe4ef" stop-opacity="0.9"/><stop offset="1" stop-color="#fbe4ef" stop-opacity="0"/></radialGradient></defs><circle cx="623" cy="494" r="24" fill="url(#gv)"/><circle cx="525.5" cy="496" r="16" fill="url(#gp)"/></svg><i class="sk" style="left:309.7px;top:84.7px;width:13px;height:13px"></i><i class="sk" style="left:354.3px;top:84.7px;width:13px;height:13px"></i><i class="sk" style="left:402px;top:84.7px;width:13px;height:13px"></i><i class="sk" style="left:446.5px;top:84.7px;width:13px;height:13px"></i><i class="sk" style="left:286.6px;top:442.8px;width:8px;height:8px"></i><i class="sk" style="left:302.5px;top:442.8px;width:8px;height:8px"></i><i class="sk" style="left:319.9px;top:442.8px;width:8px;height:8px"></i><i class="sk" style="left:337.1px;top:442.8px;width:8px;height:8px"></i><i class="sk" style="left:353.4px;top:441.3px;width:8px;height:8px"></i><i class="sk" style="left:369.1px;top:442.8px;width:8px;height:8px"></i><i class="sk" style="left:278.3px;top:459.1px;width:8px;height:8px"></i><i class="sk" style="left:294.5px;top:459.3px;width:8px;height:8px"></i><i class="sk" style="left:310.7px;top:456.2px;width:8px;height:8px"></i><i class="sk" style="left:328.1px;top:456.9px;width:8px;height:8px"></i><i class="sk" style="left:344.6px;top:457.6px;width:8px;height:8px"></i><i class="sk" style="left:360.7px;top:457.6px;width:8px;height:8px"></i><i class="sk" style="left:286.3px;top:475.6px;width:8px;height:8px"></i><i class="sk" style="left:302.7px;top:475.3px;width:8px;height:8px"></i><i class="sk" style="left:317.5px;top:469.6px;width:8px;height:8px"></i><i class="sk" style="left:335.2px;top:473px;width:8px;height:8px"></i><i class="sk" style="left:352.1px;top:474px;width:8px;height:8px"></i><i class="sk" style="left:368.7px;top:474.8px;width:8px;height:8px"></i><i class="sk" style="left:278.7px;top:492px;width:8px;height:8px"></i><i class="sk" style="left:296px;top:492px;width:8px;height:8px"></i><i class="sk" style="left:343.1px;top:491px;width:8px;height:8px"></i><i class="sk" style="left:360.7px;top:491.3px;width:8px;height:8px"></i><i class="sk" style="left:287.9px;top:509px;width:8px;height:8px"></i><i class="sk" style="left:304.9px;top:509px;width:8px;height:8px"></i><i class="sk" style="left:322.3px;top:513px;width:8px;height:8px"></i><i class="sk" style="left:337.1px;top:508px;width:8px;height:8px"></i><i class="sk" style="left:353.9px;top:507.6px;width:8px;height:8px"></i><i class="sk" style="left:370.3px;top:508.4px;width:8px;height:8px"></i><i class="sk" style="left:278.6px;top:525.2px;width:8px;height:8px"></i><i class="sk" style="left:295.3px;top:525.2px;width:8px;height:8px"></i><i class="sk" style="left:312.3px;top:526.4px;width:8px;height:8px"></i><i class="sk" style="left:329.4px;top:526.7px;width:8px;height:8px"></i><i class="sk" style="left:345.6px;top:523.1px;width:8px;height:8px"></i><i class="sk" style="left:361.8px;top:523.8px;width:8px;height:8px"></i><i class="sk" style="left:319px;top:481.7px;width:8px;height:8px"></i><i class="sk" style="left:320.5px;top:501.6px;width:8px;height:8px"></i><i class="sk" style="left:387.2px;top:442.8px;width:8px;height:8px"></i><i class="sk" style="left:403.1px;top:442.8px;width:8px;height:8px"></i><i class="sk" style="left:420.5px;top:442.8px;width:8px;height:8px"></i><i class="sk" style="left:437.7px;top:442.8px;width:8px;height:8px"></i><i class="sk" style="left:454px;top:441.3px;width:8px;height:8px"></i><i class="sk" style="left:469.7px;top:442.8px;width:8px;height:8px"></i><i class="sk" style="left:378.9px;top:459.1px;width:8px;height:8px"></i><i class="sk" style="left:395.1px;top:459.3px;width:8px;height:8px"></i><i class="sk" style="left:411.3px;top:456.2px;width:8px;height:8px"></i><i class="sk" style="left:428.7px;top:456.9px;width:8px;height:8px"></i><i class="sk" style="left:445.2px;top:457.6px;width:8px;height:8px"></i><i class="sk" style="left:461.3px;top:457.6px;width:8px;height:8px"></i><i class="sk" style="left:386.9px;top:475.6px;width:8px;height:8px"></i><i class="sk" style="left:403.3px;top:475.3px;width:8px;height:8px"></i><i class="sk" style="left:418.1px;top:469.6px;width:8px;height:8px"></i><i class="sk" style="left:435.8px;top:473px;width:8px;height:8px"></i><i class="sk" style="left:452.7px;top:474px;width:8px;height:8px"></i><i class="sk" style="left:469.3px;top:474.8px;width:8px;height:8px"></i><i class="sk" style="left:379.3px;top:492px;width:8px;height:8px"></i><i class="sk" style="left:396.6px;top:492px;width:8px;height:8px"></i><i class="sk" style="left:443.7px;top:491px;width:8px;height:8px"></i><i class="sk" style="left:461.3px;top:491.3px;width:8px;height:8px"></i><i class="sk" style="left:388.5px;top:509px;width:8px;height:8px"></i><i class="sk" style="left:405.5px;top:509px;width:8px;height:8px"></i><i class="sk" style="left:422.9px;top:513px;width:8px;height:8px"></i><i class="sk" style="left:437.7px;top:508px;width:8px;height:8px"></i><i class="sk" style="left:454.5px;top:507.6px;width:8px;height:8px"></i><i class="sk" style="left:470.9px;top:508.4px;width:8px;height:8px"></i><i class="sk" style="left:379.2px;top:525.2px;width:8px;height:8px"></i><i class="sk" style="left:395.9px;top:525.2px;width:8px;height:8px"></i><i class="sk" style="left:412.9px;top:526.4px;width:8px;height:8px"></i><i class="sk" style="left:430px;top:526.7px;width:8px;height:8px"></i><i class="sk" style="left:446.2px;top:523.1px;width:8px;height:8px"></i><i class="sk" style="left:462.4px;top:523.8px;width:8px;height:8px"></i><i class="sk" style="left:414.1px;top:488.1px;width:8px;height:8px"></i><i class="sk" style="left:427.6px;top:495.1px;width:8px;height:8px"></i><i class="sk" style="left:487.7px;top:442.8px;width:8px;height:8px"></i><i class="sk" style="left:503.6px;top:442.8px;width:8px;height:8px"></i><i class="sk" style="left:521px;top:442.8px;width:8px;height:8px"></i><i class="sk" style="left:538.2px;top:442.8px;width:8px;height:8px"></i><i class="sk" style="left:554.5px;top:441.3px;width:8px;height:8px"></i><i class="sk" style="left:570.2px;top:442.8px;width:8px;height:8px"></i><i class="sk" style="left:479.4px;top:459.1px;width:8px;height:8px"></i><i class="sk" style="left:495.6px;top:459.3px;width:8px;height:8px"></i><i class="sk" style="left:511.8px;top:456.2px;width:8px;height:8px"></i><i class="sk" style="left:529.2px;top:456.9px;width:8px;height:8px"></i><i class="sk" style="left:545.7px;top:457.6px;width:8px;height:8px"></i><i class="sk" style="left:561.8px;top:457.6px;width:8px;height:8px"></i><i class="sk" style="left:487.4px;top:475.6px;width:8px;height:8px"></i><i class="sk" style="left:503.8px;top:475.3px;width:8px;height:8px"></i><i class="sk" style="left:518.6px;top:469.6px;width:8px;height:8px"></i><i class="sk" style="left:536.3px;top:473px;width:8px;height:8px"></i><i class="sk" style="left:553.2px;top:474px;width:8px;height:8px"></i><i class="sk" style="left:569.8px;top:474.8px;width:8px;height:8px"></i><i class="sk" style="left:479.8px;top:492px;width:8px;height:8px"></i><i class="sk" style="left:497.1px;top:492px;width:8px;height:8px"></i><i class="sk" style="left:544.2px;top:491px;width:8px;height:8px"></i><i class="sk" style="left:561.8px;top:491.3px;width:8px;height:8px"></i><i class="sk" style="left:489px;top:509px;width:8px;height:8px"></i><i class="sk" style="left:506px;top:509px;width:8px;height:8px"></i><i class="sk" style="left:523.4px;top:513px;width:8px;height:8px"></i><i class="sk" style="left:538.2px;top:508px;width:8px;height:8px"></i><i class="sk" style="left:555px;top:507.6px;width:8px;height:8px"></i><i class="sk" style="left:571.4px;top:508.4px;width:8px;height:8px"></i><i class="sk" style="left:479.7px;top:525.2px;width:8px;height:8px"></i><i class="sk" style="left:496.4px;top:525.2px;width:8px;height:8px"></i><i class="sk" style="left:513.4px;top:526.4px;width:8px;height:8px"></i><i class="sk" style="left:530.5px;top:526.7px;width:8px;height:8px"></i><i class="sk" style="left:546.7px;top:523.1px;width:8px;height:8px"></i><i class="sk" style="left:562.9px;top:523.8px;width:8px;height:8px"></i><i class="sk" style="left:521.7px;top:499.5px;width:8px;height:8px"></i><i class="sk" style="left:521.1px;top:483.8px;width:8px;height:8px"></i><i class="sk" style="left:588.2px;top:442.8px;width:8px;height:8px"></i><i class="sk" style="left:604.1px;top:442.8px;width:8px;height:8px"></i><i class="sk" style="left:621.5px;top:442.8px;width:8px;height:8px"></i><i class="sk" style="left:638.7px;top:442.8px;width:8px;height:8px"></i><i class="sk" style="left:655px;top:441.3px;width:8px;height:8px"></i><i class="sk" style="left:670.7px;top:442.8px;width:8px;height:8px"></i><i class="sk" style="left:579.9px;top:459.1px;width:8px;height:8px"></i><i class="sk" style="left:596.1px;top:459.3px;width:8px;height:8px"></i><i class="sk" style="left:612.3px;top:456.2px;width:8px;height:8px"></i><i class="sk" style="left:629.7px;top:456.9px;width:8px;height:8px"></i><i class="sk" style="left:646.2px;top:457.6px;width:8px;height:8px"></i><i class="sk" style="left:662.3px;top:457.6px;width:8px;height:8px"></i><i class="sk" style="left:587.9px;top:475.6px;width:8px;height:8px"></i><i class="sk" style="left:604.3px;top:475.3px;width:8px;height:8px"></i><i class="sk" style="left:619.1px;top:469.6px;width:8px;height:8px"></i><i class="sk" style="left:636.8px;top:473px;width:8px;height:8px"></i><i class="sk" style="left:653.7px;top:474px;width:8px;height:8px"></i><i class="sk" style="left:670.3px;top:474.8px;width:8px;height:8px"></i><i class="sk" style="left:580.3px;top:492px;width:8px;height:8px"></i><i class="sk" style="left:597.6px;top:492px;width:8px;height:8px"></i><i class="sk" style="left:644.7px;top:491px;width:8px;height:8px"></i><i class="sk" style="left:662.3px;top:491.3px;width:8px;height:8px"></i><i class="sk" style="left:589.5px;top:509px;width:8px;height:8px"></i><i class="sk" style="left:606.5px;top:509px;width:8px;height:8px"></i><i class="sk" style="left:623.9px;top:513px;width:8px;height:8px"></i><i class="sk" style="left:638.7px;top:508px;width:8px;height:8px"></i><i class="sk" style="left:655.5px;top:507.6px;width:8px;height:8px"></i><i class="sk" style="left:671.9px;top:508.4px;width:8px;height:8px"></i><i class="sk" style="left:580.2px;top:525.2px;width:8px;height:8px"></i><i class="sk" style="left:596.9px;top:525.2px;width:8px;height:8px"></i><i class="sk" style="left:613.9px;top:526.4px;width:8px;height:8px"></i><i class="sk" style="left:631px;top:526.7px;width:8px;height:8px"></i><i class="sk" style="left:647.2px;top:523.1px;width:8px;height:8px"></i><i class="sk" style="left:663.4px;top:523.8px;width:8px;height:8px"></i><i class="sk" style="left:631.6px;top:493.6px;width:8px;height:8px"></i><i class="sk" style="left:611.5px;top:490.8px;width:8px;height:8px"></i><svg width="685" height="572" viewBox="0 0 685 572"><rect x="277.1" y="438.6" width="100.6" height="99.1" fill="none" stroke="#86ecb8" stroke-width="1.5"/><rect x="377.7" y="438.6" width="100.6" height="99.1" fill="none" stroke="#4f9f4f" stroke-width="1.5"/><rect x="478.2" y="438.6" width="100.6" height="99.1" fill="none" stroke="#e07a4c" stroke-width="1.5"/><rect x="578.7" y="438.6" width="100.6" height="99.1" fill="none" stroke="#6b8fe0" stroke-width="1.5"/><circle cx="323" cy="485.7" r="6.2" fill="none" stroke="#3c7fc4" stroke-width="1.35" stroke-dasharray="2.1 1.3"/><circle cx="324.5" cy="505.6" r="6.2" fill="none" stroke="#c42424" stroke-width="1.35" stroke-dasharray="2.1 1.3"/><circle cx="418.1" cy="492.1" r="6.2" fill="none" stroke="#3c7fc4" stroke-width="1.35" stroke-dasharray="2.1 1.3"/><circle cx="431.6" cy="499.1" r="6.2" fill="none" stroke="#c42424" stroke-width="1.35" stroke-dasharray="2.1 1.3"/><circle cx="525.7" cy="503.5" r="6.2" fill="none" stroke="#3c7fc4" stroke-width="1.35" stroke-dasharray="2.1 1.3"/><circle cx="525.1" cy="487.8" r="6.2" fill="none" stroke="#c42424" stroke-width="1.35" stroke-dasharray="2.1 1.3"/><circle cx="635.6" cy="497.6" r="6.2" fill="none" stroke="#3c7fc4" stroke-width="1.35" stroke-dasharray="2.1 1.3"/><circle cx="615.5" cy="494.8" r="6.2" fill="none" stroke="#c42424" stroke-width="1.35" stroke-dasharray="2.1 1.3"/><text x="303" y="493.6" font-size="11.2" fill="#4a8ccc">S1</text><text x="303" y="509.7" font-size="11.2" fill="#c23030">S2</text><rect x="50.37" y="128.25" width="3.52" height="3.05" fill="#fff"/><rect x="55.66" y="128.25" width="3.34" height="3.05" fill="#fff"/><rect x="160.78" y="239.46" width="3.51" height="3.04" fill="#fff"/><rect x="166.06" y="239.46" width="3.33" height="3.04" fill="#fff"/><rect x="214.28" y="239.46" width="3.51" height="3.04" fill="#fff"/><rect x="219.56" y="239.46" width="3.33" height="3.04" fill="#fff"/><rect x="386.68" y="239.45" width="3.52" height="3.05" fill="#fff"/><rect x="391.96" y="239.45" width="3.34" height="3.05" fill="#fff"/><rect x="411.56" y="253.51" width="2.54" height="2.39" fill="#fff"/><rect x="415.37" y="253.51" width="2.41" height="2.39" fill="#fff"/><rect x="569.99" y="239.45" width="3.52" height="3.05" fill="#fff"/><rect x="575.28" y="239.45" width="3.34" height="3.05" fill="#fff"/><rect x="254.79" y="514.22" width="2.97" height="2.68" fill="#d6d6d6"/><rect x="259.26" y="514.22" width="2.82" height="2.68" fill="#d6d6d6"/><rect x="186.43" y="347.49" width="2.42" height="2.31" fill="#fff"/><rect x="190.07" y="347.49" width="2.30" height="2.31" fill="#fff"/><rect x="30.85" y="446.86" width="3.51" height="3.04" fill="#fff"/><rect x="36.13" y="446.86" width="3.33" height="3.04" fill="#fff"/><rect x="30.85" y="365.76" width="3.51" height="3.04" fill="#fff"/><rect x="36.13" y="365.76" width="3.33" height="3.04" fill="#fff"/><rect x="73.68" y="541.96" width="3.51" height="3.04" fill="#fff"/><rect x="78.96" y="541.96" width="3.33" height="3.04" fill="#fff"/><rect x="155.28" y="541.96" width="3.51" height="3.04" fill="#fff"/><rect x="160.56" y="541.96" width="3.33" height="3.04" fill="#fff"/><rect x="236.88" y="541.96" width="3.51" height="3.04" fill="#fff"/><rect x="242.16" y="541.96" width="3.33" height="3.04" fill="#fff"/><rect x="404.89" y="377.82" width="2.97" height="2.68" fill="#d6d6d6"/><rect x="409.36" y="377.82" width="2.82" height="2.68" fill="#d6d6d6"/><rect x="419.91" y="300.18" width="3.03" height="2.72" fill="#fff"/><rect x="424.46" y="300.18" width="2.88" height="2.72" fill="#fff"/><rect x="306.05" y="380.26" width="3.51" height="3.04" fill="#fff"/><rect x="311.33" y="380.26" width="3.33" height="3.04" fill="#fff"/><rect x="306.05" y="337.66" width="3.51" height="3.04" fill="#fff"/><rect x="311.33" y="337.66" width="3.33" height="3.04" fill="#fff"/><rect x="306.05" y="295.06" width="3.51" height="3.04" fill="#fff"/><rect x="311.33" y="295.06" width="3.33" height="3.04" fill="#fff"/><rect x="339.58" y="403.95" width="3.52" height="3.05" fill="#fff"/><rect x="344.86" y="403.95" width="3.34" height="3.05" fill="#fff"/><rect x="311.01" y="492.14" width="2.19" height="2.16" fill="#fff"/><rect x="314.30" y="492.14" width="2.07" height="2.16" fill="#fff"/></svg></div></body></html>
